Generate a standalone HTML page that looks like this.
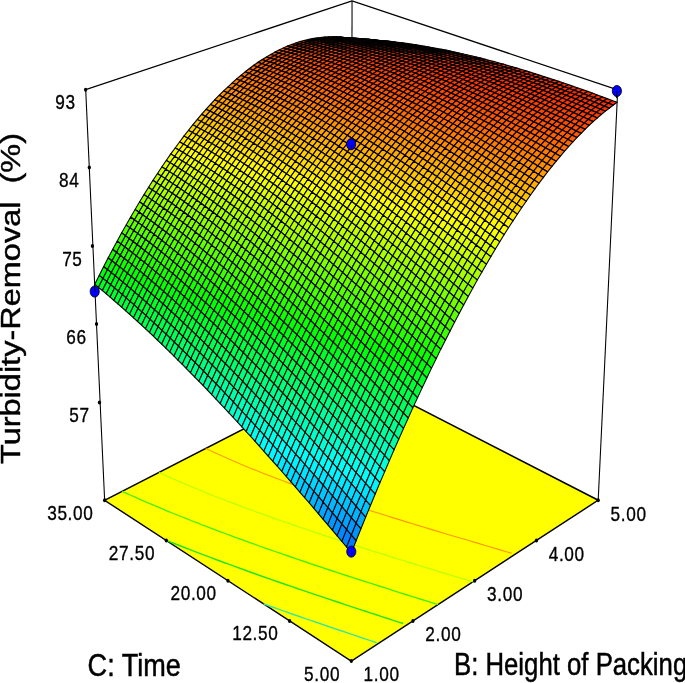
<!DOCTYPE html>
<html><head><meta charset="utf-8"><title>Response surface</title><style>html,body{margin:0;padding:0;background:#fff}svg{display:block}</style></head><body>
<svg width="685" height="683" viewBox="0 0 685 683">
<rect width="685" height="683" fill="#fff"/>
<g transform="scale(0.82 1)">
<polygon points="127.6,500.3 428.4,661.1 729.5,500.2 428.9,373.6" fill="#ffff00" stroke="#000" stroke-width="1.5" stroke-linejoin="miter"/>
<polyline points="321.4,603.9 328.5,606 334.8,607.8 341,609.6 347.2,611.4 353.5,613.2 359.8,615 366.1,616.8 372.5,618.6 378.8,620.4 385.6,622.3 392.7,624.3 399.8,626.2 406.7,628.2 413.2,630 419.8,631.8 426.3,633.6 432.9,635.4 439.5,637.2 446.1,639.1 452.7,640.9 459.4,642.7" fill="none" stroke="#3ce696" stroke-width="1.5"/>
<polyline points="202.1,540.1 208.6,542.3 214.1,544 219.5,545.8 225.9,547.8 232.4,549.9 237.9,551.6 243.5,553.4 249.2,555.1 256.5,557.4 262.4,559.2 268.1,561 273.9,562.7 279.7,564.4 286.2,566.4 293.3,568.5 299.1,570.2 305,572 311,573.7 316.9,575.5 322.9,577.2 329.6,579.1 336.7,581.2 343.1,583 349.2,584.7 355.3,586.4 361.5,588.2 367.6,589.9 373.8,591.6 380.1,593.4 386.3,595.1 393,596.9 400,598.9 406.9,600.8 413.7,602.6 420.1,604.4 426.5,606.1 433,607.9 439.4,609.6 445.9,611.3 452.4,613.1 458.9,614.8 465.5,616.6 472,618.3 478.6,620.1 485.2,621.9 491.9,623.6" fill="none" stroke="#1ee61e" stroke-width="1.5"/>
<polyline points="148.9,491.3 153.7,493.1 160.1,495.5 164.9,497.2 171.4,499.6 176.3,501.4 181.3,503.1 188,505.4 193,507.2 198.8,509.2 204.9,511.3 210.1,513 216,515 222.2,517 227.5,518.7 232.8,520.5 239.9,522.7 245.3,524.5 250.7,526.2 256.3,527.9 263.4,530.1 268.9,531.8 274.5,533.5 280.1,535.2 286.8,537.3 293.2,539.2 298.9,540.9 304.6,542.6 310.3,544.2 316.2,546 323.4,548.1 329.6,549.8 335.5,551.5 341.4,553.2 347.3,554.9 353.2,556.5 359.2,558.2 365.9,560.1 372.9,562 379.3,563.8 385.4,565.5 391.5,567.1 397.6,568.8 403.8,570.5 410,572.1 416.2,573.8 422.4,575.5 428.7,577.1 435,578.8 441.7,580.6 448.5,582.4 455.3,584.2 462.1,586 468.9,587.7 475.3,589.4 481.7,591.1 488.2,592.8 494.7,594.5 501.2,596.1 507.7,597.8 514.3,599.5 520.9,601.2 527.5,602.9 534.1,604.6" fill="none" stroke="#3cf000" stroke-width="1.3"/>
<polyline points="193.8,472.5 200,474.8 204.8,476.5 211.1,478.9 216,480.6 222.5,482.9 227.4,484.6 232.5,486.4 239,488.6 244,490.3 250.5,492.4 255.9,494.2 261.1,495.9 267.5,498 273.3,499.8 278.5,501.5 283.9,503.1 291,505.3 296.4,507 301.8,508.7 307.3,510.3 314.6,512.5 320.1,514.1 325.7,515.8 331.3,517.4 337.1,519.1 344.4,521.2 350.1,522.8 355.8,524.4 361.6,526.1 367.4,527.7 373.2,529.3 380,531.2 386.8,533.1 392.8,534.7 398.7,536.3 404.6,537.9 410.6,539.5 416.6,541.1 422.7,542.7 428.7,544.3 434.9,545.9 441.6,547.7 448.4,549.4 455.1,551.2 461.5,552.8 467.7,554.4 474,556 480.2,557.6 486.5,559.2 492.8,560.8 499.1,562.4 505.5,564.1 511.9,565.7 518.3,567.3 524.7,568.9 531.1,570.5 537.6,572.1 544,573.7 550.5,575.3 557.1,577 563.6,578.6 570.1,580.2 576.7,581.9" fill="none" stroke="#b4ff00" stroke-width="1.1"/>
<polyline points="250.9,448.4 256.9,450.8 261.5,452.5 267.6,454.8 272.2,456.6 278.5,458.8 283.3,460.5 289.7,462.8 294.5,464.5 301.1,466.7 306.1,468.4 312.7,470.6 317.8,472.2 322.9,473.9 329.8,476.1 335,477.7 340.2,479.3 347.2,481.5 352.5,483.1 357.9,484.7 363.3,486.3 370.5,488.4 376,490 381.5,491.6 387,493.1 393.3,494.9 400.1,496.8 405.7,498.4 411.4,499.9 417.1,501.5 422.9,503 428.8,504.6 435.8,506.5 442.2,508.2 448.1,509.7 454,511.2 459.9,512.8 465.8,514.3 471.8,515.8 477.8,517.4 483.8,518.9 489.9,520.4 496.4,522.1 503,523.7 509.6,525.4 516.1,527 522.5,528.6 528.7,530.1 534.9,531.6 541.2,533.2 547.4,534.7 553.7,536.2 560,537.8 566.3,539.3 572.7,540.8 579,542.4 585.4,543.9 591.8,545.5 598.2,547 604.6,548.6 611.1,550.1 617.5,551.7 624,553.2" fill="none" stroke="#ff9600" stroke-width="1.1"/>
<line x1="127.6" y1="500.3" x2="104.5" y2="89.6" stroke="#000" stroke-width="1.3"/>
<line x1="729.5" y1="500.2" x2="753.3" y2="89.9" stroke="#000" stroke-width="1.3"/>
<line x1="428.9" y1="373.6" x2="429.3" y2="0.8" stroke="#000" stroke-width="1.3"/>
<line x1="104.5" y1="89.6" x2="429.3" y2="0.8" stroke="#000" stroke-width="1.3"/>
<line x1="753.3" y1="89.9" x2="429.3" y2="0.8" stroke="#000" stroke-width="1.3"/>
<g stroke="#000" stroke-width="1.25" stroke-linejoin="round">
<path d="M429.3 38.4L434 39L429.3 38.9L424.5 38.2Z" fill="#ff7900"/>
<path d="M434 38.6L438.8 39.2L434 39L429.3 38.4Z" fill="#ff7500"/>
<path d="M424.5 37.8L429.3 38.4L424.5 38.2L419.7 37.6Z" fill="#ff7300"/>
<path d="M438.9 38.8L443.6 39.4L438.8 39.2L434 38.6Z" fill="#ff7200"/>
<path d="M429.3 38.1L434 38.6L429.3 38.4L424.5 37.8Z" fill="#ff6f00"/>
<path d="M419.6 37.5L424.5 37.8L419.7 37.6L414.9 37.2Z" fill="#ff6d00"/>
<path d="M443.7 39.1L448.5 39.6L443.6 39.4L438.9 38.8Z" fill="#ff6e00"/>
<path d="M434.1 38.4L438.9 38.8L434 38.6L429.3 38.1Z" fill="#ff6c00"/>
<path d="M424.4 37.8L429.3 38.1L424.5 37.8L419.6 37.5Z" fill="#ff6a00"/>
<path d="M414.8 37.2L419.6 37.5L414.9 37.2L410 36.9Z" fill="#ff6800"/>
<path d="M448.5 39.4L453.3 39.8L448.5 39.6L443.7 39.1Z" fill="#ff6b00"/>
<path d="M438.9 38.7L443.7 39.1L438.9 38.8L434.1 38.4Z" fill="#ff6900"/>
<path d="M429.3 38.1L434.1 38.4L429.3 38.1L424.4 37.8Z" fill="#ff6700"/>
<path d="M419.6 37.6L424.4 37.8L419.6 37.5L414.8 37.2Z" fill="#ff6500"/>
<path d="M410 37.2L414.8 37.2L410 36.9L405.2 36.8Z" fill="#ff6400"/>
<path d="M453.4 39.7L458.2 40.1L453.3 39.8L448.5 39.4Z" fill="#ff6800"/>
<path d="M443.7 39L448.5 39.4L443.7 39.1L438.9 38.7Z" fill="#ff6500"/>
<path d="M434.1 38.5L438.9 38.7L434.1 38.4L429.3 38.1Z" fill="#ff6400"/>
<path d="M424.4 38L429.3 38.1L424.4 37.8L419.6 37.6Z" fill="#ff6200"/>
<path d="M414.7 37.6L419.6 37.6L414.8 37.2L410 37.2Z" fill="#ff6100"/>
<path d="M405.1 37.3L410 37.2L405.2 36.8L400.3 36.9Z" fill="#ff6000"/>
<path d="M458.3 40.1L463.1 40.5L458.2 40.1L453.4 39.7Z" fill="#ff6400"/>
<path d="M448.6 39.4L453.4 39.7L448.5 39.4L443.7 39Z" fill="#ff6200"/>
<path d="M438.9 38.9L443.7 39L438.9 38.7L434.1 38.5Z" fill="#ff6000"/>
<path d="M429.2 38.4L434.1 38.5L429.3 38.1L424.4 38Z" fill="#ff5f00"/>
<path d="M419.6 38L424.4 38L419.6 37.6L414.7 37.6Z" fill="#ff5e00"/>
<path d="M409.9 37.7L414.7 37.6L410 37.2L405.1 37.3Z" fill="#ff5d00"/>
<path d="M400.2 37.5L405.1 37.3L400.3 36.9L395.4 37.1Z" fill="#ff5c00"/>
<path d="M463.2 40.5L468 40.8L463.1 40.5L458.3 40.1Z" fill="#ff6100"/>
<path d="M453.5 39.9L458.3 40.1L453.4 39.7L448.6 39.4Z" fill="#ff5f00"/>
<path d="M443.8 39.3L448.6 39.4L443.7 39L438.9 38.9Z" fill="#ff5d00"/>
<path d="M434.1 38.9L438.9 38.9L434.1 38.5L429.2 38.4Z" fill="#ff5c00"/>
<path d="M424.4 38.5L429.2 38.4L424.4 38L419.6 38Z" fill="#ff5b00"/>
<path d="M414.7 38.2L419.6 38L414.7 37.6L409.9 37.7Z" fill="#ff5a00"/>
<path d="M405 38L409.9 37.7L405.1 37.3L400.2 37.5Z" fill="#ff5900"/>
<path d="M395.3 38L400.2 37.5L395.4 37.1L390.5 37.5Z" fill="#ff5900"/>
<path d="M468.1 40.9L472.9 41.2L468 40.8L463.2 40.5Z" fill="#ff5e00"/>
<path d="M458.4 40.3L463.2 40.5L458.3 40.1L453.5 39.9Z" fill="#ff5c00"/>
<path d="M448.7 39.8L453.5 39.9L448.6 39.4L443.8 39.3Z" fill="#ff5b00"/>
<path d="M439 39.4L443.8 39.3L438.9 38.9L434.1 38.9Z" fill="#ff5900"/>
<path d="M429.2 39L434.1 38.9L429.2 38.4L424.4 38.5Z" fill="#ff5800"/>
<path d="M419.5 38.7L424.4 38.5L419.6 38L414.7 38.2Z" fill="#ff5700"/>
<path d="M409.8 38.6L414.7 38.2L409.9 37.7L405 38Z" fill="#ff5600"/>
<path d="M400.1 38.5L405 38L400.2 37.5L395.3 38Z" fill="#ff5600"/>
<path d="M390.3 38.5L395.3 38L390.5 37.5L385.5 38Z" fill="#ff5600"/>
<path d="M473.1 41.4L477.9 41.6L472.9 41.2L468.1 40.9Z" fill="#ff5b00"/>
<path d="M463.4 40.8L468.1 40.9L463.2 40.5L458.4 40.3Z" fill="#ff5900"/>
<path d="M453.6 40.3L458.4 40.3L453.5 39.9L448.7 39.8Z" fill="#ff5800"/>
<path d="M443.9 39.9L448.7 39.8L443.8 39.3L439 39.4Z" fill="#ff5600"/>
<path d="M434.1 39.6L439 39.4L434.1 38.9L429.2 39Z" fill="#ff5500"/>
<path d="M424.4 39.3L429.2 39L424.4 38.5L419.5 38.7Z" fill="#ff5400"/>
<path d="M414.6 39.2L419.5 38.7L414.7 38.2L409.8 38.6Z" fill="#ff5400"/>
<path d="M404.9 39.1L409.8 38.6L405 38L400.1 38.5Z" fill="#ff5300"/>
<path d="M395.1 39.1L400.1 38.5L395.3 38L390.3 38.5Z" fill="#ff5300"/>
<path d="M385.4 39.3L390.3 38.5L385.5 38L380.6 38.7Z" fill="#ff5400"/>
<path d="M478.1 41.9L482.8 42.1L477.9 41.6L473.1 41.4Z" fill="#ff5900"/>
<path d="M468.3 41.3L473.1 41.4L468.1 40.9L463.4 40.8Z" fill="#ff5700"/>
<path d="M458.5 40.9L463.4 40.8L458.4 40.3L453.6 40.3Z" fill="#ff5500"/>
<path d="M448.8 40.5L453.6 40.3L448.7 39.8L443.9 39.9Z" fill="#ff5400"/>
<path d="M439 40.1L443.9 39.9L439 39.4L434.1 39.6Z" fill="#ff5300"/>
<path d="M429.2 39.9L434.1 39.6L429.2 39L424.4 39.3Z" fill="#ff5200"/>
<path d="M419.5 39.8L424.4 39.3L419.5 38.7L414.6 39.2Z" fill="#ff5100"/>
<path d="M380.4 40.2L385.4 39.3L380.6 38.7L375.6 39.5Z" fill="#ff5200"/>
<path d="M409.7 39.7L414.6 39.2L409.8 38.6L404.9 39.1Z" fill="#ff5100"/>
<path d="M390.2 39.9L395.1 39.1L390.3 38.5L385.4 39.3Z" fill="#ff5100"/>
<path d="M399.9 39.8L404.9 39.1L400.1 38.5L395.1 39.1Z" fill="#ff5100"/>
<path d="M483.1 42.5L487.8 42.6L482.8 42.1L478.1 41.9Z" fill="#ff5600"/>
<path d="M473.3 41.9L478.1 41.9L473.1 41.4L468.3 41.3Z" fill="#ff5400"/>
<path d="M463.5 41.4L468.3 41.3L463.4 40.8L458.5 40.9Z" fill="#ff5300"/>
<path d="M453.7 41.1L458.5 40.9L453.6 40.3L448.8 40.5Z" fill="#ff5100"/>
<path d="M443.9 40.8L448.8 40.5L443.9 39.9L439 40.1Z" fill="#ff5000"/>
<path d="M434.1 40.5L439 40.1L434.1 39.6L429.2 39.9Z" fill="#ff4f00"/>
<path d="M375.4 41.2L380.4 40.2L375.6 39.5L370.6 40.5Z" fill="#ff5000"/>
<path d="M424.3 40.4L429.2 39.9L424.4 39.3L419.5 39.8Z" fill="#ff4f00"/>
<path d="M385.2 40.9L390.2 39.9L385.4 39.3L380.4 40.2Z" fill="#ff5000"/>
<path d="M414.5 40.4L419.5 39.8L414.6 39.2L409.7 39.7Z" fill="#ff4f00"/>
<path d="M395 40.6L399.9 39.8L395.1 39.1L390.2 39.9Z" fill="#ff4f00"/>
<path d="M404.8 40.5L409.7 39.7L404.9 39.1L399.9 39.8Z" fill="#ff4f00"/>
<path d="M488.1 43.1L492.8 43.1L487.8 42.6L483.1 42.5Z" fill="#ff5300"/>
<path d="M478.3 42.5L483.1 42.5L478.1 41.9L473.3 41.9Z" fill="#ff5200"/>
<path d="M468.5 42.1L473.3 41.9L468.3 41.3L463.5 41.4Z" fill="#ff5000"/>
<path d="M458.7 41.7L463.5 41.4L458.5 40.9L453.7 41.1Z" fill="#ff4f00"/>
<path d="M448.9 41.4L453.7 41.1L448.8 40.5L443.9 40.8Z" fill="#ff4e00"/>
<path d="M370.4 42.5L375.4 41.2L370.6 40.5L365.6 41.7Z" fill="#ff5000"/>
<path d="M439 41.2L443.9 40.8L439 40.1L434.1 40.5Z" fill="#ff4d00"/>
<path d="M380.2 42L385.2 40.9L380.4 40.2L375.4 41.2Z" fill="#ff4e00"/>
<path d="M429.2 41.1L434.1 40.5L429.2 39.9L424.3 40.4Z" fill="#ff4d00"/>
<path d="M390 41.6L395 40.6L390.2 39.9L385.2 40.9Z" fill="#ff4d00"/>
<path d="M419.4 41.1L424.3 40.4L419.5 39.8L414.5 40.4Z" fill="#ff4c00"/>
<path d="M399.8 41.4L404.8 40.5L399.9 39.8L395 40.6Z" fill="#ff4d00"/>
<path d="M409.6 41.2L414.5 40.4L409.7 39.7L404.8 40.5Z" fill="#ff4d00"/>
<path d="M493.1 43.7L497.9 43.7L492.8 43.1L488.1 43.1Z" fill="#ff5100"/>
<path d="M483.3 43.2L488.1 43.1L483.1 42.5L478.3 42.5Z" fill="#ff4f00"/>
<path d="M473.5 42.7L478.3 42.5L473.3 41.9L468.5 42.1Z" fill="#ff4e00"/>
<path d="M365.3 43.8L370.4 42.5L365.6 41.7L360.6 43Z" fill="#ff4f00"/>
<path d="M463.6 42.4L468.5 42.1L463.5 41.4L458.7 41.7Z" fill="#ff4c00"/>
<path d="M453.8 42.1L458.7 41.7L453.7 41.1L448.9 41.4Z" fill="#ff4c00"/>
<path d="M375.2 43.3L380.2 42L375.4 41.2L370.4 42.5Z" fill="#ff4e00"/>
<path d="M444 41.9L448.9 41.4L443.9 40.8L439 41.2Z" fill="#ff4b00"/>
<path d="M385 42.8L390 41.6L385.2 40.9L380.2 42Z" fill="#ff4c00"/>
<path d="M434.1 41.8L439 41.2L434.1 40.5L429.2 41.1Z" fill="#ff4a00"/>
<path d="M394.8 42.4L399.8 41.4L395 40.6L390 41.6Z" fill="#ff4b00"/>
<path d="M424.3 41.8L429.2 41.1L424.3 40.4L419.4 41.1Z" fill="#ff4a00"/>
<path d="M404.7 42.1L409.6 41.2L404.8 40.5L399.8 41.4Z" fill="#ff4b00"/>
<path d="M414.5 41.9L419.4 41.1L414.5 40.4L409.6 41.2Z" fill="#ff4a00"/>
<path d="M498.2 44.3L502.9 44.3L497.9 43.7L493.1 43.7Z" fill="#ff4e00"/>
<path d="M488.3 43.8L493.1 43.7L488.1 43.1L483.3 43.2Z" fill="#ff4d00"/>
<path d="M360.3 45.4L365.3 43.8L360.6 43L355.5 44.5Z" fill="#ff4f00"/>
<path d="M478.5 43.4L483.3 43.2L478.3 42.5L473.5 42.7Z" fill="#ff4b00"/>
<path d="M370.1 44.7L375.2 43.3L370.4 42.5L365.3 43.8Z" fill="#ff4d00"/>
<path d="M468.6 43.1L473.5 42.7L468.5 42.1L463.6 42.4Z" fill="#ff4a00"/>
<path d="M380 44.1L385 42.8L380.2 42L375.2 43.3Z" fill="#ff4c00"/>
<path d="M458.8 42.8L463.6 42.4L458.7 41.7L453.8 42.1Z" fill="#ff4900"/>
<path d="M389.8 43.6L394.8 42.4L390 41.6L385 42.8Z" fill="#ff4b00"/>
<path d="M448.9 42.7L453.8 42.1L448.9 41.4L444 41.9Z" fill="#ff4900"/>
<path d="M399.7 43.2L404.7 42.1L399.8 41.4L394.8 42.4Z" fill="#ff4a00"/>
<path d="M439.1 42.6L444 41.9L439 41.2L434.1 41.8Z" fill="#ff4800"/>
<path d="M409.5 42.9L414.5 41.9L409.6 41.2L404.7 42.1Z" fill="#ff4900"/>
<path d="M429.2 42.6L434.1 41.8L429.2 41.1L424.3 41.8Z" fill="#ff4800"/>
<path d="M419.4 42.7L424.3 41.8L419.4 41.1L414.5 41.9Z" fill="#ff4800"/>
<path d="M503.2 45L508 44.9L502.9 44.3L498.2 44.3Z" fill="#ff4c00"/>
<path d="M355.2 47.1L360.3 45.4L355.5 44.5L350.5 46.2Z" fill="#ff5000"/>
<path d="M493.4 44.5L498.2 44.3L493.1 43.7L488.3 43.8Z" fill="#ff4b00"/>
<path d="M365.1 46.3L370.1 44.7L365.3 43.8L360.3 45.4Z" fill="#ff4e00"/>
<path d="M483.5 44.1L488.3 43.8L483.3 43.2L478.5 43.4Z" fill="#ff4900"/>
<path d="M374.9 45.6L380 44.1L375.2 43.3L370.1 44.7Z" fill="#ff4c00"/>
<path d="M473.6 43.8L478.5 43.4L473.5 42.7L468.6 43.1Z" fill="#ff4800"/>
<path d="M384.8 45L389.8 43.6L385 42.8L380 44.1Z" fill="#ff4a00"/>
<path d="M463.8 43.6L468.6 43.1L463.6 42.4L458.8 42.8Z" fill="#ff4700"/>
<path d="M394.7 44.5L399.7 43.2L394.8 42.4L389.8 43.6Z" fill="#ff4900"/>
<path d="M453.9 43.5L458.8 42.8L453.8 42.1L448.9 42.7Z" fill="#ff4700"/>
<path d="M404.5 44.1L409.5 42.9L404.7 42.1L399.7 43.2Z" fill="#ff4800"/>
<path d="M444 43.4L448.9 42.7L444 41.9L439.1 42.6Z" fill="#ff4600"/>
<path d="M414.4 43.8L419.4 42.7L414.5 41.9L409.5 42.9Z" fill="#ff4700"/>
<path d="M434.2 43.4L439.1 42.6L434.1 41.8L429.2 42.6Z" fill="#ff4600"/>
<path d="M424.3 43.6L429.2 42.6L424.3 41.8L419.4 42.7Z" fill="#ff4700"/>
<path d="M350.1 49L355.2 47.1L350.5 46.2L345.4 48Z" fill="#ff5100"/>
<path d="M360 48.1L365.1 46.3L360.3 45.4L355.2 47.1Z" fill="#ff4e00"/>
<path d="M508.3 45.7L513.1 45.6L508 44.9L503.2 45Z" fill="#ff4a00"/>
<path d="M369.9 47.3L374.9 45.6L370.1 44.7L365.1 46.3Z" fill="#ff4c00"/>
<path d="M498.4 45.3L503.2 45L498.2 44.3L493.4 44.5Z" fill="#ff4800"/>
<path d="M379.8 46.5L384.8 45L380 44.1L374.9 45.6Z" fill="#ff4a00"/>
<path d="M488.6 44.9L493.4 44.5L488.3 43.8L483.5 44.1Z" fill="#ff4700"/>
<path d="M389.7 45.9L394.7 44.5L389.8 43.6L384.8 45Z" fill="#ff4800"/>
<path d="M478.7 44.6L483.5 44.1L478.5 43.4L473.6 43.8Z" fill="#ff4600"/>
<path d="M468.8 44.4L473.6 43.8L468.6 43.1L463.8 43.6Z" fill="#ff4500"/>
<path d="M399.5 45.4L404.5 44.1L399.7 43.2L394.7 44.5Z" fill="#ff4700"/>
<path d="M458.9 44.3L463.8 43.6L458.8 42.8L453.9 43.5Z" fill="#ff4500"/>
<path d="M409.4 45L414.4 43.8L409.5 42.9L404.5 44.1Z" fill="#ff4600"/>
<path d="M449 44.2L453.9 43.5L448.9 42.7L444 43.4Z" fill="#ff4400"/>
<path d="M419.3 44.7L424.3 43.6L419.4 42.7L414.4 43.8Z" fill="#ff4500"/>
<path d="M439.1 44.3L444 43.4L439.1 42.6L434.2 43.4Z" fill="#ff4400"/>
<path d="M429.2 44.4L434.2 43.4L429.2 42.6L424.3 43.6Z" fill="#ff4500"/>
<path d="M345 51L350.1 49L345.4 48L340.3 50Z" fill="#ff5200"/>
<path d="M354.9 50L360 48.1L355.2 47.1L350.1 49Z" fill="#ff4f00"/>
<path d="M364.8 49.1L369.9 47.3L365.1 46.3L360 48.1Z" fill="#ff4d00"/>
<path d="M513.4 46.5L518.2 46.3L513.1 45.6L508.3 45.7Z" fill="#ff4800"/>
<path d="M374.7 48.3L379.8 46.5L374.9 45.6L369.9 47.3Z" fill="#ff4b00"/>
<path d="M503.5 46L508.3 45.7L503.2 45L498.4 45.3Z" fill="#ff4600"/>
<path d="M384.6 47.5L389.7 45.9L384.8 45L379.8 46.5Z" fill="#ff4900"/>
<path d="M493.6 45.7L498.4 45.3L493.4 44.5L488.6 44.9Z" fill="#ff4500"/>
<path d="M394.5 46.9L399.5 45.4L394.7 44.5L389.7 45.9Z" fill="#ff4700"/>
<path d="M483.7 45.4L488.6 44.9L483.5 44.1L478.7 44.6Z" fill="#ff4400"/>
<path d="M404.4 46.4L409.4 45L404.5 44.1L399.5 45.4Z" fill="#ff4600"/>
<path d="M473.8 45.2L478.7 44.6L473.6 43.8L468.8 44.4Z" fill="#ff4300"/>
<path d="M414.4 45.9L419.3 44.7L414.4 43.8L409.4 45Z" fill="#ff4400"/>
<path d="M463.9 45.1L468.8 44.4L463.8 43.6L458.9 44.3Z" fill="#ff4300"/>
<path d="M424.3 45.6L429.2 44.4L424.3 43.6L419.3 44.7Z" fill="#ff4400"/>
<path d="M454 45.1L458.9 44.3L453.9 43.5L449 44.2Z" fill="#ff4300"/>
<path d="M434.2 45.3L439.1 44.3L434.2 43.4L429.2 44.4Z" fill="#ff4300"/>
<path d="M444.1 45.2L449 44.2L444 43.4L439.1 44.3Z" fill="#ff4300"/>
<path d="M339.9 53.2L345 51L340.3 50L335.1 52.2Z" fill="#ff5400"/>
<path d="M349.8 52.1L354.9 50L350.1 49L345 51Z" fill="#ff5100"/>
<path d="M359.7 51.1L364.8 49.1L360 48.1L354.9 50Z" fill="#ff4e00"/>
<path d="M369.7 50.1L374.7 48.3L369.9 47.3L364.8 49.1Z" fill="#ff4b00"/>
<path d="M518.6 47.3L523.3 47L518.2 46.3L513.4 46.5Z" fill="#ff4600"/>
<path d="M379.6 49.3L384.6 47.5L379.8 46.5L374.7 48.3Z" fill="#ff4900"/>
<path d="M508.7 46.9L513.4 46.5L508.3 45.7L503.5 46Z" fill="#ff4400"/>
<path d="M389.5 48.5L394.5 46.9L389.7 45.9L384.6 47.5Z" fill="#ff4700"/>
<path d="M498.7 46.5L503.5 46L498.4 45.3L493.6 45.7Z" fill="#ff4300"/>
<path d="M399.4 47.9L404.4 46.4L399.5 45.4L394.5 46.9Z" fill="#ff4600"/>
<path d="M488.8 46.3L493.6 45.7L488.6 44.9L483.7 45.4Z" fill="#ff4200"/>
<path d="M409.4 47.4L414.4 45.9L409.4 45L404.4 46.4Z" fill="#ff4400"/>
<path d="M478.9 46.1L483.7 45.4L478.7 44.6L473.8 45.2Z" fill="#ff4200"/>
<path d="M419.3 46.9L424.3 45.6L419.3 44.7L414.4 45.9Z" fill="#ff4300"/>
<path d="M468.9 46L473.8 45.2L468.8 44.4L463.9 45.1Z" fill="#ff4100"/>
<path d="M429.2 46.5L434.2 45.3L429.2 44.4L424.3 45.6Z" fill="#ff4200"/>
<path d="M459 46L463.9 45.1L458.9 44.3L454 45.1Z" fill="#ff4100"/>
<path d="M439.1 46.3L444.1 45.2L439.1 44.3L434.2 45.3Z" fill="#ff4100"/>
<path d="M449.1 46.1L454 45.1L449 44.2L444.1 45.2Z" fill="#ff4100"/>
<path d="M334.8 55.6L339.9 53.2L335.1 52.2L330 54.5Z" fill="#ff5600"/>
<path d="M344.7 54.4L349.8 52.1L345 51L339.9 53.2Z" fill="#ff5300"/>
<path d="M354.6 53.2L359.7 51.1L354.9 50L349.8 52.1Z" fill="#ff5000"/>
<path d="M364.6 52.2L369.7 50.1L364.8 49.1L359.7 51.1Z" fill="#ff4d00"/>
<path d="M374.5 51.2L379.6 49.3L374.7 48.3L369.7 50.1Z" fill="#ff4a00"/>
<path d="M384.4 50.4L389.5 48.5L384.6 47.5L379.6 49.3Z" fill="#ff4800"/>
<path d="M523.7 48.1L528.5 47.8L523.3 47L518.6 47.3Z" fill="#ff4400"/>
<path d="M394.4 49.6L399.4 47.9L394.5 46.9L389.5 48.5Z" fill="#ff4600"/>
<path d="M513.8 47.7L518.6 47.3L513.4 46.5L508.7 46.9Z" fill="#ff4200"/>
<path d="M404.3 48.9L409.4 47.4L404.4 46.4L399.4 47.9Z" fill="#ff4400"/>
<path d="M503.8 47.4L508.7 46.9L503.5 46L498.7 46.5Z" fill="#ff4100"/>
<path d="M414.3 48.4L419.3 46.9L414.4 45.9L409.4 47.4Z" fill="#ff4300"/>
<path d="M493.9 47.1L498.7 46.5L493.6 45.7L488.8 46.3Z" fill="#ff4000"/>
<path d="M424.2 47.9L429.2 46.5L424.3 45.6L419.3 46.9Z" fill="#ff4200"/>
<path d="M483.9 47L488.8 46.3L483.7 45.4L478.9 46.1Z" fill="#ff4000"/>
<path d="M434.2 47.5L439.1 46.3L434.2 45.3L429.2 46.5Z" fill="#ff4100"/>
<path d="M474 46.9L478.9 46.1L473.8 45.2L468.9 46Z" fill="#ff4000"/>
<path d="M444.1 47.3L449.1 46.1L444.1 45.2L439.1 46.3Z" fill="#ff4000"/>
<path d="M464 47L468.9 46L463.9 45.1L459 46Z" fill="#ff3f00"/>
<path d="M454.1 47.1L459 46L454 45.1L449.1 46.1Z" fill="#ff4000"/>
<path d="M329.6 58.1L334.8 55.6L330 54.5L324.9 57Z" fill="#ff5900"/>
<path d="M339.6 56.8L344.7 54.4L339.9 53.2L334.8 55.6Z" fill="#ff5500"/>
<path d="M349.5 55.5L354.6 53.2L349.8 52.1L344.7 54.4Z" fill="#ff5200"/>
<path d="M359.5 54.3L364.6 52.2L359.7 51.1L354.6 53.2Z" fill="#ff4f00"/>
<path d="M369.4 53.3L374.5 51.2L369.7 50.1L364.6 52.2Z" fill="#ff4c00"/>
<path d="M379.4 52.3L384.4 50.4L379.6 49.3L374.5 51.2Z" fill="#ff4900"/>
<path d="M389.3 51.5L394.4 49.6L389.5 48.5L384.4 50.4Z" fill="#ff4700"/>
<path d="M528.9 48.9L533.7 48.6L528.5 47.8L523.7 48.1Z" fill="#ff4200"/>
<path d="M399.3 50.7L404.3 48.9L399.4 47.9L394.4 49.6Z" fill="#ff4500"/>
<path d="M518.9 48.6L523.7 48.1L518.6 47.3L513.8 47.7Z" fill="#ff4100"/>
<path d="M409.3 50L414.3 48.4L409.4 47.4L404.3 48.9Z" fill="#ff4300"/>
<path d="M509 48.3L513.8 47.7L508.7 46.9L503.8 47.4Z" fill="#ff4000"/>
<path d="M419.2 49.4L424.2 47.9L419.3 46.9L414.3 48.4Z" fill="#ff4100"/>
<path d="M499 48.1L503.8 47.4L498.7 46.5L493.9 47.1Z" fill="#ff3f00"/>
<path d="M429.2 49L434.2 47.5L429.2 46.5L424.2 47.9Z" fill="#ff4000"/>
<path d="M489 47.9L493.9 47.1L488.8 46.3L483.9 47Z" fill="#ff3e00"/>
<path d="M439.2 48.6L444.1 47.3L439.1 46.3L434.2 47.5Z" fill="#ff3f00"/>
<path d="M479.1 47.9L483.9 47L478.9 46.1L474 46.9Z" fill="#ff3e00"/>
<path d="M449.2 48.3L454.1 47.1L449.1 46.1L444.1 47.3Z" fill="#ff3f00"/>
<path d="M469.1 47.9L474 46.9L468.9 46L464 47Z" fill="#ff3e00"/>
<path d="M459.1 48.1L464 47L459 46L454.1 47.1Z" fill="#ff3e00"/>
<path d="M324.5 60.9L329.6 58.1L324.9 57L319.7 59.6Z" fill="#ff5c00"/>
<path d="M334.4 59.4L339.6 56.8L334.8 55.6L329.6 58.1Z" fill="#ff5800"/>
<path d="M344.4 58L349.5 55.5L344.7 54.4L339.6 56.8Z" fill="#ff5400"/>
<path d="M354.3 56.7L359.5 54.3L354.6 53.2L349.5 55.5Z" fill="#ff5100"/>
<path d="M364.3 55.5L369.4 53.3L364.6 52.2L359.5 54.3Z" fill="#ff4e00"/>
<path d="M374.3 54.5L379.4 52.3L374.5 51.2L369.4 53.3Z" fill="#ff4b00"/>
<path d="M384.3 53.5L389.3 51.5L384.4 50.4L379.4 52.3Z" fill="#ff4800"/>
<path d="M394.2 52.6L399.3 50.7L394.4 49.6L389.3 51.5Z" fill="#ff4600"/>
<path d="M404.2 51.8L409.3 50L404.3 48.9L399.3 50.7Z" fill="#ff4400"/>
<path d="M534.1 49.8L538.9 49.4L533.7 48.6L528.9 48.9Z" fill="#ff4000"/>
<path d="M414.2 51.1L419.2 49.4L414.3 48.4L409.3 50Z" fill="#ff4200"/>
<path d="M524.1 49.5L528.9 48.9L523.7 48.1L518.9 48.6Z" fill="#ff3f00"/>
<path d="M424.2 50.6L429.2 49L424.2 47.9L419.2 49.4Z" fill="#ff4000"/>
<path d="M514.1 49.2L518.9 48.6L513.8 47.7L509 48.3Z" fill="#ff3e00"/>
<path d="M504.1 49L509 48.3L503.8 47.4L499 48.1Z" fill="#ff3d00"/>
<path d="M434.2 50.1L439.2 48.6L434.2 47.5L429.2 49Z" fill="#ff3f00"/>
<path d="M494.2 48.9L499 48.1L493.9 47.1L489 47.9Z" fill="#ff3d00"/>
<path d="M444.2 49.6L449.2 48.3L444.1 47.3L439.2 48.6Z" fill="#ff3e00"/>
<path d="M484.2 48.9L489 47.9L483.9 47L479.1 47.9Z" fill="#ff3c00"/>
<path d="M454.2 49.3L459.1 48.1L454.1 47.1L449.2 48.3Z" fill="#ff3d00"/>
<path d="M474.2 48.9L479.1 47.9L474 46.9L469.1 47.9Z" fill="#ff3c00"/>
<path d="M464.2 49.1L469.1 47.9L464 47L459.1 48.1Z" fill="#ff3d00"/>
<path d="M319.3 63.7L324.5 60.9L319.7 59.6L314.5 62.4Z" fill="#ff6000"/>
<path d="M329.2 62.1L334.4 59.4L329.6 58.1L324.5 60.9Z" fill="#ff5c00"/>
<path d="M339.2 60.6L344.4 58L339.6 56.8L334.4 59.4Z" fill="#ff5800"/>
<path d="M349.2 59.2L354.3 56.7L349.5 55.5L344.4 58Z" fill="#ff5400"/>
<path d="M359.2 58L364.3 55.5L359.5 54.3L354.3 56.7Z" fill="#ff5000"/>
<path d="M369.2 56.8L374.3 54.5L369.4 53.3L364.3 55.5Z" fill="#ff4d00"/>
<path d="M379.2 55.7L384.3 53.5L379.4 52.3L374.3 54.5Z" fill="#ff4a00"/>
<path d="M389.2 54.7L394.2 52.6L389.3 51.5L384.3 53.5Z" fill="#ff4700"/>
<path d="M399.2 53.8L404.2 51.8L399.3 50.7L394.2 52.6Z" fill="#ff4500"/>
<path d="M409.2 53L414.2 51.1L409.3 50L404.2 51.8Z" fill="#ff4300"/>
<path d="M539.3 50.7L544.1 50.2L538.9 49.4L534.1 49.8Z" fill="#ff3e00"/>
<path d="M314.1 66.8L319.3 63.7L314.5 62.4L309.3 65.4Z" fill="#ff6400"/>
<path d="M419.2 52.3L424.2 50.6L419.2 49.4L414.2 51.1Z" fill="#ff4100"/>
<path d="M529.3 50.4L534.1 49.8L528.9 48.9L524.1 49.5Z" fill="#ff3d00"/>
<path d="M429.2 51.7L434.2 50.1L429.2 49L424.2 50.6Z" fill="#ff3f00"/>
<path d="M519.3 50.2L524.1 49.5L518.9 48.6L514.1 49.2Z" fill="#ff3c00"/>
<path d="M439.2 51.2L444.2 49.6L439.2 48.6L434.2 50.1Z" fill="#ff3e00"/>
<path d="M509.3 50L514.1 49.2L509 48.3L504.1 49Z" fill="#ff3c00"/>
<path d="M449.2 50.7L454.2 49.3L449.2 48.3L444.2 49.6Z" fill="#ff3d00"/>
<path d="M499.3 49.9L504.1 49L499 48.1L494.2 48.9Z" fill="#ff3b00"/>
<path d="M459.2 50.4L464.2 49.1L459.1 48.1L454.2 49.3Z" fill="#ff3c00"/>
<path d="M489.3 49.9L494.2 48.9L489 47.9L484.2 48.9Z" fill="#ff3b00"/>
<path d="M469.3 50.2L474.2 48.9L469.1 47.9L464.2 49.1Z" fill="#ff3b00"/>
<path d="M479.3 50L484.2 48.9L479.1 47.9L474.2 48.9Z" fill="#ff3b00"/>
<path d="M324.1 65L329.2 62.1L324.5 60.9L319.3 63.7Z" fill="#ff6000"/>
<path d="M334.1 63.4L339.2 60.6L334.4 59.4L329.2 62.1Z" fill="#ff5b00"/>
<path d="M344 61.9L349.2 59.2L344.4 58L339.2 60.6Z" fill="#ff5700"/>
<path d="M354 60.5L359.2 58L354.3 56.7L349.2 59.2Z" fill="#ff5300"/>
<path d="M364.1 59.2L369.2 56.8L364.3 55.5L359.2 58Z" fill="#ff4f00"/>
<path d="M374.1 58L379.2 55.7L374.3 54.5L369.2 56.8Z" fill="#ff4c00"/>
<path d="M384.1 56.9L389.2 54.7L384.3 53.5L379.2 55.7Z" fill="#ff4900"/>
<path d="M394.1 55.9L399.2 53.8L394.2 52.6L389.2 54.7Z" fill="#ff4600"/>
<path d="M308.9 70L314.1 66.8L309.3 65.4L304.1 68.6Z" fill="#ff6900"/>
<path d="M404.1 55L409.2 53L404.2 51.8L399.2 53.8Z" fill="#ff4400"/>
<path d="M414.2 54.2L419.2 52.3L414.2 51.1L409.2 53Z" fill="#ff4200"/>
<path d="M318.9 68.1L324.1 65L319.3 63.7L314.1 66.8Z" fill="#ff6400"/>
<path d="M424.2 53.5L429.2 51.7L424.2 50.6L419.2 52.3Z" fill="#ff4000"/>
<path d="M544.6 51.7L549.3 51.1L544.1 50.2L539.3 50.7Z" fill="#ff3d00"/>
<path d="M534.5 51.4L539.3 50.7L534.1 49.8L529.3 50.4Z" fill="#ff3c00"/>
<path d="M434.2 52.9L439.2 51.2L434.2 50.1L429.2 51.7Z" fill="#ff3e00"/>
<path d="M524.5 51.2L529.3 50.4L524.1 49.5L519.3 50.2Z" fill="#ff3b00"/>
<path d="M444.2 52.3L449.2 50.7L444.2 49.6L439.2 51.2Z" fill="#ff3d00"/>
<path d="M514.5 51L519.3 50.2L514.1 49.2L509.3 50Z" fill="#ff3a00"/>
<path d="M454.3 51.9L459.2 50.4L454.2 49.3L449.2 50.7Z" fill="#ff3c00"/>
<path d="M328.9 66.4L334.1 63.4L329.2 62.1L324.1 65Z" fill="#ff5f00"/>
<path d="M504.5 51L509.3 50L504.1 49L499.3 49.9Z" fill="#ff3a00"/>
<path d="M464.3 51.5L469.3 50.2L464.2 49.1L459.2 50.4Z" fill="#ff3b00"/>
<path d="M494.4 51L499.3 49.9L494.2 48.9L489.3 49.9Z" fill="#ff3a00"/>
<path d="M474.3 51.3L479.3 50L474.2 48.9L469.3 50.2Z" fill="#ff3a00"/>
<path d="M484.4 51.1L489.3 49.9L484.2 48.9L479.3 50Z" fill="#ff3a00"/>
<path d="M338.9 64.8L344 61.9L339.2 60.6L334.1 63.4Z" fill="#ff5b00"/>
<path d="M348.9 63.3L354 60.5L349.2 59.2L344 61.9Z" fill="#ff5600"/>
<path d="M358.9 61.9L364.1 59.2L359.2 58L354 60.5Z" fill="#ff5200"/>
<path d="M368.9 60.6L374.1 58L369.2 56.8L364.1 59.2Z" fill="#ff4f00"/>
<path d="M303.6 73.3L308.9 70L304.1 68.6L298.9 71.9Z" fill="#ff6e00"/>
<path d="M379 59.3L384.1 56.9L379.2 55.7L374.1 58Z" fill="#ff4b00"/>
<path d="M389 58.2L394.1 55.9L389.2 54.7L384.1 56.9Z" fill="#ff4800"/>
<path d="M313.7 71.4L318.9 68.1L314.1 66.8L308.9 70Z" fill="#ff6900"/>
<path d="M399.1 57.2L404.1 55L399.2 53.8L394.1 55.9Z" fill="#ff4600"/>
<path d="M409.1 56.3L414.2 54.2L409.2 53L404.1 55Z" fill="#ff4300"/>
<path d="M419.1 55.5L424.2 53.5L419.2 52.3L414.2 54.2Z" fill="#ff4100"/>
<path d="M323.7 69.6L328.9 66.4L324.1 65L318.9 68.1Z" fill="#ff6300"/>
<path d="M429.2 54.7L434.2 52.9L429.2 51.7L424.2 53.5Z" fill="#ff3f00"/>
<path d="M549.8 52.7L554.6 52.1L549.3 51.1L544.6 51.7Z" fill="#ff3b00"/>
<path d="M439.2 54.1L444.2 52.3L439.2 51.2L434.2 52.9Z" fill="#ff3d00"/>
<path d="M539.8 52.4L544.6 51.7L539.3 50.7L534.5 51.4Z" fill="#ff3a00"/>
<path d="M449.3 53.5L454.3 51.9L449.2 50.7L444.2 52.3Z" fill="#ff3c00"/>
<path d="M529.7 52.2L534.5 51.4L529.3 50.4L524.5 51.2Z" fill="#ff3900"/>
<path d="M333.7 67.8L338.9 64.8L334.1 63.4L328.9 66.4Z" fill="#ff5f00"/>
<path d="M459.4 53.1L464.3 51.5L459.2 50.4L454.3 51.9Z" fill="#ff3b00"/>
<path d="M519.7 52.1L524.5 51.2L519.3 50.2L514.5 51Z" fill="#ff3900"/>
<path d="M469.4 52.7L474.3 51.3L469.3 50.2L464.3 51.5Z" fill="#ff3a00"/>
<path d="M509.6 52L514.5 51L509.3 50L504.5 51Z" fill="#ff3900"/>
<path d="M479.5 52.4L484.4 51.1L479.3 50L474.3 51.3Z" fill="#ff3900"/>
<path d="M499.6 52.1L504.5 51L499.3 49.9L494.4 51Z" fill="#ff3900"/>
<path d="M489.5 52.2L494.4 51L489.3 49.9L484.4 51.1Z" fill="#ff3900"/>
<path d="M343.7 66.2L348.9 63.3L344 61.9L338.9 64.8Z" fill="#ff5a00"/>
<path d="M353.8 64.7L358.9 61.9L354 60.5L348.9 63.3Z" fill="#ff5600"/>
<path d="M363.8 63.2L368.9 60.6L364.1 59.2L358.9 61.9Z" fill="#ff5200"/>
<path d="M298.4 76.9L303.6 73.3L298.9 71.9L293.6 75.4Z" fill="#ff7400"/>
<path d="M373.8 61.9L379 59.3L374.1 58L368.9 60.6Z" fill="#ff4e00"/>
<path d="M308.4 74.8L313.7 71.4L308.9 70L303.6 73.3Z" fill="#ff6e00"/>
<path d="M383.9 60.7L389 58.2L384.1 56.9L379 59.3Z" fill="#ff4b00"/>
<path d="M394 59.6L399.1 57.2L394.1 55.9L389 58.2Z" fill="#ff4800"/>
<path d="M318.4 72.9L323.7 69.6L318.9 68.1L313.7 71.4Z" fill="#ff6800"/>
<path d="M404 58.5L409.1 56.3L404.1 55L399.1 57.2Z" fill="#ff4500"/>
<path d="M414.1 57.6L419.1 55.5L414.2 54.2L409.1 56.3Z" fill="#ff4300"/>
<path d="M424.2 56.8L429.2 54.7L424.2 53.5L419.1 55.5Z" fill="#ff4000"/>
<path d="M328.5 71L333.7 67.8L328.9 66.4L323.7 69.6Z" fill="#ff6300"/>
<path d="M434.2 56L439.2 54.1L434.2 52.9L429.2 54.7Z" fill="#ff3e00"/>
<path d="M444.3 55.3L449.3 53.5L444.2 52.3L439.2 54.1Z" fill="#ff3d00"/>
<path d="M555.1 53.7L559.9 53L554.6 52.1L549.8 52.7Z" fill="#ff3a00"/>
<path d="M545 53.4L549.8 52.7L544.6 51.7L539.8 52.4Z" fill="#ff3900"/>
<path d="M454.4 54.8L459.4 53.1L454.3 51.9L449.3 53.5Z" fill="#ff3b00"/>
<path d="M338.5 69.3L343.7 66.2L338.9 64.8L333.7 67.8Z" fill="#ff5e00"/>
<path d="M535 53.3L539.8 52.4L534.5 51.4L529.7 52.2Z" fill="#ff3800"/>
<path d="M464.4 54.3L469.4 52.7L464.3 51.5L459.4 53.1Z" fill="#ff3a00"/>
<path d="M524.9 53.2L529.7 52.2L524.5 51.2L519.7 52.1Z" fill="#ff3800"/>
<path d="M474.5 53.9L479.5 52.4L474.3 51.3L469.4 52.7Z" fill="#ff3900"/>
<path d="M514.8 53.1L519.7 52.1L514.5 51L509.6 52Z" fill="#ff3700"/>
<path d="M484.6 53.6L489.5 52.2L484.4 51.1L479.5 52.4Z" fill="#ff3800"/>
<path d="M504.8 53.2L509.6 52L504.5 51L499.6 52.1Z" fill="#ff3700"/>
<path d="M494.7 53.4L499.6 52.1L494.4 51L489.5 52.2Z" fill="#ff3800"/>
<path d="M348.6 67.6L353.8 64.7L348.9 63.3L343.7 66.2Z" fill="#ff5a00"/>
<path d="M293.1 80.6L298.4 76.9L293.6 75.4L288.4 79Z" fill="#ff7900"/>
<path d="M358.6 66.1L363.8 63.2L358.9 61.9L353.8 64.7Z" fill="#ff5600"/>
<path d="M368.7 64.7L373.8 61.9L368.9 60.6L363.8 63.2Z" fill="#ff5200"/>
<path d="M303.2 78.4L308.4 74.8L303.6 73.3L298.4 76.9Z" fill="#ff7300"/>
<path d="M378.8 63.3L383.9 60.7L379 59.3L373.8 61.9Z" fill="#ff4e00"/>
<path d="M313.2 76.3L318.4 72.9L313.7 71.4L308.4 74.8Z" fill="#ff6e00"/>
<path d="M388.8 62.1L394 59.6L389 58.2L383.9 60.7Z" fill="#ff4a00"/>
<path d="M398.9 60.9L404 58.5L399.1 57.2L394 59.6Z" fill="#ff4700"/>
<path d="M323.3 74.4L328.5 71L323.7 69.6L318.4 72.9Z" fill="#ff6800"/>
<path d="M409 59.9L414.1 57.6L409.1 56.3L404 58.5Z" fill="#ff4500"/>
<path d="M419.1 58.9L424.2 56.8L419.1 55.5L414.1 57.6Z" fill="#ff4200"/>
<path d="M333.3 72.5L338.5 69.3L333.7 67.8L328.5 71Z" fill="#ff6300"/>
<path d="M429.2 58.1L434.2 56L429.2 54.7L424.2 56.8Z" fill="#ff4000"/>
<path d="M439.3 57.3L444.3 55.3L439.2 54.1L434.2 56Z" fill="#ff3e00"/>
<path d="M449.4 56.6L454.4 54.8L449.3 53.5L444.3 55.3Z" fill="#ff3c00"/>
<path d="M560.4 54.7L565.2 54L559.9 53L555.1 53.7Z" fill="#ff3800"/>
<path d="M343.4 70.8L348.6 67.6L343.7 66.2L338.5 69.3Z" fill="#ff5e00"/>
<path d="M287.9 84.5L293.1 80.6L288.4 79L283.1 82.9Z" fill="#ff8000"/>
<path d="M459.5 56L464.4 54.3L459.4 53.1L454.4 54.8Z" fill="#ff3a00"/>
<path d="M550.3 54.5L555.1 53.7L549.8 52.7L545 53.4Z" fill="#ff3700"/>
<path d="M469.6 55.5L474.5 53.9L469.4 52.7L464.4 54.3Z" fill="#ff3900"/>
<path d="M540.2 54.3L545 53.4L539.8 52.4L535 53.3Z" fill="#ff3700"/>
<path d="M479.7 55.1L484.6 53.6L479.5 52.4L474.5 53.9Z" fill="#ff3800"/>
<path d="M530.1 54.3L535 53.3L529.7 52.2L524.9 53.2Z" fill="#ff3600"/>
<path d="M489.8 54.8L494.7 53.4L489.5 52.2L484.6 53.6Z" fill="#ff3700"/>
<path d="M520 54.3L524.9 53.2L519.7 52.1L514.8 53.1Z" fill="#ff3600"/>
<path d="M499.9 54.5L504.8 53.2L499.6 52.1L494.7 53.4Z" fill="#ff3700"/>
<path d="M510 54.4L514.8 53.1L509.6 52L504.8 53.2Z" fill="#ff3600"/>
<path d="M353.5 69.1L358.6 66.1L353.8 64.7L348.6 67.6Z" fill="#ff5a00"/>
<path d="M297.9 82.2L303.2 78.4L298.4 76.9L293.1 80.6Z" fill="#ff7900"/>
<path d="M363.5 67.6L368.7 64.7L363.8 63.2L358.6 66.1Z" fill="#ff5500"/>
<path d="M373.6 66.1L378.8 63.3L373.8 61.9L368.7 64.7Z" fill="#ff5100"/>
<path d="M308 80L313.2 76.3L308.4 74.8L303.2 78.4Z" fill="#ff7300"/>
<path d="M383.7 64.8L388.8 62.1L383.9 60.7L378.8 63.3Z" fill="#ff4e00"/>
<path d="M318 77.9L323.3 74.4L318.4 72.9L313.2 76.3Z" fill="#ff6e00"/>
<path d="M393.8 63.5L398.9 60.9L394 59.6L388.8 62.1Z" fill="#ff4a00"/>
<path d="M403.9 62.4L409 59.9L404 58.5L398.9 60.9Z" fill="#ff4700"/>
<path d="M328.1 75.9L333.3 72.5L328.5 71L323.3 74.4Z" fill="#ff6800"/>
<path d="M414 61.3L419.1 58.9L414.1 57.6L409 59.9Z" fill="#ff4400"/>
<path d="M282.6 88.5L287.9 84.5L283.1 82.9L277.9 86.9Z" fill="#ff8700"/>
<path d="M424.1 60.3L429.2 58.1L424.2 56.8L419.1 58.9Z" fill="#ff4200"/>
<path d="M338.2 74.1L343.4 70.8L338.5 69.3L333.3 72.5Z" fill="#ff6300"/>
<path d="M434.2 59.4L439.3 57.3L434.2 56L429.2 58.1Z" fill="#ff3f00"/>
<path d="M444.3 58.7L449.4 56.6L444.3 55.3L439.3 57.3Z" fill="#ff3d00"/>
<path d="M454.5 58L459.5 56L454.4 54.8L449.4 56.6Z" fill="#ff3b00"/>
<path d="M292.7 86.1L297.9 82.2L293.1 80.6L287.9 84.5Z" fill="#ff8000"/>
<path d="M348.3 72.3L353.5 69.1L348.6 67.6L343.4 70.8Z" fill="#ff5e00"/>
<path d="M464.6 57.4L469.6 55.5L464.4 54.3L459.5 56Z" fill="#ff3a00"/>
<path d="M565.7 55.8L570.5 55L565.2 54L560.4 54.7Z" fill="#ff3700"/>
<path d="M474.7 56.8L479.7 55.1L474.5 53.9L469.6 55.5Z" fill="#ff3800"/>
<path d="M555.6 55.6L560.4 54.7L555.1 53.7L550.3 54.5Z" fill="#ff3600"/>
<path d="M484.8 56.4L489.8 54.8L484.6 53.6L479.7 55.1Z" fill="#ff3700"/>
<path d="M545.5 55.5L550.3 54.5L545 53.4L540.2 54.3Z" fill="#ff3600"/>
<path d="M494.9 56L499.9 54.5L494.7 53.4L489.8 54.8Z" fill="#ff3600"/>
<path d="M535.4 55.4L540.2 54.3L535 53.3L530.1 54.3Z" fill="#ff3500"/>
<path d="M505.1 55.8L510 54.4L504.8 53.2L499.9 54.5Z" fill="#ff3600"/>
<path d="M525.3 55.5L530.1 54.3L524.9 53.2L520 54.3Z" fill="#ff3500"/>
<path d="M515.2 55.6L520 54.3L514.8 53.1L510 54.4Z" fill="#ff3500"/>
<path d="M358.4 70.6L363.5 67.6L358.6 66.1L353.5 69.1Z" fill="#ff5900"/>
<path d="M302.7 83.8L308 80L303.2 78.4L297.9 82.2Z" fill="#ff7a00"/>
<path d="M368.5 69.1L373.6 66.1L368.7 64.7L363.5 67.6Z" fill="#ff5500"/>
<path d="M312.8 81.6L318 77.9L313.2 76.3L308 80Z" fill="#ff7300"/>
<path d="M378.6 67.6L383.7 64.8L378.8 63.3L373.6 66.1Z" fill="#ff5100"/>
<path d="M388.7 66.2L393.8 63.5L388.8 62.1L383.7 64.8Z" fill="#ff4d00"/>
<path d="M322.9 79.5L328.1 75.9L323.3 74.4L318 77.9Z" fill="#ff6e00"/>
<path d="M277.3 92.7L282.6 88.5L277.9 86.9L272.6 91Z" fill="#ff8e00"/>
<path d="M398.8 65L403.9 62.4L398.9 60.9L393.8 63.5Z" fill="#ff4a00"/>
<path d="M408.9 63.8L414 61.3L409 59.9L403.9 62.4Z" fill="#ff4700"/>
<path d="M333 77.5L338.2 74.1L333.3 72.5L328.1 75.9Z" fill="#ff6800"/>
<path d="M419 62.7L424.1 60.3L419.1 58.9L414 61.3Z" fill="#ff4400"/>
<path d="M287.4 90.2L292.7 86.1L287.9 84.5L282.6 88.5Z" fill="#ff8700"/>
<path d="M429.2 61.7L434.2 59.4L429.2 58.1L424.1 60.3Z" fill="#ff4100"/>
<path d="M343.1 75.7L348.3 72.3L343.4 70.8L338.2 74.1Z" fill="#ff6300"/>
<path d="M439.3 60.8L444.3 58.7L439.3 57.3L434.2 59.4Z" fill="#ff3f00"/>
<path d="M449.4 60L454.5 58L449.4 56.6L444.3 58.7Z" fill="#ff3d00"/>
<path d="M297.4 87.8L302.7 83.8L297.9 82.2L292.7 86.1Z" fill="#ff8000"/>
<path d="M353.2 73.9L358.4 70.6L353.5 69.1L348.3 72.3Z" fill="#ff5e00"/>
<path d="M459.6 59.3L464.6 57.4L459.5 56L454.5 58Z" fill="#ff3b00"/>
<path d="M469.7 58.7L474.7 56.8L469.6 55.5L464.6 57.4Z" fill="#ff3900"/>
<path d="M571.1 56.9L575.8 56L570.5 55L565.7 55.8Z" fill="#ff3600"/>
<path d="M479.9 58.2L484.8 56.4L479.7 55.1L474.7 56.8Z" fill="#ff3800"/>
<path d="M560.9 56.7L565.7 55.8L560.4 54.7L555.6 55.6Z" fill="#ff3500"/>
<path d="M490 57.7L494.9 56L489.8 54.8L484.8 56.4Z" fill="#ff3700"/>
<path d="M550.8 56.6L555.6 55.6L550.3 54.5L545.5 55.5Z" fill="#ff3500"/>
<path d="M500.1 57.3L505.1 55.8L499.9 54.5L494.9 56Z" fill="#ff3600"/>
<path d="M540.7 56.6L545.5 55.5L540.2 54.3L535.4 55.4Z" fill="#ff3400"/>
<path d="M363.3 72.2L368.5 69.1L363.5 67.6L358.4 70.6Z" fill="#ff5900"/>
<path d="M510.3 57L515.2 55.6L510 54.4L505.1 55.8Z" fill="#ff3500"/>
<path d="M530.5 56.7L535.4 55.4L530.1 54.3L525.3 55.5Z" fill="#ff3400"/>
<path d="M520.4 56.8L525.3 55.5L520 54.3L515.2 55.6Z" fill="#ff3500"/>
<path d="M307.5 85.5L312.8 81.6L308 80L302.7 83.8Z" fill="#ff7a00"/>
<path d="M373.4 70.6L378.6 67.6L373.6 66.1L368.5 69.1Z" fill="#ff5500"/>
<path d="M272 97.1L277.3 92.7L272.6 91L267.3 95.3Z" fill="#ff9600"/>
<path d="M317.6 83.3L322.9 79.5L318 77.9L312.8 81.6Z" fill="#ff7400"/>
<path d="M383.5 69.1L388.7 66.2L383.7 64.8L378.6 67.6Z" fill="#ff5100"/>
<path d="M393.7 67.8L398.8 65L393.8 63.5L388.7 66.2Z" fill="#ff4d00"/>
<path d="M327.7 81.2L333 77.5L328.1 75.9L322.9 79.5Z" fill="#ff6e00"/>
<path d="M282.1 94.4L287.4 90.2L282.6 88.5L277.3 92.7Z" fill="#ff8e00"/>
<path d="M403.8 66.5L408.9 63.8L403.9 62.4L398.8 65Z" fill="#ff4a00"/>
<path d="M414 65.3L419 62.7L414 61.3L408.9 63.8Z" fill="#ff4700"/>
<path d="M337.8 79.2L343.1 75.7L338.2 74.1L333 77.5Z" fill="#ff6800"/>
<path d="M424.1 64.2L429.2 61.7L424.1 60.3L419 62.7Z" fill="#ff4400"/>
<path d="M292.2 91.9L297.4 87.8L292.7 86.1L287.4 90.2Z" fill="#ff8700"/>
<path d="M434.2 63.2L439.3 60.8L434.2 59.4L429.2 61.7Z" fill="#ff4100"/>
<path d="M348 77.3L353.2 73.9L348.3 72.3L343.1 75.7Z" fill="#ff6300"/>
<path d="M444.4 62.3L449.4 60L444.3 58.7L439.3 60.8Z" fill="#ff3e00"/>
<path d="M454.6 61.5L459.6 59.3L454.5 58L449.4 60Z" fill="#ff3c00"/>
<path d="M302.3 89.5L307.5 85.5L302.7 83.8L297.4 87.8Z" fill="#ff8100"/>
<path d="M358.1 75.5L363.3 72.2L358.4 70.6L353.2 73.9Z" fill="#ff5e00"/>
<path d="M464.7 60.7L469.7 58.7L464.6 57.4L459.6 59.3Z" fill="#ff3a00"/>
<path d="M474.9 60.1L479.9 58.2L474.7 56.8L469.7 58.7Z" fill="#ff3900"/>
<path d="M485 59.5L490 57.7L484.8 56.4L479.9 58.2Z" fill="#ff3700"/>
<path d="M266.7 101.6L272 97.1L267.3 95.3L261.9 99.8Z" fill="#ff9e00"/>
<path d="M576.4 58L581.2 57.1L575.8 56L571.1 56.9Z" fill="#ff3400"/>
<path d="M495.2 59L500.1 57.3L494.9 56L490 57.7Z" fill="#ff3600"/>
<path d="M566.3 57.9L571.1 56.9L565.7 55.8L560.9 56.7Z" fill="#ff3400"/>
<path d="M368.2 73.8L373.4 70.6L368.5 69.1L363.3 72.2Z" fill="#ff5900"/>
<path d="M505.4 58.6L510.3 57L505.1 55.8L500.1 57.3Z" fill="#ff3500"/>
<path d="M556.1 57.8L560.9 56.7L555.6 55.6L550.8 56.6Z" fill="#ff3400"/>
<path d="M515.5 58.3L520.4 56.8L515.2 55.6L510.3 57Z" fill="#ff3400"/>
<path d="M546 57.8L550.8 56.6L545.5 55.5L540.7 56.6Z" fill="#ff3300"/>
<path d="M525.7 58.1L530.5 56.7L525.3 55.5L520.4 56.8Z" fill="#ff3400"/>
<path d="M535.8 57.9L540.7 56.6L535.4 55.4L530.5 56.7Z" fill="#ff3300"/>
<path d="M312.4 87.2L317.6 83.3L312.8 81.6L307.5 85.5Z" fill="#ff7a00"/>
<path d="M378.4 72.2L383.5 69.1L378.6 67.6L373.4 70.6Z" fill="#ff5500"/>
<path d="M276.8 98.9L282.1 94.4L277.3 92.7L272 97.1Z" fill="#ff9600"/>
<path d="M322.5 85L327.7 81.2L322.9 79.5L317.6 83.3Z" fill="#ff7400"/>
<path d="M388.5 70.7L393.7 67.8L388.7 66.2L383.5 69.1Z" fill="#ff5100"/>
<path d="M398.7 69.3L403.8 66.5L398.8 65L393.7 67.8Z" fill="#ff4d00"/>
<path d="M332.6 82.9L337.8 79.2L333 77.5L327.7 81.2Z" fill="#ff6e00"/>
<path d="M286.9 96.2L292.2 91.9L287.4 90.2L282.1 94.4Z" fill="#ff8f00"/>
<path d="M408.8 68L414 65.3L408.9 63.8L403.8 66.5Z" fill="#ff4a00"/>
<path d="M419 66.8L424.1 64.2L419 62.7L414 65.3Z" fill="#ff4600"/>
<path d="M342.7 80.9L348 77.3L343.1 75.7L337.8 79.2Z" fill="#ff6900"/>
<path d="M297 93.7L302.3 89.5L297.4 87.8L292.2 91.9Z" fill="#ff8800"/>
<path d="M429.2 65.7L434.2 63.2L429.2 61.7L424.1 64.2Z" fill="#ff4300"/>
<path d="M261.4 106.4L266.7 101.6L261.9 99.8L256.6 104.5Z" fill="#ffa700"/>
<path d="M439.3 64.7L444.4 62.3L439.3 60.8L434.2 63.2Z" fill="#ff4100"/>
<path d="M352.9 79L358.1 75.5L353.2 73.9L348 77.3Z" fill="#ff6300"/>
<path d="M449.5 63.8L454.6 61.5L449.4 60L444.4 62.3Z" fill="#ff3e00"/>
<path d="M307.1 91.3L312.4 87.2L307.5 85.5L302.3 89.5Z" fill="#ff8100"/>
<path d="M459.7 62.9L464.7 60.7L459.6 59.3L454.6 61.5Z" fill="#ff3c00"/>
<path d="M363 77.2L368.2 73.8L363.3 72.2L358.1 75.5Z" fill="#ff5e00"/>
<path d="M469.9 62.2L474.9 60.1L469.7 58.7L464.7 60.7Z" fill="#ff3a00"/>
<path d="M480 61.5L485 59.5L479.9 58.2L474.9 60.1Z" fill="#ff3800"/>
<path d="M271.5 103.5L276.8 98.9L272 97.1L266.7 101.6Z" fill="#ff9f00"/>
<path d="M490.2 60.9L495.2 59L490 57.7L485 59.5Z" fill="#ff3700"/>
<path d="M373.2 75.4L378.4 72.2L373.4 70.6L368.2 73.8Z" fill="#ff5a00"/>
<path d="M500.4 60.4L505.4 58.6L500.1 57.3L495.2 59Z" fill="#ff3500"/>
<path d="M581.8 59.2L586.6 58.2L581.2 57.1L576.4 58Z" fill="#ff3300"/>
<path d="M317.2 88.9L322.5 85L317.6 83.3L312.4 87.2Z" fill="#ff7b00"/>
<path d="M571.7 59.1L576.4 58L571.1 56.9L566.3 57.9Z" fill="#ff3300"/>
<path d="M510.6 60L515.5 58.3L510.3 57L505.4 58.6Z" fill="#ff3400"/>
<path d="M561.5 59L566.3 57.9L560.9 56.7L556.1 57.8Z" fill="#ff3300"/>
<path d="M520.8 59.6L525.7 58.1L520.4 56.8L515.5 58.3Z" fill="#ff3400"/>
<path d="M551.3 59.1L556.1 57.8L550.8 56.6L546 57.8Z" fill="#ff3300"/>
<path d="M531 59.4L535.8 57.9L530.5 56.7L525.7 58.1Z" fill="#ff3300"/>
<path d="M541.1 59.2L546 57.8L540.7 56.6L535.8 57.9Z" fill="#ff3300"/>
<path d="M383.4 73.8L388.5 70.7L383.5 69.1L378.4 72.2Z" fill="#ff5500"/>
<path d="M281.6 100.7L286.9 96.2L282.1 94.4L276.8 98.9Z" fill="#ff9700"/>
<path d="M327.4 86.7L332.6 82.9L327.7 81.2L322.5 85Z" fill="#ff7400"/>
<path d="M393.5 72.3L398.7 69.3L393.7 67.8L388.5 70.7Z" fill="#ff5100"/>
<path d="M403.7 70.9L408.8 68L403.8 66.5L398.7 69.3Z" fill="#ff4d00"/>
<path d="M337.5 84.6L342.7 80.9L337.8 79.2L332.6 82.9Z" fill="#ff6e00"/>
<path d="M291.7 98.1L297 93.7L292.2 91.9L286.9 96.2Z" fill="#ff8f00"/>
<path d="M256 111.2L261.4 106.4L256.6 104.5L251.3 109.3Z" fill="#ffb000"/>
<path d="M413.9 69.6L419 66.8L414 65.3L408.8 68Z" fill="#ff4a00"/>
<path d="M347.7 82.6L352.9 79L348 77.3L342.7 80.9Z" fill="#ff6900"/>
<path d="M424.1 68.4L429.2 65.7L424.1 64.2L419 66.8Z" fill="#ff4600"/>
<path d="M301.8 95.5L307.1 91.3L302.3 89.5L297 93.7Z" fill="#ff8800"/>
<path d="M434.3 67.3L439.3 64.7L434.2 63.2L429.2 65.7Z" fill="#ff4300"/>
<path d="M266.1 108.2L271.5 103.5L266.7 101.6L261.4 106.4Z" fill="#ffa700"/>
<path d="M357.8 80.7L363 77.2L358.1 75.5L352.9 79Z" fill="#ff6400"/>
<path d="M444.5 66.2L449.5 63.8L444.4 62.3L439.3 64.7Z" fill="#ff4100"/>
<path d="M454.6 65.3L459.7 62.9L454.6 61.5L449.5 63.8Z" fill="#ff3e00"/>
<path d="M311.9 93.1L317.2 88.9L312.4 87.2L307.1 91.3Z" fill="#ff8200"/>
<path d="M464.8 64.4L469.9 62.2L464.7 60.7L459.7 62.9Z" fill="#ff3c00"/>
<path d="M368 78.8L373.2 75.4L368.2 73.8L363 77.2Z" fill="#ff5f00"/>
<path d="M475 63.6L480 61.5L474.9 60.1L469.9 62.2Z" fill="#ff3a00"/>
<path d="M276.2 105.4L281.6 100.7L276.8 98.9L271.5 103.5Z" fill="#ff9f00"/>
<path d="M485.2 62.9L490.2 60.9L485 59.5L480 61.5Z" fill="#ff3800"/>
<path d="M378.2 77.1L383.4 73.8L378.4 72.2L373.2 75.4Z" fill="#ff5a00"/>
<path d="M495.4 62.3L500.4 60.4L495.2 59L490.2 60.9Z" fill="#ff3600"/>
<path d="M322.1 90.7L327.4 86.7L322.5 85L317.2 88.9Z" fill="#ff7b00"/>
<path d="M505.6 61.8L510.6 60L505.4 58.6L500.4 60.4Z" fill="#ff3500"/>
<path d="M587.2 60.4L592 59.4L586.6 58.2L581.8 59.2Z" fill="#ff3200"/>
<path d="M515.8 61.4L520.8 59.6L515.5 58.3L510.6 60Z" fill="#ff3400"/>
<path d="M577 60.3L581.8 59.2L576.4 58L571.7 59.1Z" fill="#ff3200"/>
<path d="M526.1 61L531 59.4L525.7 58.1L520.8 59.6Z" fill="#ff3300"/>
<path d="M566.9 60.3L571.7 59.1L566.3 57.9L561.5 59Z" fill="#ff3200"/>
<path d="M536.3 60.7L541.1 59.2L535.8 57.9L531 59.4Z" fill="#ff3200"/>
<path d="M556.7 60.4L561.5 59L556.1 57.8L551.3 59.1Z" fill="#ff3200"/>
<path d="M546.5 60.5L551.3 59.1L546 57.8L541.1 59.2Z" fill="#ff3200"/>
<path d="M388.4 75.5L393.5 72.3L388.5 70.7L383.4 73.8Z" fill="#ff5500"/>
<path d="M250.7 116.3L256 111.2L251.3 109.3L245.9 114.3Z" fill="#ffb900"/>
<path d="M286.4 102.6L291.7 98.1L286.9 96.2L281.6 100.7Z" fill="#ff9800"/>
<path d="M332.3 88.5L337.5 84.6L332.6 82.9L327.4 86.7Z" fill="#ff7500"/>
<path d="M398.6 74L403.7 70.9L398.7 69.3L393.5 72.3Z" fill="#ff5100"/>
<path d="M408.8 72.6L413.9 69.6L408.8 68L403.7 70.9Z" fill="#ff4d00"/>
<path d="M342.4 86.4L347.7 82.6L342.7 80.9L337.5 84.6Z" fill="#ff6f00"/>
<path d="M296.5 99.9L301.8 95.5L297 93.7L291.7 98.1Z" fill="#ff9000"/>
<path d="M260.8 113.2L266.1 108.2L261.4 106.4L256 111.2Z" fill="#ffb100"/>
<path d="M419 71.2L424.1 68.4L419 66.8L413.9 69.6Z" fill="#ff4a00"/>
<path d="M352.6 84.3L357.8 80.7L352.9 79L347.7 82.6Z" fill="#ff6900"/>
<path d="M429.2 70L434.3 67.3L429.2 65.7L424.1 68.4Z" fill="#ff4600"/>
<path d="M306.7 97.4L311.9 93.1L307.1 91.3L301.8 95.5Z" fill="#ff8900"/>
<path d="M439.4 68.9L444.5 66.2L439.3 64.7L434.3 67.3Z" fill="#ff4300"/>
<path d="M270.9 110.2L276.2 105.4L271.5 103.5L266.1 108.2Z" fill="#ffa800"/>
<path d="M362.8 82.4L368 78.8L363 77.2L357.8 80.7Z" fill="#ff6400"/>
<path d="M449.6 67.8L454.6 65.3L449.5 63.8L444.5 66.2Z" fill="#ff4100"/>
<path d="M459.8 66.8L464.8 64.4L459.7 62.9L454.6 65.3Z" fill="#ff3e00"/>
<path d="M316.8 94.9L322.1 90.7L317.2 88.9L311.9 93.1Z" fill="#ff8200"/>
<path d="M373 80.6L378.2 77.1L373.2 75.4L368 78.8Z" fill="#ff5f00"/>
<path d="M470 65.9L475 63.6L469.9 62.2L464.8 64.4Z" fill="#ff3c00"/>
<path d="M245.3 121.5L250.7 116.3L245.9 114.3L240.6 119.5Z" fill="#ffc300"/>
<path d="M281 107.3L286.4 102.6L281.6 100.7L276.2 105.4Z" fill="#ffa000"/>
<path d="M480.2 65.1L485.2 62.9L480 61.5L475 63.6Z" fill="#ff3a00"/>
<path d="M490.5 64.4L495.4 62.3L490.2 60.9L485.2 62.9Z" fill="#ff3800"/>
<path d="M383.2 78.9L388.4 75.5L383.4 73.8L378.2 77.1Z" fill="#ff5a00"/>
<path d="M327 92.6L332.3 88.5L327.4 86.7L322.1 90.7Z" fill="#ff7c00"/>
<path d="M500.7 63.8L505.6 61.8L500.4 60.4L495.4 62.3Z" fill="#ff3600"/>
<path d="M510.9 63.3L515.8 61.4L510.6 60L505.6 61.8Z" fill="#ff3500"/>
<path d="M521.1 62.8L526.1 61L520.8 59.6L515.8 61.4Z" fill="#ff3400"/>
<path d="M592.7 61.6L597.4 60.5L592 59.4L587.2 60.4Z" fill="#ff3100"/>
<path d="M531.4 62.4L536.3 60.7L531 59.4L526.1 61Z" fill="#ff3300"/>
<path d="M582.5 61.6L587.2 60.4L581.8 59.2L577 60.3Z" fill="#ff3100"/>
<path d="M541.6 62.1L546.5 60.5L541.1 59.2L536.3 60.7Z" fill="#ff3200"/>
<path d="M572.2 61.6L577 60.3L571.7 59.1L566.9 60.3Z" fill="#ff3100"/>
<path d="M551.8 61.8L556.7 60.4L551.3 59.1L546.5 60.5Z" fill="#ff3100"/>
<path d="M562 61.7L566.9 60.3L561.5 59L556.7 60.4Z" fill="#ff3100"/>
<path d="M393.4 77.2L398.6 74L393.5 72.3L388.4 75.5Z" fill="#ff5600"/>
<path d="M255.4 118.3L260.8 113.2L256 111.2L250.7 116.3Z" fill="#ffba00"/>
<path d="M291.2 104.5L296.5 99.9L291.7 98.1L286.4 102.6Z" fill="#ff9800"/>
<path d="M337.2 90.3L342.4 86.4L337.5 84.6L332.3 88.5Z" fill="#ff7500"/>
<path d="M403.6 75.7L408.8 72.6L403.7 70.9L398.6 74Z" fill="#ff5200"/>
<path d="M413.8 74.3L419 71.2L413.9 69.6L408.8 72.6Z" fill="#ff4e00"/>
<path d="M347.4 88.2L352.6 84.3L347.7 82.6L342.4 86.4Z" fill="#ff7000"/>
<path d="M301.4 101.8L306.7 97.4L301.8 95.5L296.5 99.9Z" fill="#ff9100"/>
<path d="M265.6 115.2L270.9 110.2L266.1 108.2L260.8 113.2Z" fill="#ffb100"/>
<path d="M424 72.9L429.2 70L424.1 68.4L419 71.2Z" fill="#ff4a00"/>
<path d="M357.6 86.1L362.8 82.4L357.8 80.7L352.6 84.3Z" fill="#ff6a00"/>
<path d="M239.9 126.9L245.3 121.5L240.6 119.5L235.2 124.8Z" fill="#ffce00"/>
<path d="M434.3 71.6L439.4 68.9L434.3 67.3L429.2 70Z" fill="#ff4700"/>
<path d="M311.5 99.3L316.8 94.9L311.9 93.1L306.7 97.4Z" fill="#ff8a00"/>
<path d="M444.5 70.5L449.6 67.8L444.5 66.2L439.4 68.9Z" fill="#ff4400"/>
<path d="M275.7 112.2L281 107.3L276.2 105.4L270.9 110.2Z" fill="#ffa900"/>
<path d="M367.8 84.2L373 80.6L368 78.8L362.8 82.4Z" fill="#ff6500"/>
<path d="M454.7 69.4L459.8 66.8L454.6 65.3L449.6 67.8Z" fill="#ff4100"/>
<path d="M321.7 96.8L327 92.6L322.1 90.7L316.8 94.9Z" fill="#ff8300"/>
<path d="M465 68.4L470 65.9L464.8 64.4L459.8 66.8Z" fill="#ff3e00"/>
<path d="M250.1 123.6L255.4 118.3L250.7 116.3L245.3 121.5Z" fill="#ffc400"/>
<path d="M378 82.4L383.2 78.9L378.2 77.1L373 80.6Z" fill="#ff6000"/>
<path d="M475.2 67.5L480.2 65.1L475 63.6L470 65.9Z" fill="#ff3c00"/>
<path d="M285.9 109.3L291.2 104.5L286.4 102.6L281 107.3Z" fill="#ffa100"/>
<path d="M485.5 66.7L490.5 64.4L485.2 62.9L480.2 65.1Z" fill="#ff3900"/>
<path d="M495.7 66L500.7 63.8L495.4 62.3L490.5 64.4Z" fill="#ff3800"/>
<path d="M388.2 80.6L393.4 77.2L388.4 75.5L383.2 78.9Z" fill="#ff5b00"/>
<path d="M331.9 94.5L337.2 90.3L332.3 88.5L327 92.6Z" fill="#ff7c00"/>
<path d="M505.9 65.3L510.9 63.3L505.6 61.8L500.7 63.8Z" fill="#ff3600"/>
<path d="M516.2 64.7L521.1 62.8L515.8 61.4L510.9 63.3Z" fill="#ff3400"/>
<path d="M526.4 64.2L531.4 62.4L526.1 61L521.1 62.8Z" fill="#ff3300"/>
<path d="M260.2 120.3L265.6 115.2L260.8 113.2L255.4 118.3Z" fill="#ffbb00"/>
<path d="M398.4 79L403.6 75.7L398.6 74L393.4 77.2Z" fill="#ff5600"/>
<path d="M536.7 63.8L541.6 62.1L536.3 60.7L531.4 62.4Z" fill="#ff3200"/>
<path d="M598.1 62.9L602.9 61.7L597.4 60.5L592.7 61.6Z" fill="#ff3000"/>
<path d="M546.9 63.5L551.8 61.8L546.5 60.5L541.6 62.1Z" fill="#ff3100"/>
<path d="M296 106.5L301.4 101.8L296.5 99.9L291.2 104.5Z" fill="#ff9900"/>
<path d="M587.9 62.8L592.7 61.6L587.2 60.4L582.5 61.6Z" fill="#ff3000"/>
<path d="M557.2 63.2L562 61.7L556.7 60.4L551.8 61.8Z" fill="#ff3100"/>
<path d="M577.7 62.9L582.5 61.6L577 60.3L572.2 61.6Z" fill="#ff3000"/>
<path d="M567.4 63L572.2 61.6L566.9 60.3L562 61.7Z" fill="#ff3000"/>
<path d="M342.1 92.2L347.4 88.2L342.4 86.4L337.2 90.3Z" fill="#ff7600"/>
<path d="M234.6 132.5L239.9 126.9L235.2 124.8L229.8 130.4Z" fill="#ffd800"/>
<path d="M408.7 77.4L413.8 74.3L408.8 72.6L403.6 75.7Z" fill="#ff5200"/>
<path d="M418.9 76L424 72.9L419 71.2L413.8 74.3Z" fill="#ff4e00"/>
<path d="M352.3 90L357.6 86.1L352.6 84.3L347.4 88.2Z" fill="#ff7000"/>
<path d="M306.2 103.8L311.5 99.3L306.7 97.4L301.4 101.8Z" fill="#ff9200"/>
<path d="M270.4 117.2L275.7 112.2L270.9 110.2L265.6 115.2Z" fill="#ffb200"/>
<path d="M429.2 74.6L434.3 71.6L429.2 70L424 72.9Z" fill="#ff4a00"/>
<path d="M362.5 88L367.8 84.2L362.8 82.4L357.6 86.1Z" fill="#ff6b00"/>
<path d="M244.7 129L250.1 123.6L245.3 121.5L239.9 126.9Z" fill="#ffcf00"/>
<path d="M439.4 73.3L444.5 70.5L439.4 68.9L434.3 71.6Z" fill="#ff4700"/>
<path d="M316.4 101.2L321.7 96.8L316.8 94.9L311.5 99.3Z" fill="#ff8b00"/>
<path d="M280.5 114.2L285.9 109.3L281 107.3L275.7 112.2Z" fill="#ffaa00"/>
<path d="M449.7 72.1L454.7 69.4L449.6 67.8L444.5 70.5Z" fill="#ff4400"/>
<path d="M372.8 86L378 82.4L373 80.6L367.8 84.2Z" fill="#ff6500"/>
<path d="M459.9 71L465 68.4L459.8 66.8L454.7 69.4Z" fill="#ff4100"/>
<path d="M326.6 98.7L331.9 94.5L327 92.6L321.7 96.8Z" fill="#ff8400"/>
<path d="M470.2 70L475.2 67.5L470 65.9L465 68.4Z" fill="#ff3e00"/>
<path d="M254.8 125.6L260.2 120.3L255.4 118.3L250.1 123.6Z" fill="#ffc500"/>
<path d="M383 84.2L388.2 80.6L383.2 78.9L378 82.4Z" fill="#ff6000"/>
<path d="M290.7 111.3L296 106.5L291.2 104.5L285.9 109.3Z" fill="#ffa200"/>
<path d="M480.4 69.1L485.5 66.7L480.2 65.1L475.2 67.5Z" fill="#ff3c00"/>
<path d="M229.2 138.2L234.6 132.5L229.8 130.4L224.4 136Z" fill="#ffe400"/>
<path d="M490.7 68.3L495.7 66L490.5 64.4L485.5 66.7Z" fill="#ff3900"/>
<path d="M393.2 82.4L398.4 79L393.4 77.2L388.2 80.6Z" fill="#ff5b00"/>
<path d="M336.8 96.4L342.1 92.2L337.2 90.3L331.9 94.5Z" fill="#ff7d00"/>
<path d="M501 67.5L505.9 65.3L500.7 63.8L495.7 66Z" fill="#ff3700"/>
<path d="M511.2 66.8L516.2 64.7L510.9 63.3L505.9 65.3Z" fill="#ff3600"/>
<path d="M521.5 66.2L526.4 64.2L521.1 62.8L516.2 64.7Z" fill="#ff3400"/>
<path d="M265 122.4L270.4 117.2L265.6 115.2L260.2 120.3Z" fill="#ffbc00"/>
<path d="M403.5 80.8L408.7 77.4L403.6 75.7L398.4 79Z" fill="#ff5700"/>
<path d="M531.8 65.7L536.7 63.8L531.4 62.4L526.4 64.2Z" fill="#ff3300"/>
<path d="M300.9 108.5L306.2 103.8L301.4 101.8L296 106.5Z" fill="#ff9a00"/>
<path d="M542 65.3L546.9 63.5L541.6 62.1L536.7 63.8Z" fill="#ff3200"/>
<path d="M603.6 64.2L608.4 63L602.9 61.7L598.1 62.9Z" fill="#ff3000"/>
<path d="M552.3 64.9L557.2 63.2L551.8 61.8L546.9 63.5Z" fill="#ff3100"/>
<path d="M347.1 94.1L352.3 90L347.4 88.2L342.1 92.2Z" fill="#ff7700"/>
<path d="M593.3 64.2L598.1 62.9L592.7 61.6L587.9 62.8Z" fill="#ff3000"/>
<path d="M562.6 64.6L567.4 63L562 61.7L557.2 63.2Z" fill="#ff3000"/>
<path d="M583.1 64.2L587.9 62.8L582.5 61.6L577.7 62.9Z" fill="#ff3000"/>
<path d="M572.8 64.4L577.7 62.9L572.2 61.6L567.4 63Z" fill="#ff3000"/>
<path d="M239.3 134.6L244.7 129L239.9 126.9L234.6 132.5Z" fill="#ffda00"/>
<path d="M413.8 79.2L418.9 76L413.8 74.3L408.7 77.4Z" fill="#ff5200"/>
<path d="M311.1 105.8L316.4 101.2L311.5 99.3L306.2 103.8Z" fill="#ff9300"/>
<path d="M357.3 92L362.5 88L357.6 86.1L352.3 90Z" fill="#ff7100"/>
<path d="M424 77.7L429.2 74.6L424 72.9L418.9 76Z" fill="#ff4e00"/>
<path d="M275.2 119.3L280.5 114.2L275.7 112.2L270.4 117.2Z" fill="#ffb400"/>
<path d="M434.3 76.3L439.4 73.3L434.3 71.6L429.2 74.6Z" fill="#ff4b00"/>
<path d="M249.5 131.1L254.8 125.6L250.1 123.6L244.7 129Z" fill="#ffd000"/>
<path d="M367.5 89.9L372.8 86L367.8 84.2L362.5 88Z" fill="#ff6b00"/>
<path d="M223.8 144.1L229.2 138.2L224.4 136L219.1 141.9Z" fill="#ffef00"/>
<path d="M321.3 103.2L326.6 98.7L321.7 96.8L316.4 101.2Z" fill="#ff8c00"/>
<path d="M444.5 75L449.7 72.1L444.5 70.5L439.4 73.3Z" fill="#ff4700"/>
<path d="M285.4 116.3L290.7 111.3L285.9 109.3L280.5 114.2Z" fill="#ffab00"/>
<path d="M454.8 73.8L459.9 71L454.7 69.4L449.7 72.1Z" fill="#ff4400"/>
<path d="M377.8 87.9L383 84.2L378 82.4L372.8 86Z" fill="#ff6600"/>
<path d="M465.1 72.7L470.2 70L465 68.4L459.9 71Z" fill="#ff4100"/>
<path d="M331.6 100.7L336.8 96.4L331.9 94.5L326.6 98.7Z" fill="#ff8500"/>
<path d="M259.6 127.8L265 122.4L260.2 120.3L254.8 125.6Z" fill="#ffc700"/>
<path d="M475.4 71.7L480.4 69.1L475.2 67.5L470.2 70Z" fill="#ff3e00"/>
<path d="M388 86.1L393.2 82.4L388.2 80.6L383 84.2Z" fill="#ff6100"/>
<path d="M295.6 113.3L300.9 108.5L296 106.5L290.7 111.3Z" fill="#ffa300"/>
<path d="M233.9 140.4L239.3 134.6L234.6 132.5L229.2 138.2Z" fill="#ffe500"/>
<path d="M485.7 70.7L490.7 68.3L485.5 66.7L480.4 69.1Z" fill="#ff3c00"/>
<path d="M495.9 69.9L501 67.5L495.7 66L490.7 68.3Z" fill="#ff3a00"/>
<path d="M341.8 98.3L347.1 94.1L342.1 92.2L336.8 96.4Z" fill="#ff7e00"/>
<path d="M398.3 84.3L403.5 80.8L398.4 79L393.2 82.4Z" fill="#ff5c00"/>
<path d="M506.2 69.1L511.2 66.8L505.9 65.3L501 67.5Z" fill="#ff3700"/>
<path d="M516.5 68.4L521.5 66.2L516.2 64.7L511.2 66.8Z" fill="#ff3600"/>
<path d="M269.8 124.5L275.2 119.3L270.4 117.2L265 122.4Z" fill="#ffbe00"/>
<path d="M305.8 110.5L311.1 105.8L306.2 103.8L300.9 108.5Z" fill="#ff9b00"/>
<path d="M526.8 67.8L531.8 65.7L526.4 64.2L521.5 66.2Z" fill="#ff3400"/>
<path d="M408.6 82.6L413.8 79.2L408.7 77.4L403.5 80.8Z" fill="#ff5700"/>
<path d="M537.1 67.2L542 65.3L536.7 63.8L531.8 65.7Z" fill="#ff3300"/>
<path d="M352 96.1L357.3 92L352.3 90L347.1 94.1Z" fill="#ff7800"/>
<path d="M547.4 66.8L552.3 64.9L546.9 63.5L542 65.3Z" fill="#ff3200"/>
<path d="M244.1 136.8L249.5 131.1L244.7 129L239.3 134.6Z" fill="#ffdb00"/>
<path d="M557.7 66.4L562.6 64.6L557.2 63.2L552.3 64.9Z" fill="#ff3100"/>
<path d="M609.1 65.5L613.9 64.2L608.4 63L603.6 64.2Z" fill="#ff2f00"/>
<path d="M218.4 150.1L223.8 144.1L219.1 141.9L213.7 147.9Z" fill="#fffc00"/>
<path d="M568 66L572.8 64.4L567.4 63L562.6 64.6Z" fill="#ff3000"/>
<path d="M598.8 65.5L603.6 64.2L598.1 62.9L593.3 64.2Z" fill="#ff2f00"/>
<path d="M578.2 65.8L583.1 64.2L577.7 62.9L572.8 64.4Z" fill="#ff2f00"/>
<path d="M588.5 65.6L593.3 64.2L587.9 62.8L583.1 64.2Z" fill="#ff2f00"/>
<path d="M418.9 81L424 77.7L418.9 76L413.8 79.2Z" fill="#ff5300"/>
<path d="M316 107.8L321.3 103.2L316.4 101.2L311.1 105.8Z" fill="#ff9400"/>
<path d="M362.3 93.9L367.5 89.9L362.5 88L357.3 92Z" fill="#ff7200"/>
<path d="M280 121.4L285.4 116.3L280.5 114.2L275.2 119.3Z" fill="#ffb500"/>
<path d="M429.1 79.5L434.3 76.3L429.2 74.6L424 77.7Z" fill="#ff4f00"/>
<path d="M439.4 78.1L444.5 75L439.4 73.3L434.3 76.3Z" fill="#ff4b00"/>
<path d="M254.3 133.3L259.6 127.8L254.8 125.6L249.5 131.1Z" fill="#ffd100"/>
<path d="M372.6 91.8L377.8 87.9L372.8 86L367.5 89.9Z" fill="#ff6c00"/>
<path d="M228.5 146.3L233.9 140.4L229.2 138.2L223.8 144.1Z" fill="#fff100"/>
<path d="M326.3 105.2L331.6 100.7L326.6 98.7L321.3 103.2Z" fill="#ff8d00"/>
<path d="M449.7 76.8L454.8 73.8L449.7 72.1L444.5 75Z" fill="#ff4800"/>
<path d="M290.2 118.4L295.6 113.3L290.7 111.3L285.4 116.3Z" fill="#ffac00"/>
<path d="M460 75.6L465.1 72.7L459.9 71L454.8 73.8Z" fill="#ff4400"/>
<path d="M382.8 89.8L388 86.1L383 84.2L377.8 87.9Z" fill="#ff6700"/>
<path d="M336.5 102.8L341.8 98.3L336.8 96.4L331.6 100.7Z" fill="#ff8600"/>
<path d="M470.3 74.4L475.4 71.7L470.2 70L465.1 72.7Z" fill="#ff4100"/>
<path d="M264.4 130L269.8 124.5L265 122.4L259.6 127.8Z" fill="#ffc800"/>
<path d="M393.1 88L398.3 84.3L393.2 82.4L388 86.1Z" fill="#ff6200"/>
<path d="M213 156.3L218.4 150.1L213.7 147.9L208.2 154Z" fill="#f6ff00"/>
<path d="M480.6 73.4L485.7 70.7L480.4 69.1L475.4 71.7Z" fill="#ff3f00"/>
<path d="M300.5 115.4L305.8 110.5L300.9 108.5L295.6 113.3Z" fill="#ffa400"/>
<path d="M238.7 142.6L244.1 136.8L239.3 134.6L233.9 140.4Z" fill="#ffe700"/>
<path d="M490.9 72.4L495.9 69.9L490.7 68.3L485.7 70.7Z" fill="#ff3c00"/>
<path d="M346.8 100.4L352 96.1L347.1 94.1L341.8 98.3Z" fill="#ff7f00"/>
<path d="M403.4 86.2L408.6 82.6L403.5 80.8L398.3 84.3Z" fill="#ff5d00"/>
<path d="M501.2 71.5L506.2 69.1L501 67.5L495.9 69.9Z" fill="#ff3a00"/>
<path d="M511.5 70.7L516.5 68.4L511.2 66.8L506.2 69.1Z" fill="#ff3800"/>
<path d="M274.7 126.7L280 121.4L275.2 119.3L269.8 124.5Z" fill="#ffbf00"/>
<path d="M521.8 70L526.8 67.8L521.5 66.2L516.5 68.4Z" fill="#ff3600"/>
<path d="M310.7 112.6L316 107.8L311.1 105.8L305.8 110.5Z" fill="#ff9c00"/>
<path d="M413.7 84.5L418.9 81L413.8 79.2L408.6 82.6Z" fill="#ff5800"/>
<path d="M532.2 69.4L537.1 67.2L531.8 65.7L526.8 67.8Z" fill="#ff3400"/>
<path d="M357 98.1L362.3 93.9L357.3 92L352 96.1Z" fill="#ff7900"/>
<path d="M248.9 139L254.3 133.3L249.5 131.1L244.1 136.8Z" fill="#ffdc00"/>
<path d="M542.5 68.8L547.4 66.8L542 65.3L537.1 67.2Z" fill="#ff3300"/>
<path d="M223.1 152.4L228.5 146.3L223.8 144.1L218.4 150.1Z" fill="#fffd00"/>
<path d="M552.8 68.3L557.7 66.4L552.3 64.9L547.4 66.8Z" fill="#ff3100"/>
<path d="M563.1 67.9L568 66L562.6 64.6L557.7 66.4Z" fill="#ff3000"/>
<path d="M573.4 67.5L578.2 65.8L572.8 64.4L568 66Z" fill="#ff3000"/>
<path d="M424 82.9L429.1 79.5L424 77.7L418.9 81Z" fill="#ff5400"/>
<path d="M614.6 66.8L619.4 65.5L613.9 64.2L609.1 65.5Z" fill="#ff2e00"/>
<path d="M583.7 67.2L588.5 65.6L583.1 64.2L578.2 65.8Z" fill="#ff2f00"/>
<path d="M604.3 66.9L609.1 65.5L603.6 64.2L598.8 65.5Z" fill="#ff2e00"/>
<path d="M594 67L598.8 65.5L593.3 64.2L588.5 65.6Z" fill="#ff2e00"/>
<path d="M320.9 109.9L326.3 105.2L321.3 103.2L316 107.8Z" fill="#ff9500"/>
<path d="M284.9 123.6L290.2 118.4L285.4 116.3L280 121.4Z" fill="#ffb600"/>
<path d="M367.3 95.9L372.6 91.8L367.5 89.9L362.3 93.9Z" fill="#ff7300"/>
<path d="M434.3 81.4L439.4 78.1L434.3 76.3L429.1 79.5Z" fill="#ff5000"/>
<path d="M207.5 162.7L213 156.3L208.2 154L202.8 160.4Z" fill="#e9ff00"/>
<path d="M259.1 135.5L264.4 130L259.6 127.8L254.3 133.3Z" fill="#ffd300"/>
<path d="M444.6 79.9L449.7 76.8L444.5 75L439.4 78.1Z" fill="#ff4c00"/>
<path d="M377.6 93.8L382.8 89.8L377.8 87.9L372.6 91.8Z" fill="#ff6d00"/>
<path d="M233.3 148.6L238.7 142.6L233.9 140.4L228.5 146.3Z" fill="#fff200"/>
<path d="M331.2 107.3L336.5 102.8L331.6 100.7L326.3 105.2Z" fill="#ff8e00"/>
<path d="M295.1 120.5L300.5 115.4L295.6 113.3L290.2 118.4Z" fill="#ffae00"/>
<path d="M454.9 78.6L460 75.6L454.8 73.8L449.7 76.8Z" fill="#ff4800"/>
<path d="M387.9 91.8L393.1 88L388 86.1L382.8 89.8Z" fill="#ff6800"/>
<path d="M465.2 77.4L470.3 74.4L465.1 72.7L460 75.6Z" fill="#ff4500"/>
<path d="M341.5 104.8L346.8 100.4L341.8 98.3L336.5 102.8Z" fill="#ff8700"/>
<path d="M269.3 132.2L274.7 126.7L269.8 124.5L264.4 130Z" fill="#ffc900"/>
<path d="M475.5 76.2L480.6 73.4L475.4 71.7L470.3 74.4Z" fill="#ff4200"/>
<path d="M217.7 158.7L223.1 152.4L218.4 150.1L213 156.3Z" fill="#f4ff00"/>
<path d="M398.2 89.9L403.4 86.2L398.3 84.3L393.1 88Z" fill="#ff6200"/>
<path d="M243.5 144.9L248.9 139L244.1 136.8L238.7 142.6Z" fill="#ffe800"/>
<path d="M305.4 117.6L310.7 112.6L305.8 110.5L300.5 115.4Z" fill="#ffa600"/>
<path d="M485.9 75.1L490.9 72.4L485.7 70.7L480.6 73.4Z" fill="#ff3f00"/>
<path d="M496.2 74.1L501.2 71.5L495.9 69.9L490.9 72.4Z" fill="#ff3c00"/>
<path d="M351.8 102.4L357 98.1L352 96.1L346.8 100.4Z" fill="#ff8000"/>
<path d="M408.5 88.1L413.7 84.5L408.6 82.6L403.4 86.2Z" fill="#ff5e00"/>
<path d="M506.5 73.2L511.5 70.7L506.2 69.1L501.2 71.5Z" fill="#ff3a00"/>
<path d="M279.5 128.9L284.9 123.6L280 121.4L274.7 126.7Z" fill="#ffc000"/>
<path d="M516.9 72.4L521.8 70L516.5 68.4L511.5 70.7Z" fill="#ff3800"/>
<path d="M202.1 169.3L207.5 162.7L202.8 160.4L197.4 166.9Z" fill="#dcff00"/>
<path d="M315.6 114.8L320.9 109.9L316 107.8L310.7 112.6Z" fill="#ff9e00"/>
<path d="M527.2 71.6L532.2 69.4L526.8 67.8L521.8 70Z" fill="#ff3600"/>
<path d="M418.8 86.4L424 82.9L418.9 81L413.7 84.5Z" fill="#ff5900"/>
<path d="M253.7 141.3L259.1 135.5L254.3 133.3L248.9 139Z" fill="#ffde00"/>
<path d="M362 100.1L367.3 95.9L362.3 93.9L357 98.1Z" fill="#ff7a00"/>
<path d="M227.9 154.8L233.3 148.6L228.5 146.3L223.1 152.4Z" fill="#ffff00"/>
<path d="M537.5 71L542.5 68.8L537.1 67.2L532.2 69.4Z" fill="#ff3400"/>
<path d="M547.8 70.4L552.8 68.3L547.4 66.8L542.5 68.8Z" fill="#ff3300"/>
<path d="M558.2 69.8L563.1 67.9L557.7 66.4L552.8 68.3Z" fill="#ff3100"/>
<path d="M429.1 84.8L434.3 81.4L429.1 79.5L424 82.9Z" fill="#ff5400"/>
<path d="M568.5 69.4L573.4 67.5L568 66L563.1 67.9Z" fill="#ff3000"/>
<path d="M578.8 69L583.7 67.2L578.2 65.8L573.4 67.5Z" fill="#ff2f00"/>
<path d="M589.2 68.7L594 67L588.5 65.6L583.7 67.2Z" fill="#ff2f00"/>
<path d="M620.2 68.2L624.9 66.8L619.4 65.5L614.6 66.8Z" fill="#ff2e00"/>
<path d="M599.5 68.5L604.3 66.9L598.8 65.5L594 67Z" fill="#ff2e00"/>
<path d="M609.8 68.3L614.6 66.8L609.1 65.5L604.3 66.9Z" fill="#ff2e00"/>
<path d="M325.9 112.1L331.2 107.3L326.3 105.2L320.9 109.9Z" fill="#ff9600"/>
<path d="M289.8 125.8L295.1 120.5L290.2 118.4L284.9 123.6Z" fill="#ffb800"/>
<path d="M372.3 97.9L377.6 93.8L372.6 91.8L367.3 95.9Z" fill="#ff7400"/>
<path d="M439.5 83.2L444.6 79.9L439.4 78.1L434.3 81.4Z" fill="#ff5000"/>
<path d="M212.3 165.1L217.7 158.7L213 156.3L207.5 162.7Z" fill="#e7ff00"/>
<path d="M263.9 137.8L269.3 132.2L264.4 130L259.1 135.5Z" fill="#ffd400"/>
<path d="M238.1 150.9L243.5 144.9L238.7 142.6L233.3 148.6Z" fill="#fff400"/>
<path d="M449.8 81.8L454.9 78.6L449.7 76.8L444.6 79.9Z" fill="#ff4c00"/>
<path d="M382.7 95.8L387.9 91.8L382.8 89.8L377.6 93.8Z" fill="#ff6e00"/>
<path d="M336.2 109.4L341.5 104.8L336.5 102.8L331.2 107.3Z" fill="#ff8f00"/>
<path d="M300 122.7L305.4 117.6L300.5 115.4L295.1 120.5Z" fill="#ffaf00"/>
<path d="M460.1 80.4L465.2 77.4L460 75.6L454.9 78.6Z" fill="#ff4900"/>
<path d="M196.7 176L202.1 169.3L197.4 166.9L192 173.6Z" fill="#ceff00"/>
<path d="M393 93.8L398.2 89.9L393.1 88L387.9 91.8Z" fill="#ff6900"/>
<path d="M470.5 79.2L475.5 76.2L470.3 74.4L465.2 77.4Z" fill="#ff4500"/>
<path d="M274.1 134.5L279.5 128.9L274.7 126.7L269.3 132.2Z" fill="#ffcb00"/>
<path d="M346.5 106.9L351.8 102.4L346.8 100.4L341.5 104.8Z" fill="#ff8800"/>
<path d="M222.5 161.1L227.9 154.8L223.1 152.4L217.7 158.7Z" fill="#f3ff00"/>
<path d="M480.8 78L485.9 75.1L480.6 73.4L475.5 76.2Z" fill="#ff4200"/>
<path d="M248.3 147.2L253.7 141.3L248.9 139L243.5 144.9Z" fill="#ffea00"/>
<path d="M310.3 119.8L315.6 114.8L310.7 112.6L305.4 117.6Z" fill="#ffa700"/>
<path d="M403.3 91.9L408.5 88.1L403.4 86.2L398.2 89.9Z" fill="#ff6300"/>
<path d="M491.1 76.9L496.2 74.1L490.9 72.4L485.9 75.1Z" fill="#ff3f00"/>
<path d="M356.8 104.5L362 100.1L357 98.1L351.8 102.4Z" fill="#ff8100"/>
<path d="M501.5 75.9L506.5 73.2L501.2 71.5L496.2 74.1Z" fill="#ff3d00"/>
<path d="M413.6 90L418.8 86.4L413.7 84.5L408.5 88.1Z" fill="#ff5e00"/>
<path d="M284.4 131.2L289.8 125.8L284.9 123.6L279.5 128.9Z" fill="#ffc200"/>
<path d="M511.8 74.9L516.9 72.4L511.5 70.7L506.5 73.2Z" fill="#ff3a00"/>
<path d="M206.8 171.7L212.3 165.1L207.5 162.7L202.1 169.3Z" fill="#daff00"/>
<path d="M320.6 117L325.9 112.1L320.9 109.9L315.6 114.8Z" fill="#ff9f00"/>
<path d="M522.2 74.1L527.2 71.6L521.8 70L516.9 72.4Z" fill="#ff3800"/>
<path d="M424 88.3L429.1 84.8L424 82.9L418.8 86.4Z" fill="#ff5a00"/>
<path d="M258.5 143.6L263.9 137.8L259.1 135.5L253.7 141.3Z" fill="#ffe000"/>
<path d="M232.7 157.2L238.1 150.9L233.3 148.6L227.9 154.8Z" fill="#fdff00"/>
<path d="M532.5 73.3L537.5 71L532.2 69.4L527.2 71.6Z" fill="#ff3600"/>
<path d="M367.1 102.2L372.3 97.9L367.3 95.9L362 100.1Z" fill="#ff7b00"/>
<path d="M542.9 72.6L547.8 70.4L542.5 68.8L537.5 71Z" fill="#ff3400"/>
<path d="M553.3 72L558.2 69.8L552.8 68.3L547.8 70.4Z" fill="#ff3300"/>
<path d="M191.2 182.9L196.7 176L192 173.6L186.5 180.4Z" fill="#c0ff00"/>
<path d="M434.3 86.7L439.5 83.2L434.3 81.4L429.1 84.8Z" fill="#ff5500"/>
<path d="M563.6 71.4L568.5 69.4L563.1 67.9L558.2 69.8Z" fill="#ff3100"/>
<path d="M294.7 128L300 122.7L295.1 120.5L289.8 125.8Z" fill="#ffb900"/>
<path d="M574 70.9L578.8 69L573.4 67.5L568.5 69.4Z" fill="#ff3000"/>
<path d="M330.9 114.2L336.2 109.4L331.2 107.3L325.9 112.1Z" fill="#ff9800"/>
<path d="M584.3 70.5L589.2 68.7L583.7 67.2L578.8 69Z" fill="#ff2f00"/>
<path d="M377.4 100L382.7 95.8L377.6 93.8L372.3 97.9Z" fill="#ff7500"/>
<path d="M594.7 70.2L599.5 68.5L594 67L589.2 68.7Z" fill="#ff2e00"/>
<path d="M605 69.9L609.8 68.3L604.3 66.9L599.5 68.5Z" fill="#ff2e00"/>
<path d="M625.7 69.6L630.5 68.1L624.9 66.8L620.2 68.2Z" fill="#ff2d00"/>
<path d="M615.4 69.7L620.2 68.2L614.6 66.8L609.8 68.3Z" fill="#ff2d00"/>
<path d="M444.6 85.1L449.8 81.8L444.6 79.9L439.5 83.2Z" fill="#ff5100"/>
<path d="M217 167.6L222.5 161.1L217.7 158.7L212.3 165.1Z" fill="#e5ff00"/>
<path d="M268.7 140.1L274.1 134.5L269.3 132.2L263.9 137.8Z" fill="#ffd600"/>
<path d="M242.9 153.3L248.3 147.2L243.5 144.9L238.1 150.9Z" fill="#fff600"/>
<path d="M455 83.7L460.1 80.4L454.9 78.6L449.8 81.8Z" fill="#ff4d00"/>
<path d="M387.7 97.8L393 93.8L387.9 91.8L382.7 95.8Z" fill="#ff6f00"/>
<path d="M341.2 111.6L346.5 106.9L341.5 104.8L336.2 109.4Z" fill="#ff9000"/>
<path d="M304.9 125L310.3 119.8L305.4 117.6L300 122.7Z" fill="#ffb100"/>
<path d="M465.4 82.3L470.5 79.2L465.2 77.4L460.1 80.4Z" fill="#ff4900"/>
<path d="M201.4 178.5L206.8 171.7L202.1 169.3L196.7 176Z" fill="#ccff00"/>
<path d="M398.1 95.8L403.3 91.9L398.2 89.9L393 93.8Z" fill="#ff6a00"/>
<path d="M475.7 81L480.8 78L475.5 76.2L470.5 79.2Z" fill="#ff4600"/>
<path d="M279 136.8L284.4 131.2L279.5 128.9L274.1 134.5Z" fill="#ffcd00"/>
<path d="M351.5 109.1L356.8 104.5L351.8 102.4L346.5 106.9Z" fill="#ff8900"/>
<path d="M227.2 163.5L232.7 157.2L227.9 154.8L222.5 161.1Z" fill="#f1ff00"/>
<path d="M253.1 149.6L258.5 143.6L253.7 141.3L248.3 147.2Z" fill="#ffec00"/>
<path d="M486.1 79.8L491.1 76.9L485.9 75.1L480.8 78Z" fill="#ff4300"/>
<path d="M315.2 122L320.6 117L315.6 114.8L310.3 119.8Z" fill="#ffa800"/>
<path d="M185.8 190L191.2 182.9L186.5 180.4L181.1 187.4Z" fill="#b1ff00"/>
<path d="M408.4 93.9L413.6 90L408.5 88.1L403.3 91.9Z" fill="#ff6400"/>
<path d="M496.4 78.7L501.5 75.9L496.2 74.1L491.1 76.9Z" fill="#ff4000"/>
<path d="M361.8 106.6L367.1 102.2L362 100.1L356.8 104.5Z" fill="#ff8300"/>
<path d="M506.8 77.6L511.8 74.9L506.5 73.2L501.5 75.9Z" fill="#ff3d00"/>
<path d="M418.8 92.1L424 88.3L418.8 86.4L413.6 90Z" fill="#ff5f00"/>
<path d="M289.3 133.5L294.7 128L289.8 125.8L284.4 131.2Z" fill="#ffc400"/>
<path d="M211.6 174.2L217 167.6L212.3 165.1L206.8 171.7Z" fill="#d8ff00"/>
<path d="M517.2 76.7L522.2 74.1L516.9 72.4L511.8 74.9Z" fill="#ff3b00"/>
<path d="M325.5 119.2L330.9 114.2L325.9 112.1L320.6 117Z" fill="#ffa100"/>
<path d="M263.4 146L268.7 140.1L263.9 137.8L258.5 143.6Z" fill="#ffe100"/>
<path d="M237.5 159.6L242.9 153.3L238.1 150.9L232.7 157.2Z" fill="#fcff00"/>
<path d="M527.6 75.8L532.5 73.3L527.2 71.6L522.2 74.1Z" fill="#ff3800"/>
<path d="M429.1 90.3L434.3 86.7L429.1 84.8L424 88.3Z" fill="#ff5b00"/>
<path d="M372.1 104.3L377.4 100L372.3 97.9L367.1 102.2Z" fill="#ff7c00"/>
<path d="M537.9 75L542.9 72.6L537.5 71L532.5 73.3Z" fill="#ff3600"/>
<path d="M196 185.5L201.4 178.5L196.7 176L191.2 182.9Z" fill="#beff00"/>
<path d="M548.3 74.3L553.3 72L547.8 70.4L542.9 72.6Z" fill="#ff3400"/>
<path d="M439.5 88.6L444.6 85.1L439.5 83.2L434.3 86.7Z" fill="#ff5600"/>
<path d="M558.7 73.6L563.6 71.4L558.2 69.8L553.3 72Z" fill="#ff3300"/>
<path d="M299.6 130.3L304.9 125L300 122.7L294.7 128Z" fill="#ffbb00"/>
<path d="M335.8 116.4L341.2 111.6L336.2 109.4L330.9 114.2Z" fill="#ff9900"/>
<path d="M569.1 73L574 70.9L568.5 69.4L563.6 71.4Z" fill="#ff3100"/>
<path d="M382.5 102.1L387.7 97.8L382.7 95.8L377.4 100Z" fill="#ff7600"/>
<path d="M579.4 72.5L584.3 70.5L578.8 69L574 70.9Z" fill="#ff3000"/>
<path d="M589.8 72.1L594.7 70.2L589.2 68.7L584.3 70.5Z" fill="#ff2f00"/>
<path d="M180.3 197.2L185.8 190L181.1 187.4L175.6 194.6Z" fill="#a2ff00"/>
<path d="M600.2 71.7L605 69.9L599.5 68.5L594.7 70.2Z" fill="#ff2e00"/>
<path d="M221.8 170.1L227.2 163.5L222.5 161.1L217 167.6Z" fill="#e3ff00"/>
<path d="M449.9 87.1L455 83.7L449.8 81.8L444.6 85.1Z" fill="#ff5200"/>
<path d="M610.6 71.4L615.4 69.7L609.8 68.3L605 69.9Z" fill="#ff2d00"/>
<path d="M620.9 71.2L625.7 69.6L620.2 68.2L615.4 69.7Z" fill="#ff2d00"/>
<path d="M631.3 71L636.1 69.5L630.5 68.1L625.7 69.6Z" fill="#ff2d00"/>
<path d="M273.6 142.5L279 136.8L274.1 134.5L268.7 140.1Z" fill="#ffd800"/>
<path d="M247.7 155.8L253.1 149.6L248.3 147.2L242.9 153.3Z" fill="#fff800"/>
<path d="M392.8 99.9L398.1 95.8L393 93.8L387.7 97.8Z" fill="#ff7000"/>
<path d="M346.2 113.8L351.5 109.1L346.5 106.9L341.2 111.6Z" fill="#ff9200"/>
<path d="M460.2 85.6L465.4 82.3L460.1 80.4L455 83.7Z" fill="#ff4e00"/>
<path d="M309.9 127.3L315.2 122L310.3 119.8L304.9 125Z" fill="#ffb200"/>
<path d="M206.1 181.1L211.6 174.2L206.8 171.7L201.4 178.5Z" fill="#caff00"/>
<path d="M470.6 84.2L475.7 81L470.5 79.2L465.4 82.3Z" fill="#ff4a00"/>
<path d="M403.2 97.9L408.4 93.9L403.3 91.9L398.1 95.8Z" fill="#ff6b00"/>
<path d="M283.9 139.1L289.3 133.5L284.4 131.2L279 136.8Z" fill="#ffce00"/>
<path d="M481 82.9L486.1 79.8L480.8 78L475.7 81Z" fill="#ff4700"/>
<path d="M356.5 111.3L361.8 106.6L356.8 104.5L351.5 109.1Z" fill="#ff8b00"/>
<path d="M232 166L237.5 159.6L232.7 157.2L227.2 163.5Z" fill="#efff00"/>
<path d="M257.9 152L263.4 146L258.5 143.6L253.1 149.6Z" fill="#ffed00"/>
<path d="M190.5 192.6L196 185.5L191.2 182.9L185.8 190Z" fill="#afff00"/>
<path d="M320.2 124.3L325.5 119.2L320.6 117L315.2 122Z" fill="#ffaa00"/>
<path d="M491.4 81.7L496.4 78.7L491.1 76.9L486.1 79.8Z" fill="#ff4300"/>
<path d="M413.6 95.9L418.8 92.1L413.6 90L408.4 93.9Z" fill="#ff6600"/>
<path d="M501.8 80.5L506.8 77.6L501.5 75.9L496.4 78.7Z" fill="#ff4000"/>
<path d="M174.9 204.6L180.3 197.2L175.6 194.6L170.2 201.9Z" fill="#93ff00"/>
<path d="M366.9 108.8L372.1 104.3L367.1 102.2L361.8 106.6Z" fill="#ff8400"/>
<path d="M294.2 135.8L299.6 130.3L294.7 128L289.3 133.5Z" fill="#ffc500"/>
<path d="M216.4 176.8L221.8 170.1L217 167.6L211.6 174.2Z" fill="#d6ff00"/>
<path d="M423.9 94.1L429.1 90.3L424 88.3L418.8 92.1Z" fill="#ff6100"/>
<path d="M512.2 79.5L517.2 76.7L511.8 74.9L506.8 77.6Z" fill="#ff3e00"/>
<path d="M330.5 121.5L335.8 116.4L330.9 114.2L325.5 119.2Z" fill="#ffa200"/>
<path d="M522.5 78.5L527.6 75.8L522.2 74.1L517.2 76.7Z" fill="#ff3b00"/>
<path d="M268.2 148.4L273.6 142.5L268.7 140.1L263.4 146Z" fill="#ffe300"/>
<path d="M242.3 162.1L247.7 155.8L242.9 153.3L237.5 159.6Z" fill="#faff00"/>
<path d="M377.2 106.5L382.5 102.1L377.4 100L372.1 104.3Z" fill="#ff7e00"/>
<path d="M434.3 92.3L439.5 88.6L434.3 86.7L429.1 90.3Z" fill="#ff5c00"/>
<path d="M532.9 77.6L537.9 75L532.5 73.3L527.6 75.8Z" fill="#ff3900"/>
<path d="M200.7 188.1L206.1 181.1L201.4 178.5L196 185.5Z" fill="#bcff00"/>
<path d="M543.3 76.7L548.3 74.3L542.9 72.6L537.9 75Z" fill="#ff3700"/>
<path d="M553.7 76L558.7 73.6L553.3 72L548.3 74.3Z" fill="#ff3500"/>
<path d="M304.5 132.7L309.9 127.3L304.9 125L299.6 130.3Z" fill="#ffbc00"/>
<path d="M444.7 90.6L449.9 87.1L444.6 85.1L439.5 88.6Z" fill="#ff5700"/>
<path d="M340.8 118.7L346.2 113.8L341.2 111.6L335.8 116.4Z" fill="#ff9b00"/>
<path d="M564.1 75.3L569.1 73L563.6 71.4L558.7 73.6Z" fill="#ff3300"/>
<path d="M387.6 104.2L392.8 99.9L387.7 97.8L382.5 102.1Z" fill="#ff7800"/>
<path d="M574.5 74.7L579.4 72.5L574 70.9L569.1 73Z" fill="#ff3100"/>
<path d="M185.1 199.8L190.5 192.6L185.8 190L180.3 197.2Z" fill="#a0ff00"/>
<path d="M226.6 172.6L232 166L227.2 163.5L221.8 170.1Z" fill="#e1ff00"/>
<path d="M584.9 74.2L589.8 72.1L584.3 70.5L579.4 72.5Z" fill="#ff3000"/>
<path d="M278.5 144.9L283.9 139.1L279 136.8L273.6 142.5Z" fill="#ffda00"/>
<path d="M455.1 89.1L460.2 85.6L455 83.7L449.9 87.1Z" fill="#ff5300"/>
<path d="M595.3 73.7L600.2 71.7L594.7 70.2L589.8 72.1Z" fill="#ff2f00"/>
<path d="M252.5 158.2L257.9 152L253.1 149.6L247.7 155.8Z" fill="#fffa00"/>
<path d="M605.7 73.3L610.6 71.4L605 69.9L600.2 71.7Z" fill="#ff2e00"/>
<path d="M616.1 72.9L620.9 71.2L615.4 69.7L610.6 71.4Z" fill="#ff2d00"/>
<path d="M626.5 72.7L631.3 71L625.7 69.6L620.9 71.2Z" fill="#ff2d00"/>
<path d="M636.9 72.5L641.7 70.9L636.1 69.5L631.3 71Z" fill="#ff2c00"/>
<path d="M169.4 212.1L174.9 204.6L170.2 201.9L164.7 209.5Z" fill="#83ff00"/>
<path d="M397.9 102.1L403.2 97.9L398.1 95.8L392.8 99.9Z" fill="#ff7200"/>
<path d="M351.2 116L356.5 111.3L351.5 109.1L346.2 113.8Z" fill="#ff9300"/>
<path d="M465.5 87.6L470.6 84.2L465.4 82.3L460.2 85.6Z" fill="#ff4f00"/>
<path d="M314.8 129.6L320.2 124.3L315.2 122L309.9 127.3Z" fill="#ffb400"/>
<path d="M210.9 183.7L216.4 176.8L211.6 174.2L206.1 181.1Z" fill="#c8ff00"/>
<path d="M475.9 86.1L481 82.9L475.7 81L470.6 84.2Z" fill="#ff4b00"/>
<path d="M408.3 100L413.6 95.9L408.4 93.9L403.2 97.9Z" fill="#ff6c00"/>
<path d="M288.8 141.5L294.2 135.8L289.3 133.5L283.9 139.1Z" fill="#ffd000"/>
<path d="M236.8 168.6L242.3 162.1L237.5 159.6L232 166Z" fill="#edff00"/>
<path d="M361.6 113.5L366.9 108.8L361.8 106.6L356.5 111.3Z" fill="#ff8c00"/>
<path d="M486.3 84.8L491.4 81.7L486.1 79.8L481 82.9Z" fill="#ff4800"/>
<path d="M262.8 154.5L268.2 148.4L263.4 146L257.9 152Z" fill="#ffef00"/>
<path d="M195.2 195.2L200.7 188.1L196 185.5L190.5 192.6Z" fill="#adff00"/>
<path d="M325.2 126.6L330.5 121.5L325.5 119.2L320.2 124.3Z" fill="#ffac00"/>
<path d="M418.7 98L423.9 94.1L418.8 92.1L413.6 95.9Z" fill="#ff6700"/>
<path d="M496.7 83.6L501.8 80.5L496.4 78.7L491.4 81.7Z" fill="#ff4400"/>
<path d="M179.6 207.3L185.1 199.8L180.3 197.2L174.9 204.6Z" fill="#90ff00"/>
<path d="M371.9 111L377.2 106.5L372.1 104.3L366.9 108.8Z" fill="#ff8600"/>
<path d="M507.1 82.4L512.2 79.5L506.8 77.6L501.8 80.5Z" fill="#ff4100"/>
<path d="M221.1 179.4L226.6 172.6L221.8 170.1L216.4 176.8Z" fill="#d4ff00"/>
<path d="M299.1 138.2L304.5 132.7L299.6 130.3L294.2 135.8Z" fill="#ffc700"/>
<path d="M164 219.9L169.4 212.1L164.7 209.5L159.3 217.1Z" fill="#72ff00"/>
<path d="M429.1 96.2L434.3 92.3L429.1 90.3L423.9 94.1Z" fill="#ff6200"/>
<path d="M517.5 81.3L522.5 78.5L517.2 76.7L512.2 79.5Z" fill="#ff3e00"/>
<path d="M335.5 123.8L340.8 118.7L335.8 116.4L330.5 121.5Z" fill="#ffa400"/>
<path d="M247.1 164.6L252.5 158.2L247.7 155.8L242.3 162.1Z" fill="#f8ff00"/>
<path d="M273.1 150.9L278.5 144.9L273.6 142.5L268.2 148.4Z" fill="#ffe500"/>
<path d="M527.9 80.3L532.9 77.6L527.6 75.8L522.5 78.5Z" fill="#ff3c00"/>
<path d="M382.3 108.7L387.6 104.2L382.5 102.1L377.2 106.5Z" fill="#ff7f00"/>
<path d="M439.5 94.4L444.7 90.6L439.5 88.6L434.3 92.3Z" fill="#ff5d00"/>
<path d="M205.5 190.7L210.9 183.7L206.1 181.1L200.7 188.1Z" fill="#b9ff00"/>
<path d="M538.3 79.4L543.3 76.7L537.9 75L532.9 77.6Z" fill="#ff3900"/>
<path d="M548.8 78.5L553.7 76L548.3 74.3L543.3 76.7Z" fill="#ff3700"/>
<path d="M309.5 135.1L314.8 129.6L309.9 127.3L304.5 132.7Z" fill="#ffbe00"/>
<path d="M345.9 121L351.2 116L346.2 113.8L340.8 118.7Z" fill="#ff9c00"/>
<path d="M449.9 92.7L455.1 89.1L449.9 87.1L444.7 90.6Z" fill="#ff5800"/>
<path d="M559.2 77.7L564.1 75.3L558.7 73.6L553.7 76Z" fill="#ff3500"/>
<path d="M189.8 202.5L195.2 195.2L190.5 192.6L185.1 199.8Z" fill="#9eff00"/>
<path d="M392.7 106.4L397.9 102.1L392.8 99.9L387.6 104.2Z" fill="#ff7900"/>
<path d="M231.4 175.2L236.8 168.6L232 166L226.6 172.6Z" fill="#dfff00"/>
<path d="M569.6 77L574.5 74.7L569.1 73L564.1 75.3Z" fill="#ff3300"/>
<path d="M283.4 147.4L288.8 141.5L283.9 139.1L278.5 144.9Z" fill="#ffdc00"/>
<path d="M580 76.4L584.9 74.2L579.4 72.5L574.5 74.7Z" fill="#ff3200"/>
<path d="M257.4 160.8L262.8 154.5L257.9 152L252.5 158.2Z" fill="#fffc00"/>
<path d="M460.3 91.1L465.5 87.6L460.2 85.6L455.1 89.1Z" fill="#ff5400"/>
<path d="M590.4 75.8L595.3 73.7L589.8 72.1L584.9 74.2Z" fill="#ff3000"/>
<path d="M174.1 214.9L179.6 207.3L174.9 204.6L169.4 212.1Z" fill="#80ff00"/>
<path d="M600.9 75.3L605.7 73.3L600.2 71.7L595.3 73.7Z" fill="#ff2f00"/>
<path d="M611.3 74.9L616.1 72.9L610.6 71.4L605.7 73.3Z" fill="#ff2e00"/>
<path d="M158.5 227.7L164 219.9L159.3 217.1L153.8 225Z" fill="#62ff00"/>
<path d="M621.7 74.5L626.5 72.7L620.9 71.2L616.1 72.9Z" fill="#ff2d00"/>
<path d="M356.2 118.3L361.6 113.5L356.5 111.3L351.2 116Z" fill="#ff9500"/>
<path d="M403.1 104.2L408.3 100L403.2 97.9L397.9 102.1Z" fill="#ff7300"/>
<path d="M632.1 74.2L636.9 72.5L631.3 71L626.5 72.7Z" fill="#ff2c00"/>
<path d="M642.5 74L647.3 72.3L641.7 70.9L636.9 72.5Z" fill="#ff2c00"/>
<path d="M319.8 132L325.2 126.6L320.2 124.3L314.8 129.6Z" fill="#ffb600"/>
<path d="M470.8 89.6L475.9 86.1L470.6 84.2L465.5 87.6Z" fill="#ff5000"/>
<path d="M215.7 186.3L221.1 179.4L216.4 176.8L210.9 183.7Z" fill="#c6ff00"/>
<path d="M481.2 88.1L486.3 84.8L481 82.9L475.9 86.1Z" fill="#ff4c00"/>
<path d="M293.7 144L299.1 138.2L294.2 135.8L288.8 141.5Z" fill="#ffd200"/>
<path d="M413.5 102.2L418.7 98L413.6 95.9L408.3 100Z" fill="#ff6d00"/>
<path d="M241.7 171.1L247.1 164.6L242.3 162.1L236.8 168.6Z" fill="#ebff00"/>
<path d="M366.6 115.8L371.9 111L366.9 108.8L361.6 113.5Z" fill="#ff8e00"/>
<path d="M267.7 157L273.1 150.9L268.2 148.4L262.8 154.5Z" fill="#fff100"/>
<path d="M200 197.9L205.5 190.7L200.7 188.1L195.2 195.2Z" fill="#aaff00"/>
<path d="M491.6 86.8L496.7 83.6L491.4 81.7L486.3 84.8Z" fill="#ff4800"/>
<path d="M330.2 129L335.5 123.8L330.5 121.5L325.2 126.6Z" fill="#ffae00"/>
<path d="M423.9 100.2L429.1 96.2L423.9 94.1L418.7 98Z" fill="#ff6800"/>
<path d="M184.3 210L189.8 202.5L185.1 199.8L179.6 207.3Z" fill="#8eff00"/>
<path d="M502 85.5L507.1 82.4L501.8 80.5L496.7 83.6Z" fill="#ff4500"/>
<path d="M377 113.3L382.3 108.7L377.2 106.5L371.9 111Z" fill="#ff8700"/>
<path d="M226 182L231.4 175.2L226.6 172.6L221.1 179.4Z" fill="#d1ff00"/>
<path d="M168.7 222.7L174.1 214.9L169.4 212.1L164 219.9Z" fill="#70ff00"/>
<path d="M304.1 140.7L309.5 135.1L304.5 132.7L299.1 138.2Z" fill="#ffc900"/>
<path d="M512.5 84.3L517.5 81.3L512.2 79.5L507.1 82.4Z" fill="#ff4200"/>
<path d="M153 235.8L158.5 227.7L153.8 225L148.3 232.9Z" fill="#51ff00"/>
<path d="M434.3 98.3L439.5 94.4L434.3 92.3L429.1 96.2Z" fill="#ff6300"/>
<path d="M340.5 126.1L345.9 121L340.8 118.7L335.5 123.8Z" fill="#ffa600"/>
<path d="M252 167.2L257.4 160.8L252.5 158.2L247.1 164.6Z" fill="#f5ff00"/>
<path d="M522.9 83.2L527.9 80.3L522.5 78.5L517.5 81.3Z" fill="#ff3f00"/>
<path d="M278 153.4L283.4 147.4L278.5 144.9L273.1 150.9Z" fill="#ffe700"/>
<path d="M533.3 82.1L538.3 79.4L532.9 77.6L527.9 80.3Z" fill="#ff3c00"/>
<path d="M387.4 110.9L392.7 106.4L387.6 104.2L382.3 108.7Z" fill="#ff8100"/>
<path d="M210.2 193.4L215.7 186.3L210.9 183.7L205.5 190.7Z" fill="#b7ff00"/>
<path d="M444.7 96.5L449.9 92.7L444.7 90.6L439.5 94.4Z" fill="#ff5e00"/>
<path d="M543.8 81.2L548.8 78.5L543.3 76.7L538.3 79.4Z" fill="#ff3a00"/>
<path d="M314.4 137.5L319.8 132L314.8 129.6L309.5 135.1Z" fill="#ffc000"/>
<path d="M350.9 123.3L356.2 118.3L351.2 116L345.9 121Z" fill="#ff9e00"/>
<path d="M554.2 80.3L559.2 77.7L553.7 76L548.8 78.5Z" fill="#ff3700"/>
<path d="M194.5 205.3L200 197.9L195.2 195.2L189.8 202.5Z" fill="#9bff00"/>
<path d="M455.2 94.8L460.3 91.1L455.1 89.1L449.9 92.7Z" fill="#ff5900"/>
<path d="M236.2 177.8L241.7 171.1L236.8 168.6L231.4 175.2Z" fill="#ddff00"/>
<path d="M397.8 108.6L403.1 104.2L397.9 102.1L392.7 106.4Z" fill="#ff7b00"/>
<path d="M564.7 79.5L569.6 77L564.1 75.3L559.2 77.7Z" fill="#ff3500"/>
<path d="M288.3 149.9L293.7 144L288.8 141.5L283.4 147.4Z" fill="#ffde00"/>
<path d="M575.1 78.7L580 76.4L574.5 74.7L569.6 77Z" fill="#ff3300"/>
<path d="M262.3 163.3L267.7 157L262.8 154.5L257.4 160.8Z" fill="#fffe00"/>
<path d="M178.9 217.7L184.3 210L179.6 207.3L174.1 214.9Z" fill="#7eff00"/>
<path d="M585.5 78.1L590.4 75.8L584.9 74.2L580 76.4Z" fill="#ff3200"/>
<path d="M465.6 93.1L470.8 89.6L465.5 87.6L460.3 91.1Z" fill="#ff5500"/>
<path d="M163.2 230.6L168.7 222.7L164 219.9L158.5 227.7Z" fill="#5fff00"/>
<path d="M596 77.5L600.9 75.3L595.3 73.7L590.4 75.8Z" fill="#ff3000"/>
<path d="M147.5 244L153 235.8L148.3 232.9L142.9 241.1Z" fill="#3fff00"/>
<path d="M361.3 120.7L366.6 115.8L361.6 113.5L356.2 118.3Z" fill="#ff9700"/>
<path d="M606.4 76.9L611.3 74.9L605.7 73.3L600.9 75.3Z" fill="#ff2f00"/>
<path d="M324.8 134.4L330.2 129L325.2 126.6L319.8 132Z" fill="#ffb800"/>
<path d="M408.2 106.5L413.5 102.2L408.3 100L403.1 104.2Z" fill="#ff7500"/>
<path d="M616.9 76.5L621.7 74.5L616.1 72.9L611.3 74.9Z" fill="#ff2e00"/>
<path d="M220.5 189L226 182L221.1 179.4L215.7 186.3Z" fill="#c3ff00"/>
<path d="M627.3 76.1L632.1 74.2L626.5 72.7L621.7 74.5Z" fill="#ff2d00"/>
<path d="M476 91.6L481.2 88.1L475.9 86.1L470.8 89.6Z" fill="#ff5100"/>
<path d="M637.8 75.7L642.5 74L636.9 72.5L632.1 74.2Z" fill="#ff2c00"/>
<path d="M648.2 75.5L653 73.8L647.3 72.3L642.5 74Z" fill="#ff2b00"/>
<path d="M298.7 146.5L304.1 140.7L299.1 138.2L293.7 144Z" fill="#ffd400"/>
<path d="M246.5 173.8L252 167.2L247.1 164.6L241.7 171.1Z" fill="#e8ff00"/>
<path d="M486.5 90.1L491.6 86.8L486.3 84.8L481.2 88.1Z" fill="#ff4d00"/>
<path d="M418.7 104.4L423.9 100.2L418.7 98L413.5 102.2Z" fill="#ff6f00"/>
<path d="M204.8 200.6L210.2 193.4L205.5 190.7L200 197.9Z" fill="#a8ff00"/>
<path d="M272.6 159.6L278 153.4L273.1 150.9L267.7 157Z" fill="#fff400"/>
<path d="M371.7 118.1L377 113.3L371.9 111L366.6 115.8Z" fill="#ff9000"/>
<path d="M335.2 131.4L340.5 126.1L335.5 123.8L330.2 129Z" fill="#ffaf00"/>
<path d="M496.9 88.8L502 85.5L496.7 83.6L491.6 86.8Z" fill="#ff4900"/>
<path d="M189.1 212.8L194.5 205.3L189.8 202.5L184.3 210Z" fill="#8bff00"/>
<path d="M429.1 102.4L434.3 98.3L429.1 96.2L423.9 100.2Z" fill="#ff6900"/>
<path d="M507.4 87.5L512.5 84.3L507.1 82.4L502 85.5Z" fill="#ff4600"/>
<path d="M230.8 184.7L236.2 177.8L231.4 175.2L226 182Z" fill="#cfff00"/>
<path d="M173.4 225.5L178.9 217.7L174.1 214.9L168.7 222.7Z" fill="#6dff00"/>
<path d="M382.1 115.6L387.4 110.9L382.3 108.7L377 113.3Z" fill="#ff8900"/>
<path d="M142.1 252.4L147.5 244L142.9 241.1L137.4 249.4Z" fill="#2dff00"/>
<path d="M309.1 143.2L314.4 137.5L309.5 135.1L304.1 140.7Z" fill="#ffcb00"/>
<path d="M157.7 238.7L163.2 230.6L158.5 227.7L153 235.8Z" fill="#4eff00"/>
<path d="M517.8 86.2L522.9 83.2L517.5 81.3L512.5 84.3Z" fill="#ff4300"/>
<path d="M439.5 100.4L444.7 96.5L439.5 94.4L434.3 98.3Z" fill="#ff6400"/>
<path d="M345.6 128.5L350.9 123.3L345.9 121L340.5 126.1Z" fill="#ffa800"/>
<path d="M256.8 169.8L262.3 163.3L257.4 160.8L252 167.2Z" fill="#f3ff00"/>
<path d="M282.9 156L288.3 149.9L283.4 147.4L278 153.4Z" fill="#ffea00"/>
<path d="M528.3 85.1L533.3 82.1L527.9 80.3L522.9 83.2Z" fill="#ff4000"/>
<path d="M215 196.1L220.5 189L215.7 186.3L210.2 193.4Z" fill="#b5ff00"/>
<path d="M392.5 113.2L397.8 108.6L392.7 106.4L387.4 110.9Z" fill="#ff8200"/>
<path d="M538.8 84L543.8 81.2L538.3 79.4L533.3 82.1Z" fill="#ff3d00"/>
<path d="M450 98.6L455.2 94.8L449.9 92.7L444.7 96.5Z" fill="#ff5f00"/>
<path d="M319.4 140L324.8 134.4L319.8 132L314.4 137.5Z" fill="#ffc200"/>
<path d="M549.2 83L554.2 80.3L548.8 78.5L543.8 81.2Z" fill="#ff3a00"/>
<path d="M356 125.7L361.3 120.7L356.2 118.3L350.9 123.3Z" fill="#ffa000"/>
<path d="M199.3 208.1L204.8 200.6L200 197.9L194.5 205.3Z" fill="#99ff00"/>
<path d="M241.1 180.5L246.5 173.8L241.7 171.1L236.2 177.8Z" fill="#dbff00"/>
<path d="M559.7 82.1L564.7 79.5L559.2 77.7L554.2 80.3Z" fill="#ff3800"/>
<path d="M460.4 96.9L465.6 93.1L460.3 91.1L455.2 94.8Z" fill="#ff5b00"/>
<path d="M403 110.9L408.2 106.5L403.1 104.2L397.8 108.6Z" fill="#ff7c00"/>
<path d="M293.3 152.4L298.7 146.5L293.7 144L288.3 149.9Z" fill="#ffe000"/>
<path d="M267.2 165.9L272.6 159.6L267.7 157L262.3 163.3Z" fill="#feff00"/>
<path d="M570.1 81.3L575.1 78.7L569.6 77L564.7 79.5Z" fill="#ff3600"/>
<path d="M183.6 220.5L189.1 212.8L184.3 210L178.9 217.7Z" fill="#7bff00"/>
<path d="M136.6 260.9L142.1 252.4L137.4 249.4L131.9 257.9Z" fill="#1bff00"/>
<path d="M580.6 80.5L585.5 78.1L580 76.4L575.1 78.7Z" fill="#ff3400"/>
<path d="M167.9 233.5L173.4 225.5L168.7 222.7L163.2 230.6Z" fill="#5dff00"/>
<path d="M152.2 246.9L157.7 238.7L153 235.8L147.5 244Z" fill="#3cff00"/>
<path d="M470.9 95.2L476 91.6L470.8 89.6L465.6 93.1Z" fill="#ff5600"/>
<path d="M591.1 79.8L596 77.5L590.4 75.8L585.5 78.1Z" fill="#ff3200"/>
<path d="M366.4 123L371.7 118.1L366.6 115.8L361.3 120.7Z" fill="#ff9900"/>
<path d="M329.8 136.9L335.2 131.4L330.2 129L324.8 134.4Z" fill="#ffba00"/>
<path d="M225.3 191.7L230.8 184.7L226 182L220.5 189Z" fill="#c1ff00"/>
<path d="M601.5 79.2L606.4 76.9L600.9 75.3L596 77.5Z" fill="#ff3000"/>
<path d="M413.4 108.7L418.7 104.4L413.5 102.2L408.2 106.5Z" fill="#ff7600"/>
<path d="M612 78.6L616.9 76.5L611.3 74.9L606.4 76.9Z" fill="#ff2f00"/>
<path d="M481.4 93.7L486.5 90.1L481.2 88.1L476 91.6Z" fill="#ff5200"/>
<path d="M622.5 78.1L627.3 76.1L621.7 74.5L616.9 76.5Z" fill="#ff2e00"/>
<path d="M632.9 77.7L637.8 75.7L632.1 74.2L627.3 76.1Z" fill="#ff2d00"/>
<path d="M643.4 77.3L648.2 75.5L642.5 74L637.8 75.7Z" fill="#ff2c00"/>
<path d="M653.9 77L658.6 75.3L653 73.8L648.2 75.5Z" fill="#ff2b00"/>
<path d="M303.7 149L309.1 143.2L304.1 140.7L298.7 146.5Z" fill="#ffd600"/>
<path d="M251.4 176.4L256.8 169.8L252 167.2L246.5 173.8Z" fill="#e6ff00"/>
<path d="M209.6 203.4L215 196.1L210.2 193.4L204.8 200.6Z" fill="#a5ff00"/>
<path d="M423.9 106.6L429.1 102.4L423.9 100.2L418.7 104.4Z" fill="#ff7000"/>
<path d="M277.5 162.2L282.9 156L278 153.4L272.6 159.6Z" fill="#fff600"/>
<path d="M491.8 92.2L496.9 88.8L491.6 86.8L486.5 90.1Z" fill="#ff4e00"/>
<path d="M376.8 120.4L382.1 115.6L377 113.3L371.7 118.1Z" fill="#ff9100"/>
<path d="M340.2 133.9L345.6 128.5L340.5 126.1L335.2 131.4Z" fill="#ffb100"/>
<path d="M193.8 215.7L199.3 208.1L194.5 205.3L189.1 212.8Z" fill="#89ff00"/>
<path d="M502.3 90.8L507.4 87.5L502 85.5L496.9 88.8Z" fill="#ff4a00"/>
<path d="M131.1 269.6L136.6 260.9L131.9 257.9L126.4 266.6Z" fill="#08ff00"/>
<path d="M434.3 104.6L439.5 100.4L434.3 98.3L429.1 102.4Z" fill="#ff6b00"/>
<path d="M178.1 228.4L183.6 220.5L178.9 217.7L173.4 225.5Z" fill="#6bff00"/>
<path d="M235.6 187.4L241.1 180.5L236.2 177.8L230.8 184.7Z" fill="#cdff00"/>
<path d="M146.7 255.3L152.2 246.9L147.5 244L142.1 252.4Z" fill="#2aff00"/>
<path d="M512.8 89.5L517.8 86.2L512.5 84.3L507.4 87.5Z" fill="#ff4700"/>
<path d="M162.4 241.6L167.9 233.5L163.2 230.6L157.7 238.7Z" fill="#4bff00"/>
<path d="M387.3 117.9L392.5 113.2L387.4 110.9L382.1 115.6Z" fill="#ff8b00"/>
<path d="M314 145.7L319.4 140L314.4 137.5L309.1 143.2Z" fill="#ffcd00"/>
<path d="M261.7 172.5L267.2 165.9L262.3 163.3L256.8 169.8Z" fill="#f1ff00"/>
<path d="M350.6 131L356 125.7L350.9 123.3L345.6 128.5Z" fill="#ffa900"/>
<path d="M287.9 158.6L293.3 152.4L288.3 149.9L282.9 156Z" fill="#ffec00"/>
<path d="M523.2 88.2L528.3 85.1L522.9 83.2L517.8 86.2Z" fill="#ff4400"/>
<path d="M444.8 102.6L450 98.6L444.7 96.5L439.5 100.4Z" fill="#ff6600"/>
<path d="M219.9 198.9L225.3 191.7L220.5 189L215 196.1Z" fill="#b2ff00"/>
<path d="M533.7 87L538.8 84L533.3 82.1L528.3 85.1Z" fill="#ff4100"/>
<path d="M397.7 115.5L403 110.9L397.8 108.6L392.5 113.2Z" fill="#ff8400"/>
<path d="M455.3 100.8L460.4 96.9L455.2 94.8L450 98.6Z" fill="#ff6100"/>
<path d="M544.2 86L549.2 83L543.8 81.2L538.8 84Z" fill="#ff3e00"/>
<path d="M324.4 142.5L329.8 136.9L324.8 134.4L319.4 140Z" fill="#ffc400"/>
<path d="M204.1 210.9L209.6 203.4L204.8 200.6L199.3 208.1Z" fill="#96ff00"/>
<path d="M361.1 128.1L366.4 123L361.3 120.7L356 125.7Z" fill="#ffa200"/>
<path d="M246 183.2L251.4 176.4L246.5 173.8L241.1 180.5Z" fill="#d8ff00"/>
<path d="M554.7 84.9L559.7 82.1L554.2 80.3L549.2 83Z" fill="#ff3b00"/>
<path d="M125.6 278.4L131.1 269.6L126.4 266.6L121 275.4Z" fill="#00ff0c"/>
<path d="M465.7 99L470.9 95.2L465.6 93.1L460.4 96.9Z" fill="#ff5c00"/>
<path d="M298.3 155L303.7 149L298.7 146.5L293.3 152.4Z" fill="#ffe200"/>
<path d="M408.2 113.2L413.4 108.7L408.2 106.5L403 110.9Z" fill="#ff7e00"/>
<path d="M188.4 223.4L193.8 215.7L189.1 212.8L183.6 220.5Z" fill="#79ff00"/>
<path d="M565.2 84L570.1 81.3L564.7 79.5L559.7 82.1Z" fill="#ff3900"/>
<path d="M272.1 168.6L277.5 162.2L272.6 159.6L267.2 165.9Z" fill="#fbff00"/>
<path d="M141.3 263.9L146.7 255.3L142.1 252.4L136.6 260.9Z" fill="#18ff00"/>
<path d="M172.6 236.4L178.1 228.4L173.4 225.5L167.9 233.5Z" fill="#5aff00"/>
<path d="M156.9 249.9L162.4 241.6L157.7 238.7L152.2 246.9Z" fill="#39ff00"/>
<path d="M575.7 83.1L580.6 80.5L575.1 78.7L570.1 81.3Z" fill="#ff3600"/>
<path d="M476.2 97.4L481.4 93.7L476 91.6L470.9 95.2Z" fill="#ff5800"/>
<path d="M586.2 82.3L591.1 79.8L585.5 78.1L580.6 80.5Z" fill="#ff3400"/>
<path d="M230.2 194.5L235.6 187.4L230.8 184.7L225.3 191.7Z" fill="#beff00"/>
<path d="M371.5 125.4L376.8 120.4L371.7 118.1L366.4 123Z" fill="#ff9a00"/>
<path d="M334.9 139.4L340.2 133.9L335.2 131.4L329.8 136.9Z" fill="#ffbc00"/>
<path d="M596.6 81.6L601.5 79.2L596 77.5L591.1 79.8Z" fill="#ff3200"/>
<path d="M418.6 111L423.9 106.6L418.7 104.4L413.4 108.7Z" fill="#ff7800"/>
<path d="M607.1 80.9L612 78.6L606.4 76.9L601.5 79.2Z" fill="#ff3100"/>
<path d="M486.7 95.8L491.8 92.2L486.5 90.1L481.4 93.7Z" fill="#ff5300"/>
<path d="M617.6 80.3L622.5 78.1L616.9 76.5L612 78.6Z" fill="#ff2f00"/>
<path d="M256.3 179.1L261.7 172.5L256.8 169.8L251.4 176.4Z" fill="#e3ff00"/>
<path d="M308.7 151.6L314 145.7L309.1 143.2L303.7 149Z" fill="#ffd900"/>
<path d="M628.1 79.8L632.9 77.7L627.3 76.1L622.5 78.1Z" fill="#ff2e00"/>
<path d="M214.4 206.3L219.9 198.9L215 196.1L209.6 203.4Z" fill="#a3ff00"/>
<path d="M638.6 79.3L643.4 77.3L637.8 75.7L632.9 77.7Z" fill="#ff2d00"/>
<path d="M282.5 164.9L287.9 158.6L282.9 156L277.5 162.2Z" fill="#fff800"/>
<path d="M649.1 78.9L653.9 77L648.2 75.5L643.4 77.3Z" fill="#ff2c00"/>
<path d="M120.1 287.4L125.6 278.4L121 275.4L115.5 284.3Z" fill="#00ff21"/>
<path d="M429.1 108.9L434.3 104.6L429.1 102.4L423.9 106.6Z" fill="#ff7200"/>
<path d="M659.6 78.6L664.3 76.8L658.6 75.3L653.9 77Z" fill="#ff2b00"/>
<path d="M382 122.8L387.3 117.9L382.1 115.6L376.8 120.4Z" fill="#ff9300"/>
<path d="M497.2 94.3L502.3 90.8L496.9 88.8L491.8 92.2Z" fill="#ff4f00"/>
<path d="M345.3 136.3L350.6 131L345.6 128.5L340.2 133.9Z" fill="#ffb400"/>
<path d="M198.6 218.5L204.1 210.9L199.3 208.1L193.8 215.7Z" fill="#86ff00"/>
<path d="M135.8 272.7L141.3 263.9L136.6 260.9L131.1 269.6Z" fill="#05ff00"/>
<path d="M507.7 92.8L512.8 89.5L507.4 87.5L502.3 90.8Z" fill="#ff4b00"/>
<path d="M182.9 231.3L188.4 223.4L183.6 220.5L178.1 228.4Z" fill="#68ff00"/>
<path d="M240.5 190.2L246 183.2L241.1 180.5L235.6 187.4Z" fill="#caff00"/>
<path d="M151.4 258.4L156.9 249.9L152.2 246.9L146.7 255.3Z" fill="#27ff00"/>
<path d="M439.6 106.8L444.8 102.6L439.5 100.4L434.3 104.6Z" fill="#ff6c00"/>
<path d="M167.2 244.6L172.6 236.4L167.9 233.5L162.4 241.6Z" fill="#48ff00"/>
<path d="M319.1 148.3L324.4 142.5L319.4 140L314 145.7Z" fill="#ffcf00"/>
<path d="M392.4 120.3L397.7 115.5L392.5 113.2L387.3 117.9Z" fill="#ff8c00"/>
<path d="M518.2 91.5L523.2 88.2L517.8 86.2L512.8 89.5Z" fill="#ff4800"/>
<path d="M266.7 175.2L272.1 168.6L267.2 165.9L261.7 172.5Z" fill="#eeff00"/>
<path d="M292.8 161.2L298.3 155L293.3 152.4L287.9 158.6Z" fill="#ffee00"/>
<path d="M355.7 133.4L361.1 128.1L356 125.7L350.6 131Z" fill="#ffac00"/>
<path d="M450.1 104.9L455.3 100.8L450 98.6L444.8 102.6Z" fill="#ff6700"/>
<path d="M528.7 90.2L533.7 87L528.3 85.1L523.2 88.2Z" fill="#ff4500"/>
<path d="M224.7 201.7L230.2 194.5L225.3 191.7L219.9 198.9Z" fill="#afff00"/>
<path d="M402.9 117.9L408.2 113.2L403 110.9L397.7 115.5Z" fill="#ff8600"/>
<path d="M539.2 89L544.2 86L538.8 84L533.7 87Z" fill="#ff4100"/>
<path d="M460.5 103L465.7 99L460.4 96.9L455.3 100.8Z" fill="#ff6200"/>
<path d="M329.5 145L334.9 139.4L329.8 136.9L324.4 142.5Z" fill="#ffc700"/>
<path d="M208.9 213.8L214.4 206.3L209.6 203.4L204.1 210.9Z" fill="#93ff00"/>
<path d="M549.7 87.9L554.7 84.9L549.2 83L544.2 86Z" fill="#ff3e00"/>
<path d="M130.3 281.6L135.8 272.7L131.1 269.6L125.6 278.4Z" fill="#00ff10"/>
<path d="M250.8 186L256.3 179.1L251.4 176.4L246 183.2Z" fill="#d6ff00"/>
<path d="M366.2 130.6L371.5 125.4L366.4 123L361.1 128.1Z" fill="#ffa400"/>
<path d="M193.1 226.3L198.6 218.5L193.8 215.7L188.4 223.4Z" fill="#76ff00"/>
<path d="M560.2 86.9L565.2 84L559.7 82.1L554.7 84.9Z" fill="#ff3c00"/>
<path d="M303.2 157.7L308.7 151.6L303.7 149L298.3 155Z" fill="#ffe400"/>
<path d="M277 171.3L282.5 164.9L277.5 162.2L272.1 168.6Z" fill="#f9ff00"/>
<path d="M146 267L151.4 258.4L146.7 255.3L141.3 263.9Z" fill="#15ff00"/>
<path d="M413.4 115.6L418.6 111L413.4 108.7L408.2 113.2Z" fill="#ff8000"/>
<path d="M471 101.2L476.2 97.4L470.9 95.2L465.7 99Z" fill="#ff5d00"/>
<path d="M177.4 239.4L182.9 231.3L178.1 228.4L172.6 236.4Z" fill="#57ff00"/>
<path d="M161.7 253L167.2 244.6L162.4 241.6L156.9 249.9Z" fill="#37ff00"/>
<path d="M570.7 85.9L575.7 83.1L570.1 81.3L565.2 84Z" fill="#ff3900"/>
<path d="M581.2 85L586.2 82.3L580.6 80.5L575.7 83.1Z" fill="#ff3700"/>
<path d="M235 197.3L240.5 190.2L235.6 187.4L230.2 194.5Z" fill="#bcff00"/>
<path d="M339.9 141.9L345.3 136.3L340.2 133.9L334.9 139.4Z" fill="#ffbe00"/>
<path d="M481.5 99.5L486.7 95.8L481.4 93.7L476.2 97.4Z" fill="#ff5900"/>
<path d="M376.6 127.9L382 122.8L376.8 120.4L371.5 125.4Z" fill="#ff9c00"/>
<path d="M591.7 84.2L596.6 81.6L591.1 79.8L586.2 82.3Z" fill="#ff3500"/>
<path d="M423.8 113.3L429.1 108.9L423.9 106.6L418.6 111Z" fill="#ff7900"/>
<path d="M602.2 83.4L607.1 80.9L601.5 79.2L596.6 81.6Z" fill="#ff3300"/>
<path d="M261.2 181.9L266.7 175.2L261.7 172.5L256.3 179.1Z" fill="#e1ff00"/>
<path d="M313.7 154.2L319.1 148.3L314 145.7L308.7 151.6Z" fill="#ffdb00"/>
<path d="M492 97.9L497.2 94.3L491.8 92.2L486.7 95.8Z" fill="#ff5500"/>
<path d="M612.7 82.7L617.6 80.3L612 78.6L607.1 80.9Z" fill="#ff3100"/>
<path d="M219.2 209.2L224.7 201.7L219.9 198.9L214.4 206.3Z" fill="#a0ff00"/>
<path d="M124.8 290.6L130.3 281.6L125.6 278.4L120.1 287.4Z" fill="#00ff25"/>
<path d="M287.4 167.5L292.8 161.2L287.9 158.6L282.5 164.9Z" fill="#fffb00"/>
<path d="M623.2 82.1L628.1 79.8L622.5 78.1L617.6 80.3Z" fill="#ff2f00"/>
<path d="M633.8 81.5L638.6 79.3L632.9 77.7L628.1 79.8Z" fill="#ff2e00"/>
<path d="M434.3 111.2L439.6 106.8L434.3 104.6L429.1 108.9Z" fill="#ff7400"/>
<path d="M387.1 125.3L392.4 120.3L387.3 117.9L382 122.8Z" fill="#ff9500"/>
<path d="M644.3 81L649.1 78.9L643.4 77.3L638.6 79.3Z" fill="#ff2d00"/>
<path d="M350.4 138.9L355.7 133.4L350.6 131L345.3 136.3Z" fill="#ffb600"/>
<path d="M502.6 96.4L507.7 92.8L502.3 90.8L497.2 94.3Z" fill="#ff5100"/>
<path d="M203.4 221.5L208.9 213.8L204.1 210.9L198.6 218.5Z" fill="#83ff00"/>
<path d="M654.8 80.6L659.6 78.6L653.9 77L649.1 78.9Z" fill="#ff2c00"/>
<path d="M140.5 275.8L146 267L141.3 263.9L135.8 272.7Z" fill="#02ff00"/>
<path d="M665.3 80.2L670 78.3L664.3 76.8L659.6 78.6Z" fill="#ff2b00"/>
<path d="M187.7 234.3L193.1 226.3L188.4 223.4L182.9 231.3Z" fill="#65ff00"/>
<path d="M156.2 261.5L161.7 253L156.9 249.9L151.4 258.4Z" fill="#24ff00"/>
<path d="M245.4 193L250.8 186L246 183.2L240.5 190.2Z" fill="#c7ff00"/>
<path d="M171.9 247.6L177.4 239.4L172.6 236.4L167.2 244.6Z" fill="#45ff00"/>
<path d="M513.1 94.9L518.2 91.5L512.8 89.5L507.7 92.8Z" fill="#ff4d00"/>
<path d="M444.8 109.1L450.1 104.9L444.8 102.6L439.6 106.8Z" fill="#ff6e00"/>
<path d="M324.1 150.9L329.5 145L324.4 142.5L319.1 148.3Z" fill="#ffd200"/>
<path d="M397.6 122.7L402.9 117.9L397.7 115.5L392.4 120.3Z" fill="#ff8e00"/>
<path d="M271.6 177.9L277 171.3L272.1 168.6L266.7 175.2Z" fill="#ecff00"/>
<path d="M523.6 93.6L528.7 90.2L523.2 88.2L518.2 91.5Z" fill="#ff4900"/>
<path d="M297.8 163.9L303.2 157.7L298.3 155L292.8 161.2Z" fill="#fff100"/>
<path d="M360.8 136L366.2 130.6L361.1 128.1L355.7 133.4Z" fill="#ffae00"/>
<path d="M229.6 204.6L235 197.3L230.2 194.5L224.7 201.7Z" fill="#adff00"/>
<path d="M455.3 107.1L460.5 103L455.3 100.8L450.1 104.9Z" fill="#ff6900"/>
<path d="M534.1 92.3L539.2 89L533.7 87L528.7 90.2Z" fill="#ff4600"/>
<path d="M408.1 120.3L413.4 115.6L408.2 113.2L402.9 117.9Z" fill="#ff8800"/>
<path d="M544.6 91L549.7 87.9L544.2 86L539.2 89Z" fill="#ff4200"/>
<path d="M213.8 216.7L219.2 209.2L214.4 206.3L208.9 213.8Z" fill="#90ff00"/>
<path d="M334.5 147.6L339.9 141.9L334.9 139.4L329.5 145Z" fill="#ffc900"/>
<path d="M135 284.7L140.5 275.8L135.8 272.7L130.3 281.6Z" fill="#00ff13"/>
<path d="M465.8 105.2L471 101.2L465.7 99L460.5 103Z" fill="#ff6400"/>
<path d="M255.8 188.8L261.2 181.9L256.3 179.1L250.8 186Z" fill="#d3ff00"/>
<path d="M371.3 133.1L376.6 127.9L371.5 125.4L366.2 130.6Z" fill="#ffa600"/>
<path d="M555.2 89.9L560.2 86.9L554.7 84.9L549.7 87.9Z" fill="#ff3f00"/>
<path d="M198 229.3L203.4 221.5L198.6 218.5L193.1 226.3Z" fill="#73ff00"/>
<path d="M150.7 270.1L156.2 261.5L151.4 258.4L146 267Z" fill="#12ff00"/>
<path d="M308.3 160.3L313.7 154.2L308.7 151.6L303.2 157.7Z" fill="#ffe700"/>
<path d="M282 174.1L287.4 167.5L282.5 164.9L277 171.3Z" fill="#f6ff00"/>
<path d="M182.2 242.4L187.7 234.3L182.9 231.3L177.4 239.4Z" fill="#54ff00"/>
<path d="M166.4 256L171.9 247.6L167.2 244.6L161.7 253Z" fill="#33ff00"/>
<path d="M418.6 117.9L423.8 113.3L418.6 111L413.4 115.6Z" fill="#ff8100"/>
<path d="M565.7 88.8L570.7 85.9L565.2 84L560.2 86.9Z" fill="#ff3d00"/>
<path d="M476.4 103.4L481.5 99.5L476.2 97.4L471 101.2Z" fill="#ff5f00"/>
<path d="M576.2 87.8L581.2 85L575.7 83.1L570.7 85.9Z" fill="#ff3a00"/>
<path d="M239.9 200.2L245.4 193L240.5 190.2L235 197.3Z" fill="#b9ff00"/>
<path d="M345 144.5L350.4 138.9L345.3 136.3L339.9 141.9Z" fill="#ffc000"/>
<path d="M381.8 130.4L387.1 125.3L382 122.8L376.6 127.9Z" fill="#ff9e00"/>
<path d="M586.8 86.9L591.7 84.2L586.2 82.3L581.2 85Z" fill="#ff3800"/>
<path d="M486.9 101.7L492 97.9L486.7 95.8L481.5 99.5Z" fill="#ff5a00"/>
<path d="M429.1 115.7L434.3 111.2L429.1 108.9L423.8 113.3Z" fill="#ff7b00"/>
<path d="M597.3 86L602.2 83.4L596.6 81.6L591.7 84.2Z" fill="#ff3500"/>
<path d="M266.1 184.7L271.6 177.9L266.7 175.2L261.2 181.9Z" fill="#deff00"/>
<path d="M224.1 212.1L229.6 204.6L224.7 201.7L219.2 209.2Z" fill="#9dff00"/>
<path d="M318.7 156.9L324.1 150.9L319.1 148.3L313.7 154.2Z" fill="#ffdd00"/>
<path d="M129.5 293.8L135 284.7L130.3 281.6L124.8 290.6Z" fill="#00ff28"/>
<path d="M607.8 85.2L612.7 82.7L607.1 80.9L602.2 83.4Z" fill="#ff3300"/>
<path d="M497.4 100.1L502.6 96.4L497.2 94.3L492 97.9Z" fill="#ff5600"/>
<path d="M292.4 170.3L297.8 163.9L292.8 161.2L287.4 167.5Z" fill="#fffd00"/>
<path d="M618.4 84.5L623.2 82.1L617.6 80.3L612.7 82.7Z" fill="#ff3100"/>
<path d="M392.3 127.7L397.6 122.7L392.4 120.3L387.1 125.3Z" fill="#ff9700"/>
<path d="M208.3 224.5L213.8 216.7L208.9 213.8L203.4 221.5Z" fill="#80ff00"/>
<path d="M628.9 83.8L633.8 81.5L628.1 79.8L623.2 82.1Z" fill="#ff3000"/>
<path d="M439.6 113.5L444.8 109.1L439.6 106.8L434.3 111.2Z" fill="#ff7500"/>
<path d="M145.2 279L150.7 270.1L146 267L140.5 275.8Z" fill="#00ff02"/>
<path d="M355.5 141.5L360.8 136L355.7 133.4L350.4 138.9Z" fill="#ffb800"/>
<path d="M639.4 83.2L644.3 81L638.6 79.3L633.8 81.5Z" fill="#ff2e00"/>
<path d="M508 98.5L513.1 94.9L507.7 92.8L502.6 96.4Z" fill="#ff5200"/>
<path d="M192.5 237.3L198 229.3L193.1 226.3L187.7 234.3Z" fill="#62ff00"/>
<path d="M650 82.7L654.8 80.6L649.1 78.9L644.3 81Z" fill="#ff2d00"/>
<path d="M160.9 264.6L166.4 256L161.7 253L156.2 261.5Z" fill="#21ff00"/>
<path d="M176.7 250.7L182.2 242.4L177.4 239.4L171.9 247.6Z" fill="#42ff00"/>
<path d="M250.3 195.9L255.8 188.8L250.8 186L245.4 193Z" fill="#c5ff00"/>
<path d="M660.5 82.2L665.3 80.2L659.6 78.6L654.8 80.6Z" fill="#ff2c00"/>
<path d="M671 81.8L675.8 79.8L670 78.3L665.3 80.2Z" fill="#ff2b00"/>
<path d="M518.5 97.1L523.6 93.6L518.2 91.5L513.1 94.9Z" fill="#ff4e00"/>
<path d="M450.1 111.4L455.3 107.1L450.1 104.9L444.8 109.1Z" fill="#ff7000"/>
<path d="M329.1 153.5L334.5 147.6L329.5 145L324.1 150.9Z" fill="#ffd400"/>
<path d="M402.8 125.2L408.1 120.3L402.9 117.9L397.6 122.7Z" fill="#ff9000"/>
<path d="M276.5 180.7L282 174.1L277 171.3L271.6 177.9Z" fill="#e9ff00"/>
<path d="M302.8 166.6L308.3 160.3L303.2 157.7L297.8 163.9Z" fill="#fff300"/>
<path d="M366 138.5L371.3 133.1L366.2 130.6L360.8 136Z" fill="#ffb000"/>
<path d="M529 95.7L534.1 92.3L528.7 90.2L523.6 93.6Z" fill="#ff4a00"/>
<path d="M234.4 207.5L239.9 200.2L235 197.3L229.6 204.6Z" fill="#aaff00"/>
<path d="M460.6 109.4L465.8 105.2L460.5 103L455.3 107.1Z" fill="#ff6a00"/>
<path d="M539.6 94.3L544.6 91L539.2 89L534.1 92.3Z" fill="#ff4700"/>
<path d="M413.3 122.7L418.6 117.9L413.4 115.6L408.1 120.3Z" fill="#ff8a00"/>
<path d="M218.6 219.7L224.1 212.1L219.2 209.2L213.8 216.7Z" fill="#8dff00"/>
<path d="M139.7 288L145.2 279L140.5 275.8L135 284.7Z" fill="#00ff17"/>
<path d="M339.6 150.3L345 144.5L339.9 141.9L334.5 147.6Z" fill="#ffcb00"/>
<path d="M260.7 191.7L266.1 184.7L261.2 181.9L255.8 188.8Z" fill="#d0ff00"/>
<path d="M550.1 93.1L555.2 89.9L549.7 87.9L544.6 91Z" fill="#ff4300"/>
<path d="M471.2 107.5L476.4 103.4L471 101.2L465.8 105.2Z" fill="#ff6500"/>
<path d="M376.4 135.7L381.8 130.4L376.6 127.9L371.3 133.1Z" fill="#ffa800"/>
<path d="M202.8 232.4L208.3 224.5L203.4 221.5L198 229.3Z" fill="#70ff00"/>
<path d="M155.4 273.3L160.9 264.6L156.2 261.5L150.7 270.1Z" fill="#0eff00"/>
<path d="M313.3 163.1L318.7 156.9L313.7 154.2L308.3 160.3Z" fill="#ffe900"/>
<path d="M287 176.9L292.4 170.3L287.4 167.5L282 174.1Z" fill="#f4ff00"/>
<path d="M187 245.5L192.5 237.3L187.7 234.3L182.2 242.4Z" fill="#51ff00"/>
<path d="M171.2 259.2L176.7 250.7L171.9 247.6L166.4 256Z" fill="#30ff00"/>
<path d="M560.7 91.9L565.7 88.8L560.2 86.9L555.2 89.9Z" fill="#ff4000"/>
<path d="M423.8 120.4L429.1 115.7L423.8 113.3L418.6 117.9Z" fill="#ff8300"/>
<path d="M481.7 105.7L486.9 101.7L481.5 99.5L476.4 103.4Z" fill="#ff6000"/>
<path d="M571.2 90.8L576.2 87.8L570.7 85.9L565.7 88.8Z" fill="#ff3d00"/>
<path d="M244.8 203.1L250.3 195.9L245.4 193L239.9 200.2Z" fill="#b6ff00"/>
<path d="M350.1 147.1L355.5 141.5L350.4 138.9L345 144.5Z" fill="#ffc300"/>
<path d="M581.8 89.8L586.8 86.9L581.2 85L576.2 87.8Z" fill="#ff3b00"/>
<path d="M386.9 132.9L392.3 127.7L387.1 125.3L381.8 130.4Z" fill="#ffa100"/>
<path d="M492.3 104L497.4 100.1L492 97.9L486.9 101.7Z" fill="#ff5c00"/>
<path d="M434.3 118.1L439.6 113.5L434.3 111.2L429.1 115.7Z" fill="#ff7d00"/>
<path d="M592.3 88.8L597.3 86L591.7 84.2L586.8 86.9Z" fill="#ff3800"/>
<path d="M271.1 187.6L276.5 180.7L271.6 177.9L266.1 184.7Z" fill="#dbff00"/>
<path d="M229 215.1L234.4 207.5L229.6 204.6L224.1 212.1Z" fill="#9aff00"/>
<path d="M134.2 297.1L139.7 288L135 284.7L129.5 293.8Z" fill="#00ff2c"/>
<path d="M323.7 159.6L329.1 153.5L324.1 150.9L318.7 156.9Z" fill="#ffe000"/>
<path d="M602.9 87.9L607.8 85.2L602.2 83.4L597.3 86Z" fill="#ff3600"/>
<path d="M297.4 173.1L302.8 166.6L297.8 163.9L292.4 170.3Z" fill="#feff00"/>
<path d="M502.8 102.3L508 98.5L502.6 96.4L497.4 100.1Z" fill="#ff5700"/>
<path d="M613.4 87.1L618.4 84.5L612.7 82.7L607.8 85.2Z" fill="#ff3400"/>
<path d="M213.1 227.5L218.6 219.7L213.8 216.7L208.3 224.5Z" fill="#7dff00"/>
<path d="M149.9 282.2L155.4 273.3L150.7 270.1L145.2 279Z" fill="#00ff05"/>
<path d="M397.5 130.3L402.8 125.2L397.6 122.7L392.3 127.7Z" fill="#ff9900"/>
<path d="M624 86.3L628.9 83.8L623.2 82.1L618.4 84.5Z" fill="#ff3200"/>
<path d="M444.9 115.9L450.1 111.4L444.8 109.1L439.6 113.5Z" fill="#ff7700"/>
<path d="M360.6 144.1L366 138.5L360.8 136L355.5 141.5Z" fill="#ffba00"/>
<path d="M197.3 240.4L202.8 232.4L198 229.3L192.5 237.3Z" fill="#5fff00"/>
<path d="M165.7 267.8L171.2 259.2L166.4 256L160.9 264.6Z" fill="#1eff00"/>
<path d="M634.6 85.6L639.4 83.2L633.8 81.5L628.9 83.8Z" fill="#ff3000"/>
<path d="M181.5 253.8L187 245.5L182.2 242.4L176.7 250.7Z" fill="#3fff00"/>
<path d="M513.4 100.7L518.5 97.1L513.1 94.9L508 98.5Z" fill="#ff5300"/>
<path d="M255.2 198.8L260.7 191.7L255.8 188.8L250.3 195.9Z" fill="#c2ff00"/>
<path d="M645.1 85L650 82.7L644.3 81L639.4 83.2Z" fill="#ff2f00"/>
<path d="M655.7 84.4L660.5 82.2L654.8 80.6L650 82.7Z" fill="#ff2d00"/>
<path d="M334.2 156.2L339.6 150.3L334.5 147.6L329.1 153.5Z" fill="#ffd700"/>
<path d="M666.2 83.9L671 81.8L665.3 80.2L660.5 82.2Z" fill="#ff2c00"/>
<path d="M455.4 113.8L460.6 109.4L455.3 107.1L450.1 111.4Z" fill="#ff7200"/>
<path d="M523.9 99.2L529 95.7L523.6 93.6L518.5 97.1Z" fill="#ff4f00"/>
<path d="M676.8 83.4L681.6 81.4L675.8 79.8L671 81.8Z" fill="#ff2b00"/>
<path d="M281.5 183.6L287 176.9L282 174.1L276.5 180.7Z" fill="#e6ff00"/>
<path d="M408 127.7L413.3 122.7L408.1 120.3L402.8 125.2Z" fill="#ff9200"/>
<path d="M307.9 169.4L313.3 163.1L308.3 160.3L302.8 166.6Z" fill="#fff600"/>
<path d="M239.3 210.5L244.8 203.1L239.9 200.2L234.4 207.5Z" fill="#a7ff00"/>
<path d="M371.1 141.1L376.4 135.7L371.3 133.1L366 138.5Z" fill="#ffb200"/>
<path d="M534.5 97.8L539.6 94.3L534.1 92.3L529 95.7Z" fill="#ff4b00"/>
<path d="M466 111.8L471.2 107.5L465.8 105.2L460.6 109.4Z" fill="#ff6c00"/>
<path d="M144.4 291.2L149.9 282.2L145.2 279L139.7 288Z" fill="#00ff1a"/>
<path d="M223.5 222.7L229 215.1L224.1 212.1L218.6 219.7Z" fill="#8aff00"/>
<path d="M545.1 96.4L550.1 93.1L544.6 91L539.6 94.3Z" fill="#ff4800"/>
<path d="M418.5 125.2L423.8 120.4L418.6 117.9L413.3 122.7Z" fill="#ff8c00"/>
<path d="M265.6 194.6L271.1 187.6L266.1 184.7L260.7 191.7Z" fill="#cdff00"/>
<path d="M344.7 153L350.1 147.1L345 144.5L339.6 150.3Z" fill="#ffce00"/>
<path d="M207.6 235.4L213.1 227.5L208.3 224.5L202.8 232.4Z" fill="#6dff00"/>
<path d="M160.2 276.5L165.7 267.8L160.9 264.6L155.4 273.3Z" fill="#0bff00"/>
<path d="M381.6 138.3L386.9 132.9L381.8 130.4L376.4 135.7Z" fill="#ffaa00"/>
<path d="M476.5 109.9L481.7 105.7L476.4 103.4L471.2 107.5Z" fill="#ff6700"/>
<path d="M555.6 95.2L560.7 91.9L555.2 89.9L550.1 93.1Z" fill="#ff4500"/>
<path d="M191.8 248.6L197.3 240.4L192.5 237.3L187 245.5Z" fill="#4eff00"/>
<path d="M176 262.3L181.5 253.8L176.7 250.7L171.2 259.2Z" fill="#2dff00"/>
<path d="M292 179.7L297.4 173.1L292.4 170.3L287 176.9Z" fill="#f1ff00"/>
<path d="M318.3 165.8L323.7 159.6L318.7 156.9L313.3 163.1Z" fill="#ffec00"/>
<path d="M566.2 94L571.2 90.8L565.7 88.8L560.7 91.9Z" fill="#ff4100"/>
<path d="M429.1 122.8L434.3 118.1L429.1 115.7L423.8 120.4Z" fill="#ff8500"/>
<path d="M249.7 206.1L255.2 198.8L250.3 195.9L244.8 203.1Z" fill="#b3ff00"/>
<path d="M487.1 108L492.3 104L486.9 101.7L481.7 105.7Z" fill="#ff6200"/>
<path d="M576.8 92.8L581.8 89.8L576.2 87.8L571.2 90.8Z" fill="#ff3e00"/>
<path d="M355.2 149.8L360.6 144.1L355.5 141.5L350.1 147.1Z" fill="#ffc500"/>
<path d="M392.1 135.5L397.5 130.3L392.3 127.7L386.9 132.9Z" fill="#ffa300"/>
<path d="M587.4 91.8L592.3 88.8L586.8 86.9L581.8 89.8Z" fill="#ff3c00"/>
<path d="M138.9 300.4L144.4 291.2L139.7 288L134.2 297.1Z" fill="#00ff30"/>
<path d="M233.9 218.1L239.3 210.5L234.4 207.5L229 215.1Z" fill="#97ff00"/>
<path d="M276.1 190.5L281.5 183.6L276.5 180.7L271.1 187.6Z" fill="#d9ff00"/>
<path d="M497.7 106.2L502.8 102.3L497.4 100.1L492.3 104Z" fill="#ff5d00"/>
<path d="M439.6 120.5L444.9 115.9L439.6 113.5L434.3 118.1Z" fill="#ff7f00"/>
<path d="M328.8 162.3L334.2 156.2L329.1 153.5L323.7 159.6Z" fill="#ffe200"/>
<path d="M597.9 90.8L602.9 87.9L597.3 86L592.3 88.8Z" fill="#ff3900"/>
<path d="M302.4 175.9L307.9 169.4L302.8 166.6L297.4 173.1Z" fill="#fbff00"/>
<path d="M154.7 285.5L160.2 276.5L155.4 273.3L149.9 282.2Z" fill="#00ff09"/>
<path d="M218 230.6L223.5 222.7L218.6 219.7L213.1 227.5Z" fill="#7aff00"/>
<path d="M608.5 89.8L613.4 87.1L607.8 85.2L602.9 87.9Z" fill="#ff3700"/>
<path d="M508.2 104.5L513.4 100.7L508 98.5L502.8 102.3Z" fill="#ff5900"/>
<path d="M402.7 132.8L408 127.7L402.8 125.2L397.5 130.3Z" fill="#ff9c00"/>
<path d="M170.5 271L176 262.3L171.2 259.2L165.7 267.8Z" fill="#1bff00"/>
<path d="M365.7 146.7L371.1 141.1L366 138.5L360.6 144.1Z" fill="#ffbd00"/>
<path d="M202.1 243.5L207.6 235.4L202.8 232.4L197.3 240.4Z" fill="#5cff00"/>
<path d="M619.1 89L624 86.3L618.4 84.5L613.4 87.1Z" fill="#ff3400"/>
<path d="M450.2 118.3L455.4 113.8L450.1 111.4L444.9 115.9Z" fill="#ff7900"/>
<path d="M186.3 257L191.8 248.6L187 245.5L181.5 253.8Z" fill="#3cff00"/>
<path d="M260.2 201.8L265.6 194.6L260.7 191.7L255.2 198.8Z" fill="#bfff00"/>
<path d="M629.7 88.2L634.6 85.6L628.9 83.8L624 86.3Z" fill="#ff3200"/>
<path d="M518.8 102.9L523.9 99.2L518.5 97.1L513.4 100.7Z" fill="#ff5500"/>
<path d="M640.3 87.4L645.1 85L639.4 83.2L634.6 85.6Z" fill="#ff3100"/>
<path d="M339.3 159L344.7 153L339.6 150.3L334.2 156.2Z" fill="#ffd900"/>
<path d="M650.8 86.8L655.7 84.4L650 82.7L645.1 85Z" fill="#ff2f00"/>
<path d="M286.5 186.5L292 179.7L287 176.9L281.5 183.6Z" fill="#e4ff00"/>
<path d="M460.7 116.2L466 111.8L460.6 109.4L455.4 113.8Z" fill="#ff7400"/>
<path d="M661.4 86.2L666.2 83.9L660.5 82.2L655.7 84.4Z" fill="#ff2d00"/>
<path d="M312.9 172.2L318.3 165.8L313.3 163.1L307.9 169.4Z" fill="#fff900"/>
<path d="M413.2 130.2L418.5 125.2L413.3 122.7L408 127.7Z" fill="#ff9500"/>
<path d="M529.4 101.4L534.5 97.8L529 95.7L523.9 99.2Z" fill="#ff5100"/>
<path d="M244.3 213.5L249.7 206.1L244.8 203.1L239.3 210.5Z" fill="#a4ff00"/>
<path d="M672 85.6L676.8 83.4L671 81.8L666.2 83.9Z" fill="#ff2c00"/>
<path d="M376.3 143.8L381.6 138.3L376.4 135.7L371.1 141.1Z" fill="#ffb500"/>
<path d="M682.6 85.1L687.3 83L681.6 81.4L676.8 83.4Z" fill="#ff2b00"/>
<path d="M540 100L545.1 96.4L539.6 94.3L534.5 97.8Z" fill="#ff4d00"/>
<path d="M149.2 294.6L154.7 285.5L149.9 282.2L144.4 291.2Z" fill="#00ff1e"/>
<path d="M228.4 225.8L233.9 218.1L229 215.1L223.5 222.7Z" fill="#87ff00"/>
<path d="M471.3 114.2L476.5 109.9L471.2 107.5L466 111.8Z" fill="#ff6e00"/>
<path d="M270.6 197.5L276.1 190.5L271.1 187.6L265.6 194.6Z" fill="#caff00"/>
<path d="M423.8 127.7L429.1 122.8L423.8 120.4L418.5 125.2Z" fill="#ff8e00"/>
<path d="M349.8 155.7L355.2 149.8L350.1 147.1L344.7 153Z" fill="#ffd000"/>
<path d="M164.9 279.8L170.5 271L165.7 267.8L160.2 276.5Z" fill="#08ff00"/>
<path d="M550.6 98.6L555.6 95.2L550.1 93.1L545.1 96.4Z" fill="#ff4900"/>
<path d="M212.5 238.6L218 230.6L213.1 227.5L207.6 235.4Z" fill="#69ff00"/>
<path d="M180.8 265.6L186.3 257L181.5 253.8L176 262.3Z" fill="#2aff00"/>
<path d="M196.6 251.8L202.1 243.5L197.3 240.4L191.8 248.6Z" fill="#4aff00"/>
<path d="M386.8 140.9L392.1 135.5L386.9 132.9L381.6 138.3Z" fill="#ffad00"/>
<path d="M297 182.6L302.4 175.9L297.4 173.1L292 179.7Z" fill="#eeff00"/>
<path d="M323.4 168.6L328.8 162.3L323.7 159.6L318.3 165.8Z" fill="#ffef00"/>
<path d="M481.9 112.2L487.1 108L481.7 105.7L476.5 109.9Z" fill="#ff6900"/>
<path d="M561.2 97.3L566.2 94L560.7 91.9L555.6 95.2Z" fill="#ff4600"/>
<path d="M254.7 209.1L260.2 201.8L255.2 198.8L249.7 206.1Z" fill="#b0ff00"/>
<path d="M434.3 125.3L439.6 120.5L434.3 118.1L429.1 122.8Z" fill="#ff8700"/>
<path d="M571.8 96L576.8 92.8L571.2 90.8L566.2 94Z" fill="#ff4200"/>
<path d="M492.5 110.3L497.7 106.2L492.3 104L487.1 108Z" fill="#ff6400"/>
<path d="M360.4 152.5L365.7 146.7L360.6 144.1L355.2 149.8Z" fill="#ffc800"/>
<path d="M582.4 94.9L587.4 91.8L581.8 89.8L576.8 92.8Z" fill="#ff3f00"/>
<path d="M397.3 138.1L402.7 132.8L397.5 130.3L392.1 135.5Z" fill="#ffa500"/>
<path d="M143.6 303.8L149.2 294.6L144.4 291.2L138.9 300.4Z" fill="#00ff34"/>
<path d="M238.8 221.1L244.3 213.5L239.3 210.5L233.9 218.1Z" fill="#94ff00"/>
<path d="M281.1 193.4L286.5 186.5L281.5 183.6L276.1 190.5Z" fill="#d6ff00"/>
<path d="M444.9 123L450.2 118.3L444.9 115.9L439.6 120.5Z" fill="#ff8100"/>
<path d="M593 93.8L597.9 90.8L592.3 88.8L587.4 91.8Z" fill="#ff3d00"/>
<path d="M333.9 165.1L339.3 159L334.2 156.2L328.8 162.3Z" fill="#ffe500"/>
<path d="M503.1 108.5L508.2 104.5L502.8 102.3L497.7 106.2Z" fill="#ff5f00"/>
<path d="M307.5 178.8L312.9 172.2L307.9 169.4L302.4 175.9Z" fill="#f9ff00"/>
<path d="M159.4 288.8L164.9 279.8L160.2 276.5L154.7 285.5Z" fill="#00ff0d"/>
<path d="M222.9 233.7L228.4 225.8L223.5 222.7L218 230.6Z" fill="#77ff00"/>
<path d="M603.6 92.8L608.5 89.8L602.9 87.9L597.9 90.8Z" fill="#ff3a00"/>
<path d="M175.3 274.3L180.8 265.6L176 262.3L170.5 271Z" fill="#17ff00"/>
<path d="M207 246.7L212.5 238.6L207.6 235.4L202.1 243.5Z" fill="#58ff00"/>
<path d="M191.1 260.3L196.6 251.8L191.8 248.6L186.3 257Z" fill="#38ff00"/>
<path d="M513.7 106.8L518.8 102.9L513.4 100.7L508.2 104.5Z" fill="#ff5a00"/>
<path d="M614.2 91.8L619.1 89L613.4 87.1L608.5 89.8Z" fill="#ff3700"/>
<path d="M407.9 135.4L413.2 130.2L408 127.7L402.7 132.8Z" fill="#ff9e00"/>
<path d="M370.9 149.4L376.3 143.8L371.1 141.1L365.7 146.7Z" fill="#ffbf00"/>
<path d="M265.1 204.8L270.6 197.5L265.6 194.6L260.2 201.8Z" fill="#bcff00"/>
<path d="M455.5 120.8L460.7 116.2L455.4 113.8L450.2 118.3Z" fill="#ff7b00"/>
<path d="M624.8 90.9L629.7 88.2L624 86.3L619.1 89Z" fill="#ff3500"/>
<path d="M635.4 90.1L640.3 87.4L634.6 85.6L629.7 88.2Z" fill="#ff3300"/>
<path d="M524.3 105.2L529.4 101.4L523.9 99.2L518.8 102.9Z" fill="#ff5600"/>
<path d="M344.4 161.8L349.8 155.7L344.7 153L339.3 159Z" fill="#ffdc00"/>
<path d="M291.5 189.4L297 182.6L292 179.7L286.5 186.5Z" fill="#e1ff00"/>
<path d="M646 89.3L650.8 86.8L645.1 85L640.3 87.4Z" fill="#ff3100"/>
<path d="M318 175.1L323.4 168.6L318.3 165.8L312.9 172.2Z" fill="#fffb00"/>
<path d="M249.2 216.6L254.7 209.1L249.7 206.1L244.3 213.5Z" fill="#a1ff00"/>
<path d="M466.1 118.6L471.3 114.2L466 111.8L460.7 116.2Z" fill="#ff7500"/>
<path d="M418.5 132.8L423.8 127.7L418.5 125.2L413.2 130.2Z" fill="#ff9700"/>
<path d="M656.6 88.6L661.4 86.2L655.7 84.4L650.8 86.8Z" fill="#ff2f00"/>
<path d="M534.9 103.6L540 100L534.5 97.8L529.4 101.4Z" fill="#ff5200"/>
<path d="M381.4 146.4L386.8 140.9L381.6 138.3L376.3 143.8Z" fill="#ffb700"/>
<path d="M667.2 87.9L672 85.6L666.2 83.9L661.4 86.2Z" fill="#ff2e00"/>
<path d="M153.9 297.9L159.4 288.8L154.7 285.5L149.2 294.6Z" fill="#00ff22"/>
<path d="M677.8 87.3L682.6 85.1L676.8 83.4L672 85.6Z" fill="#ff2c00"/>
<path d="M233.3 228.9L238.8 221.1L233.9 218.1L228.4 225.8Z" fill="#84ff00"/>
<path d="M688.4 86.8L693.2 84.7L687.3 83L682.6 85.1Z" fill="#ff2b00"/>
<path d="M545.5 102.2L550.6 98.6L545.1 96.4L540 100Z" fill="#ff4e00"/>
<path d="M476.7 116.6L481.9 112.2L476.5 109.9L471.3 114.2Z" fill="#ff7000"/>
<path d="M275.6 200.5L281.1 193.4L276.1 190.5L270.6 197.5Z" fill="#c7ff00"/>
<path d="M169.7 283.1L175.3 274.3L170.5 271L164.9 279.8Z" fill="#04ff00"/>
<path d="M217.4 241.7L222.9 233.7L218 230.6L212.5 238.6Z" fill="#66ff00"/>
<path d="M355 158.5L360.4 152.5L355.2 149.8L349.8 155.7Z" fill="#ffd300"/>
<path d="M429.1 130.3L434.3 125.3L429.1 122.8L423.8 127.7Z" fill="#ff9000"/>
<path d="M185.6 268.9L191.1 260.3L186.3 257L180.8 265.6Z" fill="#26ff00"/>
<path d="M201.5 255L207 246.7L202.1 243.5L196.6 251.8Z" fill="#47ff00"/>
<path d="M556.1 100.7L561.2 97.3L555.6 95.2L550.6 98.6Z" fill="#ff4a00"/>
<path d="M302 185.5L307.5 178.8L302.4 175.9L297 182.6Z" fill="#ebff00"/>
<path d="M392 143.5L397.3 138.1L392.1 135.5L386.8 140.9Z" fill="#ffaf00"/>
<path d="M328.5 171.5L333.9 165.1L328.8 162.3L323.4 168.6Z" fill="#fff200"/>
<path d="M487.3 114.6L492.5 110.3L487.1 108L481.9 112.2Z" fill="#ff6b00"/>
<path d="M566.7 99.4L571.8 96L566.2 94L561.2 97.3Z" fill="#ff4700"/>
<path d="M259.6 212.1L265.1 204.8L260.2 201.8L254.7 209.1Z" fill="#adff00"/>
<path d="M439.6 127.9L444.9 123L439.6 120.5L434.3 125.3Z" fill="#ff8a00"/>
<path d="M577.3 98.1L582.4 94.9L576.8 92.8L571.8 96Z" fill="#ff4400"/>
<path d="M365.5 155.3L370.9 149.4L365.7 146.7L360.4 152.5Z" fill="#ffca00"/>
<path d="M497.9 112.7L503.1 108.5L497.7 106.2L492.5 110.3Z" fill="#ff6600"/>
<path d="M148.4 307.2L153.9 297.9L149.2 294.6L143.6 303.8Z" fill="#00ff38"/>
<path d="M402.6 140.7L407.9 135.4L402.7 132.8L397.3 138.1Z" fill="#ffa800"/>
<path d="M243.7 224.3L249.2 216.6L244.3 213.5L238.8 221.1Z" fill="#91ff00"/>
<path d="M286.1 196.4L291.5 189.4L286.5 186.5L281.1 193.4Z" fill="#d3ff00"/>
<path d="M588 97L593 93.8L587.4 91.8L582.4 94.9Z" fill="#ff4000"/>
<path d="M339 168L344.4 161.8L339.3 159L333.9 165.1Z" fill="#ffe800"/>
<path d="M164.2 292.2L169.7 283.1L164.9 279.8L159.4 288.8Z" fill="#00ff10"/>
<path d="M450.2 125.5L455.5 120.8L450.2 118.3L444.9 123Z" fill="#ff8300"/>
<path d="M312.5 181.7L318 175.1L312.9 172.2L307.5 178.8Z" fill="#f6ff00"/>
<path d="M508.5 110.9L513.7 106.8L508.2 104.5L503.1 108.5Z" fill="#ff6100"/>
<path d="M227.8 236.9L233.3 228.9L228.4 225.8L222.9 233.7Z" fill="#74ff00"/>
<path d="M598.6 95.8L603.6 92.8L597.9 90.8L593 93.8Z" fill="#ff3e00"/>
<path d="M180.1 277.6L185.6 268.9L180.8 265.6L175.3 274.3Z" fill="#14ff00"/>
<path d="M211.9 249.9L217.4 241.7L212.5 238.6L207 246.7Z" fill="#55ff00"/>
<path d="M196 263.5L201.5 255L196.6 251.8L191.1 260.3Z" fill="#35ff00"/>
<path d="M609.2 94.8L614.2 91.8L608.5 89.8L603.6 92.8Z" fill="#ff3b00"/>
<path d="M376.1 152.2L381.4 146.4L376.3 143.8L370.9 149.4Z" fill="#ffc200"/>
<path d="M413.2 138L418.5 132.8L413.2 130.2L407.9 135.4Z" fill="#ffa000"/>
<path d="M270.1 207.8L275.6 200.5L270.6 197.5L265.1 204.8Z" fill="#b9ff00"/>
<path d="M519.1 109.1L524.3 105.2L518.8 102.9L513.7 106.8Z" fill="#ff5c00"/>
<path d="M460.8 123.3L466.1 118.6L460.7 116.2L455.5 120.8Z" fill="#ff7d00"/>
<path d="M619.8 93.8L624.8 90.9L619.1 89L614.2 91.8Z" fill="#ff3800"/>
<path d="M630.5 92.8L635.4 90.1L629.7 88.2L624.8 90.9Z" fill="#ff3600"/>
<path d="M349.6 164.6L355 158.5L349.8 155.7L344.4 161.8Z" fill="#ffdf00"/>
<path d="M296.6 192.4L302 185.5L297 182.6L291.5 189.4Z" fill="#deff00"/>
<path d="M529.8 107.5L534.9 103.6L529.4 101.4L524.3 105.2Z" fill="#ff5800"/>
<path d="M254.2 219.7L259.6 212.1L254.7 209.1L249.2 216.6Z" fill="#9dff00"/>
<path d="M323 178L328.5 171.5L323.4 168.6L318 175.1Z" fill="#fffe00"/>
<path d="M641.1 92L646 89.3L640.3 87.4L635.4 90.1Z" fill="#ff3400"/>
<path d="M423.7 135.4L429.1 130.3L423.8 127.7L418.5 132.8Z" fill="#ff9900"/>
<path d="M471.5 121.1L476.7 116.6L471.3 114.2L466.1 118.6Z" fill="#ff7700"/>
<path d="M651.7 91.2L656.6 88.6L650.8 86.8L646 89.3Z" fill="#ff3200"/>
<path d="M386.6 149.2L392 143.5L386.8 140.9L381.4 146.4Z" fill="#ffba00"/>
<path d="M158.7 301.4L164.2 292.2L159.4 288.8L153.9 297.9Z" fill="#00ff26"/>
<path d="M540.4 105.9L545.5 102.2L540 100L534.9 103.6Z" fill="#ff5400"/>
<path d="M662.3 90.4L667.2 87.9L661.4 86.2L656.6 88.6Z" fill="#ff3000"/>
<path d="M238.2 232.1L243.7 224.3L238.8 221.1L233.3 228.9Z" fill="#81ff00"/>
<path d="M673 89.7L677.8 87.3L672 85.6L667.2 87.9Z" fill="#ff2e00"/>
<path d="M174.6 286.5L180.1 277.6L175.3 274.3L169.7 283.1Z" fill="#00ff00"/>
<path d="M280.6 203.6L286.1 196.4L281.1 193.4L275.6 200.5Z" fill="#c4ff00"/>
<path d="M683.6 89.1L688.4 86.8L682.6 85.1L677.8 87.3Z" fill="#ff2c00"/>
<path d="M222.3 245L227.8 236.9L222.9 233.7L217.4 241.7Z" fill="#63ff00"/>
<path d="M482.1 119L487.3 114.6L481.9 112.2L476.7 116.6Z" fill="#ff7200"/>
<path d="M551 104.4L556.1 100.7L550.6 98.6L545.5 102.2Z" fill="#ff5000"/>
<path d="M190.4 272.2L196 263.5L191.1 260.3L185.6 268.9Z" fill="#23ff00"/>
<path d="M360.1 161.3L365.5 155.3L360.4 152.5L355 158.5Z" fill="#ffd600"/>
<path d="M694.2 88.5L699 86.3L693.2 84.7L688.4 86.8Z" fill="#ff2b00"/>
<path d="M206.3 258.3L211.9 249.9L207 246.7L201.5 255Z" fill="#43ff00"/>
<path d="M434.3 132.9L439.6 127.9L434.3 125.3L429.1 130.3Z" fill="#ff9200"/>
<path d="M307.1 188.5L312.5 181.7L307.5 178.8L302 185.5Z" fill="#e8ff00"/>
<path d="M333.6 174.4L339 168L333.9 165.1L328.5 171.5Z" fill="#fff400"/>
<path d="M397.2 146.3L402.6 140.7L397.3 138.1L392 143.5Z" fill="#ffb200"/>
<path d="M561.6 103L566.7 99.4L561.2 97.3L556.1 100.7Z" fill="#ff4c00"/>
<path d="M492.7 117L497.9 112.7L492.5 110.3L487.3 114.6Z" fill="#ff6d00"/>
<path d="M264.6 215.2L270.1 207.8L265.1 204.8L259.6 212.1Z" fill="#aaff00"/>
<path d="M572.3 101.6L577.3 98.1L571.8 96L566.7 99.4Z" fill="#ff4800"/>
<path d="M445 130.4L450.2 125.5L444.9 123L439.6 127.9Z" fill="#ff8c00"/>
<path d="M153.2 310.7L158.7 301.4L153.9 297.9L148.4 307.2Z" fill="#00ff3c"/>
<path d="M370.7 158.1L376.1 152.2L370.9 149.4L365.5 155.3Z" fill="#ffcd00"/>
<path d="M248.7 227.4L254.2 219.7L249.2 216.6L243.7 224.3Z" fill="#8eff00"/>
<path d="M503.3 115.1L508.5 110.9L503.1 108.5L497.9 112.7Z" fill="#ff6700"/>
<path d="M582.9 100.3L588 97L582.4 94.9L577.3 98.1Z" fill="#ff4500"/>
<path d="M291.1 199.4L296.6 192.4L291.5 189.4L286.1 196.4Z" fill="#d0ff00"/>
<path d="M407.8 143.4L413.2 138L407.9 135.4L402.6 140.7Z" fill="#ffaa00"/>
<path d="M169 295.6L174.6 286.5L169.7 283.1L164.2 292.2Z" fill="#00ff14"/>
<path d="M344.1 170.9L349.6 164.6L344.4 161.8L339 168Z" fill="#ffeb00"/>
<path d="M317.6 184.6L323 178L318 175.1L312.5 181.7Z" fill="#f3ff00"/>
<path d="M232.7 240.1L238.2 232.1L233.3 228.9L227.8 236.9Z" fill="#70ff00"/>
<path d="M593.6 99.1L598.6 95.8L593 93.8L588 97Z" fill="#ff4200"/>
<path d="M455.6 128.1L460.8 123.3L455.5 120.8L450.2 125.5Z" fill="#ff8600"/>
<path d="M184.9 281L190.4 272.2L185.6 268.9L180.1 277.6Z" fill="#10ff00"/>
<path d="M514 113.3L519.1 109.1L513.7 106.8L508.5 110.9Z" fill="#ff6300"/>
<path d="M216.8 253.2L222.3 245L217.4 241.7L211.9 249.9Z" fill="#51ff00"/>
<path d="M200.8 266.9L206.3 258.3L201.5 255L196 263.5Z" fill="#31ff00"/>
<path d="M604.2 97.9L609.2 94.8L603.6 92.8L598.6 95.8Z" fill="#ff3f00"/>
<path d="M275.1 210.9L280.6 203.6L275.6 200.5L270.1 207.8Z" fill="#b5ff00"/>
<path d="M381.3 155L386.6 149.2L381.4 146.4L376.1 152.2Z" fill="#ffc400"/>
<path d="M418.4 140.7L423.7 135.4L418.5 132.8L413.2 138Z" fill="#ffa300"/>
<path d="M614.9 96.8L619.8 93.8L614.2 91.8L609.2 94.8Z" fill="#ff3c00"/>
<path d="M524.6 111.5L529.8 107.5L524.3 105.2L519.1 109.1Z" fill="#ff5e00"/>
<path d="M466.2 125.8L471.5 121.1L466.1 118.6L460.8 123.3Z" fill="#ff7f00"/>
<path d="M625.5 95.8L630.5 92.8L624.8 90.9L619.8 93.8Z" fill="#ff3900"/>
<path d="M301.6 195.4L307.1 188.5L302 185.5L296.6 192.4Z" fill="#daff00"/>
<path d="M354.7 167.4L360.1 161.3L355 158.5L349.6 164.6Z" fill="#ffe200"/>
<path d="M259.1 222.8L264.6 215.2L259.6 212.1L254.2 219.7Z" fill="#9aff00"/>
<path d="M328.2 180.9L333.6 174.4L328.5 171.5L323 178Z" fill="#fdff00"/>
<path d="M636.2 94.8L641.1 92L635.4 90.1L630.5 92.8Z" fill="#ff3700"/>
<path d="M535.3 109.8L540.4 105.9L534.9 103.6L529.8 107.5Z" fill="#ff5900"/>
<path d="M163.5 304.8L169 295.6L164.2 292.2L158.7 301.4Z" fill="#00ff2a"/>
<path d="M429 138.1L434.3 132.9L429.1 130.3L423.7 135.4Z" fill="#ff9c00"/>
<path d="M476.8 123.6L482.1 119L476.7 116.6L471.5 121.1Z" fill="#ff7a00"/>
<path d="M646.8 93.9L651.7 91.2L646 89.3L641.1 92Z" fill="#ff3400"/>
<path d="M391.9 151.9L397.2 146.3L392 143.5L386.6 149.2Z" fill="#ffbc00"/>
<path d="M243.2 235.3L248.7 227.4L243.7 224.3L238.2 232.1Z" fill="#7dff00"/>
<path d="M657.5 93.1L662.3 90.4L656.6 88.6L651.7 91.2Z" fill="#ff3200"/>
<path d="M545.9 108.2L551 104.4L545.5 102.2L540.4 105.9Z" fill="#ff5500"/>
<path d="M179.4 289.9L184.9 281L180.1 277.6L174.6 286.5Z" fill="#00ff04"/>
<path d="M285.6 206.7L291.1 199.4L286.1 196.4L280.6 203.6Z" fill="#c1ff00"/>
<path d="M227.2 248.2L232.7 240.1L227.8 236.9L222.3 245Z" fill="#5fff00"/>
<path d="M668.1 92.3L673 89.7L667.2 87.9L662.3 90.4Z" fill="#ff3000"/>
<path d="M195.3 275.5L200.8 266.9L196 263.5L190.4 272.2Z" fill="#1fff00"/>
<path d="M211.2 261.6L216.8 253.2L211.9 249.9L206.3 258.3Z" fill="#40ff00"/>
<path d="M365.3 164.1L370.7 158.1L365.5 155.3L360.1 161.3Z" fill="#ffd900"/>
<path d="M678.8 91.6L683.6 89.1L677.8 87.3L673 89.7Z" fill="#ff2e00"/>
<path d="M487.5 121.5L492.7 117L487.3 114.6L482.1 119Z" fill="#ff7400"/>
<path d="M556.6 106.7L561.6 103L556.1 100.7L551 104.4Z" fill="#ff5100"/>
<path d="M439.7 135.5L445 130.4L439.6 127.9L434.3 132.9Z" fill="#ff9500"/>
<path d="M689.4 90.9L694.2 88.5L688.4 86.8L683.6 89.1Z" fill="#ff2d00"/>
<path d="M312.2 191.5L317.6 184.6L312.5 181.7L307.1 188.5Z" fill="#e5ff00"/>
<path d="M338.7 177.3L344.1 170.9L339 168L333.6 174.4Z" fill="#fff700"/>
<path d="M700.1 90.3L704.8 88L699 86.3L694.2 88.5Z" fill="#ff2b00"/>
<path d="M402.5 149L407.8 143.4L402.6 140.7L397.2 146.3Z" fill="#ffb400"/>
<path d="M269.6 218.4L275.1 210.9L270.1 207.8L264.6 215.2Z" fill="#a6ff00"/>
<path d="M567.2 105.2L572.3 101.6L566.7 99.4L561.6 103Z" fill="#ff4d00"/>
<path d="M498.1 119.5L503.3 115.1L497.9 112.7L492.7 117Z" fill="#ff6f00"/>
<path d="M158 314.2L163.5 304.8L158.7 301.4L153.2 310.7Z" fill="#00ff40"/>
<path d="M450.3 133.1L455.6 128.1L450.2 125.5L445 130.4Z" fill="#ff8e00"/>
<path d="M577.9 103.8L582.9 100.3L577.3 98.1L572.3 101.6Z" fill="#ff4a00"/>
<path d="M375.9 160.9L381.3 155L376.1 152.2L370.7 158.1Z" fill="#ffd000"/>
<path d="M253.6 230.6L259.1 222.8L254.2 219.7L248.7 227.4Z" fill="#8aff00"/>
<path d="M296.1 202.5L301.6 195.4L296.6 192.4L291.1 199.4Z" fill="#ccff00"/>
<path d="M413.1 146.2L418.4 140.7L413.2 138L407.8 143.4Z" fill="#ffad00"/>
<path d="M508.8 117.5L514 113.3L508.5 110.9L503.3 115.1Z" fill="#ff6900"/>
<path d="M173.9 299.1L179.4 289.9L174.6 286.5L169 295.6Z" fill="#00ff19"/>
<path d="M588.5 102.5L593.6 99.1L588 97L582.9 100.3Z" fill="#ff4600"/>
<path d="M349.3 173.8L354.7 167.4L349.6 164.6L344.1 170.9Z" fill="#ffee00"/>
<path d="M237.6 243.3L243.2 235.3L238.2 232.1L232.7 240.1Z" fill="#6dff00"/>
<path d="M322.7 187.6L328.2 180.9L323 178L317.6 184.6Z" fill="#f0ff00"/>
<path d="M189.8 284.4L195.3 275.5L190.4 272.2L184.9 281Z" fill="#0cff00"/>
<path d="M221.7 256.5L227.2 248.2L222.3 245L216.8 253.2Z" fill="#4eff00"/>
<path d="M460.9 130.7L466.2 125.8L460.8 123.3L455.6 128.1Z" fill="#ff8800"/>
<path d="M205.7 270.2L211.2 261.6L206.3 258.3L200.8 266.9Z" fill="#2eff00"/>
<path d="M599.2 101.2L604.2 97.9L598.6 95.8L593.6 99.1Z" fill="#ff4300"/>
<path d="M519.4 115.7L524.6 111.5L519.1 109.1L514 113.3Z" fill="#ff6400"/>
<path d="M280.1 214L285.6 206.7L280.6 203.6L275.1 210.9Z" fill="#b2ff00"/>
<path d="M386.5 157.8L391.9 151.9L386.6 149.2L381.3 155Z" fill="#ffc700"/>
<path d="M609.9 100L614.9 96.8L609.2 94.8L604.2 97.9Z" fill="#ff4000"/>
<path d="M423.7 143.4L429 138.1L423.7 135.4L418.4 140.7Z" fill="#ffa500"/>
<path d="M471.6 128.4L476.8 123.6L471.5 121.1L466.2 125.8Z" fill="#ff8200"/>
<path d="M530.1 113.9L535.3 109.8L529.8 107.5L524.6 111.5Z" fill="#ff6000"/>
<path d="M620.6 98.9L625.5 95.8L619.8 93.8L614.9 96.8Z" fill="#ff3d00"/>
<path d="M306.7 198.5L312.2 191.5L307.1 188.5L301.6 195.4Z" fill="#d7ff00"/>
<path d="M359.9 170.4L365.3 164.1L360.1 161.3L354.7 167.4Z" fill="#ffe400"/>
<path d="M264.1 226L269.6 218.4L264.6 215.2L259.1 222.8Z" fill="#97ff00"/>
<path d="M333.3 183.9L338.7 177.3L333.6 174.4L328.2 180.9Z" fill="#faff00"/>
<path d="M631.2 97.8L636.2 94.8L630.5 92.8L625.5 95.8Z" fill="#ff3a00"/>
<path d="M168.3 308.4L173.9 299.1L169 295.6L163.5 304.8Z" fill="#00ff2e"/>
<path d="M540.8 112.2L545.9 108.2L540.4 105.9L535.3 109.8Z" fill="#ff5b00"/>
<path d="M434.4 140.8L439.7 135.5L434.3 132.9L429 138.1Z" fill="#ff9e00"/>
<path d="M641.9 96.8L646.8 93.9L641.1 92L636.2 94.8Z" fill="#ff3800"/>
<path d="M248.1 238.5L253.6 230.6L248.7 227.4L243.2 235.3Z" fill="#7aff00"/>
<path d="M397.1 154.7L402.5 149L397.2 146.3L391.9 151.9Z" fill="#ffbf00"/>
<path d="M482.2 126.2L487.5 121.5L482.1 119L476.8 123.6Z" fill="#ff7c00"/>
<path d="M184.3 293.4L189.8 284.4L184.9 281L179.4 289.9Z" fill="#00ff08"/>
<path d="M652.6 95.9L657.5 93.1L651.7 91.2L646.8 93.9Z" fill="#ff3500"/>
<path d="M232.1 251.5L237.6 243.3L232.7 240.1L227.2 248.2Z" fill="#5cff00"/>
<path d="M290.7 209.8L296.1 202.5L291.1 199.4L285.6 206.7Z" fill="#beff00"/>
<path d="M200.2 279L205.7 270.2L200.8 266.9L195.3 275.5Z" fill="#1bff00"/>
<path d="M551.5 110.5L556.6 106.7L551 104.4L545.9 108.2Z" fill="#ff5700"/>
<path d="M216.1 265L221.7 256.5L216.8 253.2L211.2 261.6Z" fill="#3cff00"/>
<path d="M663.3 95L668.1 92.3L662.3 90.4L657.5 93.1Z" fill="#ff3300"/>
<path d="M370.5 167L375.9 160.9L370.7 158.1L365.3 164.1Z" fill="#ffdb00"/>
<path d="M673.9 94.2L678.8 91.6L673 89.7L668.1 92.3Z" fill="#ff3100"/>
<path d="M492.9 124L498.1 119.5L492.7 117L487.5 121.5Z" fill="#ff7600"/>
<path d="M317.2 194.5L322.7 187.6L317.6 184.6L312.2 191.5Z" fill="#e2ff00"/>
<path d="M445 138.2L450.3 133.1L445 130.4L439.7 135.5Z" fill="#ff9700"/>
<path d="M343.9 180.3L349.3 173.8L344.1 170.9L338.7 177.3Z" fill="#fffa00"/>
<path d="M562.1 109L567.2 105.2L561.6 103L556.6 106.7Z" fill="#ff5300"/>
<path d="M684.6 93.4L689.4 90.9L683.6 89.1L678.8 91.6Z" fill="#ff2f00"/>
<path d="M407.7 151.8L413.1 146.2L407.8 143.4L402.5 149Z" fill="#ffb700"/>
<path d="M274.6 221.6L280.1 214L275.1 210.9L269.6 218.4Z" fill="#a3ff00"/>
<path d="M695.3 92.7L700.1 90.3L694.2 88.5L689.4 90.9Z" fill="#ff2d00"/>
<path d="M162.8 317.8L168.3 308.4L163.5 304.8L158 314.2Z" fill="#00ff44"/>
<path d="M706 92L710.7 89.7L704.8 88L700.1 90.3Z" fill="#ff2b00"/>
<path d="M572.8 107.5L577.9 103.8L572.3 101.6L567.2 105.2Z" fill="#ff4f00"/>
<path d="M503.6 122L508.8 117.5L503.3 115.1L498.1 119.5Z" fill="#ff7100"/>
<path d="M455.7 135.7L460.9 130.7L455.6 128.1L450.3 133.1Z" fill="#ff9100"/>
<path d="M258.6 233.9L264.1 226L259.1 222.8L253.6 230.6Z" fill="#87ff00"/>
<path d="M381.1 163.8L386.5 157.8L381.3 155L375.9 160.9Z" fill="#ffd300"/>
<path d="M301.2 205.6L306.7 198.5L301.6 195.4L296.1 202.5Z" fill="#c9ff00"/>
<path d="M178.7 302.6L184.3 293.4L179.4 289.9L173.9 299.1Z" fill="#00ff1d"/>
<path d="M583.5 106L588.5 102.5L582.9 100.3L577.9 103.8Z" fill="#ff4b00"/>
<path d="M418.4 148.9L423.7 143.4L418.4 140.7L413.1 146.2Z" fill="#ffaf00"/>
<path d="M242.6 246.6L248.1 238.5L243.2 235.3L237.6 243.3Z" fill="#69ff00"/>
<path d="M514.3 120L519.4 115.7L514 113.3L508.8 117.5Z" fill="#ff6b00"/>
<path d="M354.5 176.7L359.9 170.4L354.7 167.4L349.3 173.8Z" fill="#fff100"/>
<path d="M327.8 190.7L333.3 183.9L328.2 180.9L322.7 187.6Z" fill="#ecff00"/>
<path d="M194.7 287.9L200.2 279L195.3 275.5L189.8 284.4Z" fill="#08ff00"/>
<path d="M226.6 259.9L232.1 251.5L227.2 248.2L221.7 256.5Z" fill="#4aff00"/>
<path d="M594.2 104.7L599.2 101.2L593.6 99.1L588.5 102.5Z" fill="#ff4700"/>
<path d="M210.6 273.6L216.1 265L211.2 261.6L205.7 270.2Z" fill="#2aff00"/>
<path d="M466.3 133.3L471.6 128.4L466.2 125.8L460.9 130.7Z" fill="#ff8a00"/>
<path d="M285.2 217.2L290.7 209.8L285.6 206.7L280.1 214Z" fill="#afff00"/>
<path d="M604.9 103.4L609.9 100L604.2 97.9L599.2 101.2Z" fill="#ff4400"/>
<path d="M524.9 118.1L530.1 113.9L524.6 111.5L519.4 115.7Z" fill="#ff6600"/>
<path d="M391.7 160.6L397.1 154.7L391.9 151.9L386.5 157.8Z" fill="#ffca00"/>
<path d="M429 146.2L434.4 140.8L429 138.1L423.7 143.4Z" fill="#ffa800"/>
<path d="M615.6 102.2L620.6 98.9L614.9 96.8L609.9 100Z" fill="#ff4100"/>
<path d="M311.8 201.6L317.2 194.5L312.2 191.5L306.7 198.5Z" fill="#d4ff00"/>
<path d="M477 131L482.2 126.2L476.8 123.6L471.6 128.4Z" fill="#ff8400"/>
<path d="M269.1 229.3L274.6 221.6L269.6 218.4L264.1 226Z" fill="#93ff00"/>
<path d="M535.6 116.3L540.8 112.2L535.3 109.8L530.1 113.9Z" fill="#ff6200"/>
<path d="M365.1 173.3L370.5 167L365.3 164.1L359.9 170.4Z" fill="#ffe700"/>
<path d="M626.3 101L631.2 97.8L625.5 95.8L620.6 98.9Z" fill="#ff3e00"/>
<path d="M338.4 186.9L343.9 180.3L338.7 177.3L333.3 183.9Z" fill="#f7ff00"/>
<path d="M173.2 311.9L178.7 302.6L173.9 299.1L168.3 308.4Z" fill="#00ff32"/>
<path d="M253.1 241.8L258.6 233.9L253.6 230.6L248.1 238.5Z" fill="#76ff00"/>
<path d="M637 99.9L641.9 96.8L636.2 94.8L631.2 97.8Z" fill="#ff3b00"/>
<path d="M439.7 143.5L445 138.2L439.7 135.5L434.4 140.8Z" fill="#ffa100"/>
<path d="M402.4 157.6L407.7 151.8L402.5 149L397.1 154.7Z" fill="#ffc200"/>
<path d="M189.1 296.9L194.7 287.9L189.8 284.4L184.3 293.4Z" fill="#00ff0c"/>
<path d="M546.3 114.6L551.5 110.5L545.9 108.2L540.8 112.2Z" fill="#ff5d00"/>
<path d="M487.7 128.7L492.9 124L487.5 121.5L482.2 126.2Z" fill="#ff7e00"/>
<path d="M237.1 254.9L242.6 246.6L237.6 243.3L232.1 251.5Z" fill="#58ff00"/>
<path d="M647.7 98.9L652.6 95.9L646.8 93.9L641.9 96.8Z" fill="#ff3800"/>
<path d="M205.1 282.4L210.6 273.6L205.7 270.2L200.2 279Z" fill="#17ff00"/>
<path d="M295.7 213L301.2 205.6L296.1 202.5L290.7 209.8Z" fill="#baff00"/>
<path d="M221.1 268.4L226.6 259.9L221.7 256.5L216.1 265Z" fill="#38ff00"/>
<path d="M658.4 97.9L663.3 95L657.5 93.1L652.6 95.9Z" fill="#ff3600"/>
<path d="M557 112.9L562.1 109L556.6 106.7L551.5 110.5Z" fill="#ff5900"/>
<path d="M375.7 170L381.1 163.8L375.9 160.9L370.5 167Z" fill="#ffde00"/>
<path d="M322.4 197.6L327.8 190.7L322.7 187.6L317.2 194.5Z" fill="#dfff00"/>
<path d="M669.1 97L673.9 94.2L668.1 92.3L663.3 95Z" fill="#ff3400"/>
<path d="M498.4 126.6L503.6 122L498.1 119.5L492.9 124Z" fill="#ff7800"/>
<path d="M349 183.3L354.5 176.7L349.3 173.8L343.9 180.3Z" fill="#fffe00"/>
<path d="M450.4 140.9L455.7 135.7L450.3 133.1L445 138.2Z" fill="#ff9a00"/>
<path d="M279.7 224.8L285.2 217.2L280.1 214L274.6 221.6Z" fill="#9fff00"/>
<path d="M413 154.6L418.4 148.9L413.1 146.2L407.7 151.8Z" fill="#ffba00"/>
<path d="M679.8 96.1L684.6 93.4L678.8 91.6L673.9 94.2Z" fill="#ff3100"/>
<path d="M567.7 111.3L572.8 107.5L567.2 105.2L562.1 109Z" fill="#ff5400"/>
<path d="M167.7 321.4L173.2 311.9L168.3 308.4L162.8 317.8Z" fill="#00ff49"/>
<path d="M690.5 95.3L695.3 92.7L689.4 90.9L684.6 93.4Z" fill="#ff2f00"/>
<path d="M701.2 94.5L706 92L700.1 90.3L695.3 92.7Z" fill="#ff2d00"/>
<path d="M509.1 124.5L514.3 120L508.8 117.5L503.6 122Z" fill="#ff7300"/>
<path d="M263.6 237.2L269.1 229.3L264.1 226L258.6 233.9Z" fill="#83ff00"/>
<path d="M578.4 109.8L583.5 106L577.9 103.8L572.8 107.5Z" fill="#ff5000"/>
<path d="M711.9 93.8L716.6 91.4L710.7 89.7L706 92Z" fill="#ff2c00"/>
<path d="M183.6 306.2L189.1 296.9L184.3 293.4L178.7 302.6Z" fill="#00ff21"/>
<path d="M461 138.4L466.3 133.3L460.9 130.7L455.7 135.7Z" fill="#ff9300"/>
<path d="M306.3 208.8L311.8 201.6L306.7 198.5L301.2 205.6Z" fill="#c6ff00"/>
<path d="M386.3 166.7L391.7 160.6L386.5 157.8L381.1 163.8Z" fill="#ffd600"/>
<path d="M247.6 250L253.1 241.8L248.1 238.5L242.6 246.6Z" fill="#65ff00"/>
<path d="M423.7 151.7L429 146.2L423.7 143.4L418.4 148.9Z" fill="#ffb200"/>
<path d="M199.6 291.4L205.1 282.4L200.2 279L194.7 287.9Z" fill="#04ff00"/>
<path d="M589.1 108.3L594.2 104.7L588.5 102.5L583.5 106Z" fill="#ff4c00"/>
<path d="M359.6 179.7L365.1 173.3L359.9 170.4L354.5 176.7Z" fill="#fff400"/>
<path d="M333 193.8L338.4 186.9L333.3 183.9L327.8 190.7Z" fill="#e9ff00"/>
<path d="M231.6 263.3L237.1 254.9L232.1 251.5L226.6 259.9Z" fill="#46ff00"/>
<path d="M215.5 277.1L221.1 268.4L216.1 265L210.6 273.6Z" fill="#26ff00"/>
<path d="M519.8 122.5L524.9 118.1L519.4 115.7L514.3 120Z" fill="#ff6d00"/>
<path d="M599.8 106.9L604.9 103.4L599.2 101.2L594.2 104.7Z" fill="#ff4900"/>
<path d="M471.7 136L477 131L471.6 128.4L466.3 133.3Z" fill="#ff8d00"/>
<path d="M290.2 220.4L295.7 213L290.7 209.8L285.2 217.2Z" fill="#abff00"/>
<path d="M397 163.5L402.4 157.6L397.1 154.7L391.7 160.6Z" fill="#ffcd00"/>
<path d="M530.5 120.6L535.6 116.3L530.1 113.9L524.9 118.1Z" fill="#ff6800"/>
<path d="M610.6 105.6L615.6 102.2L609.9 100L604.9 103.4Z" fill="#ff4500"/>
<path d="M434.4 149L439.7 143.5L434.4 140.8L429 146.2Z" fill="#ffab00"/>
<path d="M316.9 204.7L322.4 197.6L317.2 194.5L311.8 201.6Z" fill="#d1ff00"/>
<path d="M274.2 232.6L279.7 224.8L274.6 221.6L269.1 229.3Z" fill="#90ff00"/>
<path d="M370.3 176.3L375.7 170L370.5 167L365.1 173.3Z" fill="#ffeb00"/>
<path d="M621.3 104.3L626.3 101L620.6 98.9L615.6 102.2Z" fill="#ff4200"/>
<path d="M178.1 315.5L183.6 306.2L178.7 302.6L173.2 311.9Z" fill="#00ff37"/>
<path d="M482.4 133.6L487.7 128.7L482.2 126.2L477 131Z" fill="#ff8600"/>
<path d="M343.6 190L349 183.3L343.9 180.3L338.4 186.9Z" fill="#f3ff00"/>
<path d="M541.2 118.8L546.3 114.6L540.8 112.2L535.6 116.3Z" fill="#ff6300"/>
<path d="M258.1 245.2L263.6 237.2L258.6 233.9L253.1 241.8Z" fill="#72ff00"/>
<path d="M632 103.1L637 99.9L631.2 97.8L626.3 101Z" fill="#ff3f00"/>
<path d="M194 300.5L199.6 291.4L194.7 287.9L189.1 296.9Z" fill="#00ff10"/>
<path d="M407.7 160.5L413 154.6L407.7 151.8L402.4 157.6Z" fill="#ffc500"/>
<path d="M445 146.3L450.4 140.9L445 138.2L439.7 143.5Z" fill="#ffa300"/>
<path d="M242.1 258.3L247.6 250L242.6 246.6L237.1 254.9Z" fill="#54ff00"/>
<path d="M210 285.9L215.5 277.1L210.6 273.6L205.1 282.4Z" fill="#13ff00"/>
<path d="M642.7 102L647.7 98.9L641.9 96.8L637 99.9Z" fill="#ff3c00"/>
<path d="M551.9 117L557 112.9L551.5 110.5L546.3 114.6Z" fill="#ff5f00"/>
<path d="M226 271.9L231.6 263.3L226.6 259.9L221.1 268.4Z" fill="#34ff00"/>
<path d="M300.8 216.2L306.3 208.8L301.2 205.6L295.7 213Z" fill="#b7ff00"/>
<path d="M493.1 131.4L498.4 126.6L492.9 124L487.7 128.7Z" fill="#ff8000"/>
<path d="M653.4 100.9L658.4 97.9L652.6 95.9L647.7 98.9Z" fill="#ff3900"/>
<path d="M380.9 172.9L386.3 166.7L381.1 163.8L375.7 170Z" fill="#ffe100"/>
<path d="M327.5 200.8L333 193.8L327.8 190.7L322.4 197.6Z" fill="#dbff00"/>
<path d="M562.6 115.3L567.7 111.3L562.1 109L557 112.9Z" fill="#ff5a00"/>
<path d="M664.2 99.9L669.1 97L663.3 95L658.4 97.9Z" fill="#ff3700"/>
<path d="M354.2 186.4L359.6 179.7L354.5 176.7L349 183.3Z" fill="#fdff00"/>
<path d="M455.7 143.6L461 138.4L455.7 135.7L450.4 140.9Z" fill="#ff9c00"/>
<path d="M284.7 228.1L290.2 220.4L285.2 217.2L279.7 224.8Z" fill="#9cff00"/>
<path d="M503.8 129.2L509.1 124.5L503.6 122L498.4 126.6Z" fill="#ff7a00"/>
<path d="M172.5 325.1L178.1 315.5L173.2 311.9L167.7 321.4Z" fill="#00ff4d"/>
<path d="M418.3 157.5L423.7 151.7L418.4 148.9L413 154.6Z" fill="#ffbd00"/>
<path d="M674.9 98.9L679.8 96.1L673.9 94.2L669.1 97Z" fill="#ff3400"/>
<path d="M573.3 113.6L578.4 109.8L572.8 107.5L567.7 111.3Z" fill="#ff5600"/>
<path d="M685.6 98L690.5 95.3L684.6 93.4L679.8 96.1Z" fill="#ff3200"/>
<path d="M268.7 240.5L274.2 232.6L269.1 229.3L263.6 237.2Z" fill="#7fff00"/>
<path d="M188.5 309.8L194 300.5L189.1 296.9L183.6 306.2Z" fill="#00ff26"/>
<path d="M696.3 97.2L701.2 94.5L695.3 92.7L690.5 95.3Z" fill="#ff3000"/>
<path d="M514.6 127.1L519.8 122.5L514.3 120L509.1 124.5Z" fill="#ff7500"/>
<path d="M311.4 212L316.9 204.7L311.8 201.6L306.3 208.8Z" fill="#c2ff00"/>
<path d="M391.6 169.7L397 163.5L391.7 160.6L386.3 166.7Z" fill="#ffd900"/>
<path d="M584.1 112.1L589.1 108.3L583.5 106L578.4 109.8Z" fill="#ff5200"/>
<path d="M466.4 141.1L471.7 136L466.3 133.3L461 138.4Z" fill="#ff9600"/>
<path d="M707.1 96.4L711.9 93.8L706 92L701.2 94.5Z" fill="#ff2e00"/>
<path d="M252.6 253.4L258.1 245.2L253.1 241.8L247.6 250Z" fill="#62ff00"/>
<path d="M204.5 294.9L210 285.9L205.1 282.4L199.6 291.4Z" fill="#00ff00"/>
<path d="M236.5 266.8L242.1 258.3L237.1 254.9L231.6 263.3Z" fill="#42ff00"/>
<path d="M717.8 95.7L722.6 93.2L716.6 91.4L711.9 93.8Z" fill="#ff2c00"/>
<path d="M429 154.6L434.4 149L429 146.2L423.7 151.7Z" fill="#ffb500"/>
<path d="M220.5 280.6L226 271.9L221.1 268.4L215.5 277.1Z" fill="#22ff00"/>
<path d="M338.1 196.9L343.6 190L338.4 186.9L333 193.8Z" fill="#e6ff00"/>
<path d="M364.9 182.8L370.3 176.3L365.1 173.3L359.6 179.7Z" fill="#fff700"/>
<path d="M594.8 110.6L599.8 106.9L594.2 104.7L589.1 108.3Z" fill="#ff4e00"/>
<path d="M525.3 125.1L530.5 120.6L524.9 118.1L519.8 122.5Z" fill="#ff7000"/>
<path d="M295.3 223.7L300.8 216.2L295.7 213L290.2 220.4Z" fill="#a8ff00"/>
<path d="M477.2 138.7L482.4 133.6L477 131L471.7 136Z" fill="#ff8f00"/>
<path d="M605.5 109.2L610.6 105.6L604.9 103.4L599.8 106.9Z" fill="#ff4a00"/>
<path d="M402.3 166.5L407.7 160.5L402.4 157.6L397 163.5Z" fill="#ffd000"/>
<path d="M536 123.1L541.2 118.8L535.6 116.3L530.5 120.6Z" fill="#ff6a00"/>
<path d="M439.7 151.8L445 146.3L439.7 143.5L434.4 149Z" fill="#ffad00"/>
<path d="M279.2 235.9L284.7 228.1L279.7 224.8L274.2 232.6Z" fill="#8cff00"/>
<path d="M322 207.9L327.5 200.8L322.4 197.6L316.9 204.7Z" fill="#cdff00"/>
<path d="M616.3 107.8L621.3 104.3L615.6 102.2L610.6 105.6Z" fill="#ff4700"/>
<path d="M182.9 319.2L188.5 309.8L183.6 306.2L178.1 315.5Z" fill="#00ff3b"/>
<path d="M375.5 179.3L380.9 172.9L375.7 170L370.3 176.3Z" fill="#ffee00"/>
<path d="M348.8 193.1L354.2 186.4L349 183.3L343.6 190Z" fill="#f0ff00"/>
<path d="M487.9 136.3L493.1 131.4L487.7 128.7L482.4 133.6Z" fill="#ff8900"/>
<path d="M627 106.5L632 103.1L626.3 101L621.3 104.3Z" fill="#ff4300"/>
<path d="M263.1 248.6L268.7 240.5L263.6 237.2L258.1 245.2Z" fill="#6fff00"/>
<path d="M198.9 304.1L204.5 294.9L199.6 291.4L194 300.5Z" fill="#00ff15"/>
<path d="M546.7 121.2L551.9 117L546.3 114.6L541.2 118.8Z" fill="#ff6500"/>
<path d="M247.1 261.7L252.6 253.4L247.6 250L242.1 258.3Z" fill="#50ff00"/>
<path d="M215 289.5L220.5 280.6L215.5 277.1L210 285.9Z" fill="#0fff00"/>
<path d="M413 163.4L418.3 157.5L413 154.6L407.7 160.5Z" fill="#ffc800"/>
<path d="M637.8 105.3L642.7 102L637 99.9L632 103.1Z" fill="#ff4000"/>
<path d="M231 275.4L236.5 266.8L231.6 263.3L226 271.9Z" fill="#30ff00"/>
<path d="M450.4 149.1L455.7 143.6L450.4 140.9L445 146.3Z" fill="#ffa600"/>
<path d="M305.9 219.4L311.4 212L306.3 208.8L300.8 216.2Z" fill="#b3ff00"/>
<path d="M498.6 134L503.8 129.2L498.4 126.6L493.1 131.4Z" fill="#ff8300"/>
<path d="M557.5 119.4L562.6 115.3L557 112.9L551.9 117Z" fill="#ff6100"/>
<path d="M648.5 104.1L653.4 100.9L647.7 98.9L642.7 102Z" fill="#ff3d00"/>
<path d="M386.2 175.9L391.6 169.7L386.3 166.7L380.9 172.9Z" fill="#ffe500"/>
<path d="M332.7 204L338.1 196.9L333 193.8L327.5 200.8Z" fill="#d8ff00"/>
<path d="M659.2 103L664.2 99.9L658.4 97.9L653.4 100.9Z" fill="#ff3a00"/>
<path d="M359.4 189.5L364.9 182.8L359.6 179.7L354.2 186.4Z" fill="#faff00"/>
<path d="M289.8 231.4L295.3 223.7L290.2 220.4L284.7 228.1Z" fill="#98ff00"/>
<path d="M177.4 328.8L182.9 319.2L178.1 315.5L172.5 325.1Z" fill="#00ff52"/>
<path d="M568.2 117.7L573.3 113.6L567.7 111.3L562.6 115.3Z" fill="#ff5c00"/>
<path d="M461.1 146.4L466.4 141.1L461 138.4L455.7 143.6Z" fill="#ff9f00"/>
<path d="M509.3 131.8L514.6 127.1L509.1 124.5L503.8 129.2Z" fill="#ff7d00"/>
<path d="M423.7 160.4L429 154.6L423.7 151.7L418.3 157.5Z" fill="#ffc000"/>
<path d="M670 102L674.9 98.9L669.1 97L664.2 99.9Z" fill="#ff3800"/>
<path d="M273.7 243.9L279.2 235.9L274.2 232.6L268.7 240.5Z" fill="#7bff00"/>
<path d="M193.4 313.4L198.9 304.1L194 300.5L188.5 309.8Z" fill="#00ff2a"/>
<path d="M680.7 101L685.6 98L679.8 96.1L674.9 98.9Z" fill="#ff3500"/>
<path d="M579 116L584.1 112.1L578.4 109.8L573.3 113.6Z" fill="#ff5800"/>
<path d="M316.5 215.3L322 207.9L316.9 204.7L311.4 212Z" fill="#bfff00"/>
<path d="M691.5 100L696.3 97.2L690.5 95.3L685.6 98Z" fill="#ff3300"/>
<path d="M257.6 256.8L263.1 248.6L258.1 245.2L252.6 253.4Z" fill="#5eff00"/>
<path d="M396.9 172.7L402.3 166.5L397 163.5L391.6 169.7Z" fill="#ffdc00"/>
<path d="M209.4 298.6L215 289.5L210 285.9L204.5 294.9Z" fill="#00ff04"/>
<path d="M520.1 129.7L525.3 125.1L519.8 122.5L514.6 127.1Z" fill="#ff7700"/>
<path d="M471.9 143.9L477.2 138.7L471.7 136L466.4 141.1Z" fill="#ff9800"/>
<path d="M241.5 270.3L247.1 261.7L242.1 258.3L236.5 266.8Z" fill="#3eff00"/>
<path d="M225.5 284.2L231 275.4L226 271.9L220.5 280.6Z" fill="#1eff00"/>
<path d="M702.2 99.1L707.1 96.4L701.2 94.5L696.3 97.2Z" fill="#ff3100"/>
<path d="M589.7 114.5L594.8 110.6L589.1 108.3L584.1 112.1Z" fill="#ff5400"/>
<path d="M343.3 200.1L348.8 193.1L343.6 190L338.1 196.9Z" fill="#e2ff00"/>
<path d="M370.1 185.9L375.5 179.3L370.3 176.3L364.9 182.8Z" fill="#fffa00"/>
<path d="M434.4 157.5L439.7 151.8L434.4 149L429 154.6Z" fill="#ffb800"/>
<path d="M713 98.3L717.8 95.7L711.9 93.8L707.1 96.4Z" fill="#ff2e00"/>
<path d="M300.4 227L305.9 219.4L300.8 216.2L295.3 223.7Z" fill="#a4ff00"/>
<path d="M723.7 97.5L728.5 95L722.6 93.2L717.8 95.7Z" fill="#ff2c00"/>
<path d="M600.5 112.9L605.5 109.2L599.8 106.9L594.8 110.6Z" fill="#ff5000"/>
<path d="M530.8 127.6L536 123.1L530.5 120.6L525.3 125.1Z" fill="#ff7200"/>
<path d="M482.6 141.4L487.9 136.3L482.4 133.6L477.2 138.7Z" fill="#ff9200"/>
<path d="M407.6 169.5L413 163.4L407.7 160.5L402.3 166.5Z" fill="#ffd300"/>
<path d="M611.2 111.5L616.3 107.8L610.6 105.6L605.5 109.2Z" fill="#ff4c00"/>
<path d="M187.8 322.9L193.4 313.4L188.5 309.8L182.9 319.2Z" fill="#00ff40"/>
<path d="M284.3 239.3L289.8 231.4L284.7 228.1L279.2 235.9Z" fill="#88ff00"/>
<path d="M445.1 154.7L450.4 149.1L445 146.3L439.7 151.8Z" fill="#ffb000"/>
<path d="M327.2 211.2L332.7 204L327.5 200.8L322 207.9Z" fill="#caff00"/>
<path d="M541.6 125.7L546.7 121.2L541.2 118.8L536 123.1Z" fill="#ff6c00"/>
<path d="M380.8 182.4L386.2 175.9L380.9 172.9L375.5 179.3Z" fill="#fff100"/>
<path d="M354 196.3L359.4 189.5L354.2 186.4L348.8 193.1Z" fill="#edff00"/>
<path d="M622 110.1L627 106.5L621.3 104.3L616.3 107.8Z" fill="#ff4800"/>
<path d="M203.9 307.8L209.4 298.6L204.5 294.9L198.9 304.1Z" fill="#00ff19"/>
<path d="M268.2 252L273.7 243.9L268.7 240.5L263.1 248.6Z" fill="#6bff00"/>
<path d="M493.3 139L498.6 134L493.1 131.4L487.9 136.3Z" fill="#ff8b00"/>
<path d="M219.9 293.1L225.5 284.2L220.5 280.6L215 289.5Z" fill="#0bff00"/>
<path d="M252.1 265.2L257.6 256.8L252.6 253.4L247.1 261.7Z" fill="#4cff00"/>
<path d="M552.3 123.8L557.5 119.4L551.9 117L546.7 121.2Z" fill="#ff6700"/>
<path d="M632.8 108.7L637.8 105.3L632 103.1L627 106.5Z" fill="#ff4500"/>
<path d="M236 278.9L241.5 270.3L236.5 266.8L231 275.4Z" fill="#2cff00"/>
<path d="M418.3 166.4L423.7 160.4L418.3 157.5L413 163.4Z" fill="#ffcb00"/>
<path d="M311 222.7L316.5 215.3L311.4 212L305.9 219.4Z" fill="#b0ff00"/>
<path d="M455.8 151.9L461.1 146.4L455.7 143.6L450.4 149.1Z" fill="#ffa900"/>
<path d="M643.5 107.5L648.5 104.1L642.7 102L637.8 105.3Z" fill="#ff4100"/>
<path d="M504.1 136.7L509.3 131.8L503.8 129.2L498.6 134Z" fill="#ff8500"/>
<path d="M563.1 121.9L568.2 117.7L562.6 115.3L557.5 119.4Z" fill="#ff6300"/>
<path d="M391.5 179L396.9 172.7L391.6 169.7L386.2 175.9Z" fill="#ffe800"/>
<path d="M337.8 207.2L343.3 200.1L338.1 196.9L332.7 204Z" fill="#d4ff00"/>
<path d="M182.3 332.5L187.8 322.9L182.9 319.2L177.4 328.8Z" fill="#00ff56"/>
<path d="M654.3 106.3L659.2 103L653.4 100.9L648.5 104.1Z" fill="#ff3e00"/>
<path d="M294.9 234.8L300.4 227L295.3 223.7L289.8 231.4Z" fill="#94ff00"/>
<path d="M364.6 192.6L370.1 185.9L364.9 182.8L359.4 189.5Z" fill="#f6ff00"/>
<path d="M466.6 149.3L471.9 143.9L466.4 141.1L461.1 146.4Z" fill="#ffa200"/>
<path d="M665.1 105.1L670 102L664.2 99.9L659.2 103Z" fill="#ff3b00"/>
<path d="M573.9 120.2L579 116L573.3 113.6L568.2 117.7Z" fill="#ff5e00"/>
<path d="M429 163.3L434.4 157.5L429 154.6L423.7 160.4Z" fill="#ffc300"/>
<path d="M514.8 134.5L520.1 129.7L514.6 127.1L509.3 131.8Z" fill="#ff7f00"/>
<path d="M198.3 317.1L203.9 307.8L198.9 304.1L193.4 313.4Z" fill="#00ff2f"/>
<path d="M278.8 247.3L284.3 239.3L279.2 235.9L273.7 243.9Z" fill="#78ff00"/>
<path d="M675.8 104L680.7 101L674.9 98.9L670 102Z" fill="#ff3900"/>
<path d="M321.7 218.5L327.2 211.2L322 207.9L316.5 215.3Z" fill="#bbff00"/>
<path d="M214.4 302.2L219.9 293.1L215 289.5L209.4 298.6Z" fill="#00ff09"/>
<path d="M584.6 118.5L589.7 114.5L584.1 112.1L579 116Z" fill="#ff5a00"/>
<path d="M262.7 260.3L268.2 252L263.1 248.6L257.6 256.8Z" fill="#5aff00"/>
<path d="M686.6 103L691.5 100L685.6 98L680.7 101Z" fill="#ff3600"/>
<path d="M402.2 175.7L407.6 169.5L402.3 166.5L396.9 172.7Z" fill="#ffdf00"/>
<path d="M230.4 287.8L236 278.9L231 275.4L225.5 284.2Z" fill="#1aff00"/>
<path d="M246.5 273.8L252.1 265.2L247.1 261.7L241.5 270.3Z" fill="#3aff00"/>
<path d="M525.6 132.3L530.8 127.6L525.3 125.1L520.1 129.7Z" fill="#ff7900"/>
<path d="M477.3 146.7L482.6 141.4L477.2 138.7L471.9 143.9Z" fill="#ff9b00"/>
<path d="M348.5 203.3L354 196.3L348.8 193.1L343.3 200.1Z" fill="#dfff00"/>
<path d="M697.4 102L702.2 99.1L696.3 97.2L691.5 100Z" fill="#ff3300"/>
<path d="M375.3 189L380.8 182.4L375.5 179.3L370.1 185.9Z" fill="#fffe00"/>
<path d="M439.7 160.4L445.1 154.7L439.7 151.8L434.4 157.5Z" fill="#ffbb00"/>
<path d="M595.4 116.8L600.5 112.9L594.8 110.6L589.7 114.5Z" fill="#ff5500"/>
<path d="M708.2 101.1L713 98.3L707.1 96.4L702.2 99.1Z" fill="#ff3100"/>
<path d="M305.5 230.4L311 222.7L305.9 219.4L300.4 227Z" fill="#a0ff00"/>
<path d="M718.9 100.2L723.7 97.5L717.8 95.7L713 98.3Z" fill="#ff2f00"/>
<path d="M536.4 130.2L541.6 125.7L536 123.1L530.8 127.6Z" fill="#ff7400"/>
<path d="M606.2 115.3L611.2 111.5L605.5 109.2L600.5 112.9Z" fill="#ff5100"/>
<path d="M488.1 144.2L493.3 139L487.9 136.3L482.6 141.4Z" fill="#ff9400"/>
<path d="M729.7 99.4L734.5 96.8L728.5 95L723.7 97.5Z" fill="#ff2d00"/>
<path d="M192.8 326.7L198.3 317.1L193.4 313.4L187.8 322.9Z" fill="#00ff45"/>
<path d="M412.9 172.5L418.3 166.4L413 163.4L407.6 169.5Z" fill="#ffd600"/>
<path d="M289.4 242.7L294.9 234.8L289.8 231.4L284.3 239.3Z" fill="#84ff00"/>
<path d="M332.3 214.4L337.8 207.2L332.7 204L327.2 211.2Z" fill="#c6ff00"/>
<path d="M450.5 157.6L455.8 151.9L450.4 149.1L445.1 154.7Z" fill="#ffb300"/>
<path d="M617 113.8L622 110.1L616.3 107.8L611.2 111.5Z" fill="#ff4d00"/>
<path d="M547.2 128.2L552.3 123.8L546.7 121.2L541.6 125.7Z" fill="#ff6f00"/>
<path d="M386 185.5L391.5 179L386.2 175.9L380.8 182.4Z" fill="#fff400"/>
<path d="M208.8 311.5L214.4 302.2L209.4 298.6L203.9 307.8Z" fill="#00ff1e"/>
<path d="M359.2 199.5L364.6 192.6L359.4 189.5L354 196.3Z" fill="#e9ff00"/>
<path d="M273.3 255.5L278.8 247.3L273.7 243.9L268.2 252Z" fill="#67ff00"/>
<path d="M224.9 296.8L230.4 287.8L225.5 284.2L219.9 293.1Z" fill="#07ff00"/>
<path d="M498.8 141.8L504.1 136.7L498.6 134L493.3 139Z" fill="#ff8e00"/>
<path d="M627.8 112.4L632.8 108.7L627 106.5L622 110.1Z" fill="#ff4a00"/>
<path d="M257.1 268.8L262.7 260.3L257.6 256.8L252.1 265.2Z" fill="#48ff00"/>
<path d="M241 282.5L246.5 273.8L241.5 270.3L236 278.9Z" fill="#28ff00"/>
<path d="M316.2 226.1L321.7 218.5L316.5 215.3L311 222.7Z" fill="#acff00"/>
<path d="M557.9 126.3L563.1 121.9L557.5 119.4L552.3 123.8Z" fill="#ff6a00"/>
<path d="M423.6 169.4L429 163.3L423.7 160.4L418.3 166.4Z" fill="#ffce00"/>
<path d="M638.5 111L643.5 107.5L637.8 105.3L632.8 108.7Z" fill="#ff4600"/>
<path d="M461.2 154.8L466.6 149.3L461.1 146.4L455.8 151.9Z" fill="#ffac00"/>
<path d="M509.6 139.4L514.8 134.5L509.3 131.8L504.1 136.7Z" fill="#ff8800"/>
<path d="M187.2 336.3L192.8 326.7L187.8 322.9L182.3 332.5Z" fill="#00ff5b"/>
<path d="M343 210.4L348.5 203.3L343.3 200.1L337.8 207.2Z" fill="#d1ff00"/>
<path d="M649.3 109.7L654.3 106.3L648.5 104.1L643.5 107.5Z" fill="#ff4300"/>
<path d="M396.8 182.1L402.2 175.7L396.9 172.7L391.5 179Z" fill="#ffeb00"/>
<path d="M568.7 124.4L573.9 120.2L568.2 117.7L563.1 121.9Z" fill="#ff6500"/>
<path d="M300 238.2L305.5 230.4L300.4 227L294.9 234.8Z" fill="#90ff00"/>
<path d="M369.9 195.8L375.3 189L370.1 185.9L364.6 192.6Z" fill="#f3ff00"/>
<path d="M660.1 108.5L665.1 105.1L659.2 103L654.3 106.3Z" fill="#ff4000"/>
<path d="M203.3 320.9L208.8 311.5L203.9 307.8L198.3 317.1Z" fill="#00ff34"/>
<path d="M472 152.1L477.3 146.7L471.9 143.9L466.6 149.3Z" fill="#ffa500"/>
<path d="M434.4 166.3L439.7 160.4L434.4 157.5L429 163.3Z" fill="#ffc600"/>
<path d="M283.9 250.8L289.4 242.7L284.3 239.3L278.8 247.3Z" fill="#74ff00"/>
<path d="M579.5 122.6L584.6 118.5L579 116L573.9 120.2Z" fill="#ff6000"/>
<path d="M520.4 137.2L525.6 132.3L520.1 129.7L514.8 134.5Z" fill="#ff8200"/>
<path d="M670.9 107.3L675.8 104L670 102L665.1 105.1Z" fill="#ff3d00"/>
<path d="M219.3 305.9L224.9 296.8L219.9 293.1L214.4 302.2Z" fill="#00ff0d"/>
<path d="M326.9 221.9L332.3 214.4L327.2 211.2L321.7 218.5Z" fill="#b7ff00"/>
<path d="M267.7 263.9L273.3 255.5L268.2 252L262.7 260.3Z" fill="#56ff00"/>
<path d="M235.5 291.4L241 282.5L236 278.9L230.4 287.8Z" fill="#16ff00"/>
<path d="M251.6 277.4L257.1 268.8L252.1 265.2L246.5 273.8Z" fill="#36ff00"/>
<path d="M681.7 106.1L686.6 103L680.7 101L675.8 104Z" fill="#ff3a00"/>
<path d="M407.5 178.8L412.9 172.5L407.6 169.5L402.2 175.7Z" fill="#ffe200"/>
<path d="M590.3 120.9L595.4 116.8L589.7 114.5L584.6 118.5Z" fill="#ff5b00"/>
<path d="M353.7 206.5L359.2 199.5L354 196.3L348.5 203.3Z" fill="#dbff00"/>
<path d="M482.8 149.5L488.1 144.2L482.6 141.4L477.3 146.7Z" fill="#ff9e00"/>
<path d="M531.2 135L536.4 130.2L530.8 127.6L525.6 132.3Z" fill="#ff7c00"/>
<path d="M380.6 192.2L386 185.5L380.8 182.4L375.3 189Z" fill="#fdff00"/>
<path d="M692.5 105.1L697.4 102L691.5 100L686.6 103Z" fill="#ff3700"/>
<path d="M445.1 163.4L450.5 157.6L445.1 154.7L439.7 160.4Z" fill="#ffbe00"/>
<path d="M310.7 233.8L316.2 226.1L311 222.7L305.5 230.4Z" fill="#9cff00"/>
<path d="M703.3 104L708.2 101.1L702.2 99.1L697.4 102Z" fill="#ff3400"/>
<path d="M601.1 119.3L606.2 115.3L600.5 112.9L595.4 116.8Z" fill="#ff5700"/>
<path d="M714.1 103.1L718.9 100.2L713 98.3L708.2 101.1Z" fill="#ff3200"/>
<path d="M197.7 330.5L203.3 320.9L198.3 317.1L192.8 326.7Z" fill="#00ff4a"/>
<path d="M542 132.9L547.2 128.2L541.6 125.7L536.4 130.2Z" fill="#ff7600"/>
<path d="M294.5 246.2L300 238.2L294.9 234.8L289.4 242.7Z" fill="#80ff00"/>
<path d="M493.5 147L498.8 141.8L493.3 139L488.1 144.2Z" fill="#ff9700"/>
<path d="M611.9 117.7L617 113.8L611.2 111.5L606.2 115.3Z" fill="#ff5300"/>
<path d="M418.2 175.5L423.6 169.4L418.3 166.4L412.9 172.5Z" fill="#ffda00"/>
<path d="M724.9 102.1L729.7 99.4L723.7 97.5L718.9 100.2Z" fill="#ff3000"/>
<path d="M337.5 217.8L343 210.4L337.8 207.2L332.3 214.4Z" fill="#c2ff00"/>
<path d="M455.9 160.5L461.2 154.8L455.8 151.9L450.5 157.6Z" fill="#ffb600"/>
<path d="M213.8 315.2L219.3 305.9L214.4 302.2L208.8 311.5Z" fill="#00ff23"/>
<path d="M735.7 101.3L740.5 98.6L734.5 96.8L729.7 99.4Z" fill="#ff2d00"/>
<path d="M391.3 188.7L396.8 182.1L391.5 179L386 185.5Z" fill="#fff800"/>
<path d="M278.3 259L283.9 250.8L278.8 247.3L273.3 255.5Z" fill="#63ff00"/>
<path d="M364.4 202.7L369.9 195.8L364.6 192.6L359.2 199.5Z" fill="#e6ff00"/>
<path d="M622.7 116.2L627.8 112.4L622 110.1L617 113.8Z" fill="#ff4f00"/>
<path d="M552.8 130.8L557.9 126.3L552.3 123.8L547.2 128.2Z" fill="#ff7100"/>
<path d="M229.9 300.5L235.5 291.4L230.4 287.8L224.9 296.8Z" fill="#03ff00"/>
<path d="M262.2 272.4L267.7 263.9L262.7 260.3L257.1 268.8Z" fill="#44ff00"/>
<path d="M246 286.2L251.6 277.4L246.5 273.8L241 282.5Z" fill="#24ff00"/>
<path d="M504.3 144.6L509.6 139.4L504.1 136.7L498.8 141.8Z" fill="#ff9000"/>
<path d="M321.4 229.5L326.9 221.9L321.7 218.5L316.2 226.1Z" fill="#a8ff00"/>
<path d="M633.5 114.7L638.5 111L632.8 108.7L627.8 112.4Z" fill="#ff4b00"/>
<path d="M429 172.4L434.4 166.3L429 163.3L423.6 169.4Z" fill="#ffd100"/>
<path d="M563.6 128.9L568.7 124.4L563.1 121.9L557.9 126.3Z" fill="#ff6c00"/>
<path d="M466.7 157.7L472 152.1L466.6 149.3L461.2 154.8Z" fill="#ffaf00"/>
<path d="M192.1 340.2L197.7 330.5L192.8 326.7L187.2 336.3Z" fill="#00ff60"/>
<path d="M644.3 113.3L649.3 109.7L643.5 107.5L638.5 111Z" fill="#ff4800"/>
<path d="M348.2 213.8L353.7 206.5L348.5 203.3L343 210.4Z" fill="#cdff00"/>
<path d="M402.1 185.2L407.5 178.8L402.2 175.7L396.8 182.1Z" fill="#ffef00"/>
<path d="M305.2 241.6L310.7 233.8L305.5 230.4L300 238.2Z" fill="#8cff00"/>
<path d="M515.1 142.2L520.4 137.2L514.8 134.5L509.6 139.4Z" fill="#ff8a00"/>
<path d="M375.1 199L380.6 192.2L375.3 189L369.9 195.8Z" fill="#efff00"/>
<path d="M574.4 127L579.5 122.6L573.9 120.2L568.7 124.4Z" fill="#ff6700"/>
<path d="M655.2 111.9L660.1 108.5L654.3 106.3L649.3 109.7Z" fill="#ff4400"/>
<path d="M208.2 324.7L213.8 315.2L208.8 311.5L203.3 320.9Z" fill="#00ff38"/>
<path d="M289 254.3L294.5 246.2L289.4 242.7L283.9 250.8Z" fill="#70ff00"/>
<path d="M439.8 169.3L445.1 163.4L439.7 160.4L434.4 166.3Z" fill="#ffc900"/>
<path d="M477.5 155L482.8 149.5L477.3 146.7L472 152.1Z" fill="#ffa700"/>
<path d="M666 110.7L670.9 107.3L665.1 105.1L660.1 108.5Z" fill="#ff4100"/>
<path d="M224.3 309.7L229.9 300.5L224.9 296.8L219.3 305.9Z" fill="#00ff12"/>
<path d="M525.9 139.9L531.2 135L525.6 132.3L520.4 137.2Z" fill="#ff8400"/>
<path d="M272.8 267.4L278.3 259L273.3 255.5L267.7 263.9Z" fill="#51ff00"/>
<path d="M332 225.3L337.5 217.8L332.3 214.4L326.9 221.9Z" fill="#b3ff00"/>
<path d="M585.2 125.2L590.3 120.9L584.6 118.5L579.5 122.6Z" fill="#ff6200"/>
<path d="M240.5 295.1L246 286.2L241 282.5L235.5 291.4Z" fill="#11ff00"/>
<path d="M256.6 281L262.2 272.4L257.1 268.8L251.6 277.4Z" fill="#32ff00"/>
<path d="M676.8 109.4L681.7 106.1L675.8 104L670.9 107.3Z" fill="#ff3e00"/>
<path d="M412.8 181.9L418.2 175.5L412.9 172.5L407.5 178.8Z" fill="#ffe600"/>
<path d="M359 209.8L364.4 202.7L359.2 199.5L353.7 206.5Z" fill="#d8ff00"/>
<path d="M385.9 195.4L391.3 188.7L386 185.5L380.6 192.2Z" fill="#f9ff00"/>
<path d="M596 123.4L601.1 119.3L595.4 116.8L590.3 120.9Z" fill="#ff5d00"/>
<path d="M687.6 108.3L692.5 105.1L686.6 103L681.7 106.1Z" fill="#ff3b00"/>
<path d="M488.2 152.4L493.5 147L488.1 144.2L482.8 149.5Z" fill="#ffa000"/>
<path d="M536.7 137.7L542 132.9L536.4 130.2L531.2 135Z" fill="#ff7e00"/>
<path d="M315.8 237.2L321.4 229.5L316.2 226.1L310.7 233.8Z" fill="#98ff00"/>
<path d="M450.5 166.4L455.9 160.5L450.5 157.6L445.1 163.4Z" fill="#ffc100"/>
<path d="M698.4 107.1L703.3 104L697.4 102L692.5 105.1Z" fill="#ff3800"/>
<path d="M202.7 334.3L208.2 324.7L203.3 320.9L197.7 330.5Z" fill="#00ff4f"/>
<path d="M606.8 121.7L611.9 117.7L606.2 115.3L601.1 119.3Z" fill="#ff5900"/>
<path d="M709.3 106.1L714.1 103.1L708.2 101.1L703.3 104Z" fill="#ff3500"/>
<path d="M299.6 249.7L305.2 241.6L300 238.2L294.5 246.2Z" fill="#7cff00"/>
<path d="M547.6 135.6L552.8 130.8L547.2 128.2L542 132.9Z" fill="#ff7900"/>
<path d="M423.6 178.6L429 172.4L423.6 169.4L418.2 175.5Z" fill="#ffdd00"/>
<path d="M342.7 221.1L348.2 213.8L343 210.4L337.5 217.8Z" fill="#beff00"/>
<path d="M499.1 149.8L504.3 144.6L498.8 141.8L493.5 147Z" fill="#ff9a00"/>
<path d="M720.1 105.1L724.9 102.1L718.9 100.2L714.1 103.1Z" fill="#ff3300"/>
<path d="M218.8 319L224.3 309.7L219.3 305.9L213.8 315.2Z" fill="#00ff28"/>
<path d="M617.7 120.1L622.7 116.2L617 113.8L611.9 117.7Z" fill="#ff5500"/>
<path d="M283.4 262.6L289 254.3L283.9 250.8L278.3 259Z" fill="#5fff00"/>
<path d="M461.3 163.5L466.7 157.7L461.2 154.8L455.9 160.5Z" fill="#ffb900"/>
<path d="M396.6 191.9L402.1 185.2L396.8 182.1L391.3 188.7Z" fill="#fffb00"/>
<path d="M369.7 206L375.1 199L369.9 195.8L364.4 202.7Z" fill="#e2ff00"/>
<path d="M730.9 104.1L735.7 101.3L729.7 99.4L724.9 102.1Z" fill="#ff3000"/>
<path d="M234.9 304.2L240.5 295.1L235.5 291.4L229.9 300.5Z" fill="#00ff02"/>
<path d="M267.3 276L272.8 267.4L267.7 263.9L262.2 272.4Z" fill="#40ff00"/>
<path d="M251.1 289.9L256.6 281L251.6 277.4L246 286.2Z" fill="#20ff00"/>
<path d="M558.4 133.5L563.6 128.9L557.9 126.3L552.8 130.8Z" fill="#ff7300"/>
<path d="M741.7 103.2L746.5 100.5L740.5 98.6L735.7 101.3Z" fill="#ff2e00"/>
<path d="M628.5 118.5L633.5 114.7L627.8 112.4L622.7 116.2Z" fill="#ff5100"/>
<path d="M326.5 232.9L332 225.3L326.9 221.9L321.4 229.5Z" fill="#a4ff00"/>
<path d="M509.9 147.4L515.1 142.2L509.6 139.4L504.3 144.6Z" fill="#ff9300"/>
<path d="M434.4 175.5L439.8 169.3L434.4 166.3L429 172.4Z" fill="#ffd400"/>
<path d="M197.1 344.1L202.7 334.3L197.7 330.5L192.1 340.2Z" fill="#00ff65"/>
<path d="M639.3 117L644.3 113.3L638.5 111L633.5 114.7Z" fill="#ff4d00"/>
<path d="M472.1 160.7L477.5 155L472 152.1L466.7 157.7Z" fill="#ffb200"/>
<path d="M569.2 131.5L574.4 127L568.7 124.4L563.6 128.9Z" fill="#ff6e00"/>
<path d="M353.5 217.1L359 209.8L353.7 206.5L348.2 213.8Z" fill="#c9ff00"/>
<path d="M310.3 245.1L315.8 237.2L310.7 233.8L305.2 241.6Z" fill="#88ff00"/>
<path d="M407.4 188.4L412.8 181.9L407.5 178.8L402.1 185.2Z" fill="#fff200"/>
<path d="M650.2 115.6L655.2 111.9L649.3 109.7L644.3 113.3Z" fill="#ff4900"/>
<path d="M380.4 202.3L385.9 195.4L380.6 192.2L375.1 199Z" fill="#ecff00"/>
<path d="M520.7 145L525.9 139.9L520.4 137.2L515.1 142.2Z" fill="#ff8d00"/>
<path d="M213.2 328.5L218.8 319L213.8 315.2L208.2 324.7Z" fill="#00ff3d"/>
<path d="M294.1 257.9L299.6 249.7L294.5 246.2L289 254.3Z" fill="#6bff00"/>
<path d="M580 129.6L585.2 125.2L579.5 122.6L574.4 127Z" fill="#ff6900"/>
<path d="M661 114.2L666 110.7L660.1 108.5L655.2 111.9Z" fill="#ff4600"/>
<path d="M229.4 313.5L234.9 304.2L229.9 300.5L224.3 309.7Z" fill="#00ff17"/>
<path d="M445.2 172.4L450.5 166.4L445.1 163.4L439.8 169.3Z" fill="#ffcc00"/>
<path d="M482.9 157.9L488.2 152.4L482.8 149.5L477.5 155Z" fill="#ffaa00"/>
<path d="M277.9 271.1L283.4 262.6L278.3 259L272.8 267.4Z" fill="#4dff00"/>
<path d="M337.2 228.7L342.7 221.1L337.5 217.8L332 225.3Z" fill="#afff00"/>
<path d="M245.5 298.9L251.1 289.9L246 286.2L240.5 295.1Z" fill="#0dff00"/>
<path d="M261.7 284.7L267.3 276L262.2 272.4L256.6 281Z" fill="#2eff00"/>
<path d="M531.5 142.7L536.7 137.7L531.2 135L525.9 139.9Z" fill="#ff8700"/>
<path d="M671.8 112.9L676.8 109.4L670.9 107.3L666 110.7Z" fill="#ff4200"/>
<path d="M590.9 127.7L596 123.4L590.3 120.9L585.2 125.2Z" fill="#ff6400"/>
<path d="M418.2 185L423.6 178.6L418.2 175.5L412.8 181.9Z" fill="#ffe900"/>
<path d="M364.2 213.2L369.7 206L364.4 202.7L359 209.8Z" fill="#d4ff00"/>
<path d="M682.7 111.6L687.6 108.3L681.7 106.1L676.8 109.4Z" fill="#ff3f00"/>
<path d="M391.2 198.6L396.6 191.9L391.3 188.7L385.9 195.4Z" fill="#f6ff00"/>
<path d="M321 240.7L326.5 232.9L321.4 229.5L315.8 237.2Z" fill="#94ff00"/>
<path d="M493.8 155.3L499.1 149.8L493.5 147L488.2 152.4Z" fill="#ffa300"/>
<path d="M601.7 125.9L606.8 121.7L601.1 119.3L596 123.4Z" fill="#ff5f00"/>
<path d="M456 169.4L461.3 163.5L455.9 160.5L450.5 166.4Z" fill="#ffc400"/>
<path d="M542.3 140.4L547.6 135.6L542 132.9L536.7 137.7Z" fill="#ff8100"/>
<path d="M693.5 110.4L698.4 107.1L692.5 105.1L687.6 108.3Z" fill="#ff3c00"/>
<path d="M207.6 338.2L213.2 328.5L208.2 324.7L202.7 334.3Z" fill="#00ff54"/>
<path d="M304.8 253.2L310.3 245.1L305.2 241.6L299.6 249.7Z" fill="#78ff00"/>
<path d="M704.4 109.3L709.3 106.1L703.3 104L698.4 107.1Z" fill="#ff3900"/>
<path d="M612.6 124.2L617.7 120.1L611.9 117.7L606.8 121.7Z" fill="#ff5b00"/>
<path d="M348 224.5L353.5 217.1L348.2 213.8L342.7 221.1Z" fill="#bbff00"/>
<path d="M223.8 322.9L229.4 313.5L224.3 309.7L218.8 319Z" fill="#00ff2d"/>
<path d="M429 181.8L434.4 175.5L429 172.4L423.6 178.6Z" fill="#ffe000"/>
<path d="M553.2 138.3L558.4 133.5L552.8 130.8L547.6 135.6Z" fill="#ff7b00"/>
<path d="M504.6 152.7L509.9 147.4L504.3 144.6L499.1 149.8Z" fill="#ff9d00"/>
<path d="M715.2 108.2L720.1 105.1L714.1 103.1L709.3 106.1Z" fill="#ff3600"/>
<path d="M288.6 266.2L294.1 257.9L289 254.3L283.4 262.6Z" fill="#5aff00"/>
<path d="M240 308L245.5 298.9L240.5 295.1L234.9 304.2Z" fill="#00ff07"/>
<path d="M375 209.3L380.4 202.3L375.1 199L369.7 206Z" fill="#deff00"/>
<path d="M402 195.1L407.4 188.4L402.1 185.2L396.6 191.9Z" fill="#ffff00"/>
<path d="M466.8 166.5L472.1 160.7L466.7 157.7L461.3 163.5Z" fill="#ffbc00"/>
<path d="M272.3 279.7L277.9 271.1L272.8 267.4L267.3 276Z" fill="#3bff00"/>
<path d="M256.1 293.6L261.7 284.7L256.6 281L251.1 289.9Z" fill="#1bff00"/>
<path d="M623.4 122.5L628.5 118.5L622.7 116.2L617.7 120.1Z" fill="#ff5700"/>
<path d="M726.1 107.1L730.9 104.1L724.9 102.1L720.1 105.1Z" fill="#ff3300"/>
<path d="M331.7 236.4L337.2 228.7L332 225.3L326.5 232.9Z" fill="#a0ff00"/>
<path d="M736.9 106.1L741.7 103.2L735.7 101.3L730.9 104.1Z" fill="#ff3100"/>
<path d="M564 136.2L569.2 131.5L563.6 128.9L558.4 133.5Z" fill="#ff7600"/>
<path d="M634.3 120.9L639.3 117L633.5 114.7L628.5 118.5Z" fill="#ff5200"/>
<path d="M515.4 150.2L520.7 145L515.1 142.2L509.9 147.4Z" fill="#ff9600"/>
<path d="M202.1 348L207.6 338.2L202.7 334.3L197.1 344.1Z" fill="#00ff6a"/>
<path d="M747.8 105.1L752.6 102.3L746.5 100.5L741.7 103.2Z" fill="#ff2e00"/>
<path d="M439.8 178.6L445.2 172.4L439.8 169.3L434.4 175.5Z" fill="#ffd800"/>
<path d="M477.6 163.6L482.9 157.9L477.5 155L472.1 160.7Z" fill="#ffb500"/>
<path d="M358.7 220.5L364.2 213.2L359 209.8L353.5 217.1Z" fill="#c5ff00"/>
<path d="M315.5 248.7L321 240.7L315.8 237.2L310.3 245.1Z" fill="#84ff00"/>
<path d="M645.1 119.4L650.2 115.6L644.3 113.3L639.3 117Z" fill="#ff4e00"/>
<path d="M574.9 134.1L580 129.6L574.4 127L569.2 131.5Z" fill="#ff7000"/>
<path d="M412.8 191.6L418.2 185L412.8 181.9L407.4 188.4Z" fill="#fff600"/>
<path d="M218.2 332.4L223.8 322.9L218.8 319L213.2 328.5Z" fill="#00ff42"/>
<path d="M385.7 205.6L391.2 198.6L385.9 195.4L380.4 202.3Z" fill="#e8ff00"/>
<path d="M526.3 147.8L531.5 142.7L525.9 139.9L520.7 145Z" fill="#ff9000"/>
<path d="M299.3 261.5L304.8 253.2L299.6 249.7L294.1 257.9Z" fill="#67ff00"/>
<path d="M656 117.9L661 114.2L655.2 111.9L650.2 115.6Z" fill="#ff4b00"/>
<path d="M234.4 317.3L240 308L234.9 304.2L229.4 313.5Z" fill="#00ff1c"/>
<path d="M585.7 132.2L590.9 127.7L585.2 125.2L580 129.6Z" fill="#ff6b00"/>
<path d="M283 274.7L288.6 266.2L283.4 262.6L277.9 271.1Z" fill="#49ff00"/>
<path d="M450.6 175.5L456 169.4L450.5 166.4L445.2 172.4Z" fill="#ffcf00"/>
<path d="M250.6 302.6L256.1 293.6L251.1 289.9L245.5 298.9Z" fill="#08ff00"/>
<path d="M342.5 232.1L348 224.5L342.7 221.1L337.2 228.7Z" fill="#abff00"/>
<path d="M488.4 160.9L493.8 155.3L488.2 152.4L482.9 157.9Z" fill="#ffad00"/>
<path d="M266.8 288.4L272.3 279.7L267.3 276L261.7 284.7Z" fill="#29ff00"/>
<path d="M666.9 116.5L671.8 112.9L666 110.7L661 114.2Z" fill="#ff4700"/>
<path d="M537.1 145.5L542.3 140.4L536.7 137.7L531.5 142.7Z" fill="#ff8900"/>
<path d="M423.6 188.2L429 181.8L423.6 178.6L418.2 185Z" fill="#ffed00"/>
<path d="M596.6 130.3L601.7 125.9L596 123.4L590.9 127.7Z" fill="#ff6600"/>
<path d="M369.5 216.6L375 209.3L369.7 206L364.2 213.2Z" fill="#d0ff00"/>
<path d="M677.7 115.2L682.7 111.6L676.8 109.4L671.8 112.9Z" fill="#ff4300"/>
<path d="M396.5 201.9L402 195.1L396.6 191.9L391.2 198.6Z" fill="#f2ff00"/>
<path d="M326.2 244.2L331.7 236.4L326.5 232.9L321 240.7Z" fill="#90ff00"/>
<path d="M212.6 342.2L218.2 332.4L213.2 328.5L207.6 338.2Z" fill="#00ff59"/>
<path d="M499.3 158.2L504.6 152.7L499.1 149.8L493.8 155.3Z" fill="#ffa600"/>
<path d="M688.6 113.9L693.5 110.4L687.6 108.3L682.7 111.6Z" fill="#ff4000"/>
<path d="M461.4 172.5L466.8 166.5L461.3 163.5L456 169.4Z" fill="#ffc700"/>
<path d="M548 143.2L553.2 138.3L547.6 135.6L542.3 140.4Z" fill="#ff8300"/>
<path d="M607.5 128.5L612.6 124.2L606.8 121.7L601.7 125.9Z" fill="#ff6100"/>
<path d="M310 256.8L315.5 248.7L310.3 245.1L304.8 253.2Z" fill="#74ff00"/>
<path d="M699.5 112.6L704.4 109.3L698.4 107.1L693.5 110.4Z" fill="#ff3d00"/>
<path d="M228.8 326.8L234.4 317.3L229.4 313.5L223.8 322.9Z" fill="#00ff32"/>
<path d="M353.2 228L358.7 220.5L353.5 217.1L348 224.5Z" fill="#b7ff00"/>
<path d="M434.4 184.9L439.8 178.6L434.4 175.5L429 181.8Z" fill="#ffe400"/>
<path d="M293.7 269.9L299.3 261.5L294.1 257.9L288.6 266.2Z" fill="#56ff00"/>
<path d="M618.3 126.7L623.4 122.5L617.7 120.1L612.6 124.2Z" fill="#ff5d00"/>
<path d="M245 311.8L250.6 302.6L245.5 298.9L240 308Z" fill="#00ff0c"/>
<path d="M710.3 111.4L715.2 108.2L709.3 106.1L704.4 109.3Z" fill="#ff3a00"/>
<path d="M510.1 155.6L515.4 150.2L509.9 147.4L504.6 152.7Z" fill="#ff9f00"/>
<path d="M558.8 141L564 136.2L558.4 133.5L553.2 138.3Z" fill="#ff7e00"/>
<path d="M277.5 283.4L283 274.7L277.9 271.1L272.3 279.7Z" fill="#37ff00"/>
<path d="M380.3 212.7L385.7 205.6L380.4 202.3L375 209.3Z" fill="#daff00"/>
<path d="M261.2 297.4L266.8 288.4L261.7 284.7L256.1 293.6Z" fill="#17ff00"/>
<path d="M407.3 198.4L412.8 191.6L407.4 188.4L402 195.1Z" fill="#fbff00"/>
<path d="M472.3 169.5L477.6 163.6L472.1 160.7L466.8 166.5Z" fill="#ffc000"/>
<path d="M721.2 110.3L726.1 107.1L720.1 105.1L715.2 108.2Z" fill="#ff3700"/>
<path d="M629.2 125L634.3 120.9L628.5 118.5L623.4 122.5Z" fill="#ff5800"/>
<path d="M337 239.9L342.5 232.1L337.2 228.7L331.7 236.4Z" fill="#9cff00"/>
<path d="M207.1 352L212.6 342.2L207.6 338.2L202.1 348Z" fill="#00ff70"/>
<path d="M732.1 109.2L736.9 106.1L730.9 104.1L726.1 107.1Z" fill="#ff3400"/>
<path d="M569.7 138.9L574.9 134.1L569.2 131.5L564 136.2Z" fill="#ff7800"/>
<path d="M521 153.1L526.3 147.8L520.7 145L515.4 150.2Z" fill="#ff9900"/>
<path d="M445.2 181.7L450.6 175.5L445.2 172.4L439.8 178.6Z" fill="#ffdb00"/>
<path d="M743 108.1L747.8 105.1L741.7 103.2L736.9 106.1Z" fill="#ff3100"/>
<path d="M640.1 123.4L645.1 119.4L639.3 117L634.3 120.9Z" fill="#ff5400"/>
<path d="M320.7 252.3L326.2 244.2L321 240.7L315.5 248.7Z" fill="#80ff00"/>
<path d="M364 223.9L369.5 216.6L364.2 213.2L358.7 220.5Z" fill="#c2ff00"/>
<path d="M483.1 166.7L488.4 160.9L482.9 157.9L477.6 163.6Z" fill="#ffb800"/>
<path d="M223.2 336.4L228.8 326.8L223.8 322.9L218.2 332.4Z" fill="#00ff48"/>
<path d="M418.1 194.9L423.6 188.2L418.2 185L412.8 191.6Z" fill="#fff900"/>
<path d="M391.1 208.9L396.5 201.9L391.2 198.6L385.7 205.6Z" fill="#e4ff00"/>
<path d="M580.6 136.8L585.7 132.2L580 129.6L574.9 134.1Z" fill="#ff7300"/>
<path d="M651 121.8L656 117.9L650.2 115.6L645.1 119.4Z" fill="#ff5000"/>
<path d="M304.4 265.1L310 256.8L304.8 253.2L299.3 261.5Z" fill="#63ff00"/>
<path d="M239.4 321.2L245 311.8L240 308L234.4 317.3Z" fill="#00ff21"/>
<path d="M531.9 150.7L537.1 145.5L531.5 142.7L526.3 147.8Z" fill="#ff9200"/>
<path d="M288.2 278.4L293.7 269.9L288.6 266.2L283 274.7Z" fill="#44ff00"/>
<path d="M255.7 306.5L261.2 297.4L256.1 293.6L250.6 302.6Z" fill="#04ff00"/>
<path d="M271.9 292.2L277.5 283.4L272.3 279.7L266.8 288.4Z" fill="#25ff00"/>
<path d="M661.9 120.3L666.9 116.5L661 114.2L656 117.9Z" fill="#ff4c00"/>
<path d="M347.7 235.6L353.2 228L348 224.5L342.5 232.1Z" fill="#a7ff00"/>
<path d="M456 178.6L461.4 172.5L456 169.4L450.6 175.5Z" fill="#ffd300"/>
<path d="M591.5 134.8L596.6 130.3L590.9 127.7L585.7 132.2Z" fill="#ff6d00"/>
<path d="M494 163.9L499.3 158.2L493.8 155.3L488.4 160.9Z" fill="#ffb100"/>
<path d="M672.8 118.8L677.7 115.2L671.8 112.9L666.9 116.5Z" fill="#ff4800"/>
<path d="M542.7 148.3L548 143.2L542.3 140.4L537.1 145.5Z" fill="#ff8c00"/>
<path d="M374.8 220L380.3 212.7L375 209.3L369.5 216.6Z" fill="#ccff00"/>
<path d="M429 191.5L434.4 184.9L429 181.8L423.6 188.2Z" fill="#fff000"/>
<path d="M331.4 247.8L337 239.9L331.7 236.4L326.2 244.2Z" fill="#8cff00"/>
<path d="M401.9 205.3L407.3 198.4L402 195.1L396.5 201.9Z" fill="#eeff00"/>
<path d="M602.3 132.9L607.5 128.5L601.7 125.9L596.6 130.3Z" fill="#ff6800"/>
<path d="M217.7 346.2L223.2 336.4L218.2 332.4L212.6 342.2Z" fill="#00ff5e"/>
<path d="M683.7 117.4L688.6 113.9L682.7 111.6L677.7 115.2Z" fill="#ff4500"/>
<path d="M504.8 161.2L510.1 155.6L504.6 152.7L499.3 158.2Z" fill="#ffa900"/>
<path d="M466.9 175.6L472.3 169.5L466.8 166.5L461.4 172.5Z" fill="#ffcb00"/>
<path d="M315.2 260.5L320.7 252.3L315.5 248.7L310 256.8Z" fill="#70ff00"/>
<path d="M233.9 330.7L239.4 321.2L234.4 317.3L228.8 326.8Z" fill="#00ff37"/>
<path d="M553.6 146L558.8 141L553.2 138.3L548 143.2Z" fill="#ff8600"/>
<path d="M694.5 116.1L699.5 112.6L693.5 110.4L688.6 113.9Z" fill="#ff4100"/>
<path d="M613.2 131.1L618.3 126.7L612.6 124.2L607.5 128.5Z" fill="#ff6400"/>
<path d="M358.5 231.5L364 223.9L358.7 220.5L353.2 228Z" fill="#b3ff00"/>
<path d="M298.9 273.6L304.4 265.1L299.3 261.5L293.7 269.9Z" fill="#52ff00"/>
<path d="M250.1 315.7L255.7 306.5L250.6 302.6L245 311.8Z" fill="#00ff11"/>
<path d="M439.8 188.2L445.2 181.7L439.8 178.6L434.4 184.9Z" fill="#ffe700"/>
<path d="M705.4 114.8L710.3 111.4L704.4 109.3L699.5 112.6Z" fill="#ff3e00"/>
<path d="M282.6 287.1L288.2 278.4L283 274.7L277.5 283.4Z" fill="#32ff00"/>
<path d="M266.3 301.2L271.9 292.2L266.8 288.4L261.2 297.4Z" fill="#12ff00"/>
<path d="M385.6 216.1L391.1 208.9L385.7 205.6L380.3 212.7Z" fill="#d6ff00"/>
<path d="M412.7 201.7L418.1 194.9L412.8 191.6L407.3 198.4Z" fill="#f8ff00"/>
<path d="M624.1 129.3L629.2 125L623.4 122.5L618.3 126.7Z" fill="#ff5f00"/>
<path d="M515.7 158.6L521 153.1L515.4 150.2L510.1 155.6Z" fill="#ffa200"/>
<path d="M564.5 143.8L569.7 138.9L564 136.2L558.8 141Z" fill="#ff8000"/>
<path d="M477.8 172.6L483.1 166.7L477.6 163.6L472.3 169.5Z" fill="#ffc300"/>
<path d="M716.3 113.6L721.2 110.3L715.2 108.2L710.3 111.4Z" fill="#ff3b00"/>
<path d="M342.2 243.5L347.7 235.6L342.5 232.1L337 239.9Z" fill="#98ff00"/>
<path d="M212.1 356.1L217.7 346.2L212.6 342.2L207.1 352Z" fill="#00ff75"/>
<path d="M727.2 112.4L732.1 109.2L726.1 107.1L721.2 110.3Z" fill="#ff3800"/>
<path d="M635 127.5L640.1 123.4L634.3 120.9L629.2 125Z" fill="#ff5a00"/>
<path d="M575.4 141.6L580.6 136.8L574.9 134.1L569.7 138.9Z" fill="#ff7b00"/>
<path d="M450.6 184.9L456 178.6L450.6 175.5L445.2 181.7Z" fill="#ffdf00"/>
<path d="M526.6 156L531.9 150.7L526.3 147.8L521 153.1Z" fill="#ff9c00"/>
<path d="M738.1 111.2L743 108.1L736.9 106.1L732.1 109.2Z" fill="#ff3500"/>
<path d="M325.9 255.9L331.4 247.8L326.2 244.2L320.7 252.3Z" fill="#7cff00"/>
<path d="M228.3 340.4L233.9 330.7L228.8 326.8L223.2 336.4Z" fill="#00ff4d"/>
<path d="M369.3 227.4L374.8 220L369.5 216.6L364 223.9Z" fill="#beff00"/>
<path d="M645.9 125.9L651 121.8L645.1 119.4L640.1 123.4Z" fill="#ff5600"/>
<path d="M488.6 169.7L494 163.9L488.4 160.9L483.1 166.7Z" fill="#ffbb00"/>
<path d="M423.5 198.2L429 191.5L423.6 188.2L418.1 194.9Z" fill="#fffd00"/>
<path d="M396.4 212.3L401.9 205.3L396.5 201.9L391.1 208.9Z" fill="#e1ff00"/>
<path d="M309.6 268.8L315.2 260.5L310 256.8L304.4 265.1Z" fill="#5fff00"/>
<path d="M244.5 325.1L250.1 315.7L245 311.8L239.4 321.2Z" fill="#00ff26"/>
<path d="M586.3 139.5L591.5 134.8L585.7 132.2L580.6 136.8Z" fill="#ff7500"/>
<path d="M293.3 282.2L298.9 273.6L293.7 269.9L288.2 278.4Z" fill="#40ff00"/>
<path d="M260.8 310.3L266.3 301.2L261.2 297.4L255.7 306.5Z" fill="#00ff01"/>
<path d="M656.8 124.2L661.9 120.3L656 117.9L651 121.8Z" fill="#ff5200"/>
<path d="M277 296L282.6 287.1L277.5 283.4L271.9 292.2Z" fill="#20ff00"/>
<path d="M537.5 153.6L542.7 148.3L537.1 145.5L531.9 150.7Z" fill="#ff9500"/>
<path d="M353 239.2L358.5 231.5L353.2 228L347.7 235.6Z" fill="#a3ff00"/>
<path d="M461.5 181.8L466.9 175.6L461.4 172.5L456 178.6Z" fill="#ffd600"/>
<path d="M499.5 166.9L504.8 161.2L499.3 158.2L494 163.9Z" fill="#ffb400"/>
<path d="M667.8 122.7L672.8 118.8L666.9 116.5L661.9 120.3Z" fill="#ff4e00"/>
<path d="M597.2 137.5L602.3 132.9L596.6 130.3L591.5 134.8Z" fill="#ff7000"/>
<path d="M380.1 223.4L385.6 216.1L380.3 212.7L374.8 220Z" fill="#c8ff00"/>
<path d="M434.4 194.7L439.8 188.2L434.4 184.9L429 191.5Z" fill="#fff400"/>
<path d="M222.7 350.2L228.3 340.4L223.2 336.4L217.7 346.2Z" fill="#00ff63"/>
<path d="M336.7 251.4L342.2 243.5L337 239.9L331.4 247.8Z" fill="#88ff00"/>
<path d="M548.4 151.2L553.6 146L548 143.2L542.7 148.3Z" fill="#ff8f00"/>
<path d="M407.2 208.6L412.7 201.7L407.3 198.4L401.9 205.3Z" fill="#eaff00"/>
<path d="M678.7 121.2L683.7 117.4L677.7 115.2L672.8 118.8Z" fill="#ff4a00"/>
<path d="M608.1 135.6L613.2 131.1L607.5 128.5L602.3 132.9Z" fill="#ff6b00"/>
<path d="M472.4 178.7L477.8 172.6L472.3 169.5L466.9 175.6Z" fill="#ffce00"/>
<path d="M238.9 334.7L244.5 325.1L239.4 321.2L233.9 330.7Z" fill="#00ff3c"/>
<path d="M320.4 264.1L325.9 255.9L320.7 252.3L315.2 260.5Z" fill="#6bff00"/>
<path d="M510.4 164.2L515.7 158.6L510.1 155.6L504.8 161.2Z" fill="#ffac00"/>
<path d="M689.6 119.8L694.5 116.1L688.6 113.9L683.7 117.4Z" fill="#ff4600"/>
<path d="M363.8 235L369.3 227.4L364 223.9L358.5 231.5Z" fill="#afff00"/>
<path d="M559.3 148.8L564.5 143.8L558.8 141L553.6 146Z" fill="#ff8900"/>
<path d="M255.2 319.6L260.8 310.3L255.7 306.5L250.1 315.7Z" fill="#00ff16"/>
<path d="M304.1 277.3L309.6 268.8L304.4 265.1L298.9 273.6Z" fill="#4dff00"/>
<path d="M619 133.7L624.1 129.3L618.3 126.7L613.2 131.1Z" fill="#ff6600"/>
<path d="M700.5 118.4L705.4 114.8L699.5 112.6L694.5 116.1Z" fill="#ff4300"/>
<path d="M271.5 305.1L277 296L271.9 292.2L266.3 301.2Z" fill="#0dff00"/>
<path d="M287.8 291L293.3 282.2L288.2 278.4L282.6 287.1Z" fill="#2eff00"/>
<path d="M445.2 191.4L450.6 184.9L445.2 181.7L439.8 188.2Z" fill="#ffeb00"/>
<path d="M390.9 219.5L396.4 212.3L391.1 208.9L385.6 216.1Z" fill="#d3ff00"/>
<path d="M418.1 205L423.5 198.2L418.1 194.9L412.7 201.7Z" fill="#f4ff00"/>
<path d="M521.3 161.6L526.6 156L521 153.1L515.7 158.6Z" fill="#ffa500"/>
<path d="M711.4 117L716.3 113.6L710.3 111.4L705.4 114.8Z" fill="#ff3f00"/>
<path d="M217.1 360.2L222.7 350.2L217.7 346.2L212.1 356.1Z" fill="#00ff7a"/>
<path d="M483.3 175.7L488.6 169.7L483.1 166.7L477.8 172.6Z" fill="#ffc600"/>
<path d="M347.5 247.1L353 239.2L347.7 235.6L342.2 243.5Z" fill="#94ff00"/>
<path d="M629.9 131.8L635 127.5L629.2 125L624.1 129.3Z" fill="#ff6100"/>
<path d="M570.2 146.6L575.4 141.6L569.7 138.9L564.5 143.8Z" fill="#ff8300"/>
<path d="M722.4 115.7L727.2 112.4L721.2 110.3L716.3 113.6Z" fill="#ff3c00"/>
<path d="M233.3 344.4L238.9 334.7L233.9 330.7L228.3 340.4Z" fill="#00ff52"/>
<path d="M640.9 130.1L645.9 125.9L640.1 123.4L635 127.5Z" fill="#ff5c00"/>
<path d="M331.1 259.6L336.7 251.4L331.4 247.8L325.9 255.9Z" fill="#77ff00"/>
<path d="M456.1 188.2L461.5 181.8L456 178.6L450.6 184.9Z" fill="#ffe200"/>
<path d="M374.6 230.9L380.1 223.4L374.8 220L369.3 227.4Z" fill="#b9ff00"/>
<path d="M733.3 114.5L738.1 111.2L732.1 109.2L727.2 112.4Z" fill="#ff3900"/>
<path d="M581.1 144.4L586.3 139.5L580.6 136.8L575.4 141.6Z" fill="#ff7d00"/>
<path d="M532.2 159L537.5 153.6L531.9 150.7L526.6 156Z" fill="#ff9f00"/>
<path d="M494.2 172.8L499.5 166.9L494 163.9L488.6 169.7Z" fill="#ffbe00"/>
<path d="M249.6 329.1L255.2 319.6L250.1 315.7L244.5 325.1Z" fill="#00ff2c"/>
<path d="M428.9 201.5L434.4 194.7L429 191.5L423.5 198.2Z" fill="#fdff00"/>
<path d="M401.8 215.7L407.2 208.6L401.9 205.3L396.4 212.3Z" fill="#ddff00"/>
<path d="M314.8 272.5L320.4 264.1L315.2 260.5L309.6 268.8Z" fill="#5aff00"/>
<path d="M651.8 128.4L656.8 124.2L651 121.8L645.9 125.9Z" fill="#ff5800"/>
<path d="M265.9 314.3L271.5 305.1L266.3 301.2L260.8 310.3Z" fill="#00ff06"/>
<path d="M298.5 286L304.1 277.3L298.9 273.6L293.3 282.2Z" fill="#3bff00"/>
<path d="M282.2 299.9L287.8 291L282.6 287.1L277 296Z" fill="#1bff00"/>
<path d="M592 142.3L597.2 137.5L591.5 134.8L586.3 139.5Z" fill="#ff7800"/>
<path d="M358.3 242.8L363.8 235L358.5 231.5L353 239.2Z" fill="#9fff00"/>
<path d="M543.1 156.5L548.4 151.2L542.7 148.3L537.5 153.6Z" fill="#ff9800"/>
<path d="M662.7 126.7L667.8 122.7L661.9 120.3L656.8 124.2Z" fill="#ff5400"/>
<path d="M467 185L472.4 178.7L466.9 175.6L461.5 181.8Z" fill="#ffda00"/>
<path d="M505.1 170L510.4 164.2L504.8 161.2L499.5 166.9Z" fill="#ffb700"/>
<path d="M227.8 354.3L233.3 344.4L228.3 340.4L222.7 350.2Z" fill="#00ff69"/>
<path d="M385.4 226.9L390.9 219.5L385.6 216.1L380.1 223.4Z" fill="#c4ff00"/>
<path d="M603 140.2L608.1 135.6L602.3 132.9L597.2 137.5Z" fill="#ff7200"/>
<path d="M341.9 255.1L347.5 247.1L342.2 243.5L336.7 251.4Z" fill="#84ff00"/>
<path d="M673.7 125.1L678.7 121.2L672.8 118.8L667.8 122.7Z" fill="#ff5000"/>
<path d="M439.8 198.1L445.2 191.4L439.8 188.2L434.4 194.7Z" fill="#fff700"/>
<path d="M412.6 212L418.1 205L412.7 201.7L407.2 208.6Z" fill="#e7ff00"/>
<path d="M554 154.1L559.3 148.8L553.6 146L548.4 151.2Z" fill="#ff9200"/>
<path d="M244 338.7L249.6 329.1L244.5 325.1L238.9 334.7Z" fill="#00ff41"/>
<path d="M684.6 123.6L689.6 119.8L683.7 117.4L678.7 121.2Z" fill="#ff4c00"/>
<path d="M325.6 267.9L331.1 259.6L325.9 255.9L320.4 264.1Z" fill="#67ff00"/>
<path d="M613.9 138.2L619 133.7L613.2 131.1L608.1 135.6Z" fill="#ff6d00"/>
<path d="M477.9 181.9L483.3 175.7L477.8 172.6L472.4 178.7Z" fill="#ffd100"/>
<path d="M516 167.3L521.3 161.6L515.7 158.6L510.4 164.2Z" fill="#ffb000"/>
<path d="M260.3 323.6L265.9 314.3L260.8 310.3L255.2 319.6Z" fill="#00ff1b"/>
<path d="M369.1 238.6L374.6 230.9L369.3 227.4L363.8 235Z" fill="#aaff00"/>
<path d="M309.3 281.1L314.8 272.5L309.6 268.8L304.1 277.3Z" fill="#49ff00"/>
<path d="M695.6 122.1L700.5 118.4L694.5 116.1L689.6 119.8Z" fill="#ff4800"/>
<path d="M276.6 309L282.2 299.9L277 296L271.5 305.1Z" fill="#09ff00"/>
<path d="M292.9 294.8L298.5 286L293.3 282.2L287.8 291Z" fill="#29ff00"/>
<path d="M565 151.7L570.2 146.6L564.5 143.8L559.3 148.8Z" fill="#ff8b00"/>
<path d="M450.7 194.7L456.1 188.2L450.6 184.9L445.2 191.4Z" fill="#ffee00"/>
<path d="M624.8 136.3L629.9 131.8L624.1 129.3L619 133.7Z" fill="#ff6800"/>
<path d="M396.3 223L401.8 215.7L396.4 212.3L390.9 219.5Z" fill="#cfff00"/>
<path d="M222.2 364.3L227.8 354.3L222.7 350.2L217.1 360.2Z" fill="#00ff80"/>
<path d="M423.5 208.4L428.9 201.5L423.5 198.2L418.1 205Z" fill="#f0ff00"/>
<path d="M706.5 120.7L711.4 117L705.4 114.8L700.5 118.4Z" fill="#ff4400"/>
<path d="M352.7 250.7L358.3 242.8L353 239.2L347.5 247.1Z" fill="#8fff00"/>
<path d="M526.9 164.6L532.2 159L526.6 156L521.3 161.6Z" fill="#ffa900"/>
<path d="M488.8 178.9L494.2 172.8L488.6 169.7L483.3 175.7Z" fill="#ffc900"/>
<path d="M575.9 149.4L581.1 144.4L575.4 141.6L570.2 146.6Z" fill="#ff8500"/>
<path d="M635.8 134.4L640.9 130.1L635 127.5L629.9 131.8Z" fill="#ff6300"/>
<path d="M717.4 119.3L722.4 115.7L716.3 113.6L711.4 117Z" fill="#ff4100"/>
<path d="M238.4 348.5L244 338.7L238.9 334.7L233.3 344.4Z" fill="#00ff58"/>
<path d="M336.4 263.3L341.9 255.1L336.7 251.4L331.1 259.6Z" fill="#73ff00"/>
<path d="M379.9 234.5L385.4 226.9L380.1 223.4L374.6 230.9Z" fill="#b5ff00"/>
<path d="M728.4 118L733.3 114.5L727.2 112.4L722.4 115.7Z" fill="#ff3d00"/>
<path d="M461.6 191.4L467 185L461.5 181.8L456.1 188.2Z" fill="#ffe600"/>
<path d="M646.7 132.6L651.8 128.4L645.9 125.9L640.9 130.1Z" fill="#ff5e00"/>
<path d="M254.7 333.1L260.3 323.6L255.2 319.6L249.6 329.1Z" fill="#00ff31"/>
<path d="M537.8 162L543.1 156.5L537.5 153.6L532.2 159Z" fill="#ffa200"/>
<path d="M586.8 147.2L592 142.3L586.3 139.5L581.1 144.4Z" fill="#ff8000"/>
<path d="M320 276.3L325.6 267.9L320.4 264.1L314.8 272.5Z" fill="#56ff00"/>
<path d="M407.2 219.2L412.6 212L407.2 208.6L401.8 215.7Z" fill="#d9ff00"/>
<path d="M434.4 204.9L439.8 198.1L434.4 194.7L428.9 201.5Z" fill="#faff00"/>
<path d="M499.7 176L505.1 170L499.5 166.9L494.2 172.8Z" fill="#ffc200"/>
<path d="M271 318.2L276.6 309L271.5 305.1L265.9 314.3Z" fill="#00ff0b"/>
<path d="M303.7 289.8L309.3 281.1L304.1 277.3L298.5 286Z" fill="#37ff00"/>
<path d="M287.4 303.8L292.9 294.8L287.8 291L282.2 299.9Z" fill="#17ff00"/>
<path d="M657.7 130.9L662.7 126.7L656.8 124.2L651.8 128.4Z" fill="#ff5a00"/>
<path d="M363.6 246.4L369.1 238.6L363.8 235L358.3 242.8Z" fill="#9bff00"/>
<path d="M597.8 145L603 140.2L597.2 137.5L592 142.3Z" fill="#ff7a00"/>
<path d="M548.8 159.4L554 154.1L548.4 151.2L543.1 156.5Z" fill="#ff9b00"/>
<path d="M472.5 188.2L477.9 181.9L472.4 178.7L467 185Z" fill="#ffdd00"/>
<path d="M232.8 358.4L238.4 348.5L233.3 344.4L227.8 354.3Z" fill="#00ff6e"/>
<path d="M668.6 129.2L673.7 125.1L667.8 122.7L662.7 126.7Z" fill="#ff5600"/>
<path d="M510.7 173.1L516 167.3L510.4 164.2L505.1 170Z" fill="#ffba00"/>
<path d="M390.8 230.5L396.3 223L390.9 219.5L385.4 226.9Z" fill="#c0ff00"/>
<path d="M347.2 258.8L352.7 250.7L347.5 247.1L341.9 255.1Z" fill="#7fff00"/>
<path d="M445.3 201.4L450.7 194.7L445.2 191.4L439.8 198.1Z" fill="#fffb00"/>
<path d="M418 215.5L423.5 208.4L418.1 205L412.6 212Z" fill="#e3ff00"/>
<path d="M608.7 143L613.9 138.2L608.1 135.6L603 140.2Z" fill="#ff7500"/>
<path d="M249.1 342.8L254.7 333.1L249.6 329.1L244 338.7Z" fill="#00ff47"/>
<path d="M679.6 127.6L684.6 123.6L678.7 121.2L673.7 125.1Z" fill="#ff5100"/>
<path d="M559.7 157L565 151.7L559.3 148.8L554 154.1Z" fill="#ff9500"/>
<path d="M330.8 271.6L336.4 263.3L331.1 259.6L325.6 267.9Z" fill="#62ff00"/>
<path d="M265.4 327.6L271 318.2L265.9 314.3L260.3 323.6Z" fill="#00ff21"/>
<path d="M483.4 185.1L488.8 178.9L483.3 175.7L477.9 181.9Z" fill="#ffd500"/>
<path d="M314.5 284.9L320 276.3L314.8 272.5L309.3 281.1Z" fill="#44ff00"/>
<path d="M374.4 242.2L379.9 234.5L374.6 230.9L369.1 238.6Z" fill="#a6ff00"/>
<path d="M521.6 170.3L526.9 164.6L521.3 161.6L516 167.3Z" fill="#ffb300"/>
<path d="M690.6 126L695.6 122.1L689.6 119.8L684.6 123.6Z" fill="#ff4d00"/>
<path d="M619.7 140.9L624.8 136.3L619 133.7L613.9 138.2Z" fill="#ff6f00"/>
<path d="M281.8 312.9L287.4 303.8L282.2 299.9L276.6 309Z" fill="#04ff00"/>
<path d="M298.1 298.7L303.7 289.8L298.5 286L292.9 294.8Z" fill="#24ff00"/>
<path d="M570.7 154.6L575.9 149.4L570.2 146.6L565 151.7Z" fill="#ff8e00"/>
<path d="M227.2 368.5L232.8 358.4L227.8 354.3L222.2 364.3Z" fill="#00ff85"/>
<path d="M456.2 198L461.6 191.4L456.1 188.2L450.7 194.7Z" fill="#fff200"/>
<path d="M401.7 226.5L407.2 219.2L401.8 215.7L396.3 223Z" fill="#caff00"/>
<path d="M701.5 124.5L706.5 120.7L700.5 118.4L695.6 122.1Z" fill="#ff4900"/>
<path d="M428.9 211.8L434.4 204.9L428.9 201.5L423.5 208.4Z" fill="#ecff00"/>
<path d="M630.7 139L635.8 134.4L629.9 131.8L624.8 136.3Z" fill="#ff6a00"/>
<path d="M358.1 254.4L363.6 246.4L358.3 242.8L352.7 250.7Z" fill="#8bff00"/>
<path d="M532.5 167.6L537.8 162L532.2 159L526.9 164.6Z" fill="#ffac00"/>
<path d="M494.4 182.1L499.7 176L494.2 172.8L488.8 178.9Z" fill="#ffcd00"/>
<path d="M712.5 123L717.4 119.3L711.4 117L706.5 120.7Z" fill="#ff4600"/>
<path d="M243.5 352.6L249.1 342.8L244 338.7L238.4 348.5Z" fill="#00ff5d"/>
<path d="M581.6 152.3L586.8 147.2L581.1 144.4L575.9 149.4Z" fill="#ff8800"/>
<path d="M341.7 267L347.2 258.8L341.9 255.1L336.4 263.3Z" fill="#6fff00"/>
<path d="M641.6 137.1L646.7 132.6L640.9 130.1L635.8 134.4Z" fill="#ff6500"/>
<path d="M385.3 238.1L390.8 230.5L385.4 226.9L379.9 234.5Z" fill="#b1ff00"/>
<path d="M723.5 121.6L728.4 118L722.4 115.7L717.4 119.3Z" fill="#ff4200"/>
<path d="M259.8 337.2L265.4 327.6L260.3 323.6L254.7 333.1Z" fill="#00ff36"/>
<path d="M467.1 194.7L472.5 188.2L467 185L461.6 191.4Z" fill="#ffe900"/>
<path d="M325.3 280.1L330.8 271.6L325.6 267.9L320 276.3Z" fill="#51ff00"/>
<path d="M412.6 222.7L418 215.5L412.6 212L407.2 219.2Z" fill="#d5ff00"/>
<path d="M276.2 322.2L281.8 312.9L276.6 309L271 318.2Z" fill="#00ff11"/>
<path d="M543.5 165L548.8 159.4L543.1 156.5L537.8 162Z" fill="#ffa500"/>
<path d="M439.8 208.3L445.3 201.4L439.8 198.1L434.4 204.9Z" fill="#f6ff00"/>
<path d="M308.9 293.7L314.5 284.9L309.3 281.1L303.7 289.8Z" fill="#32ff00"/>
<path d="M652.6 135.2L657.7 130.9L651.8 128.4L646.7 132.6Z" fill="#ff6000"/>
<path d="M592.6 150L597.8 145L592 142.3L586.8 147.2Z" fill="#ff8200"/>
<path d="M292.5 307.7L298.1 298.7L292.9 294.8L287.4 303.8Z" fill="#12ff00"/>
<path d="M505.3 179.1L510.7 173.1L505.1 170L499.7 176Z" fill="#ffc500"/>
<path d="M368.9 250.1L374.4 242.2L369.1 238.6L363.6 246.4Z" fill="#96ff00"/>
<path d="M663.6 133.4L668.6 129.2L662.7 126.7L657.7 130.9Z" fill="#ff5c00"/>
<path d="M237.9 362.6L243.5 352.6L238.4 348.5L232.8 358.4Z" fill="#00ff74"/>
<path d="M603.6 147.8L608.7 143L603 140.2L597.8 145Z" fill="#ff7d00"/>
<path d="M478 191.5L483.4 185.1L477.9 181.9L472.5 188.2Z" fill="#ffe100"/>
<path d="M554.5 162.4L559.7 157L554 154.1L548.8 159.4Z" fill="#ff9e00"/>
<path d="M396.2 234L401.7 226.5L396.3 223L390.8 230.5Z" fill="#bcff00"/>
<path d="M352.5 262.5L358.1 254.4L352.7 250.7L347.2 258.8Z" fill="#7bff00"/>
<path d="M516.3 176.3L521.6 170.3L516 167.3L510.7 173.1Z" fill="#ffbe00"/>
<path d="M450.8 204.8L456.2 198L450.7 194.7L445.3 201.4Z" fill="#ffff00"/>
<path d="M674.6 131.7L679.6 127.6L673.7 125.1L668.6 129.2Z" fill="#ff5700"/>
<path d="M423.5 219L428.9 211.8L423.5 208.4L418 215.5Z" fill="#dfff00"/>
<path d="M254.2 346.9L259.8 337.2L254.7 333.1L249.1 342.8Z" fill="#00ff4c"/>
<path d="M336.1 275.4L341.7 267L336.4 263.3L330.8 271.6Z" fill="#5eff00"/>
<path d="M614.6 145.7L619.7 140.9L613.9 138.2L608.7 143Z" fill="#ff7700"/>
<path d="M270.6 331.7L276.2 322.2L271 318.2L265.4 327.6Z" fill="#00ff26"/>
<path d="M565.4 160L570.7 154.6L565 151.7L559.7 157Z" fill="#ff9700"/>
<path d="M685.6 130L690.6 126L684.6 123.6L679.6 127.6Z" fill="#ff5300"/>
<path d="M319.7 288.8L325.3 280.1L320 276.3L314.5 284.9Z" fill="#3fff00"/>
<path d="M379.8 245.8L385.3 238.1L379.9 234.5L374.4 242.2Z" fill="#a2ff00"/>
<path d="M287 316.9L292.5 307.7L287.4 303.8L281.8 312.9Z" fill="#00ff01"/>
<path d="M489 188.4L494.4 182.1L488.8 178.9L483.4 185.1Z" fill="#ffd900"/>
<path d="M303.3 302.6L308.9 293.7L303.7 289.8L298.1 298.7Z" fill="#20ff00"/>
<path d="M527.2 173.4L532.5 167.6L526.9 164.6L521.6 170.3Z" fill="#ffb600"/>
<path d="M232.3 372.7L237.9 362.6L232.8 358.4L227.2 368.5Z" fill="#00ff8b"/>
<path d="M625.5 143.7L630.7 139L624.8 136.3L619.7 140.9Z" fill="#ff7200"/>
<path d="M696.6 128.4L701.5 124.5L695.6 122.1L690.6 126Z" fill="#ff4f00"/>
<path d="M407.1 230.1L412.6 222.7L407.2 219.2L401.7 226.5Z" fill="#c6ff00"/>
<path d="M461.7 201.4L467.1 194.7L461.6 191.4L456.2 198Z" fill="#fff600"/>
<path d="M576.4 157.5L581.6 152.3L575.9 149.4L570.7 154.6Z" fill="#ff9100"/>
<path d="M434.4 215.3L439.8 208.3L434.4 204.9L428.9 211.8Z" fill="#e8ff00"/>
<path d="M363.4 258.1L368.9 250.1L363.6 246.4L358.1 254.4Z" fill="#86ff00"/>
<path d="M707.6 126.9L712.5 123L706.5 120.7L701.5 124.5Z" fill="#ff4b00"/>
<path d="M248.6 356.8L254.2 346.9L249.1 342.8L243.5 352.6Z" fill="#00ff63"/>
<path d="M636.5 141.7L641.6 137.1L635.8 134.4L630.7 139Z" fill="#ff6c00"/>
<path d="M499.9 185.3L505.3 179.1L499.7 176L494.4 182.1Z" fill="#ffd000"/>
<path d="M538.2 170.7L543.5 165L537.8 162L532.5 167.6Z" fill="#ffaf00"/>
<path d="M347 270.8L352.5 262.5L347.2 258.8L341.7 267Z" fill="#6aff00"/>
<path d="M718.5 125.3L723.5 121.6L717.4 119.3L712.5 123Z" fill="#ff4700"/>
<path d="M587.4 155.2L592.6 150L586.8 147.2L581.6 152.3Z" fill="#ff8b00"/>
<path d="M265 341.3L270.6 331.7L265.4 327.6L259.8 337.2Z" fill="#00ff3c"/>
<path d="M390.7 241.7L396.2 234L390.8 230.5L385.3 238.1Z" fill="#adff00"/>
<path d="M647.5 139.7L652.6 135.2L646.7 132.6L641.6 137.1Z" fill="#ff6700"/>
<path d="M330.6 284L336.1 275.4L330.8 271.6L325.3 280.1Z" fill="#4cff00"/>
<path d="M472.6 198.1L478 191.5L472.5 188.2L467.1 194.7Z" fill="#ffed00"/>
<path d="M281.4 326.3L287 316.9L281.8 312.9L276.2 322.2Z" fill="#00ff16"/>
<path d="M314.1 297.6L319.7 288.8L314.5 284.9L308.9 293.7Z" fill="#2dff00"/>
<path d="M418 226.2L423.5 219L418 215.5L412.6 222.7Z" fill="#d1ff00"/>
<path d="M297.7 311.7L303.3 302.6L298.1 298.7L292.5 307.7Z" fill="#0dff00"/>
<path d="M445.3 211.7L450.8 204.8L445.3 201.4L439.8 208.3Z" fill="#f2ff00"/>
<path d="M549.2 168.1L554.5 162.4L548.8 159.4L543.5 165Z" fill="#ffa800"/>
<path d="M510.9 182.3L516.3 176.3L510.7 173.1L505.3 179.1Z" fill="#ffc900"/>
<path d="M598.4 152.9L603.6 147.8L597.8 145L592.6 150Z" fill="#ff8500"/>
<path d="M374.3 253.8L379.8 245.8L374.4 242.2L368.9 250.1Z" fill="#92ff00"/>
<path d="M658.5 137.8L663.6 133.4L657.7 130.9L652.6 135.2Z" fill="#ff6300"/>
<path d="M243 366.8L248.6 356.8L243.5 352.6L237.9 362.6Z" fill="#00ff7a"/>
<path d="M483.6 194.8L489 188.4L483.4 185.1L478 191.5Z" fill="#ffe500"/>
<path d="M669.5 136L674.6 131.7L668.6 129.2L663.6 133.4Z" fill="#ff5e00"/>
<path d="M357.8 266.3L363.4 258.1L358.1 254.4L352.5 262.5Z" fill="#76ff00"/>
<path d="M401.6 237.7L407.1 230.1L401.7 226.5L396.2 234Z" fill="#b8ff00"/>
<path d="M560.2 165.5L565.4 160L559.7 157L554.5 162.4Z" fill="#ffa100"/>
<path d="M609.4 150.7L614.6 145.7L608.7 143L603.6 147.8Z" fill="#ff7f00"/>
<path d="M259.4 351.1L265 341.3L259.8 337.2L254.2 346.9Z" fill="#00ff52"/>
<path d="M521.9 179.4L527.2 173.4L521.6 170.3L516.3 176.3Z" fill="#ffc100"/>
<path d="M456.3 208.2L461.7 201.4L456.2 198L450.8 204.8Z" fill="#fbff00"/>
<path d="M428.9 222.5L434.4 215.3L428.9 211.8L423.5 219Z" fill="#dbff00"/>
<path d="M341.4 279.3L347 270.8L341.7 267L336.1 275.4Z" fill="#59ff00"/>
<path d="M680.5 134.2L685.6 130L679.6 127.6L674.6 131.7Z" fill="#ff5900"/>
<path d="M275.8 335.8L281.4 326.3L276.2 322.2L270.6 331.7Z" fill="#00ff2c"/>
<path d="M325 292.7L330.6 284L325.3 280.1L319.7 288.8Z" fill="#3aff00"/>
<path d="M620.4 148.5L625.5 143.7L619.7 140.9L614.6 145.7Z" fill="#ff7a00"/>
<path d="M292.2 321L297.7 311.7L292.5 307.7L287 316.9Z" fill="#00ff07"/>
<path d="M308.6 306.6L314.1 297.6L308.9 293.7L303.3 302.6Z" fill="#1bff00"/>
<path d="M571.1 162.9L576.4 157.5L570.7 154.6L565.4 160Z" fill="#ff9a00"/>
<path d="M385.1 249.5L390.7 241.7L385.3 238.1L379.8 245.8Z" fill="#9dff00"/>
<path d="M494.6 191.7L499.9 185.3L494.4 182.1L489 188.4Z" fill="#ffdc00"/>
<path d="M237.4 377L243 366.8L237.9 362.6L232.3 372.7Z" fill="#00ff91"/>
<path d="M691.6 132.5L696.6 128.4L690.6 126L685.6 130Z" fill="#ff5500"/>
<path d="M532.9 176.6L538.2 170.7L532.5 167.6L527.2 173.4Z" fill="#ffb900"/>
<path d="M412.5 233.7L418 226.2L412.6 222.7L407.1 230.1Z" fill="#c2ff00"/>
<path d="M467.2 204.8L472.6 198.1L467.1 194.7L461.7 201.4Z" fill="#fffa00"/>
<path d="M631.4 146.4L636.5 141.7L630.7 139L625.5 143.7Z" fill="#ff7400"/>
<path d="M368.7 261.9L374.3 253.8L368.9 250.1L363.4 258.1Z" fill="#82ff00"/>
<path d="M439.9 218.8L445.3 211.7L439.8 208.3L434.4 215.3Z" fill="#e4ff00"/>
<path d="M702.6 130.9L707.6 126.9L701.5 124.5L696.6 128.4Z" fill="#ff5100"/>
<path d="M582.2 160.5L587.4 155.2L581.6 152.3L576.4 157.5Z" fill="#ff9400"/>
<path d="M253.8 361L259.4 351.1L254.2 346.9L248.6 356.8Z" fill="#00ff68"/>
<path d="M505.5 188.6L510.9 182.3L505.3 179.1L499.9 185.3Z" fill="#ffd400"/>
<path d="M352.3 274.6L357.8 266.3L352.5 262.5L347 270.8Z" fill="#65ff00"/>
<path d="M543.9 173.8L549.2 168.1L543.5 165L538.2 170.7Z" fill="#ffb200"/>
<path d="M642.4 144.4L647.5 139.7L641.6 137.1L636.5 141.7Z" fill="#ff6f00"/>
<path d="M713.6 129.3L718.5 125.3L712.5 123L707.6 126.9Z" fill="#ff4d00"/>
<path d="M270.2 345.4L275.8 335.8L270.6 331.7L265 341.3Z" fill="#00ff41"/>
<path d="M396.1 245.4L401.6 237.7L396.2 234L390.7 241.7Z" fill="#a8ff00"/>
<path d="M335.8 287.9L341.4 279.3L336.1 275.4L330.6 284Z" fill="#47ff00"/>
<path d="M593.2 158.1L598.4 152.9L592.6 150L587.4 155.2Z" fill="#ff8e00"/>
<path d="M286.6 330.4L292.2 321L287 316.9L281.4 326.3Z" fill="#00ff1c"/>
<path d="M478.2 201.4L483.6 194.8L478 191.5L472.6 198.1Z" fill="#fff100"/>
<path d="M319.4 301.6L325 292.7L319.7 288.8L314.1 297.6Z" fill="#28ff00"/>
<path d="M303 315.8L308.6 306.6L303.3 302.6L297.7 311.7Z" fill="#08ff00"/>
<path d="M423.4 229.8L428.9 222.5L423.5 219L418 226.2Z" fill="#ccff00"/>
<path d="M653.4 142.4L658.5 137.8L652.6 135.2L647.5 139.7Z" fill="#ff6a00"/>
<path d="M450.8 215.2L456.3 208.2L450.8 204.8L445.3 211.7Z" fill="#eeff00"/>
<path d="M554.9 171.1L560.2 165.5L554.5 162.4L549.2 168.1Z" fill="#ffab00"/>
<path d="M516.5 185.6L521.9 179.4L516.3 176.3L510.9 182.3Z" fill="#ffcc00"/>
<path d="M379.6 257.5L385.1 249.5L379.8 245.8L374.3 253.8Z" fill="#8eff00"/>
<path d="M248.2 371.1L253.8 361L248.6 356.8L243 366.8Z" fill="#00ff7f"/>
<path d="M604.2 155.8L609.4 150.7L603.6 147.8L598.4 152.9Z" fill="#ff8800"/>
<path d="M664.5 140.5L669.5 136L663.6 133.4L658.5 137.8Z" fill="#ff6500"/>
<path d="M363.2 270.1L368.7 261.9L363.4 258.1L357.8 266.3Z" fill="#71ff00"/>
<path d="M489.2 198.2L494.6 191.7L489 188.4L483.6 194.8Z" fill="#ffe800"/>
<path d="M407 241.3L412.5 233.7L407.1 230.1L401.6 237.7Z" fill="#b3ff00"/>
<path d="M264.6 355.3L270.2 345.4L265 341.3L259.4 351.1Z" fill="#00ff58"/>
<path d="M565.9 168.5L571.1 162.9L565.4 160L560.2 165.5Z" fill="#ffa400"/>
<path d="M615.2 153.5L620.4 148.5L614.6 145.7L609.4 150.7Z" fill="#ff8200"/>
<path d="M675.5 138.6L680.5 134.2L674.6 131.7L669.5 136Z" fill="#ff6000"/>
<path d="M461.8 211.7L467.2 204.8L461.7 201.4L456.3 208.2Z" fill="#f7ff00"/>
<path d="M434.4 226L439.9 218.8L434.4 215.3L428.9 222.5Z" fill="#d6ff00"/>
<path d="M527.5 182.6L532.9 176.6L527.2 173.4L521.9 179.4Z" fill="#ffc400"/>
<path d="M346.7 283.2L352.3 274.6L347 270.8L341.4 279.3Z" fill="#54ff00"/>
<path d="M281 339.9L286.6 330.4L281.4 326.3L275.8 335.8Z" fill="#00ff31"/>
<path d="M330.3 296.7L335.8 287.9L330.6 284L325 292.7Z" fill="#36ff00"/>
<path d="M297.4 325.1L303 315.8L297.7 311.7L292.2 321Z" fill="#00ff0c"/>
<path d="M313.8 310.6L319.4 301.6L314.1 297.6L308.6 306.6Z" fill="#16ff00"/>
<path d="M390.5 253.3L396.1 245.4L390.7 241.7L385.1 249.5Z" fill="#99ff00"/>
<path d="M686.5 136.8L691.6 132.5L685.6 130L680.5 134.2Z" fill="#ff5b00"/>
<path d="M242.6 381.3L248.2 371.1L243 366.8L237.4 377Z" fill="#00ff97"/>
<path d="M626.2 151.3L631.4 146.4L625.5 143.7L620.4 148.5Z" fill="#ff7c00"/>
<path d="M576.9 166L582.2 160.5L576.4 157.5L571.1 162.9Z" fill="#ff9e00"/>
<path d="M500.2 195L505.5 188.6L499.9 185.3L494.6 191.7Z" fill="#ffe000"/>
<path d="M538.5 179.8L543.9 173.8L538.2 170.7L532.9 176.6Z" fill="#ffbd00"/>
<path d="M417.9 237.3L423.4 229.8L418 226.2L412.5 233.7Z" fill="#beff00"/>
<path d="M697.6 135.1L702.6 130.9L696.6 128.4L691.6 132.5Z" fill="#ff5700"/>
<path d="M472.8 208.2L478.2 201.4L472.6 198.1L467.2 204.8Z" fill="#fffe00"/>
<path d="M374.1 265.7L379.6 257.5L374.3 253.8L368.7 261.9Z" fill="#7dff00"/>
<path d="M258.9 365.2L264.6 355.3L259.4 351.1L253.8 361Z" fill="#00ff6e"/>
<path d="M445.3 222.3L450.8 215.2L445.3 211.7L439.9 218.8Z" fill="#e0ff00"/>
<path d="M637.3 149.2L642.4 144.4L636.5 141.7L631.4 146.4Z" fill="#ff7700"/>
<path d="M587.9 163.5L593.2 158.1L587.4 155.2L582.2 160.5Z" fill="#ff9700"/>
<path d="M708.6 133.4L713.6 129.3L707.6 126.9L702.6 130.9Z" fill="#ff5200"/>
<path d="M357.6 278.5L363.2 270.1L357.8 266.3L352.3 274.6Z" fill="#61ff00"/>
<path d="M275.4 349.6L281 339.9L275.8 335.8L270.2 345.4Z" fill="#00ff47"/>
<path d="M511.2 191.9L516.5 185.6L510.9 182.3L505.5 188.6Z" fill="#ffd800"/>
<path d="M549.6 177L554.9 171.1L549.2 168.1L543.9 173.8Z" fill="#ffb500"/>
<path d="M401.5 249.1L407 241.3L401.6 237.7L396.1 245.4Z" fill="#a4ff00"/>
<path d="M341.1 291.8L346.7 283.2L341.4 279.3L335.8 287.9Z" fill="#43ff00"/>
<path d="M648.3 147.1L653.4 142.4L647.5 139.7L642.4 144.4Z" fill="#ff7100"/>
<path d="M291.8 334.5L297.4 325.1L292.2 321L286.6 330.4Z" fill="#00ff21"/>
<path d="M324.7 305.6L330.3 296.7L325 292.7L319.4 301.6Z" fill="#23ff00"/>
<path d="M308.2 319.8L313.8 310.6L308.6 306.6L303 315.8Z" fill="#03ff00"/>
<path d="M483.8 204.9L489.2 198.2L483.6 194.8L478.2 201.4Z" fill="#fff500"/>
<path d="M599 161.1L604.2 155.8L598.4 152.9L593.2 158.1Z" fill="#ff9100"/>
<path d="M428.9 233.4L434.4 226L428.9 222.5L423.4 229.8Z" fill="#c8ff00"/>
<path d="M456.3 218.7L461.8 211.7L456.3 208.2L450.8 215.2Z" fill="#eaff00"/>
<path d="M253.3 375.4L258.9 365.2L253.8 361L248.2 371.1Z" fill="#00ff85"/>
<path d="M385 261.3L390.5 253.3L385.1 249.5L379.6 257.5Z" fill="#89ff00"/>
<path d="M659.4 145.1L664.5 140.5L658.5 137.8L653.4 142.4Z" fill="#ff6c00"/>
<path d="M560.6 174.3L565.9 168.5L560.2 165.5L554.9 171.1Z" fill="#ffae00"/>
<path d="M522.2 188.8L527.5 182.6L521.9 179.4L516.5 185.6Z" fill="#ffd000"/>
<path d="M610 158.7L615.2 153.5L609.4 150.7L604.2 155.8Z" fill="#ff8b00"/>
<path d="M269.7 359.5L275.4 349.6L270.2 345.4L264.6 355.3Z" fill="#00ff5d"/>
<path d="M368.5 274L374.1 265.7L368.7 261.9L363.2 270.1Z" fill="#6dff00"/>
<path d="M670.4 143.2L675.5 138.6L669.5 136L664.5 140.5Z" fill="#ff6700"/>
<path d="M412.4 245L417.9 237.3L412.5 233.7L407 241.3Z" fill="#afff00"/>
<path d="M494.8 201.6L500.2 195L494.6 191.7L489.2 198.2Z" fill="#ffec00"/>
<path d="M352 287.1L357.6 278.5L352.3 274.6L346.7 283.2Z" fill="#4fff00"/>
<path d="M286.2 344.1L291.8 334.5L286.6 330.4L281 339.9Z" fill="#00ff37"/>
<path d="M571.6 171.6L576.9 166L571.1 162.9L565.9 168.5Z" fill="#ffa700"/>
<path d="M439.9 229.6L445.3 222.3L439.9 218.8L434.4 226Z" fill="#d2ff00"/>
<path d="M467.3 215.2L472.8 208.2L467.2 204.8L461.8 211.7Z" fill="#f3ff00"/>
<path d="M533.2 185.9L538.5 179.8L532.9 176.6L527.5 182.6Z" fill="#ffc800"/>
<path d="M621.1 156.4L626.2 151.3L620.4 148.5L615.2 153.5Z" fill="#ff8500"/>
<path d="M335.6 300.7L341.1 291.8L335.8 287.9L330.3 296.7Z" fill="#31ff00"/>
<path d="M302.6 329.2L308.2 319.8L303 315.8L297.4 325.1Z" fill="#00ff12"/>
<path d="M681.5 141.3L686.5 136.8L680.5 134.2L675.5 138.6Z" fill="#ff6200"/>
<path d="M319.1 314.7L324.7 305.6L319.4 301.6L313.8 310.6Z" fill="#11ff00"/>
<path d="M247.7 385.6L253.3 375.4L248.2 371.1L242.6 381.3Z" fill="#00ff9d"/>
<path d="M395.9 257L401.5 249.1L396.1 245.4L390.5 253.3Z" fill="#94ff00"/>
<path d="M505.8 198.3L511.2 191.9L505.5 188.6L500.2 195Z" fill="#ffe400"/>
<path d="M692.5 139.4L697.6 135.1L691.6 132.5L686.5 136.8Z" fill="#ff5d00"/>
<path d="M582.7 169L587.9 163.5L582.2 160.5L576.9 166Z" fill="#ffa100"/>
<path d="M632.1 154.2L637.3 149.2L631.4 146.4L626.2 151.3Z" fill="#ff7f00"/>
<path d="M423.4 241L428.9 233.4L423.4 229.8L417.9 237.3Z" fill="#b9ff00"/>
<path d="M264.1 369.5L269.7 359.5L264.6 355.3L258.9 365.2Z" fill="#00ff74"/>
<path d="M544.2 183L549.6 177L543.9 173.8L538.5 179.8Z" fill="#ffc000"/>
<path d="M379.5 269.5L385 261.3L379.6 257.5L374.1 265.7Z" fill="#79ff00"/>
<path d="M478.3 211.7L483.8 204.9L478.2 201.4L472.8 208.2Z" fill="#fcff00"/>
<path d="M450.9 225.9L456.3 218.7L450.8 215.2L445.3 222.3Z" fill="#dcff00"/>
<path d="M703.6 137.6L708.6 133.4L702.6 130.9L697.6 135.1Z" fill="#ff5900"/>
<path d="M280.6 353.9L286.2 344.1L281 339.9L275.4 349.6Z" fill="#00ff4d"/>
<path d="M643.2 152L648.3 147.1L642.4 144.4L637.3 149.2Z" fill="#ff7900"/>
<path d="M363 282.4L368.5 274L363.2 270.1L357.6 278.5Z" fill="#5cff00"/>
<path d="M593.7 166.5L599 161.1L593.2 158.1L587.9 163.5Z" fill="#ff9a00"/>
<path d="M516.8 195.2L522.2 188.8L516.5 185.6L511.2 191.9Z" fill="#ffdb00"/>
<path d="M297 338.7L302.6 329.2L297.4 325.1L291.8 334.5Z" fill="#00ff27"/>
<path d="M406.9 252.9L412.4 245L407 241.3L401.5 249.1Z" fill="#9fff00"/>
<path d="M346.5 295.8L352 287.1L346.7 283.2L341.1 291.8Z" fill="#3eff00"/>
<path d="M555.3 180.2L560.6 174.3L554.9 171.1L549.6 177Z" fill="#ffb900"/>
<path d="M313.5 323.9L319.1 314.7L313.8 310.6L308.2 319.8Z" fill="#00ff02"/>
<path d="M330 309.7L335.6 300.7L330.3 296.7L324.7 305.6Z" fill="#1eff00"/>
<path d="M654.2 149.9L659.4 145.1L653.4 142.4L648.3 147.1Z" fill="#ff7400"/>
<path d="M489.3 208.3L494.8 201.6L489.2 198.2L483.8 204.9Z" fill="#fff900"/>
<path d="M434.4 237.1L439.9 229.6L434.4 226L428.9 233.4Z" fill="#c4ff00"/>
<path d="M604.8 164.1L610 158.7L604.2 155.8L599 161.1Z" fill="#ff9400"/>
<path d="M258.5 379.7L264.1 369.5L258.9 365.2L253.3 375.4Z" fill="#00ff8b"/>
<path d="M461.9 222.3L467.3 215.2L461.8 211.7L456.3 218.7Z" fill="#e6ff00"/>
<path d="M390.4 265.1L395.9 257L390.5 253.3L385 261.3Z" fill="#84ff00"/>
<path d="M527.8 192.1L533.2 185.9L527.5 182.6L522.2 188.8Z" fill="#ffd300"/>
<path d="M665.3 147.9L670.4 143.2L664.5 140.5L659.4 145.1Z" fill="#ff6e00"/>
<path d="M566.3 177.4L571.6 171.6L565.9 168.5L560.6 174.3Z" fill="#ffb200"/>
<path d="M274.9 363.8L280.6 353.9L275.4 349.6L269.7 359.5Z" fill="#00ff63"/>
<path d="M373.9 277.9L379.5 269.5L374.1 265.7L368.5 274Z" fill="#68ff00"/>
<path d="M615.8 161.7L621.1 156.4L615.2 153.5L610 158.7Z" fill="#ff8d00"/>
<path d="M417.9 248.8L423.4 241L417.9 237.3L412.4 245Z" fill="#aaff00"/>
<path d="M500.4 205L505.8 198.3L500.2 195L494.8 201.6Z" fill="#fff000"/>
<path d="M291.4 348.4L297 338.7L291.8 334.5L286.2 344.1Z" fill="#00ff3d"/>
<path d="M357.4 291.1L363 282.4L357.6 278.5L352 287.1Z" fill="#4aff00"/>
<path d="M676.4 145.9L681.5 141.3L675.5 138.6L670.4 143.2Z" fill="#ff6900"/>
<path d="M445.4 233.3L450.9 225.9L445.3 222.3L439.9 229.6Z" fill="#ceff00"/>
<path d="M472.9 218.7L478.3 211.7L472.8 208.2L467.3 215.2Z" fill="#efff00"/>
<path d="M307.9 333.4L313.5 323.9L308.2 319.8L302.6 329.2Z" fill="#00ff17"/>
<path d="M340.9 304.7L346.5 295.8L341.1 291.8L335.6 300.7Z" fill="#2cff00"/>
<path d="M577.4 174.7L582.7 169L576.9 166L571.6 171.6Z" fill="#ffab00"/>
<path d="M324.4 318.8L330 309.7L324.7 305.6L319.1 314.7Z" fill="#0cff00"/>
<path d="M252.9 390L258.5 379.7L253.3 375.4L247.7 385.6Z" fill="#00ffa3"/>
<path d="M538.9 189.2L544.2 183L538.5 179.8L533.2 185.9Z" fill="#ffcb00"/>
<path d="M626.9 159.3L632.1 154.2L626.2 151.3L621.1 156.4Z" fill="#ff8700"/>
<path d="M401.4 260.8L406.9 252.9L401.5 249.1L395.9 257Z" fill="#90ff00"/>
<path d="M687.5 143.9L692.5 139.4L686.5 136.8L681.5 141.3Z" fill="#ff6400"/>
<path d="M511.4 201.7L516.8 195.2L511.2 191.9L505.8 198.3Z" fill="#ffe800"/>
<path d="M269.3 373.9L274.9 363.8L269.7 359.5L264.1 369.5Z" fill="#00ff7a"/>
<path d="M588.5 172.1L593.7 166.5L587.9 163.5L582.7 169Z" fill="#ffa400"/>
<path d="M428.9 244.7L434.4 237.1L428.9 233.4L423.4 241Z" fill="#b5ff00"/>
<path d="M384.9 273.4L390.4 265.1L385 261.3L379.5 269.5Z" fill="#74ff00"/>
<path d="M638 157.1L643.2 152L637.3 149.2L632.1 154.2Z" fill="#ff8100"/>
<path d="M698.5 142L703.6 137.6L697.6 135.1L692.5 139.4Z" fill="#ff5f00"/>
<path d="M550 186.2L555.3 180.2L549.6 177L544.2 183Z" fill="#ffc400"/>
<path d="M483.9 215.2L489.3 208.3L483.8 204.9L478.3 211.7Z" fill="#f8ff00"/>
<path d="M456.4 229.5L461.9 222.3L456.3 218.7L450.9 225.9Z" fill="#d8ff00"/>
<path d="M285.8 358.2L291.4 348.4L286.2 344.1L280.6 353.9Z" fill="#00ff53"/>
<path d="M368.3 286.4L373.9 277.9L368.5 274L363 282.4Z" fill="#57ff00"/>
<path d="M302.3 342.9L307.9 333.4L302.6 329.2L297 338.7Z" fill="#00ff2d"/>
<path d="M649.1 154.9L654.2 149.9L648.3 147.1L643.2 152Z" fill="#ff7c00"/>
<path d="M351.8 299.8L357.4 291.1L352 287.1L346.5 295.8Z" fill="#39ff00"/>
<path d="M599.5 169.6L604.8 164.1L599 161.1L593.7 166.5Z" fill="#ff9d00"/>
<path d="M412.4 256.6L417.9 248.8L412.4 245L406.9 252.9Z" fill="#9bff00"/>
<path d="M522.5 198.6L527.8 192.1L522.2 188.8L516.8 195.2Z" fill="#ffdf00"/>
<path d="M318.8 328.1L324.4 318.8L319.1 314.7L313.5 323.9Z" fill="#00ff08"/>
<path d="M335.3 313.8L340.9 304.7L335.6 300.7L330 309.7Z" fill="#19ff00"/>
<path d="M561 183.4L566.3 177.4L560.6 174.3L555.3 180.2Z" fill="#ffbc00"/>
<path d="M263.7 384.1L269.3 373.9L264.1 369.5L258.5 379.7Z" fill="#00ff91"/>
<path d="M439.9 240.8L445.4 233.3L439.9 229.6L434.4 237.1Z" fill="#bfff00"/>
<path d="M495 211.8L500.4 205L494.8 201.6L489.3 208.3Z" fill="#fffd00"/>
<path d="M660.2 152.7L665.3 147.9L659.4 145.1L654.2 149.9Z" fill="#ff7600"/>
<path d="M467.4 225.8L472.9 218.7L467.3 215.2L461.9 222.3Z" fill="#e1ff00"/>
<path d="M395.8 269L401.4 260.8L395.9 257L390.4 265.1Z" fill="#80ff00"/>
<path d="M610.6 167.1L615.8 161.7L610 158.7L604.8 164.1Z" fill="#ff9700"/>
<path d="M280.2 368.1L285.8 358.2L280.6 353.9L274.9 363.8Z" fill="#00ff69"/>
<path d="M533.5 195.5L538.9 189.2L533.2 185.9L527.8 192.1Z" fill="#ffd700"/>
<path d="M572.1 180.6L577.4 174.7L571.6 171.6L566.3 177.4Z" fill="#ffb500"/>
<path d="M379.3 281.8L384.9 273.4L379.5 269.5L373.9 277.9Z" fill="#63ff00"/>
<path d="M671.3 150.6L676.4 145.9L670.4 143.2L665.3 147.9Z" fill="#ff7100"/>
<path d="M423.4 252.5L428.9 244.7L423.4 241L417.9 248.8Z" fill="#a6ff00"/>
<path d="M296.7 352.6L302.3 342.9L297 338.7L291.4 348.4Z" fill="#00ff42"/>
<path d="M621.7 164.7L626.9 159.3L621.1 156.4L615.8 161.7Z" fill="#ff9000"/>
<path d="M362.8 295.1L368.3 286.4L363 282.4L357.4 291.1Z" fill="#45ff00"/>
<path d="M506 208.4L511.4 201.7L505.8 198.3L500.4 205Z" fill="#fff400"/>
<path d="M313.2 337.6L318.8 328.1L313.5 323.9L307.9 333.4Z" fill="#00ff1d"/>
<path d="M450.9 236.9L456.4 229.5L450.9 225.9L445.4 233.3Z" fill="#caff00"/>
<path d="M346.2 308.8L351.8 299.8L346.5 295.8L340.9 304.7Z" fill="#26ff00"/>
<path d="M258.1 394.5L263.7 384.1L258.5 379.7L252.9 390Z" fill="#00ffa9"/>
<path d="M329.7 323L335.3 313.8L330 309.7L324.4 318.8Z" fill="#06ff00"/>
<path d="M478.5 222.3L483.9 215.2L478.3 211.7L472.9 218.7Z" fill="#ebff00"/>
<path d="M682.4 148.6L687.5 143.9L681.5 141.3L676.4 145.9Z" fill="#ff6c00"/>
<path d="M583.2 177.9L588.5 172.1L582.7 169L577.4 174.7Z" fill="#ffae00"/>
<path d="M544.6 192.5L550 186.2L544.2 183L538.9 189.2Z" fill="#ffcf00"/>
<path d="M406.8 264.7L412.4 256.6L406.9 252.9L401.4 260.8Z" fill="#8bff00"/>
<path d="M632.8 162.3L638 157.1L632.1 154.2L626.9 159.3Z" fill="#ff8a00"/>
<path d="M274.5 378.3L280.2 368.1L274.9 363.8L269.3 373.9Z" fill="#00ff80"/>
<path d="M693.5 146.6L698.5 142L692.5 139.4L687.5 143.9Z" fill="#ff6600"/>
<path d="M517.1 205.2L522.5 198.6L516.8 195.2L511.4 201.7Z" fill="#ffeb00"/>
<path d="M390.3 277.3L395.8 269L390.4 265.1L384.9 273.4Z" fill="#6fff00"/>
<path d="M434.4 248.5L439.9 240.8L434.4 237.1L428.9 244.7Z" fill="#b0ff00"/>
<path d="M594.3 175.2L599.5 169.6L593.7 166.5L588.5 172.1Z" fill="#ffa700"/>
<path d="M291 362.5L296.7 352.6L291.4 348.4L285.8 358.2Z" fill="#00ff59"/>
<path d="M489.5 218.7L495 211.8L489.3 208.3L483.9 215.2Z" fill="#f4ff00"/>
<path d="M462 233.2L467.4 225.8L461.9 222.3L456.4 229.5Z" fill="#d3ff00"/>
<path d="M555.7 189.5L561 183.4L555.3 180.2L550 186.2Z" fill="#ffc700"/>
<path d="M643.9 160L649.1 154.9L643.2 152L638 157.1Z" fill="#ff8400"/>
<path d="M373.7 290.4L379.3 281.8L373.9 277.9L368.3 286.4Z" fill="#52ff00"/>
<path d="M307.5 347.2L313.2 337.6L307.9 333.4L302.3 342.9Z" fill="#00ff33"/>
<path d="M357.2 303.9L362.8 295.1L357.4 291.1L351.8 299.8Z" fill="#34ff00"/>
<path d="M324.1 332.3L329.7 323L324.4 318.8L318.8 328.1Z" fill="#00ff0e"/>
<path d="M417.8 260.5L423.4 252.5L417.9 248.8L412.4 256.6Z" fill="#96ff00"/>
<path d="M340.6 317.9L346.2 308.8L340.9 304.7L335.3 313.8Z" fill="#14ff00"/>
<path d="M605.4 172.7L610.6 167.1L604.8 164.1L599.5 169.6Z" fill="#ffa000"/>
<path d="M528.2 202L533.5 195.5L527.8 192.1L522.5 198.6Z" fill="#ffe300"/>
<path d="M655 157.7L660.2 152.7L654.2 149.9L649.1 154.9Z" fill="#ff7e00"/>
<path d="M268.9 388.5L274.5 378.3L269.3 373.9L263.7 384.1Z" fill="#00ff97"/>
<path d="M566.8 186.6L572.1 180.6L566.3 177.4L561 183.4Z" fill="#ffc000"/>
<path d="M445.4 244.5L450.9 236.9L445.4 233.3L439.9 240.8Z" fill="#bbff00"/>
<path d="M500.6 215.3L506 208.4L500.4 205L495 211.8Z" fill="#fdff00"/>
<path d="M401.3 272.9L406.8 264.7L401.4 260.8L395.8 269Z" fill="#7bff00"/>
<path d="M473 229.5L478.5 222.3L472.9 218.7L467.4 225.8Z" fill="#ddff00"/>
<path d="M666.1 155.6L671.3 150.6L665.3 147.9L660.2 152.7Z" fill="#ff7900"/>
<path d="M285.4 372.5L291 362.5L285.8 358.2L280.2 368.1Z" fill="#00ff6f"/>
<path d="M616.5 170.1L621.7 164.7L615.8 161.7L610.6 167.1Z" fill="#ff9a00"/>
<path d="M384.7 285.8L390.3 277.3L384.9 273.4L379.3 281.8Z" fill="#5eff00"/>
<path d="M539.2 198.9L544.6 192.5L538.9 189.2L533.5 195.5Z" fill="#ffdb00"/>
<path d="M577.9 183.8L583.2 177.9L577.4 174.7L572.1 180.6Z" fill="#ffb800"/>
<path d="M301.9 356.9L307.5 347.2L302.3 342.9L296.7 352.6Z" fill="#00ff48"/>
<path d="M428.9 256.3L434.4 248.5L428.9 244.7L423.4 252.5Z" fill="#a1ff00"/>
<path d="M368.1 299.1L373.7 290.4L368.3 286.4L362.8 295.1Z" fill="#40ff00"/>
<path d="M677.3 153.4L682.4 148.6L676.4 145.9L671.3 150.6Z" fill="#ff7300"/>
<path d="M318.5 341.8L324.1 332.3L318.8 328.1L313.2 337.6Z" fill="#00ff23"/>
<path d="M263.3 399L268.9 388.5L263.7 384.1L258.1 394.5Z" fill="#00ffaf"/>
<path d="M511.7 211.9L517.1 205.2L511.4 201.7L506 208.4Z" fill="#fff800"/>
<path d="M351.6 312.9L357.2 303.9L351.8 299.8L346.2 308.8Z" fill="#21ff00"/>
<path d="M335 327.1L340.6 317.9L335.3 313.8L329.7 323Z" fill="#01ff00"/>
<path d="M627.6 167.7L632.8 162.3L626.9 159.3L621.7 164.7Z" fill="#ff9300"/>
<path d="M456.5 240.7L462 233.2L456.4 229.5L450.9 236.9Z" fill="#c5ff00"/>
<path d="M484.1 225.9L489.5 218.7L483.9 215.2L478.5 222.3Z" fill="#e7ff00"/>
<path d="M412.3 268.6L417.8 260.5L412.4 256.6L406.8 264.7Z" fill="#86ff00"/>
<path d="M550.3 195.8L555.7 189.5L550 186.2L544.6 192.5Z" fill="#ffd300"/>
<path d="M589 181.1L594.3 175.2L588.5 172.1L583.2 177.9Z" fill="#ffb100"/>
<path d="M688.4 151.3L693.5 146.6L687.5 143.9L682.4 148.6Z" fill="#ff6e00"/>
<path d="M279.8 382.7L285.4 372.5L280.2 368.1L274.5 378.3Z" fill="#00ff86"/>
<path d="M638.7 165.3L643.9 160L638 157.1L632.8 162.3Z" fill="#ff8d00"/>
<path d="M395.7 281.3L401.3 272.9L395.8 269L390.3 277.3Z" fill="#6aff00"/>
<path d="M439.9 252.3L445.4 244.5L439.9 240.8L434.4 248.5Z" fill="#acff00"/>
<path d="M522.8 208.6L528.2 202L522.5 198.6L517.1 205.2Z" fill="#ffef00"/>
<path d="M296.3 366.9L301.9 356.9L296.7 352.6L291 362.5Z" fill="#00ff5f"/>
<path d="M467.5 236.9L473 229.5L467.4 225.8L462 233.2Z" fill="#cfff00"/>
<path d="M495.1 222.3L500.6 215.3L495 211.8L489.5 218.7Z" fill="#f0ff00"/>
<path d="M600.1 178.4L605.4 172.7L599.5 169.6L594.3 175.2Z" fill="#ffaa00"/>
<path d="M379.1 294.4L384.7 285.8L379.3 281.8L373.7 290.4Z" fill="#4dff00"/>
<path d="M561.4 192.8L566.8 186.6L561 183.4L555.7 189.5Z" fill="#ffcb00"/>
<path d="M312.8 351.5L318.5 341.8L313.2 337.6L307.5 347.2Z" fill="#00ff38"/>
<path d="M649.9 162.9L655 157.7L649.1 154.9L643.9 160Z" fill="#ff8700"/>
<path d="M362.6 308L368.1 299.1L362.8 295.1L357.2 303.9Z" fill="#2eff00"/>
<path d="M329.4 336.6L335 327.1L329.7 323L324.1 332.3Z" fill="#00ff14"/>
<path d="M346 322.1L351.6 312.9L346.2 308.8L340.6 317.9Z" fill="#0fff00"/>
<path d="M423.3 264.3L428.9 256.3L423.4 252.5L417.8 260.5Z" fill="#91ff00"/>
<path d="M274.1 393L279.8 382.7L274.5 378.3L268.9 388.5Z" fill="#00ff9e"/>
<path d="M533.9 205.4L539.2 198.9L533.5 195.5L528.2 202Z" fill="#ffe700"/>
<path d="M611.2 175.8L616.5 170.1L610.6 167.1L605.4 172.7Z" fill="#ffa300"/>
<path d="M661 160.6L666.1 155.6L660.2 152.7L655 157.7Z" fill="#ff8100"/>
<path d="M451 248.3L456.5 240.7L450.9 236.9L445.4 244.5Z" fill="#b6ff00"/>
<path d="M572.6 189.9L577.9 183.8L572.1 180.6L566.8 186.6Z" fill="#ffc300"/>
<path d="M406.7 276.9L412.3 268.6L406.8 264.7L401.3 272.9Z" fill="#76ff00"/>
<path d="M506.2 218.8L511.7 211.9L506 208.4L500.6 215.3Z" fill="#f9ff00"/>
<path d="M478.6 233.1L484.1 225.9L478.5 222.3L473 229.5Z" fill="#d9ff00"/>
<path d="M290.7 376.9L296.3 366.9L291 362.5L285.4 372.5Z" fill="#00ff75"/>
<path d="M390.2 289.8L395.7 281.3L390.3 277.3L384.7 285.8Z" fill="#59ff00"/>
<path d="M672.1 158.4L677.3 153.4L671.3 150.6L666.1 155.6Z" fill="#ff7b00"/>
<path d="M622.4 173.2L627.6 167.7L621.7 164.7L616.5 170.1Z" fill="#ff9d00"/>
<path d="M307.2 361.3L312.8 351.5L307.5 347.2L301.9 356.9Z" fill="#00ff4e"/>
<path d="M545 202.3L550.3 195.8L544.6 192.5L539.2 198.9Z" fill="#ffdf00"/>
<path d="M434.4 260.2L439.9 252.3L434.4 248.5L428.9 256.3Z" fill="#9cff00"/>
<path d="M373.6 303.2L379.1 294.4L373.7 290.4L368.1 299.1Z" fill="#3bff00"/>
<path d="M583.7 187.1L589 181.1L583.2 177.9L577.9 183.8Z" fill="#ffbc00"/>
<path d="M268.5 403.5L274.1 393L268.9 388.5L263.3 399Z" fill="#00ffb5"/>
<path d="M323.8 346.1L329.4 336.6L324.1 332.3L318.5 341.8Z" fill="#00ff29"/>
<path d="M357 317.1L362.6 308L357.2 303.9L351.6 312.9Z" fill="#1cff00"/>
<path d="M340.4 331.4L346 322.1L340.6 317.9L335 327.1Z" fill="#00ff05"/>
<path d="M517.3 215.5L522.8 208.6L517.1 205.2L511.7 211.9Z" fill="#fffc00"/>
<path d="M462 244.4L467.5 236.9L462 233.2L456.5 240.7Z" fill="#c1ff00"/>
<path d="M683.3 156.2L688.4 151.3L682.4 148.6L677.3 153.4Z" fill="#ff7600"/>
<path d="M489.7 229.5L495.1 222.3L489.5 218.7L484.1 225.9Z" fill="#e2ff00"/>
<path d="M633.5 170.7L638.7 165.3L632.8 162.3L627.6 167.7Z" fill="#ff9600"/>
<path d="M417.8 272.5L423.3 264.3L417.8 260.5L412.3 268.6Z" fill="#81ff00"/>
<path d="M285 387.2L290.7 376.9L285.4 372.5L279.8 382.7Z" fill="#00ff8c"/>
<path d="M556.1 199.2L561.4 192.8L555.7 189.5L550.3 195.8Z" fill="#ffd600"/>
<path d="M594.8 184.3L600.1 178.4L594.3 175.2L589 181.1Z" fill="#ffb500"/>
<path d="M401.2 285.3L406.7 276.9L401.3 272.9L395.7 281.3Z" fill="#65ff00"/>
<path d="M301.6 371.3L307.2 361.3L301.9 356.9L296.3 366.9Z" fill="#00ff65"/>
<path d="M445.4 256.1L451 248.3L445.4 244.5L439.9 252.3Z" fill="#a7ff00"/>
<path d="M644.7 168.3L649.9 162.9L643.9 160L638.7 165.3Z" fill="#ff9000"/>
<path d="M528.5 212.1L533.9 205.4L528.2 202L522.8 208.6Z" fill="#fff300"/>
<path d="M384.6 298.5L390.2 289.8L384.7 285.8L379.1 294.4Z" fill="#48ff00"/>
<path d="M473.1 240.6L478.6 233.1L473 229.5L467.5 236.9Z" fill="#cbff00"/>
<path d="M318.2 355.8L323.8 346.1L318.5 341.8L312.8 351.5Z" fill="#00ff3e"/>
<path d="M500.8 225.9L506.2 218.8L500.6 215.3L495.1 222.3Z" fill="#ecff00"/>
<path d="M606 181.6L611.2 175.8L605.4 172.7L600.1 178.4Z" fill="#ffae00"/>
<path d="M567.2 196.2L572.6 189.9L566.8 186.6L561.4 192.8Z" fill="#ffcf00"/>
<path d="M368 312.2L373.6 303.2L368.1 299.1L362.6 308Z" fill="#29ff00"/>
<path d="M334.8 340.8L340.4 331.4L335 327.1L329.4 336.6Z" fill="#00ff1a"/>
<path d="M351.4 326.3L357 317.1L351.6 312.9L346 322.1Z" fill="#09ff00"/>
<path d="M428.8 268.3L434.4 260.2L428.9 256.3L423.3 264.3Z" fill="#8dff00"/>
<path d="M655.8 165.9L661 160.6L655 157.7L649.9 162.9Z" fill="#ff8a00"/>
<path d="M279.4 397.6L285 387.2L279.8 382.7L274.1 393Z" fill="#00ffa4"/>
<path d="M539.6 208.9L545 202.3L539.2 198.9L533.9 205.4Z" fill="#ffeb00"/>
<path d="M456.5 252.1L462 244.4L456.5 240.7L451 248.3Z" fill="#b2ff00"/>
<path d="M617.1 178.9L622.4 173.2L616.5 170.1L611.2 175.8Z" fill="#ffa700"/>
<path d="M412.2 280.8L417.8 272.5L412.3 268.6L406.7 276.9Z" fill="#71ff00"/>
<path d="M295.9 381.4L301.6 371.3L296.3 366.9L290.7 376.9Z" fill="#00ff7c"/>
<path d="M578.4 193.2L583.7 187.1L577.9 183.8L572.6 189.9Z" fill="#ffc700"/>
<path d="M667 163.6L672.1 158.4L666.1 155.6L661 160.6Z" fill="#ff8400"/>
<path d="M511.9 222.4L517.3 215.5L511.7 211.9L506.2 218.8Z" fill="#f5ff00"/>
<path d="M484.2 236.8L489.7 229.5L484.1 225.9L478.6 233.1Z" fill="#d5ff00"/>
<path d="M395.6 293.9L401.2 285.3L395.7 281.3L390.2 289.8Z" fill="#54ff00"/>
<path d="M312.5 365.7L318.2 355.8L312.8 351.5L307.2 361.3Z" fill="#00ff55"/>
<path d="M273.7 408.1L279.4 397.6L274.1 393L268.5 403.5Z" fill="#00ffbc"/>
<path d="M439.9 264.1L445.4 256.1L439.9 252.3L434.4 260.2Z" fill="#98ff00"/>
<path d="M379 307.4L384.6 298.5L379.1 294.4L373.6 303.2Z" fill="#36ff00"/>
<path d="M628.3 176.3L633.5 170.7L627.6 167.7L622.4 173.2Z" fill="#ffa000"/>
<path d="M329.1 350.5L334.8 340.8L329.4 336.6L323.8 346.1Z" fill="#00ff2f"/>
<path d="M550.7 205.7L556.1 199.2L550.3 195.8L545 202.3Z" fill="#ffe200"/>
<path d="M678.2 161.3L683.3 156.2L677.3 153.4L672.1 158.4Z" fill="#ff7e00"/>
<path d="M362.4 321.3L368 312.2L362.6 308L357 317.1Z" fill="#17ff00"/>
<path d="M345.7 335.6L351.4 326.3L346 322.1L340.4 331.4Z" fill="#00ff0a"/>
<path d="M589.5 190.3L594.8 184.3L589 181.1L583.7 187.1Z" fill="#ffbf00"/>
<path d="M467.6 248.2L473.1 240.6L467.5 236.9L462 244.4Z" fill="#bcff00"/>
<path d="M523 219L528.5 212.1L522.8 208.6L517.3 215.5Z" fill="#feff00"/>
<path d="M495.3 233.2L500.8 225.9L495.1 222.3L489.7 229.5Z" fill="#deff00"/>
<path d="M290.3 391.7L295.9 381.4L290.7 376.9L285 387.2Z" fill="#00ff93"/>
<path d="M423.3 276.5L428.8 268.3L423.3 264.3L417.8 272.5Z" fill="#7dff00"/>
<path d="M639.5 173.8L644.7 168.3L638.7 165.3L633.5 170.7Z" fill="#ff9900"/>
<path d="M561.9 202.6L567.2 196.2L561.4 192.8L556.1 199.2Z" fill="#ffda00"/>
<path d="M600.7 187.5L606 181.6L600.1 178.4L594.8 184.3Z" fill="#ffb800"/>
<path d="M306.9 375.7L312.5 365.7L307.2 361.3L301.6 371.3Z" fill="#00ff6b"/>
<path d="M406.7 289.3L412.2 280.8L406.7 276.9L401.2 285.3Z" fill="#60ff00"/>
<path d="M451 260L456.5 252.1L451 248.3L445.4 256.1Z" fill="#a3ff00"/>
<path d="M534.2 215.7L539.6 208.9L533.9 205.4L528.5 212.1Z" fill="#fff700"/>
<path d="M323.5 360.2L329.1 350.5L323.8 346.1L318.2 355.8Z" fill="#00ff45"/>
<path d="M390 302.6L395.6 293.9L390.2 289.8L384.6 298.5Z" fill="#43ff00"/>
<path d="M650.6 171.3L655.8 165.9L649.9 162.9L644.7 168.3Z" fill="#ff9300"/>
<path d="M478.7 244.3L484.2 236.8L478.6 233.1L473.1 240.6Z" fill="#c6ff00"/>
<path d="M506.5 229.6L511.9 222.4L506.2 218.8L500.8 225.9Z" fill="#e8ff00"/>
<path d="M340.1 345.2L345.7 335.6L340.4 331.4L334.8 340.8Z" fill="#00ff1f"/>
<path d="M373.4 316.4L379 307.4L373.6 303.2L368 312.2Z" fill="#24ff00"/>
<path d="M356.7 330.5L362.4 321.3L357 317.1L351.4 326.3Z" fill="#04ff00"/>
<path d="M284.7 402.1L290.3 391.7L285 387.2L279.4 397.6Z" fill="#00ffaa"/>
<path d="M573 199.5L578.4 193.2L572.6 189.9L567.2 196.2Z" fill="#ffd200"/>
<path d="M611.9 184.8L617.1 178.9L611.2 175.8L606 181.6Z" fill="#ffb100"/>
<path d="M434.4 272.2L439.9 264.1L434.4 260.2L428.8 268.3Z" fill="#88ff00"/>
<path d="M661.8 168.9L667 163.6L661 160.6L655.8 165.9Z" fill="#ff8d00"/>
<path d="M545.3 212.4L550.7 205.7L545 202.3L539.6 208.9Z" fill="#ffef00"/>
<path d="M301.2 385.9L306.9 375.7L301.6 371.3L295.9 381.4Z" fill="#00ff82"/>
<path d="M462.1 255.9L467.6 248.2L462 244.4L456.5 252.1Z" fill="#adff00"/>
<path d="M417.7 284.9L423.3 276.5L417.8 272.5L412.2 280.8Z" fill="#6cff00"/>
<path d="M623 182.1L628.3 176.3L622.4 173.2L617.1 178.9Z" fill="#ffaa00"/>
<path d="M517.6 226.1L523 219L517.3 215.5L511.9 222.4Z" fill="#f1ff00"/>
<path d="M489.9 240.6L495.3 233.2L489.7 229.5L484.2 236.8Z" fill="#d0ff00"/>
<path d="M584.2 196.6L589.5 190.3L583.7 187.1L578.4 193.2Z" fill="#ffcb00"/>
<path d="M317.9 370.2L323.5 360.2L318.2 355.8L312.5 365.7Z" fill="#00ff5b"/>
<path d="M673 166.5L678.2 161.3L672.1 158.4L667 163.6Z" fill="#ff8700"/>
<path d="M401.1 298L406.7 289.3L401.2 285.3L395.6 293.9Z" fill="#4fff00"/>
<path d="M279 412.7L284.7 402.1L279.4 397.6L273.7 408.1Z" fill="#00ffc2"/>
<path d="M334.5 354.8L340.1 345.2L334.8 340.8L329.1 350.5Z" fill="#00ff35"/>
<path d="M384.4 311.5L390 302.6L384.6 298.5L379 307.4Z" fill="#31ff00"/>
<path d="M445.5 268L451 260L445.4 256.1L439.9 264.1Z" fill="#93ff00"/>
<path d="M351.1 340L356.7 330.5L351.4 326.3L345.7 335.6Z" fill="#00ff10"/>
<path d="M367.8 325.5L373.4 316.4L368 312.2L362.4 321.3Z" fill="#11ff00"/>
<path d="M556.5 209.2L561.9 202.6L556.1 199.2L550.7 205.7Z" fill="#ffe600"/>
<path d="M634.2 179.5L639.5 173.8L633.5 170.7L628.3 176.3Z" fill="#ffa300"/>
<path d="M595.4 193.7L600.7 187.5L594.8 184.3L589.5 190.3Z" fill="#ffc300"/>
<path d="M473.2 252L478.7 244.3L473.1 240.6L467.6 248.2Z" fill="#b8ff00"/>
<path d="M295.6 396.3L301.2 385.9L295.9 381.4L290.3 391.7Z" fill="#00ff99"/>
<path d="M528.8 222.6L534.2 215.7L528.5 212.1L523 219Z" fill="#faff00"/>
<path d="M428.8 280.5L434.4 272.2L428.8 268.3L423.3 276.5Z" fill="#78ff00"/>
<path d="M501 236.9L506.5 229.6L500.8 225.9L495.3 233.2Z" fill="#daff00"/>
<path d="M645.4 176.9L650.6 171.3L644.7 168.3L639.5 173.8Z" fill="#ff9c00"/>
<path d="M312.2 380.2L317.9 370.2L312.5 365.7L306.9 375.7Z" fill="#00ff71"/>
<path d="M567.7 206L573 199.5L567.2 196.2L561.9 202.6Z" fill="#ffde00"/>
<path d="M412.2 293.4L417.7 284.9L412.2 280.8L406.7 289.3Z" fill="#5bff00"/>
<path d="M606.6 190.8L611.9 184.8L606 181.6L600.7 187.5Z" fill="#ffbc00"/>
<path d="M456.6 263.9L462.1 255.9L456.5 252.1L451 260Z" fill="#9eff00"/>
<path d="M328.8 364.7L334.5 354.8L329.1 350.5L323.5 360.2Z" fill="#00ff4b"/>
<path d="M395.5 306.8L401.1 298L395.6 293.9L390 302.6Z" fill="#3dff00"/>
<path d="M539.9 219.2L545.3 212.4L539.6 208.9L534.2 215.7Z" fill="#fffb00"/>
<path d="M345.5 349.5L351.1 340L345.7 335.6L340.1 345.2Z" fill="#00ff26"/>
<path d="M484.4 248.1L489.9 240.6L484.2 236.8L478.7 244.3Z" fill="#c2ff00"/>
<path d="M378.8 320.6L384.4 311.5L379 307.4L373.4 316.4Z" fill="#1fff00"/>
<path d="M362.2 334.8L367.8 325.5L362.4 321.3L356.7 330.5Z" fill="#00ff02"/>
<path d="M656.6 174.4L661.8 168.9L655.8 165.9L650.6 171.3Z" fill="#ff9600"/>
<path d="M512.2 233.3L517.6 226.1L511.9 222.4L506.5 229.6Z" fill="#e3ff00"/>
<path d="M289.9 406.7L295.6 396.3L290.3 391.7L284.7 402.1Z" fill="#00ffb1"/>
<path d="M439.9 276.2L445.5 268L439.9 264.1L434.4 272.2Z" fill="#83ff00"/>
<path d="M578.9 203L584.2 196.6L578.4 193.2L573 199.5Z" fill="#ffd600"/>
<path d="M617.8 188L623 182.1L617.1 178.9L611.9 184.8Z" fill="#ffb400"/>
<path d="M306.6 390.5L312.2 380.2L306.9 375.7L301.2 385.9Z" fill="#00ff88"/>
<path d="M667.8 171.9L673 166.5L667 163.6L661.8 168.9Z" fill="#ff9000"/>
<path d="M423.3 288.9L428.8 280.5L423.3 276.5L417.7 284.9Z" fill="#67ff00"/>
<path d="M467.7 259.8L473.2 252L467.6 248.2L462.1 255.9Z" fill="#a8ff00"/>
<path d="M551.1 215.9L556.5 209.2L550.7 205.7L545.3 212.4Z" fill="#fff300"/>
<path d="M323.2 374.6L328.8 364.7L323.5 360.2L317.9 370.2Z" fill="#00ff61"/>
<path d="M495.5 244.3L501 236.9L495.3 233.2L489.9 240.6Z" fill="#ccff00"/>
<path d="M523.3 229.7L528.8 222.6L523 219L517.6 226.1Z" fill="#ecff00"/>
<path d="M629 185.3L634.2 179.5L628.3 176.3L623 182.1Z" fill="#ffad00"/>
<path d="M406.6 302.1L412.2 293.4L406.7 289.3L401.1 298Z" fill="#4aff00"/>
<path d="M590 199.9L595.4 193.7L589.5 190.3L584.2 196.6Z" fill="#ffce00"/>
<path d="M284.3 417.4L289.9 406.7L284.7 402.1L279 412.7Z" fill="#00ffc9"/>
<path d="M339.9 359.3L345.5 349.5L340.1 345.2L334.5 354.8Z" fill="#00ff3b"/>
<path d="M389.9 315.7L395.5 306.8L390 302.6L384.4 311.5Z" fill="#2bff00"/>
<path d="M451.1 272L456.6 263.9L451 260L445.5 268Z" fill="#8eff00"/>
<path d="M356.5 344.3L362.2 334.8L356.7 330.5L351.1 340Z" fill="#00ff16"/>
<path d="M373.2 329.8L378.8 320.6L373.4 316.4L367.8 325.5Z" fill="#0cff00"/>
<path d="M562.3 212.7L567.7 206L561.9 202.6L556.5 209.2Z" fill="#ffea00"/>
<path d="M300.9 400.9L306.6 390.5L301.2 385.9L295.6 396.3Z" fill="#00ffa0"/>
<path d="M640.2 182.6L645.4 176.9L639.5 173.8L634.2 179.5Z" fill="#ffa600"/>
<path d="M478.9 255.9L484.4 248.1L478.7 244.3L473.2 252Z" fill="#b3ff00"/>
<path d="M601.2 197L606.6 190.8L600.7 187.5L595.4 193.7Z" fill="#ffc700"/>
<path d="M534.5 226.2L539.9 219.2L534.2 215.7L528.8 222.6Z" fill="#f6ff00"/>
<path d="M434.4 284.5L439.9 276.2L434.4 272.2L428.8 280.5Z" fill="#73ff00"/>
<path d="M506.7 240.6L512.2 233.3L506.5 229.6L501 236.9Z" fill="#d5ff00"/>
<path d="M317.6 384.8L323.2 374.6L317.9 370.2L312.2 380.2Z" fill="#00ff78"/>
<path d="M417.7 297.5L423.3 288.9L417.7 284.9L412.2 293.4Z" fill="#56ff00"/>
<path d="M651.4 180L656.6 174.4L650.6 171.3L645.4 176.9Z" fill="#ffa000"/>
<path d="M573.5 209.5L578.9 203L573 199.5L567.7 206Z" fill="#ffe200"/>
<path d="M334.2 369.1L339.9 359.3L334.5 354.8L328.8 364.7Z" fill="#00ff51"/>
<path d="M462.2 267.8L467.7 259.8L462.1 255.9L456.6 263.9Z" fill="#99ff00"/>
<path d="M401 311L406.6 302.1L401.1 298L395.5 306.8Z" fill="#38ff00"/>
<path d="M612.5 194.1L617.8 188L611.9 184.8L606.6 190.8Z" fill="#ffbf00"/>
<path d="M350.9 353.9L356.5 344.3L351.1 340L345.5 349.5Z" fill="#00ff2c"/>
<path d="M384.3 324.9L389.9 315.7L384.4 311.5L378.8 320.6Z" fill="#19ff00"/>
<path d="M295.2 411.4L300.9 400.9L295.6 396.3L289.9 406.7Z" fill="#00ffb7"/>
<path d="M367.6 339.2L373.2 329.8L367.8 325.5L362.2 334.8Z" fill="#00ff08"/>
<path d="M545.7 222.8L551.1 215.9L545.3 212.4L539.9 219.2Z" fill="#feff00"/>
<path d="M490 252L495.5 244.3L489.9 240.6L484.4 248.1Z" fill="#bdff00"/>
<path d="M517.9 237L523.3 229.7L517.6 226.1L512.2 233.3Z" fill="#dfff00"/>
<path d="M445.5 280.2L451.1 272L445.5 268L439.9 276.2Z" fill="#7eff00"/>
<path d="M662.6 177.5L667.8 171.9L661.8 168.9L656.6 174.4Z" fill="#ff9900"/>
<path d="M584.7 206.4L590 199.9L584.2 196.6L578.9 203Z" fill="#ffda00"/>
<path d="M311.9 395.1L317.6 384.8L312.2 380.2L306.6 390.5Z" fill="#00ff8f"/>
<path d="M623.7 191.3L629 185.3L623 182.1L617.8 188Z" fill="#ffb800"/>
<path d="M428.8 293L434.4 284.5L428.8 280.5L423.3 288.9Z" fill="#62ff00"/>
<path d="M473.4 263.7L478.9 255.9L473.2 252L467.7 259.8Z" fill="#a4ff00"/>
<path d="M556.9 219.5L562.3 212.7L556.5 209.2L551.1 215.9Z" fill="#fff700"/>
<path d="M328.6 379.2L334.2 369.1L328.8 364.7L323.2 374.6Z" fill="#00ff67"/>
<path d="M289.6 422.1L295.2 411.4L289.9 406.7L284.3 417.4Z" fill="#00ffcf"/>
<path d="M501.2 248.1L506.7 240.6L501 236.9L495.5 244.3Z" fill="#c7ff00"/>
<path d="M412.1 306.3L417.7 297.5L412.2 293.4L406.6 302.1Z" fill="#45ff00"/>
<path d="M529.1 233.4L534.5 226.2L528.8 222.6L523.3 229.7Z" fill="#e8ff00"/>
<path d="M345.3 363.7L350.9 353.9L345.5 349.5L339.9 359.3Z" fill="#00ff41"/>
<path d="M595.9 203.4L601.2 197L595.4 193.7L590 199.9Z" fill="#ffd200"/>
<path d="M634.9 188.5L640.2 182.6L634.2 179.5L629 185.3Z" fill="#ffb100"/>
<path d="M395.4 320L401 311L395.5 306.8L389.9 315.7Z" fill="#26ff00"/>
<path d="M362 348.7L367.6 339.2L362.2 334.8L356.5 344.3Z" fill="#00ff1c"/>
<path d="M378.7 334.1L384.3 324.9L378.8 320.6L373.2 329.8Z" fill="#06ff00"/>
<path d="M456.7 276L462.2 267.8L456.6 263.9L451.1 272Z" fill="#89ff00"/>
<path d="M306.2 405.5L311.9 395.1L306.6 390.5L300.9 400.9Z" fill="#00ffa6"/>
<path d="M568.1 216.2L573.5 209.5L567.7 206L562.3 212.7Z" fill="#ffee00"/>
<path d="M484.5 259.7L490 252L484.4 248.1L478.9 255.9Z" fill="#aeff00"/>
<path d="M440 288.6L445.5 280.2L439.9 276.2L434.4 284.5Z" fill="#6eff00"/>
<path d="M646.1 185.8L651.4 180L645.4 176.9L640.2 182.6Z" fill="#ffaa00"/>
<path d="M540.3 229.9L545.7 222.8L539.9 219.2L534.5 226.2Z" fill="#f1ff00"/>
<path d="M607.1 200.4L612.5 194.1L606.6 190.8L601.2 197Z" fill="#ffca00"/>
<path d="M512.4 244.4L517.9 237L512.2 233.3L506.7 240.6Z" fill="#d1ff00"/>
<path d="M322.9 389.4L328.6 379.2L323.2 374.6L317.6 384.8Z" fill="#00ff7e"/>
<path d="M423.2 301.7L428.8 293L423.3 288.9L417.7 297.5Z" fill="#51ff00"/>
<path d="M339.6 373.7L345.3 363.7L339.9 359.3L334.2 369.1Z" fill="#00ff57"/>
<path d="M467.8 271.8L473.4 263.7L467.7 259.8L462.2 267.8Z" fill="#94ff00"/>
<path d="M579.3 213L584.7 206.4L578.9 203L573.5 209.5Z" fill="#ffe600"/>
<path d="M406.5 315.2L412.1 306.3L406.6 302.1L401 311Z" fill="#33ff00"/>
<path d="M657.4 183.2L662.6 177.5L656.6 174.4L651.4 180Z" fill="#ffa300"/>
<path d="M356.3 358.4L362 348.7L356.5 344.3L350.9 353.9Z" fill="#00ff32"/>
<path d="M300.6 416.1L306.2 405.5L300.9 400.9L295.2 411.4Z" fill="#00ffbe"/>
<path d="M389.8 329.2L395.4 320L389.9 315.7L384.3 324.9Z" fill="#14ff00"/>
<path d="M373 343.6L378.7 334.1L373.2 329.8L367.6 339.2Z" fill="#00ff0e"/>
<path d="M618.4 197.5L623.7 191.3L617.8 188L612.5 194.1Z" fill="#ffc300"/>
<path d="M495.7 255.8L501.2 248.1L495.5 244.3L490 252Z" fill="#b8ff00"/>
<path d="M551.5 226.5L556.9 219.5L551.1 215.9L545.7 222.8Z" fill="#faff00"/>
<path d="M523.6 240.7L529.1 233.4L523.3 229.7L517.9 237Z" fill="#daff00"/>
<path d="M451.1 284.3L456.7 276L451.1 272L445.5 280.2Z" fill="#79ff00"/>
<path d="M317.3 399.7L322.9 389.4L317.6 384.8L311.9 395.1Z" fill="#00ff95"/>
<path d="M590.6 209.9L595.9 203.4L590 199.9L584.7 206.4Z" fill="#ffde00"/>
<path d="M629.6 194.6L634.9 188.5L629 185.3L623.7 191.3Z" fill="#ffbb00"/>
<path d="M434.4 297.2L440 288.6L434.4 284.5L428.8 293Z" fill="#5dff00"/>
<path d="M479 267.7L484.5 259.7L478.9 255.9L473.4 263.7Z" fill="#9fff00"/>
<path d="M334 383.7L339.6 373.7L334.2 369.1L328.6 379.2Z" fill="#00ff6e"/>
<path d="M294.9 426.8L300.6 416.1L295.2 411.4L289.6 422.1Z" fill="#00ffd6"/>
<path d="M562.7 223.1L568.1 216.2L562.3 212.7L556.9 219.5Z" fill="#fffb00"/>
<path d="M417.6 310.5L423.2 301.7L417.7 297.5L412.1 306.3Z" fill="#3fff00"/>
<path d="M506.9 252L512.4 244.4L506.7 240.6L501.2 248.1Z" fill="#c2ff00"/>
<path d="M350.7 368.2L356.3 358.4L350.9 353.9L345.3 363.7Z" fill="#00ff48"/>
<path d="M534.8 237.1L540.3 229.9L534.5 226.2L529.1 233.4Z" fill="#e4ff00"/>
<path d="M400.9 324.3L406.5 315.2L401 311L395.4 320Z" fill="#21ff00"/>
<path d="M367.4 353.1L373 343.6L367.6 339.2L362 348.7Z" fill="#00ff23"/>
<path d="M384.2 338.5L389.8 329.2L384.3 324.9L378.7 334.1Z" fill="#01ff00"/>
<path d="M601.8 206.8L607.1 200.4L601.2 197L595.9 203.4Z" fill="#ffd600"/>
<path d="M462.3 280L467.8 271.8L462.2 267.8L456.7 276Z" fill="#84ff00"/>
<path d="M640.9 191.8L646.1 185.8L640.2 182.6L634.9 188.5Z" fill="#ffb400"/>
<path d="M311.6 410.2L317.3 399.7L311.9 395.1L306.2 405.5Z" fill="#00ffad"/>
<path d="M573.9 219.8L579.3 213L573.5 209.5L568.1 216.2Z" fill="#fff200"/>
<path d="M490.2 263.7L495.7 255.8L490 252L484.5 259.7Z" fill="#a9ff00"/>
<path d="M445.5 292.7L451.1 284.3L445.5 280.2L440 288.6Z" fill="#68ff00"/>
<path d="M328.3 394L334 383.7L328.6 379.2L322.9 389.4Z" fill="#00ff84"/>
<path d="M546 233.6L551.5 226.5L545.7 222.8L540.3 229.9Z" fill="#edff00"/>
<path d="M518.1 248.2L523.6 240.7L517.9 237L512.4 244.4Z" fill="#ccff00"/>
<path d="M652.2 189L657.4 183.2L651.4 180L646.1 185.8Z" fill="#ffad00"/>
<path d="M613.1 203.8L618.4 197.5L612.5 194.1L607.1 200.4Z" fill="#ffce00"/>
<path d="M428.8 305.9L434.4 297.2L428.8 293L423.2 301.7Z" fill="#4bff00"/>
<path d="M345 378.2L350.7 368.2L345.3 363.7L339.6 373.7Z" fill="#00ff5e"/>
<path d="M473.5 275.8L479 267.7L473.4 263.7L467.8 271.8Z" fill="#8fff00"/>
<path d="M412 319.5L417.6 310.5L412.1 306.3L406.5 315.2Z" fill="#2dff00"/>
<path d="M305.9 420.8L311.6 410.2L306.2 405.5L300.6 416.1Z" fill="#00ffc5"/>
<path d="M361.8 362.9L367.4 353.1L362 348.7L356.3 358.4Z" fill="#00ff38"/>
<path d="M395.3 333.5L400.9 324.3L395.4 320L389.8 329.2Z" fill="#0eff00"/>
<path d="M378.5 348L384.2 338.5L378.7 334.1L373 343.6Z" fill="#00ff14"/>
<path d="M585.2 216.5L590.6 209.9L584.7 206.4L579.3 213Z" fill="#ffea00"/>
<path d="M501.4 259.7L506.9 252L501.2 248.1L495.7 255.8Z" fill="#b4ff00"/>
<path d="M624.3 200.8L629.6 194.6L623.7 191.3L618.4 197.5Z" fill="#ffc600"/>
<path d="M557.3 230.1L562.7 223.1L556.9 219.5L551.5 226.5Z" fill="#f6ff00"/>
<path d="M529.4 244.5L534.8 237.1L529.1 233.4L523.6 240.7Z" fill="#d6ff00"/>
<path d="M456.7 288.3L462.3 280L456.7 276L451.1 284.3Z" fill="#74ff00"/>
<path d="M322.6 404.4L328.3 394L322.9 389.4L317.3 399.7Z" fill="#00ff9c"/>
<path d="M440 301.3L445.5 292.7L440 288.6L434.4 297.2Z" fill="#57ff00"/>
<path d="M596.5 213.4L601.8 206.8L595.9 203.4L590.6 209.9Z" fill="#ffe200"/>
<path d="M339.4 388.4L345 378.2L339.6 373.7L334 383.7Z" fill="#00ff74"/>
<path d="M300.2 431.6L305.9 420.8L300.6 416.1L294.9 426.8Z" fill="#00ffdd"/>
<path d="M484.7 271.7L490.2 263.7L484.5 259.7L479 267.7Z" fill="#9aff00"/>
<path d="M635.6 197.9L640.9 191.8L634.9 188.5L629.6 194.6Z" fill="#ffbf00"/>
<path d="M423.2 314.8L428.8 305.9L423.2 301.7L417.6 310.5Z" fill="#3aff00"/>
<path d="M356.1 372.8L361.8 362.9L356.3 358.4L350.7 368.2Z" fill="#00ff4e"/>
<path d="M568.5 226.7L573.9 219.8L568.1 216.2L562.7 223.1Z" fill="#ffff00"/>
<path d="M512.6 255.9L518.1 248.2L512.4 244.4L506.9 252Z" fill="#beff00"/>
<path d="M406.4 328.6L412 319.5L406.5 315.2L400.9 324.3Z" fill="#1bff00"/>
<path d="M372.9 357.6L378.5 348L373 343.6L367.4 353.1Z" fill="#00ff29"/>
<path d="M540.6 240.9L546 233.6L540.3 229.9L534.8 237.1Z" fill="#dfff00"/>
<path d="M389.7 342.9L395.3 333.5L389.8 329.2L384.2 338.5Z" fill="#00ff05"/>
<path d="M317 414.9L322.6 404.4L317.3 399.7L311.6 410.2Z" fill="#00ffb3"/>
<path d="M467.9 284.1L473.5 275.8L467.8 271.8L462.3 280Z" fill="#7fff00"/>
<path d="M607.7 210.3L613.1 203.8L607.1 200.4L601.8 206.8Z" fill="#ffda00"/>
<path d="M646.9 195.1L652.2 189L646.1 185.8L640.9 191.8Z" fill="#ffb700"/>
<path d="M333.7 398.6L339.4 388.4L334 383.7L328.3 394Z" fill="#00ff8b"/>
<path d="M451.2 296.9L456.7 288.3L451.1 284.3L445.5 292.7Z" fill="#63ff00"/>
<path d="M495.9 267.6L501.4 259.7L495.7 255.8L490.2 263.7Z" fill="#a5ff00"/>
<path d="M579.8 223.4L585.2 216.5L579.3 213L573.9 219.8Z" fill="#fff600"/>
<path d="M523.9 252.1L529.4 244.5L523.6 240.7L518.1 248.2Z" fill="#c8ff00"/>
<path d="M551.9 237.3L557.3 230.1L551.5 226.5L546 233.6Z" fill="#e9ff00"/>
<path d="M350.5 382.8L356.1 372.8L350.7 368.2L345 378.2Z" fill="#00ff64"/>
<path d="M434.4 310.1L440 301.3L434.4 297.2L428.8 305.9Z" fill="#46ff00"/>
<path d="M619 207.2L624.3 200.8L618.4 197.5L613.1 203.8Z" fill="#ffd200"/>
<path d="M311.3 425.6L317 414.9L311.6 410.2L305.9 420.8Z" fill="#00ffcb"/>
<path d="M367.2 367.4L372.9 357.6L367.4 353.1L361.8 362.9Z" fill="#00ff3e"/>
<path d="M417.6 323.8L423.2 314.8L417.6 310.5L412 319.5Z" fill="#28ff00"/>
<path d="M479.1 279.8L484.7 271.7L479 267.7L473.5 275.8Z" fill="#8aff00"/>
<path d="M384 352.4L389.7 342.9L384.2 338.5L378.5 348Z" fill="#00ff1a"/>
<path d="M400.8 337.9L406.4 328.6L400.9 324.3L395.3 333.5Z" fill="#09ff00"/>
<path d="M591.1 220.1L596.5 213.4L590.6 209.9L585.2 216.5Z" fill="#ffee00"/>
<path d="M507.1 263.7L512.6 255.9L506.9 252L501.4 259.7Z" fill="#afff00"/>
<path d="M328 409.1L333.7 398.6L328.3 394L322.6 404.4Z" fill="#00ffa2"/>
<path d="M462.4 292.5L467.9 284.1L462.3 280L456.7 288.3Z" fill="#6fff00"/>
<path d="M563.1 233.8L568.5 226.7L562.7 223.1L557.3 230.1Z" fill="#f2ff00"/>
<path d="M630.3 204.2L635.6 197.9L629.6 194.6L624.3 200.8Z" fill="#ffca00"/>
<path d="M535.1 248.3L540.6 240.9L534.8 237.1L529.4 244.5Z" fill="#d1ff00"/>
<path d="M344.8 393L350.5 382.8L345 378.2L339.4 388.4Z" fill="#00ff7b"/>
<path d="M305.6 436.4L311.3 425.6L305.9 420.8L300.2 431.6Z" fill="#00ffe4"/>
<path d="M445.6 305.5L451.2 296.9L445.5 292.7L440 301.3Z" fill="#52ff00"/>
<path d="M602.4 216.9L607.7 210.3L601.8 206.8L596.5 213.4Z" fill="#ffe600"/>
<path d="M490.4 275.7L495.9 267.6L490.2 263.7L484.7 271.7Z" fill="#95ff00"/>
<path d="M361.6 377.4L367.2 367.4L361.8 362.9L356.1 372.8Z" fill="#00ff54"/>
<path d="M428.8 319L434.4 310.1L428.8 305.9L423.2 314.8Z" fill="#34ff00"/>
<path d="M641.6 201.3L646.9 195.1L640.9 191.8L635.6 197.9Z" fill="#ffc200"/>
<path d="M378.4 362.1L384 352.4L378.5 348L372.9 357.6Z" fill="#00ff2f"/>
<path d="M412 333L417.6 323.8L412 319.5L406.4 328.6Z" fill="#16ff00"/>
<path d="M574.4 230.4L579.8 223.4L573.9 219.8L568.5 226.7Z" fill="#fbff00"/>
<path d="M518.4 259.8L523.9 252.1L518.1 248.2L512.6 255.9Z" fill="#b9ff00"/>
<path d="M395.2 347.3L400.8 337.9L395.3 333.5L389.7 342.9Z" fill="#00ff0b"/>
<path d="M322.4 419.7L328 409.1L322.6 404.4L317 414.9Z" fill="#00ffba"/>
<path d="M546.4 244.7L551.9 237.3L546 233.6L540.6 240.9Z" fill="#dbff00"/>
<path d="M473.6 288.2L479.1 279.8L473.5 275.8L467.9 284.1Z" fill="#7aff00"/>
<path d="M613.7 213.8L619 207.2L613.1 203.8L607.7 210.3Z" fill="#ffdd00"/>
<path d="M339.1 403.4L344.8 393L339.4 388.4L333.7 398.6Z" fill="#00ff92"/>
<path d="M456.8 301.1L462.4 292.5L456.7 288.3L451.2 296.9Z" fill="#5eff00"/>
<path d="M501.6 271.6L507.1 263.7L501.4 259.7L495.9 267.6Z" fill="#a0ff00"/>
<path d="M585.7 227L591.1 220.1L585.2 216.5L579.8 223.4Z" fill="#fffb00"/>
<path d="M355.9 387.4L361.6 377.4L356.1 372.8L350.5 382.8Z" fill="#00ff6b"/>
<path d="M529.7 255.9L535.1 248.3L529.4 244.5L523.9 252.1Z" fill="#c3ff00"/>
<path d="M440 314.4L445.6 305.5L440 301.3L434.4 310.1Z" fill="#41ff00"/>
<path d="M557.7 241.1L563.1 233.8L557.3 230.1L551.9 237.3Z" fill="#e4ff00"/>
<path d="M316.7 430.4L322.4 419.7L317 414.9L311.3 425.6Z" fill="#00ffd2"/>
<path d="M372.7 372L378.4 362.1L372.9 357.6L367.2 367.4Z" fill="#00ff45"/>
<path d="M625 210.7L630.3 204.2L624.3 200.8L619 207.2Z" fill="#ffd500"/>
<path d="M423.2 328.1L428.8 319L423.2 314.8L417.6 323.8Z" fill="#22ff00"/>
<path d="M389.5 356.9L395.2 347.3L389.7 342.9L384 352.4Z" fill="#00ff20"/>
<path d="M484.8 283.9L490.4 275.7L484.7 271.7L479.1 279.8Z" fill="#85ff00"/>
<path d="M406.3 342.3L412 333L406.4 328.6L400.8 337.9Z" fill="#03ff00"/>
<path d="M333.4 413.8L339.1 403.4L333.7 398.6L328 409.1Z" fill="#00ffa9"/>
<path d="M597 223.7L602.4 216.9L596.5 213.4L591.1 220.1Z" fill="#fff200"/>
<path d="M512.9 267.6L518.4 259.8L512.6 255.9L507.1 263.7Z" fill="#aaff00"/>
<path d="M468 296.6L473.6 288.2L467.9 284.1L462.4 292.5Z" fill="#6aff00"/>
<path d="M569 237.5L574.4 230.4L568.5 226.7L563.1 233.8Z" fill="#edff00"/>
<path d="M540.9 252.2L546.4 244.7L540.6 240.9L535.1 248.3Z" fill="#cdff00"/>
<path d="M636.3 207.6L641.6 201.3L635.6 197.9L630.3 204.2Z" fill="#ffce00"/>
<path d="M311 441.3L316.7 430.4L311.3 425.6L305.6 436.4Z" fill="#00ffeb"/>
<path d="M350.2 397.7L355.9 387.4L350.5 382.8L344.8 393Z" fill="#00ff81"/>
<path d="M451.2 309.8L456.8 301.1L451.2 296.9L445.6 305.5Z" fill="#4dff00"/>
<path d="M367.1 382L372.7 372L367.2 367.4L361.6 377.4Z" fill="#00ff5b"/>
<path d="M496.1 279.8L501.6 271.6L495.9 267.6L490.4 275.7Z" fill="#90ff00"/>
<path d="M434.4 323.4L440 314.4L434.4 310.1L428.8 319Z" fill="#2fff00"/>
<path d="M608.3 220.5L613.7 213.8L607.7 210.3L602.4 216.9Z" fill="#ffea00"/>
<path d="M383.9 366.7L389.5 356.9L384 352.4L378.4 362.1Z" fill="#00ff36"/>
<path d="M417.5 337.4L423.2 328.1L417.6 323.8L412 333Z" fill="#10ff00"/>
<path d="M400.7 351.8L406.3 342.3L400.8 337.9L395.2 347.3Z" fill="#00ff12"/>
<path d="M327.8 424.5L333.4 413.8L328 409.1L322.4 419.7Z" fill="#00ffc1"/>
<path d="M524.2 263.7L529.7 255.9L523.9 252.1L518.4 259.8Z" fill="#b4ff00"/>
<path d="M580.3 234.1L585.7 227L579.8 223.4L574.4 230.4Z" fill="#f6ff00"/>
<path d="M552.2 248.5L557.7 241.1L551.9 237.3L546.4 244.7Z" fill="#d6ff00"/>
<path d="M479.3 292.3L484.8 283.9L479.1 279.8L473.6 288.2Z" fill="#75ff00"/>
<path d="M344.6 408.1L350.2 397.7L344.8 393L339.1 403.4Z" fill="#00ff98"/>
<path d="M619.6 217.3L625 210.7L619 207.2L613.7 213.8Z" fill="#ffe100"/>
<path d="M462.4 305.3L468 296.6L462.4 292.5L456.8 301.1Z" fill="#59ff00"/>
<path d="M507.4 275.7L512.9 267.6L507.1 263.7L501.6 271.6Z" fill="#9bff00"/>
<path d="M361.4 392.1L367.1 382L361.6 377.4L355.9 387.4Z" fill="#00ff71"/>
<path d="M591.6 230.7L597 223.7L591.1 220.1L585.7 227Z" fill="#ffff00"/>
<path d="M322.1 435.3L327.8 424.5L322.4 419.7L316.7 430.4Z" fill="#00ffd9"/>
<path d="M445.6 318.7L451.2 309.8L445.6 305.5L440 314.4Z" fill="#3bff00"/>
<path d="M535.4 259.8L540.9 252.2L535.1 248.3L529.7 255.9Z" fill="#beff00"/>
<path d="M563.5 244.9L569 237.5L563.1 233.8L557.7 241.1Z" fill="#e0ff00"/>
<path d="M378.2 376.6L383.9 366.7L378.4 362.1L372.7 372Z" fill="#00ff4b"/>
<path d="M428.8 332.5L434.4 323.4L428.8 319L423.2 328.1Z" fill="#1dff00"/>
<path d="M395.1 361.5L400.7 351.8L395.2 347.3L389.5 356.9Z" fill="#00ff27"/>
<path d="M411.9 346.8L417.5 337.4L412 333L406.3 342.3Z" fill="#00ff03"/>
<path d="M490.5 288L496.1 279.8L490.4 275.7L484.8 283.9Z" fill="#80ff00"/>
<path d="M631 214.2L636.3 207.6L630.3 204.2L625 210.7Z" fill="#ffd900"/>
<path d="M338.9 418.6L344.6 408.1L339.1 403.4L333.4 413.8Z" fill="#00ffb0"/>
<path d="M518.6 271.6L524.2 263.7L518.4 259.8L512.9 267.6Z" fill="#a5ff00"/>
<path d="M602.9 227.3L608.3 220.5L602.4 216.9L597 223.7Z" fill="#fff600"/>
<path d="M473.7 300.8L479.3 292.3L473.6 288.2L468 296.6Z" fill="#64ff00"/>
<path d="M316.4 446.2L322.1 435.3L316.7 430.4L311 441.3Z" fill="#00fff2"/>
<path d="M355.7 402.4L361.4 392.1L355.9 387.4L350.2 397.7Z" fill="#00ff88"/>
<path d="M546.8 256.1L552.2 248.5L546.4 244.7L540.9 252.2Z" fill="#c8ff00"/>
<path d="M574.8 241.3L580.3 234.1L574.4 230.4L569 237.5Z" fill="#e9ff00"/>
<path d="M456.9 314.1L462.4 305.3L456.8 301.1L451.2 309.8Z" fill="#47ff00"/>
<path d="M372.6 386.6L378.2 376.6L372.7 372L367.1 382Z" fill="#00ff61"/>
<path d="M501.8 283.8L507.4 275.7L501.6 271.6L496.1 279.8Z" fill="#8bff00"/>
<path d="M440 327.7L445.6 318.7L440 314.4L434.4 323.4Z" fill="#29ff00"/>
<path d="M389.4 371.3L395.1 361.5L389.5 356.9L383.9 366.7Z" fill="#00ff3c"/>
<path d="M333.2 429.3L338.9 418.6L333.4 413.8L327.8 424.5Z" fill="#00ffc8"/>
<path d="M423.1 341.8L428.8 332.5L423.2 328.1L417.5 337.4Z" fill="#0aff00"/>
<path d="M406.3 356.3L411.9 346.8L406.3 342.3L400.7 351.8Z" fill="#00ff18"/>
<path d="M614.3 224.1L619.6 217.3L613.7 213.8L608.3 220.5Z" fill="#ffee00"/>
<path d="M529.9 267.7L535.4 259.8L529.7 255.9L524.2 263.7Z" fill="#b0ff00"/>
<path d="M586.2 237.8L591.6 230.7L585.7 227L580.3 234.1Z" fill="#f2ff00"/>
<path d="M485 296.5L490.5 288L484.8 283.9L479.3 292.3Z" fill="#70ff00"/>
<path d="M558.1 252.3L563.5 244.9L557.7 241.1L552.2 248.5Z" fill="#d2ff00"/>
<path d="M350 412.9L355.7 402.4L350.2 397.7L344.6 408.1Z" fill="#00ff9f"/>
<path d="M468.1 309.5L473.7 300.8L468 296.6L462.4 305.3Z" fill="#53ff00"/>
<path d="M625.6 220.8L631 214.2L625 210.7L619.6 217.3Z" fill="#ffe500"/>
<path d="M366.9 396.8L372.6 386.6L367.1 382L361.4 392.1Z" fill="#00ff78"/>
<path d="M513.1 279.7L518.6 271.6L512.9 267.6L507.4 275.7Z" fill="#96ff00"/>
<path d="M327.5 440.2L333.2 429.3L327.8 424.5L322.1 435.3Z" fill="#00ffe0"/>
<path d="M451.2 323L456.9 314.1L451.2 309.8L445.6 318.7Z" fill="#36ff00"/>
<path d="M383.7 381.2L389.4 371.3L383.9 366.7L378.2 376.6Z" fill="#00ff52"/>
<path d="M597.5 234.4L602.9 227.3L597 223.7L591.6 230.7Z" fill="#fbff00"/>
<path d="M541.3 263.8L546.8 256.1L540.9 252.2L535.4 259.8Z" fill="#baff00"/>
<path d="M434.4 336.9L440 327.7L434.4 323.4L428.8 332.5Z" fill="#17ff00"/>
<path d="M569.4 248.7L574.8 241.3L569 237.5L563.5 244.9Z" fill="#dbff00"/>
<path d="M400.6 366L406.3 356.3L400.7 351.8L395.1 361.5Z" fill="#00ff2d"/>
<path d="M417.5 351.3L423.1 341.8L417.5 337.4L411.9 346.8Z" fill="#00ff09"/>
<path d="M496.3 292.2L501.8 283.8L496.1 279.8L490.5 288Z" fill="#7bff00"/>
<path d="M344.3 423.5L350 412.9L344.6 408.1L338.9 418.6Z" fill="#00ffb7"/>
<path d="M321.8 451.2L327.5 440.2L322.1 435.3L316.4 446.2Z" fill="#00fff9"/>
<path d="M479.4 305.1L485 296.5L479.3 292.3L473.7 300.8Z" fill="#5fff00"/>
<path d="M524.4 275.7L529.9 267.7L524.2 263.7L518.6 271.6Z" fill="#a0ff00"/>
<path d="M361.2 407.2L366.9 396.8L361.4 392.1L355.7 402.4Z" fill="#00ff8f"/>
<path d="M608.9 231L614.3 224.1L608.3 220.5L602.9 227.3Z" fill="#fffa00"/>
<path d="M552.6 260L558.1 252.3L552.2 248.5L546.8 256.1Z" fill="#c4ff00"/>
<path d="M580.7 245.1L586.2 237.8L580.3 234.1L574.8 241.3Z" fill="#e5ff00"/>
<path d="M462.5 318.4L468.1 309.5L462.4 305.3L456.9 314.1Z" fill="#42ff00"/>
<path d="M378.1 391.3L383.7 381.2L378.2 376.6L372.6 386.6Z" fill="#00ff68"/>
<path d="M445.6 332.1L451.2 323L445.6 318.7L440 327.7Z" fill="#24ff00"/>
<path d="M338.6 434.2L344.3 423.5L338.9 418.6L333.2 429.3Z" fill="#00ffcf"/>
<path d="M395 375.9L400.6 366L395.1 361.5L389.4 371.3Z" fill="#00ff42"/>
<path d="M507.6 288L513.1 279.7L507.4 275.7L501.8 283.8Z" fill="#86ff00"/>
<path d="M428.7 346.3L434.4 336.9L428.8 332.5L423.1 341.8Z" fill="#05ff00"/>
<path d="M411.8 360.9L417.5 351.3L411.9 346.8L406.3 356.3Z" fill="#00ff1e"/>
<path d="M620.2 227.7L625.6 220.8L619.6 217.3L614.3 224.1Z" fill="#fff200"/>
<path d="M535.8 271.7L541.3 263.8L535.4 259.8L529.9 267.7Z" fill="#abff00"/>
<path d="M490.7 300.7L496.3 292.2L490.5 288L485 296.5Z" fill="#6bff00"/>
<path d="M355.5 417.7L361.2 407.2L355.7 402.4L350 412.9Z" fill="#00ffa6"/>
<path d="M592.1 241.6L597.5 234.4L591.6 230.7L586.2 237.8Z" fill="#eeff00"/>
<path d="M563.9 256.2L569.4 248.7L563.5 244.9L558.1 252.3Z" fill="#cdff00"/>
<path d="M473.8 313.8L479.4 305.1L473.7 300.8L468.1 309.5Z" fill="#4eff00"/>
<path d="M372.4 401.6L378.1 391.3L372.6 386.6L366.9 396.8Z" fill="#00ff7f"/>
<path d="M332.9 445.1L338.6 434.2L333.2 429.3L327.5 440.2Z" fill="#00ffe7"/>
<path d="M518.9 283.8L524.4 275.7L518.6 271.6L513.1 279.7Z" fill="#91ff00"/>
<path d="M456.9 327.4L462.5 318.4L456.9 314.1L451.2 323Z" fill="#30ff00"/>
<path d="M389.3 385.9L395 375.9L389.4 371.3L383.7 381.2Z" fill="#00ff58"/>
<path d="M440 341.4L445.6 332.1L440 327.7L434.4 336.9Z" fill="#11ff00"/>
<path d="M406.2 370.7L411.8 360.9L406.3 356.3L400.6 366Z" fill="#00ff33"/>
<path d="M547.1 267.8L552.6 260L546.8 256.1L541.3 263.8Z" fill="#b5ff00"/>
<path d="M603.5 238.1L608.9 231L602.9 227.3L597.5 234.4Z" fill="#f7ff00"/>
<path d="M423.1 355.8L428.7 346.3L423.1 341.8L417.5 351.3Z" fill="#00ff10"/>
<path d="M575.3 252.5L580.7 245.1L574.8 241.3L569.4 248.7Z" fill="#d7ff00"/>
<path d="M349.8 428.4L355.5 417.7L350 412.9L344.3 423.5Z" fill="#00ffbe"/>
<path d="M502 296.4L507.6 288L501.8 283.8L496.3 292.2Z" fill="#76ff00"/>
<path d="M327.2 456.2L332.9 445.1L327.5 440.2L321.8 451.2Z" fill="#00feff"/>
<path d="M366.7 412L372.4 401.6L366.9 396.8L361.2 407.2Z" fill="#00ff95"/>
<path d="M485.1 309.4L490.7 300.7L485 296.5L479.4 305.1Z" fill="#5aff00"/>
<path d="M530.2 279.7L535.8 271.7L529.9 267.7L524.4 275.7Z" fill="#9bff00"/>
<path d="M614.8 234.7L620.2 227.7L614.3 224.1L608.9 231Z" fill="#ffff00"/>
<path d="M383.6 396.1L389.3 385.9L383.7 381.2L378.1 391.3Z" fill="#00ff6f"/>
<path d="M558.5 263.9L563.9 256.2L558.1 252.3L552.6 260Z" fill="#bfff00"/>
<path d="M468.2 322.8L473.8 313.8L468.1 309.5L462.5 318.4Z" fill="#3cff00"/>
<path d="M586.7 248.9L592.1 241.6L586.2 237.8L580.7 245.1Z" fill="#e0ff00"/>
<path d="M344.1 439.2L349.8 428.4L344.3 423.5L338.6 434.2Z" fill="#00ffd6"/>
<path d="M400.5 380.6L406.2 370.7L400.6 366L395 375.9Z" fill="#00ff49"/>
<path d="M451.3 336.6L456.9 327.4L451.2 323L445.6 332.1Z" fill="#1eff00"/>
<path d="M513.3 292.1L518.9 283.8L513.1 279.7L507.6 288Z" fill="#81ff00"/>
<path d="M417.4 365.5L423.1 355.8L417.5 351.3L411.8 360.9Z" fill="#00ff25"/>
<path d="M434.4 350.8L440 341.4L434.4 336.9L428.7 346.3Z" fill="#00ff01"/>
<path d="M361 422.6L366.7 412L361.2 407.2L355.5 417.7Z" fill="#00ffad"/>
<path d="M541.6 275.7L547.1 267.8L541.3 263.8L535.8 271.7Z" fill="#a6ff00"/>
<path d="M496.4 304.9L502 296.4L496.3 292.2L490.7 300.7Z" fill="#65ff00"/>
<path d="M598 245.3L603.5 238.1L597.5 234.4L592.1 241.6Z" fill="#e9ff00"/>
<path d="M569.8 260.1L575.3 252.5L569.4 248.7L563.9 256.2Z" fill="#c9ff00"/>
<path d="M377.9 406.4L383.6 396.1L378.1 391.3L372.4 401.6Z" fill="#00ff85"/>
<path d="M338.4 450.1L344.1 439.2L338.6 434.2L332.9 445.1Z" fill="#00ffee"/>
<path d="M479.5 318.2L485.1 309.4L479.4 305.1L473.8 313.8Z" fill="#48ff00"/>
<path d="M524.7 288L530.2 279.7L524.4 275.7L518.9 283.8Z" fill="#8cff00"/>
<path d="M394.8 390.6L400.5 380.6L395 375.9L389.3 385.9Z" fill="#00ff5f"/>
<path d="M462.6 331.8L468.2 322.8L462.5 318.4L456.9 327.4Z" fill="#2bff00"/>
<path d="M411.8 375.3L417.4 365.5L411.8 360.9L406.2 370.7Z" fill="#00ff3a"/>
<path d="M445.7 345.9L451.3 336.6L445.6 332.1L440 341.4Z" fill="#0cff00"/>
<path d="M428.7 360.4L434.4 350.8L428.7 346.3L423.1 355.8Z" fill="#00ff16"/>
<path d="M355.3 433.3L361 422.6L355.5 417.7L349.8 428.4Z" fill="#00ffc5"/>
<path d="M553 271.8L558.5 263.9L552.6 260L547.1 267.8Z" fill="#b0ff00"/>
<path d="M609.4 241.8L614.8 234.7L608.9 231L603.5 238.1Z" fill="#f2ff00"/>
<path d="M581.2 256.4L586.7 248.9L580.7 245.1L575.3 252.5Z" fill="#d2ff00"/>
<path d="M507.8 300.6L513.3 292.1L507.6 288L502 296.4Z" fill="#71ff00"/>
<path d="M332.7 461.2L338.4 450.1L332.9 445.1L327.2 456.2Z" fill="#00f7ff"/>
<path d="M372.2 416.9L377.9 406.4L372.4 401.6L366.7 412Z" fill="#00ff9c"/>
<path d="M490.9 313.7L496.4 304.9L490.7 300.7L485.1 309.4Z" fill="#54ff00"/>
<path d="M536.1 283.8L541.6 275.7L535.8 271.7L530.2 279.7Z" fill="#96ff00"/>
<path d="M389.2 400.9L394.8 390.6L389.3 385.9L383.6 396.1Z" fill="#00ff75"/>
<path d="M473.9 327.1L479.5 318.2L473.8 313.8L468.2 322.8Z" fill="#37ff00"/>
<path d="M564.3 267.9L569.8 260.1L563.9 256.2L558.5 263.9Z" fill="#baff00"/>
<path d="M349.6 444.1L355.3 433.3L349.8 428.4L344.1 439.2Z" fill="#00ffdd"/>
<path d="M592.6 252.8L598 245.3L592.1 241.6L586.7 248.9Z" fill="#dcff00"/>
<path d="M406.1 385.3L411.8 375.3L406.2 370.7L400.5 380.6Z" fill="#00ff50"/>
<path d="M457 341L462.6 331.8L456.9 327.4L451.3 336.6Z" fill="#18ff00"/>
<path d="M423.1 370.1L428.7 360.4L423.1 355.8L417.4 365.5Z" fill="#00ff2b"/>
<path d="M440 355.4L445.7 345.9L440 341.4L434.4 350.8Z" fill="#00ff08"/>
<path d="M519.1 296.3L524.7 288L518.9 283.8L513.3 292.1Z" fill="#7cff00"/>
<path d="M366.5 427.5L372.2 416.9L366.7 412L361 422.6Z" fill="#00ffb4"/>
<path d="M547.4 279.8L553 271.8L547.1 267.8L541.6 275.7Z" fill="#a1ff00"/>
<path d="M502.2 309.2L507.8 300.6L502 296.4L496.4 304.9Z" fill="#60ff00"/>
<path d="M343.9 455.1L349.6 444.1L344.1 439.2L338.4 450.1Z" fill="#00fff5"/>
<path d="M575.7 264.1L581.2 256.4L575.3 252.5L569.8 260.1Z" fill="#c4ff00"/>
<path d="M383.5 411.2L389.2 400.9L383.6 396.1L377.9 406.4Z" fill="#00ff8c"/>
<path d="M604 249.2L609.4 241.8L603.5 238.1L598 245.3Z" fill="#e5ff00"/>
<path d="M485.3 322.5L490.9 313.7L485.1 309.4L479.5 318.2Z" fill="#43ff00"/>
<path d="M400.4 395.4L406.1 385.3L400.5 380.6L394.8 390.6Z" fill="#00ff66"/>
<path d="M530.5 292.1L536.1 283.8L530.2 279.7L524.7 288Z" fill="#87ff00"/>
<path d="M468.3 336.3L473.9 327.1L468.2 322.8L462.6 331.8Z" fill="#25ff00"/>
<path d="M417.4 380L423.1 370.1L417.4 365.5L411.8 375.3Z" fill="#00ff40"/>
<path d="M451.3 350.4L457 341L451.3 336.6L445.7 345.9Z" fill="#06ff00"/>
<path d="M434.4 365L440 355.4L434.4 350.8L428.7 360.4Z" fill="#00ff1c"/>
<path d="M360.8 438.2L366.5 427.5L361 422.6L355.3 433.3Z" fill="#00ffcc"/>
<path d="M558.8 275.8L564.3 267.9L558.5 263.9L553 271.8Z" fill="#abff00"/>
<path d="M338.2 466.3L343.9 455.1L338.4 450.1L332.7 461.2Z" fill="#00f0ff"/>
<path d="M513.6 304.9L519.1 296.3L513.3 292.1L507.8 300.6Z" fill="#6bff00"/>
<path d="M587.1 260.3L592.6 252.8L586.7 248.9L581.2 256.4Z" fill="#ceff00"/>
<path d="M377.8 421.8L383.5 411.2L377.9 406.4L372.2 416.9Z" fill="#00ffa3"/>
<path d="M496.6 318L502.2 309.2L496.4 304.9L490.9 313.7Z" fill="#4fff00"/>
<path d="M541.9 288L547.4 279.8L541.6 275.7L536.1 283.8Z" fill="#91ff00"/>
<path d="M394.7 405.7L400.4 395.4L394.8 390.6L389.2 400.9Z" fill="#00ff7c"/>
<path d="M355.1 449.1L360.8 438.2L355.3 433.3L349.6 444.1Z" fill="#00ffe4"/>
<path d="M479.7 331.6L485.3 322.5L479.5 318.2L473.9 327.1Z" fill="#31ff00"/>
<path d="M411.7 390L417.4 380L411.8 375.3L406.1 385.3Z" fill="#00ff56"/>
<path d="M570.2 271.9L575.7 264.1L569.8 260.1L564.3 267.9Z" fill="#b5ff00"/>
<path d="M462.7 345.6L468.3 336.3L462.6 331.8L457 341Z" fill="#13ff00"/>
<path d="M428.7 374.8L434.4 365L428.7 360.4L423.1 370.1Z" fill="#00ff32"/>
<path d="M598.6 256.6L604 249.2L598 245.3L592.6 252.8Z" fill="#d7ff00"/>
<path d="M445.7 360L451.3 350.4L445.7 345.9L440 355.4Z" fill="#00ff0e"/>
<path d="M525 300.6L530.5 292.1L524.7 288L519.1 296.3Z" fill="#76ff00"/>
<path d="M372.1 432.4L377.8 421.8L372.2 416.9L366.5 427.5Z" fill="#00ffbb"/>
<path d="M508 313.5L513.6 304.9L507.8 300.6L502.2 309.2Z" fill="#5aff00"/>
<path d="M553.3 283.9L558.8 275.8L553 271.8L547.4 279.8Z" fill="#9cff00"/>
<path d="M349.4 460.2L355.1 449.1L349.6 444.1L343.9 455.1Z" fill="#00fffd"/>
<path d="M389 416.1L394.7 405.7L389.2 400.9L383.5 411.2Z" fill="#00ff93"/>
<path d="M581.7 268.1L587.1 260.3L581.2 256.4L575.7 264.1Z" fill="#bfff00"/>
<path d="M491 326.9L496.6 318L490.9 313.7L485.3 322.5Z" fill="#3dff00"/>
<path d="M406 400.2L411.7 390L406.1 385.3L400.4 395.4Z" fill="#00ff6c"/>
<path d="M474 340.8L479.7 331.6L473.9 327.1L468.3 336.3Z" fill="#1fff00"/>
<path d="M536.4 296.3L541.9 288L536.1 283.8L530.5 292.1Z" fill="#81ff00"/>
<path d="M423 384.7L428.7 374.8L423.1 370.1L417.4 380Z" fill="#00ff47"/>
<path d="M366.4 443.2L372.1 432.4L366.5 427.5L360.8 438.2Z" fill="#00ffd3"/>
<path d="M457 355L462.7 345.6L457 341L451.3 350.4Z" fill="#00ff00"/>
<path d="M440 369.6L445.7 360L440 355.4L434.4 365Z" fill="#00ff23"/>
<path d="M343.7 471.4L349.4 460.2L343.9 455.1L338.2 466.3Z" fill="#00e9ff"/>
<path d="M564.7 279.9L570.2 271.9L564.3 267.9L558.8 275.8Z" fill="#a6ff00"/>
<path d="M519.4 309.1L525 300.6L519.1 296.3L513.6 304.9Z" fill="#66ff00"/>
<path d="M383.3 426.7L389 416.1L383.5 411.2L377.8 421.8Z" fill="#00ffaa"/>
<path d="M593.1 264.3L598.6 256.6L592.6 252.8L587.1 260.3Z" fill="#c9ff00"/>
<path d="M502.4 322.4L508 313.5L502.2 309.2L496.6 318Z" fill="#49ff00"/>
<path d="M400.3 410.5L406 400.2L400.4 395.4L394.7 405.7Z" fill="#00ff83"/>
<path d="M360.6 454.2L366.4 443.2L360.8 438.2L355.1 449.1Z" fill="#00ffeb"/>
<path d="M547.8 292.2L553.3 283.9L547.4 279.8L541.9 288Z" fill="#8cff00"/>
<path d="M485.4 336L491 326.9L485.3 322.5L479.7 331.6Z" fill="#2cff00"/>
<path d="M417.3 394.8L423 384.7L417.4 380L411.7 390Z" fill="#00ff5d"/>
<path d="M468.4 350.1L474 340.8L468.3 336.3L462.7 345.6Z" fill="#0dff00"/>
<path d="M434.4 379.5L440 369.6L434.4 365L428.7 374.8Z" fill="#00ff38"/>
<path d="M576.2 276L581.7 268.1L575.7 264.1L570.2 271.9Z" fill="#b0ff00"/>
<path d="M451.4 364.6L457 355L451.3 350.4L445.7 360Z" fill="#00ff15"/>
<path d="M377.6 437.4L383.3 426.7L377.8 421.8L372.1 432.4Z" fill="#00ffc2"/>
<path d="M530.8 304.8L536.4 296.3L530.5 292.1L525 300.6Z" fill="#71ff00"/>
<path d="M354.9 465.3L360.6 454.2L355.1 449.1L349.4 460.2Z" fill="#00faff"/>
<path d="M513.8 317.9L519.4 309.1L513.6 304.9L508 313.5Z" fill="#55ff00"/>
<path d="M394.6 421L400.3 410.5L394.7 405.7L389 416.1Z" fill="#00ff9a"/>
<path d="M559.2 288L564.7 279.9L558.8 275.8L553.3 283.9Z" fill="#97ff00"/>
<path d="M496.8 331.4L502.4 322.4L496.6 318L491 326.9Z" fill="#38ff00"/>
<path d="M587.6 272.1L593.1 264.3L587.1 260.3L581.7 268.1Z" fill="#baff00"/>
<path d="M411.7 405L417.3 394.8L411.7 390L406 400.2Z" fill="#00ff73"/>
<path d="M479.8 345.3L485.4 336L479.7 331.6L474 340.8Z" fill="#19ff00"/>
<path d="M371.9 448.3L377.6 437.4L372.1 432.4L366.4 443.2Z" fill="#00ffda"/>
<path d="M428.7 389.5L434.4 379.5L428.7 374.8L423 384.7Z" fill="#00ff4e"/>
<path d="M542.2 300.6L547.8 292.2L541.9 288L536.4 296.3Z" fill="#7cff00"/>
<path d="M462.7 359.6L468.4 350.1L462.7 345.6L457 355Z" fill="#00ff06"/>
<path d="M445.7 374.3L451.4 364.6L445.7 360L440 369.6Z" fill="#00ff29"/>
<path d="M349.2 476.6L354.9 465.3L349.4 460.2L343.7 471.4Z" fill="#00e2ff"/>
<path d="M388.9 431.6L394.6 421L389 416.1L383.3 426.7Z" fill="#00ffb1"/>
<path d="M570.7 284L576.2 276L570.2 271.9L564.7 279.9Z" fill="#a1ff00"/>
<path d="M525.2 313.5L530.8 304.8L525 300.6L519.4 309.1Z" fill="#61ff00"/>
<path d="M406 415.4L411.7 405L406 400.2L400.3 410.5Z" fill="#00ff8a"/>
<path d="M508.2 326.8L513.8 317.9L508 313.5L502.4 322.4Z" fill="#44ff00"/>
<path d="M366.2 459.3L371.9 448.3L366.4 443.2L360.6 454.2Z" fill="#00fff2"/>
<path d="M553.7 296.4L559.2 288L553.3 283.9L547.8 292.2Z" fill="#87ff00"/>
<path d="M423 399.6L428.7 389.5L423 384.7L417.3 394.8Z" fill="#00ff64"/>
<path d="M491.2 340.5L496.8 331.4L491 326.9L485.4 336Z" fill="#26ff00"/>
<path d="M440 384.2L445.7 374.3L440 369.6L434.4 379.5Z" fill="#00ff3f"/>
<path d="M474.1 354.7L479.8 345.3L474 340.8L468.4 350.1Z" fill="#07ff00"/>
<path d="M457.1 369.2L462.7 359.6L457 355L451.4 364.6Z" fill="#00ff1b"/>
<path d="M582.1 280L587.6 272.1L581.7 268.1L576.2 276Z" fill="#acff00"/>
<path d="M383.2 442.4L388.9 431.6L383.3 426.7L377.6 437.4Z" fill="#00ffc9"/>
<path d="M536.7 309.1L542.2 300.6L536.4 296.3L530.8 304.8Z" fill="#6cff00"/>
<path d="M360.5 470.5L366.2 459.3L360.6 454.2L354.9 465.3Z" fill="#00f3ff"/>
<path d="M400.2 426L406 415.4L400.3 410.5L394.6 421Z" fill="#00ffa1"/>
<path d="M519.6 322.3L525.2 313.5L519.4 309.1L513.8 317.9Z" fill="#50ff00"/>
<path d="M565.1 292.2L570.7 284L564.7 279.9L559.2 288Z" fill="#92ff00"/>
<path d="M417.3 409.9L423 399.6L417.3 394.8L411.7 405Z" fill="#00ff7a"/>
<path d="M502.6 335.8L508.2 326.8L502.4 322.4L496.8 331.4Z" fill="#32ff00"/>
<path d="M377.5 453.3L383.2 442.4L377.6 437.4L371.9 448.3Z" fill="#00ffe1"/>
<path d="M434.4 394.3L440 384.2L434.4 379.5L428.7 389.5Z" fill="#00ff55"/>
<path d="M485.5 349.8L491.2 340.5L485.4 336L479.8 345.3Z" fill="#14ff00"/>
<path d="M451.4 379.1L457.1 369.2L451.4 364.6L445.7 374.3Z" fill="#00ff30"/>
<path d="M468.5 364.2L474.1 354.7L468.4 350.1L462.7 359.6Z" fill="#00ff0d"/>
<path d="M548.1 304.8L553.7 296.4L547.8 292.2L542.2 300.6Z" fill="#77ff00"/>
<path d="M354.7 481.8L360.5 470.5L354.9 465.3L349.2 476.6Z" fill="#00dbff"/>
<path d="M394.5 436.6L400.2 426L394.6 421L388.9 431.6Z" fill="#00ffb8"/>
<path d="M576.6 288.1L582.1 280L576.2 276L570.7 284Z" fill="#9cff00"/>
<path d="M531.1 317.8L536.7 309.1L530.8 304.8L525.2 313.5Z" fill="#5bff00"/>
<path d="M411.6 420.4L417.3 409.9L411.7 405L406 415.4Z" fill="#00ff91"/>
<path d="M371.7 464.4L377.5 453.3L371.9 448.3L366.2 459.3Z" fill="#00fffa"/>
<path d="M514 331.2L519.6 322.3L513.8 317.9L508.2 326.8Z" fill="#3eff00"/>
<path d="M428.7 404.5L434.4 394.3L428.7 389.5L423 399.6Z" fill="#00ff6b"/>
<path d="M559.6 300.6L565.1 292.2L559.2 288L553.7 296.4Z" fill="#82ff00"/>
<path d="M497 345.1L502.6 335.8L496.8 331.4L491.2 340.5Z" fill="#20ff00"/>
<path d="M445.7 389L451.4 379.1L445.7 374.3L440 384.2Z" fill="#00ff46"/>
<path d="M479.9 359.3L485.5 349.8L479.8 345.3L474.1 354.7Z" fill="#01ff00"/>
<path d="M462.8 373.9L468.5 364.2L462.7 359.6L457.1 369.2Z" fill="#00ff22"/>
<path d="M388.8 447.5L394.5 436.6L388.9 431.6L383.2 442.4Z" fill="#00ffd0"/>
<path d="M542.5 313.4L548.1 304.8L542.2 300.6L536.7 309.1Z" fill="#66ff00"/>
<path d="M366 475.6L371.7 464.4L366.2 459.3L360.5 470.5Z" fill="#00ecff"/>
<path d="M405.9 431L411.6 420.4L406 415.4L400.2 426Z" fill="#00ffa8"/>
<path d="M525.5 326.7L531.1 317.8L525.2 313.5L519.6 322.3Z" fill="#4aff00"/>
<path d="M571.1 296.4L576.6 288.1L570.7 284L565.1 292.2Z" fill="#8dff00"/>
<path d="M423 414.8L428.7 404.5L423 399.6L417.3 409.9Z" fill="#00ff81"/>
<path d="M508.4 340.4L514 331.2L508.2 326.8L502.6 335.8Z" fill="#2cff00"/>
<path d="M383.1 458.5L388.8 447.5L383.2 442.4L377.5 453.3Z" fill="#00ffe9"/>
<path d="M440 399.1L445.7 389L440 384.2L434.4 394.3Z" fill="#00ff5b"/>
<path d="M491.3 354.4L497 345.1L491.2 340.5L485.5 349.8Z" fill="#0eff00"/>
<path d="M457.1 383.8L462.8 373.9L457.1 369.2L451.4 379.1Z" fill="#00ff37"/>
<path d="M360.3 487L366 475.6L360.5 470.5L354.7 481.8Z" fill="#00d4ff"/>
<path d="M474.2 368.9L479.9 359.3L474.1 354.7L468.5 364.2Z" fill="#00ff13"/>
<path d="M554 309.1L559.6 300.6L553.7 296.4L548.1 304.8Z" fill="#72ff00"/>
<path d="M400.2 441.7L405.9 431L400.2 426L394.5 436.6Z" fill="#00ffc0"/>
<path d="M537 322.2L542.5 313.4L536.7 309.1L531.1 317.8Z" fill="#56ff00"/>
<path d="M377.3 469.6L383.1 458.5L377.5 453.3L371.7 464.4Z" fill="#00fdff"/>
<path d="M417.2 425.3L423 414.8L417.3 409.9L411.6 420.4Z" fill="#00ff98"/>
<path d="M519.9 335.7L525.5 326.7L519.6 322.3L514 331.2Z" fill="#39ff00"/>
<path d="M434.3 409.4L440 399.1L434.4 394.3L428.7 404.5Z" fill="#00ff72"/>
<path d="M502.8 349.6L508.4 340.4L502.6 335.8L497 345.1Z" fill="#1aff00"/>
<path d="M565.5 304.9L571.1 296.4L565.1 292.2L559.6 300.6Z" fill="#7dff00"/>
<path d="M451.5 393.8L457.1 383.8L451.4 379.1L445.7 389Z" fill="#00ff4c"/>
<path d="M485.7 364L491.3 354.4L485.5 349.8L479.9 359.3Z" fill="#00ff05"/>
<path d="M394.4 452.6L400.2 441.7L394.5 436.6L388.8 447.5Z" fill="#00ffd8"/>
<path d="M468.6 378.7L474.2 368.9L468.5 364.2L462.8 373.9Z" fill="#00ff28"/>
<path d="M371.6 480.9L377.3 469.6L371.7 464.4L366 475.6Z" fill="#00e5ff"/>
<path d="M548.4 317.8L554 309.1L548.1 304.8L542.5 313.4Z" fill="#61ff00"/>
<path d="M411.5 436L417.2 425.3L411.6 420.4L405.9 431Z" fill="#00ffaf"/>
<path d="M531.4 331.1L537 322.2L531.1 317.8L525.5 326.7Z" fill="#44ff00"/>
<path d="M428.6 419.8L434.3 409.4L428.7 404.5L423 414.8Z" fill="#00ff88"/>
<path d="M388.7 463.6L394.4 452.6L388.8 447.5L383.1 458.5Z" fill="#00fff0"/>
<path d="M514.3 344.9L519.9 335.7L514 331.2L508.4 340.4Z" fill="#27ff00"/>
<path d="M445.8 404L451.5 393.8L445.7 389L440 399.1Z" fill="#00ff62"/>
<path d="M365.8 492.3L371.6 480.9L366 475.6L360.3 487Z" fill="#00cdff"/>
<path d="M497.1 359.1L502.8 349.6L497 345.1L491.3 354.4Z" fill="#08ff00"/>
<path d="M462.9 388.6L468.6 378.7L462.8 373.9L457.1 383.8Z" fill="#00ff3d"/>
<path d="M480 373.6L485.7 364L479.9 359.3L474.2 368.9Z" fill="#00ff1a"/>
<path d="M560 313.4L565.5 304.9L559.6 300.6L554 309.1Z" fill="#6cff00"/>
<path d="M405.8 446.8L411.5 436L405.9 431L400.2 441.7Z" fill="#00ffc7"/>
<path d="M382.9 474.8L388.7 463.6L383.1 458.5L377.3 469.6Z" fill="#00f6ff"/>
<path d="M542.9 326.6L548.4 317.8L542.5 313.4L537 322.2Z" fill="#50ff00"/>
<path d="M422.9 430.3L428.6 419.8L423 414.8L417.2 425.3Z" fill="#00ff9f"/>
<path d="M525.7 340.2L531.4 331.1L525.5 326.7L519.9 335.7Z" fill="#33ff00"/>
<path d="M440.1 414.3L445.8 404L440 399.1L434.3 409.4Z" fill="#00ff79"/>
<path d="M508.6 354.2L514.3 344.9L508.4 340.4L502.8 349.6Z" fill="#14ff00"/>
<path d="M457.2 398.7L462.9 388.6L457.1 383.8L451.5 393.8Z" fill="#00ff53"/>
<path d="M400.1 457.7L405.8 446.8L400.2 441.7L394.4 452.6Z" fill="#00ffdf"/>
<path d="M491.5 368.6L497.1 359.1L491.3 354.4L485.7 364Z" fill="#00ff0c"/>
<path d="M474.3 383.5L480 373.6L474.2 368.9L468.6 378.7Z" fill="#00ff2f"/>
<path d="M377.2 486.1L382.9 474.8L377.3 469.6L371.6 480.9Z" fill="#00deff"/>
<path d="M417.2 441L422.9 430.3L417.2 425.3L411.5 436Z" fill="#00ffb6"/>
<path d="M554.4 322.2L560 313.4L554 309.1L548.4 317.8Z" fill="#5cff00"/>
<path d="M434.3 424.8L440.1 414.3L434.3 409.4L428.6 419.8Z" fill="#00ff8f"/>
<path d="M537.3 335.6L542.9 326.6L537 322.2L531.4 331.1Z" fill="#3fff00"/>
<path d="M394.3 468.8L400.1 457.7L394.4 452.6L388.7 463.6Z" fill="#00fff7"/>
<path d="M451.5 408.9L457.2 398.7L451.5 393.8L445.8 404Z" fill="#00ff69"/>
<path d="M371.4 497.6L377.2 486.1L371.6 480.9L365.8 492.3Z" fill="#00c5ff"/>
<path d="M520.1 349.5L525.7 340.2L519.9 335.7L514.3 344.9Z" fill="#21ff00"/>
<path d="M468.7 393.4L474.3 383.5L468.6 378.7L462.9 388.6Z" fill="#00ff44"/>
<path d="M503 363.7L508.6 354.2L502.8 349.6L497.1 359.1Z" fill="#02ff00"/>
<path d="M485.8 378.4L491.5 368.6L485.7 364L480 373.6Z" fill="#00ff20"/>
<path d="M411.5 451.9L417.2 441L411.5 436L405.8 446.8Z" fill="#00ffce"/>
<path d="M388.6 480L394.3 468.8L388.7 463.6L382.9 474.8Z" fill="#00efff"/>
<path d="M428.6 435.4L434.3 424.8L428.6 419.8L422.9 430.3Z" fill="#00ffa6"/>
<path d="M548.8 331.1L554.4 322.2L548.4 317.8L542.9 326.6Z" fill="#4bff00"/>
<path d="M445.8 419.3L451.5 408.9L445.8 404L440.1 414.3Z" fill="#00ff80"/>
<path d="M531.6 344.8L537.3 335.6L531.4 331.1L525.7 340.2Z" fill="#2dff00"/>
<path d="M405.7 462.9L411.5 451.9L405.8 446.8L400.1 457.7Z" fill="#00ffe6"/>
<path d="M463 403.6L468.7 393.4L462.9 388.6L457.2 398.7Z" fill="#00ff5a"/>
<path d="M514.5 358.9L520.1 349.5L514.3 344.9L508.6 354.2Z" fill="#0fff00"/>
<path d="M480.1 388.3L485.8 378.4L480 373.6L474.3 383.5Z" fill="#00ff36"/>
<path d="M497.3 373.4L503 363.7L497.1 359.1L491.5 368.6Z" fill="#00ff12"/>
<path d="M382.8 491.4L388.6 480L382.9 474.8L377.2 486.1Z" fill="#00d6ff"/>
<path d="M422.9 446.1L428.6 435.4L422.9 430.3L417.2 441Z" fill="#00ffbe"/>
<path d="M440.1 429.8L445.8 419.3L440.1 414.3L434.3 424.8Z" fill="#00ff96"/>
<path d="M400 474L405.7 462.9L400.1 457.7L394.3 468.8Z" fill="#00ffff"/>
<path d="M543.2 340.1L548.8 331.1L542.9 326.6L537.3 335.6Z" fill="#39ff00"/>
<path d="M377.1 502.9L382.8 491.4L377.2 486.1L371.4 497.6Z" fill="#00beff"/>
<path d="M457.3 413.8L463 403.6L457.2 398.7L451.5 408.9Z" fill="#00ff70"/>
<path d="M526 354.1L531.6 344.8L525.7 340.2L520.1 349.5Z" fill="#1bff00"/>
<path d="M474.4 398.3L480.1 388.3L474.3 383.5L468.7 393.4Z" fill="#00ff4b"/>
<path d="M508.8 368.4L514.5 358.9L508.6 354.2L503 363.7Z" fill="#00ff04"/>
<path d="M491.6 383.2L497.3 373.4L491.5 368.6L485.8 378.4Z" fill="#00ff27"/>
<path d="M417.1 457L422.9 446.1L417.2 441L411.5 451.9Z" fill="#00ffd6"/>
<path d="M394.2 485.3L400 474L394.3 468.8L388.6 480Z" fill="#00e7ff"/>
<path d="M434.3 440.5L440.1 429.8L434.3 424.8L428.6 435.4Z" fill="#00ffad"/>
<path d="M451.5 424.3L457.3 413.8L451.5 408.9L445.8 419.3Z" fill="#00ff87"/>
<path d="M537.5 349.3L543.2 340.1L537.3 335.6L531.6 344.8Z" fill="#27ff00"/>
<path d="M411.4 468.1L417.1 457L411.5 451.9L405.7 462.9Z" fill="#00ffee"/>
<path d="M468.7 408.5L474.4 398.3L468.7 393.4L463 403.6Z" fill="#00ff61"/>
<path d="M520.4 363.5L526 354.1L520.1 349.5L514.5 358.9Z" fill="#09ff00"/>
<path d="M485.9 393.1L491.6 383.2L485.8 378.4L480.1 388.3Z" fill="#00ff3c"/>
<path d="M503.2 378.1L508.8 368.4L503 363.7L497.3 373.4Z" fill="#00ff19"/>
<path d="M388.5 496.7L394.2 485.3L388.6 480L382.8 491.4Z" fill="#00cfff"/>
<path d="M428.6 451.3L434.3 440.5L428.6 435.4L422.9 446.1Z" fill="#00ffc5"/>
<path d="M445.8 434.8L451.5 424.3L445.8 419.3L440.1 429.8Z" fill="#00ff9d"/>
<path d="M405.6 479.3L411.4 468.1L405.7 462.9L400 474Z" fill="#00f8ff"/>
<path d="M382.7 508.3L388.5 496.7L382.8 491.4L377.1 502.9Z" fill="#00b7ff"/>
<path d="M463 418.8L468.7 408.5L463 403.6L457.3 413.8Z" fill="#00ff77"/>
<path d="M531.9 358.7L537.5 349.3L531.6 344.8L526 354.1Z" fill="#15ff00"/>
<path d="M480.2 403.2L485.9 393.1L480.1 388.3L474.4 398.3Z" fill="#00ff52"/>
<path d="M514.7 373.1L520.4 363.5L514.5 358.9L508.8 368.4Z" fill="#00ff0b"/>
<path d="M497.5 388L503.2 378.1L497.3 373.4L491.6 383.2Z" fill="#00ff2e"/>
<path d="M422.9 462.2L428.6 451.3L422.9 446.1L417.1 457Z" fill="#00ffdd"/>
<path d="M399.9 490.6L405.6 479.3L400 474L394.2 485.3Z" fill="#00e0ff"/>
<path d="M440.1 445.6L445.8 434.8L440.1 429.8L434.3 440.5Z" fill="#00ffb5"/>
<path d="M457.3 429.3L463 418.8L457.3 413.8L451.5 424.3Z" fill="#00ff8e"/>
<path d="M417.1 473.3L422.9 462.2L417.1 457L411.4 468.1Z" fill="#00fff5"/>
<path d="M474.5 413.4L480.2 403.2L474.4 398.3L468.7 408.5Z" fill="#00ff68"/>
<path d="M394.1 502.1L399.9 490.6L394.2 485.3L388.5 496.7Z" fill="#00c8ff"/>
<path d="M526.2 368.2L531.9 358.7L526 354.1L520.4 363.5Z" fill="#03ff00"/>
<path d="M491.8 398L497.5 388L491.6 383.2L485.9 393.1Z" fill="#00ff43"/>
<path d="M509 382.9L514.7 373.1L508.8 368.4L503.2 378.1Z" fill="#00ff20"/>
<path d="M434.3 456.4L440.1 445.6L434.3 440.5L428.6 451.3Z" fill="#00ffcc"/>
<path d="M411.3 484.6L417.1 473.3L411.4 468.1L405.6 479.3Z" fill="#00f1ff"/>
<path d="M451.6 439.9L457.3 429.3L451.5 424.3L445.8 434.8Z" fill="#00ffa5"/>
<path d="M388.3 513.8L394.1 502.1L388.5 496.7L382.7 508.3Z" fill="#00afff"/>
<path d="M468.8 423.8L474.5 413.4L468.7 408.5L463 418.8Z" fill="#00ff7e"/>
<path d="M486.1 408.1L491.8 398L485.9 393.1L480.2 403.2Z" fill="#00ff59"/>
<path d="M428.6 467.5L434.3 456.4L428.6 451.3L422.9 462.2Z" fill="#00ffe4"/>
<path d="M520.6 377.9L526.2 368.2L520.4 363.5L514.7 373.1Z" fill="#00ff11"/>
<path d="M503.3 392.8L509 382.9L503.2 378.1L497.5 388Z" fill="#00ff35"/>
<path d="M405.6 496L411.3 484.6L405.6 479.3L399.9 490.6Z" fill="#00d9ff"/>
<path d="M445.8 450.7L451.6 439.9L445.8 434.8L440.1 445.6Z" fill="#00ffbc"/>
<path d="M463.1 434.4L468.8 423.8L463 418.8L457.3 429.3Z" fill="#00ff95"/>
<path d="M422.8 478.6L428.6 467.5L422.9 462.2L417.1 473.3Z" fill="#00fffd"/>
<path d="M480.4 418.4L486.1 408.1L480.2 403.2L474.5 413.4Z" fill="#00ff6f"/>
<path d="M399.8 507.5L405.6 496L399.9 490.6L394.1 502.1Z" fill="#00c0ff"/>
<path d="M497.6 402.9L503.3 392.8L497.5 388L491.8 398Z" fill="#00ff4a"/>
<path d="M514.9 387.7L520.6 377.9L514.7 373.1L509 382.9Z" fill="#00ff26"/>
<path d="M440.1 461.7L445.8 450.7L440.1 445.6L434.3 456.4Z" fill="#00ffd4"/>
<path d="M417 489.9L422.8 478.6L417.1 473.3L411.3 484.6Z" fill="#00e9ff"/>
<path d="M457.4 445.1L463.1 434.4L457.3 429.3L451.6 439.9Z" fill="#00ffac"/>
<path d="M394 519.2L399.8 507.5L394.1 502.1L388.3 513.8Z" fill="#00a8ff"/>
<path d="M474.6 428.9L480.4 418.4L474.5 413.4L468.8 423.8Z" fill="#00ff85"/>
<path d="M434.3 472.7L440.1 461.7L434.3 456.4L428.6 467.5Z" fill="#00ffec"/>
<path d="M491.9 413.1L497.6 402.9L491.8 398L486.1 408.1Z" fill="#00ff60"/>
<path d="M509.2 397.7L514.9 387.7L509 382.9L503.3 392.8Z" fill="#00ff3b"/>
<path d="M411.3 501.4L417 489.9L411.3 484.6L405.6 496Z" fill="#00d1ff"/>
<path d="M451.6 455.9L457.4 445.1L451.6 439.9L445.8 450.7Z" fill="#00ffc3"/>
<path d="M468.9 439.5L474.6 428.9L468.8 423.8L463.1 434.4Z" fill="#00ff9c"/>
<path d="M428.6 483.9L434.3 472.7L428.6 467.5L422.8 478.6Z" fill="#00faff"/>
<path d="M405.5 513L411.3 501.4L405.6 496L399.8 507.5Z" fill="#00b9ff"/>
<path d="M486.2 423.5L491.9 413.1L486.1 408.1L480.4 418.4Z" fill="#00ff76"/>
<path d="M503.5 407.8L509.2 397.7L503.3 392.8L497.6 402.9Z" fill="#00ff51"/>
<path d="M445.9 466.9L451.6 455.9L445.8 450.7L440.1 461.7Z" fill="#00ffdb"/>
<path d="M422.8 495.3L428.6 483.9L422.8 478.6L417 489.9Z" fill="#00e2ff"/>
<path d="M463.2 450.2L468.9 439.5L463.1 434.4L457.4 445.1Z" fill="#00ffb3"/>
<path d="M399.7 524.7L405.5 513L399.8 507.5L394 519.2Z" fill="#00a0ff"/>
<path d="M480.5 434L486.2 423.5L480.4 418.4L474.6 428.9Z" fill="#00ff8c"/>
<path d="M440.1 478L445.9 466.9L440.1 461.7L434.3 472.7Z" fill="#00fff4"/>
<path d="M497.8 418.1L503.5 407.8L497.6 402.9L491.9 413.1Z" fill="#00ff67"/>
<path d="M417 506.8L422.8 495.3L417 489.9L411.3 501.4Z" fill="#00caff"/>
<path d="M457.4 461.1L463.2 450.2L457.4 445.1L451.6 455.9Z" fill="#00ffcb"/>
<path d="M474.7 444.6L480.5 434L474.6 428.9L468.9 439.5Z" fill="#00ffa3"/>
<path d="M434.3 489.3L440.1 478L434.3 472.7L428.6 483.9Z" fill="#00f2ff"/>
<path d="M411.2 518.5L417 506.8L411.3 501.4L405.5 513Z" fill="#00b1ff"/>
<path d="M492.1 428.5L497.8 418.1L491.9 413.1L486.2 423.5Z" fill="#00ff7d"/>
<path d="M451.6 472.2L457.4 461.1L451.6 455.9L445.9 466.9Z" fill="#00ffe3"/>
<path d="M428.5 500.7L434.3 489.3L428.6 483.9L422.8 495.3Z" fill="#00dbff"/>
<path d="M405.4 530.3L411.2 518.5L405.5 513L399.7 524.7Z" fill="#0098ff"/>
<path d="M469 455.4L474.7 444.6L468.9 439.5L463.2 450.2Z" fill="#00ffbb"/>
<path d="M486.3 439.1L492.1 428.5L486.2 423.5L480.5 434Z" fill="#00ff94"/>
<path d="M445.9 483.4L451.6 472.2L445.9 466.9L440.1 478Z" fill="#00fffb"/>
<path d="M422.7 512.3L428.5 500.7L422.8 495.3L417 506.8Z" fill="#00c2ff"/>
<path d="M463.2 466.4L469 455.4L463.2 450.2L457.4 461.1Z" fill="#00ffd2"/>
<path d="M440.1 494.7L445.9 483.4L440.1 478L434.3 489.3Z" fill="#00ebff"/>
<path d="M480.6 449.8L486.3 439.1L480.5 434L474.7 444.6Z" fill="#00ffab"/>
<path d="M416.9 524L422.7 512.3L417 506.8L411.2 518.5Z" fill="#00aaff"/>
<path d="M457.5 477.5L463.2 466.4L457.4 461.1L451.6 472.2Z" fill="#00ffea"/>
<path d="M434.3 506.2L440.1 494.7L434.3 489.3L428.5 500.7Z" fill="#00d3ff"/>
<path d="M411.1 535.8L416.9 524L411.2 518.5L405.4 530.3Z" fill="#0091ff"/>
<path d="M474.8 460.7L480.6 449.8L474.7 444.6L469 455.4Z" fill="#00ffc2"/>
<path d="M451.7 488.7L457.5 477.5L451.6 472.2L445.9 483.4Z" fill="#00fbff"/>
<path d="M428.5 517.8L434.3 506.2L428.5 500.7L422.7 512.3Z" fill="#00bbff"/>
<path d="M469.1 471.7L474.8 460.7L469 455.4L463.2 466.4Z" fill="#00ffda"/>
<path d="M445.9 500.1L451.7 488.7L445.9 483.4L440.1 494.7Z" fill="#00e4ff"/>
<path d="M422.7 529.5L428.5 517.8L422.7 512.3L416.9 524Z" fill="#00a2ff"/>
<path d="M463.3 482.8L469.1 471.7L463.2 466.4L457.5 477.5Z" fill="#00fff2"/>
<path d="M440.1 511.7L445.9 500.1L440.1 494.7L434.3 506.2Z" fill="#00ccff"/>
<path d="M416.9 541.4L422.7 529.5L416.9 524L411.1 535.8Z" fill="#0089ff"/>
<path d="M457.5 494.1L463.3 482.8L457.5 477.5L451.7 488.7Z" fill="#00f4ff"/>
<path d="M434.3 523.3L440.1 511.7L434.3 506.2L428.5 517.8Z" fill="#00b3ff"/>
<path d="M451.7 505.6L457.5 494.1L451.7 488.7L445.9 500.1Z" fill="#00dcff"/>
<path d="M428.5 535.1L434.3 523.3L428.5 517.8L422.7 529.5Z" fill="#009aff"/>
<path d="M445.9 517.2L451.7 505.6L445.9 500.1L440.1 511.7Z" fill="#00c4ff"/>
<path d="M422.7 547.1L428.5 535.1L422.7 529.5L416.9 541.4Z" fill="#0081ff"/>
<path d="M440.1 528.9L445.9 517.2L440.1 511.7L434.3 523.3Z" fill="#00abff"/>
<path d="M434.3 540.8L440.1 528.9L434.3 523.3L428.5 535.1Z" fill="#0093ff"/>
<path d="M428.5 552.8L434.3 540.8L428.5 535.1L422.7 547.1Z" fill="#0079ff"/>
</g>
<circle cx="104.4" cy="89.7" r="2.0" fill="#000"/>
<circle cx="108.9" cy="167.6" r="2.0" fill="#000"/>
<circle cx="112.7" cy="246.1" r="2.0" fill="#000"/>
<circle cx="117.7" cy="324" r="2.0" fill="#000"/>
<circle cx="121.3" cy="402.5" r="2.0" fill="#000"/>
<circle cx="127.6" cy="500.3" r="2.0" fill="#000"/>
<circle cx="202.8" cy="540.5" r="2.0" fill="#000"/>
<circle cx="278" cy="580.7" r="2.0" fill="#000"/>
<circle cx="353.2" cy="620.9" r="2.0" fill="#000"/>
<circle cx="428.4" cy="661.1" r="2.0" fill="#000"/>
<circle cx="503.6" cy="620.9" r="2.0" fill="#000"/>
<circle cx="578.9" cy="580.7" r="2.0" fill="#000"/>
<circle cx="654.2" cy="540.5" r="2.0" fill="#000"/>
<circle cx="729.5" cy="500.2" r="2.0" fill="#000"/>
<circle cx="115.5" cy="291.5" r="5.6" fill="#0000ff" stroke="#000" stroke-width="0.9"/>
<line x1="115.2" y1="284" x2="115.6" y2="291.5" stroke="#000" stroke-width="1.2"/>
<circle cx="752.3" cy="91" r="5.6" fill="#0000ff" stroke="#000" stroke-width="0.9"/>
<line x1="752.3" y1="91" x2="751.8" y2="98" stroke="#000" stroke-width="1.2"/>
<circle cx="428.2" cy="144.2" r="5.6" fill="#0000ff" stroke="#000" stroke-width="0.9"/>
<line x1="428.8" y1="145" x2="428.8" y2="148.5" stroke="#000060" stroke-width="1.6"/>
<circle cx="428.4" cy="551.6" r="5.6" fill="#0000ff" stroke="#000" stroke-width="0.9"/>
<circle cx="429.4" cy="553.4" r="0.9" fill="#000050"/>
</g>
<text transform="translate(75.8 109.4) scale(0.82 1)" font-size="21" letter-spacing="0.8" text-anchor="end" stroke="#000" stroke-width="0.35" font-family="Liberation Sans, Arial, sans-serif" fill="#000">93</text>
<text transform="translate(79.5 187.3) scale(0.82 1)" font-size="21" letter-spacing="0.8" text-anchor="end" stroke="#000" stroke-width="0.35" font-family="Liberation Sans, Arial, sans-serif" fill="#000">84</text>
<text transform="translate(82.6 265.8) scale(0.82 1)" font-size="21" letter-spacing="0.8" text-anchor="end" stroke="#000" stroke-width="0.35" font-family="Liberation Sans, Arial, sans-serif" fill="#000">75</text>
<text transform="translate(86.7 343.7) scale(0.82 1)" font-size="21" letter-spacing="0.8" text-anchor="end" stroke="#000" stroke-width="0.35" font-family="Liberation Sans, Arial, sans-serif" fill="#000">66</text>
<text transform="translate(89.7 422.2) scale(0.82 1)" font-size="21" letter-spacing="0.8" text-anchor="end" stroke="#000" stroke-width="0.35" font-family="Liberation Sans, Arial, sans-serif" fill="#000">57</text>
<text transform="translate(93.5 519.7) scale(0.82 1)" font-size="21" letter-spacing="0.8" text-anchor="end" stroke="#000" stroke-width="0.35" font-family="Liberation Sans, Arial, sans-serif" fill="#000">35.00</text>
<text transform="translate(155.2 559.9) scale(0.82 1)" font-size="21" letter-spacing="0.8" text-anchor="end" stroke="#000" stroke-width="0.35" font-family="Liberation Sans, Arial, sans-serif" fill="#000">27.50</text>
<text transform="translate(216.8 600.1) scale(0.82 1)" font-size="21" letter-spacing="0.8" text-anchor="end" stroke="#000" stroke-width="0.35" font-family="Liberation Sans, Arial, sans-serif" fill="#000">20.00</text>
<text transform="translate(278.5 640.3) scale(0.82 1)" font-size="21" letter-spacing="0.8" text-anchor="end" stroke="#000" stroke-width="0.35" font-family="Liberation Sans, Arial, sans-serif" fill="#000">12.50</text>
<text transform="translate(340.2 680.5) scale(0.82 1)" font-size="21" letter-spacing="0.8" text-anchor="end" stroke="#000" stroke-width="0.35" font-family="Liberation Sans, Arial, sans-serif" fill="#000">5.00</text>
<text transform="translate(363.6 681.4) scale(0.82 1)" font-size="21" letter-spacing="0.8" text-anchor="start" stroke="#000" stroke-width="0.35" font-family="Liberation Sans, Arial, sans-serif" fill="#000">1.00</text>
<text transform="translate(425.3 641.2) scale(0.82 1)" font-size="21" letter-spacing="0.8" text-anchor="start" stroke="#000" stroke-width="0.35" font-family="Liberation Sans, Arial, sans-serif" fill="#000">2.00</text>
<text transform="translate(487 601) scale(0.82 1)" font-size="21" letter-spacing="0.8" text-anchor="start" stroke="#000" stroke-width="0.35" font-family="Liberation Sans, Arial, sans-serif" fill="#000">3.00</text>
<text transform="translate(548.7 560.8) scale(0.82 1)" font-size="21" letter-spacing="0.8" text-anchor="start" stroke="#000" stroke-width="0.35" font-family="Liberation Sans, Arial, sans-serif" fill="#000">4.00</text>
<text transform="translate(610.5 520.5) scale(0.82 1)" font-size="21" letter-spacing="0.8" text-anchor="start" stroke="#000" stroke-width="0.35" font-family="Liberation Sans, Arial, sans-serif" fill="#000">5.00</text>
<text transform="translate(454 675.4) scale(0.82 1)" font-size="31.4" stroke="#000" stroke-width="0.5" font-family="Liberation Sans, Arial, sans-serif" fill="#000">B: Height of Packing</text>
<text transform="translate(87.6 675.6) scale(0.862 1)" font-size="31.4" stroke="#000" stroke-width="0.5" font-family="Liberation Sans, Arial, sans-serif" fill="#000">C: Time</text>
<text transform="translate(20.2 464) rotate(-90) scale(1 0.83)" font-size="32.5" xml:space="preserve" stroke="#000" stroke-width="0.5" font-family="Liberation Sans, Arial, sans-serif" fill="#000">Turbidity-Removal  (%)</text>
</svg>
</body></html>
